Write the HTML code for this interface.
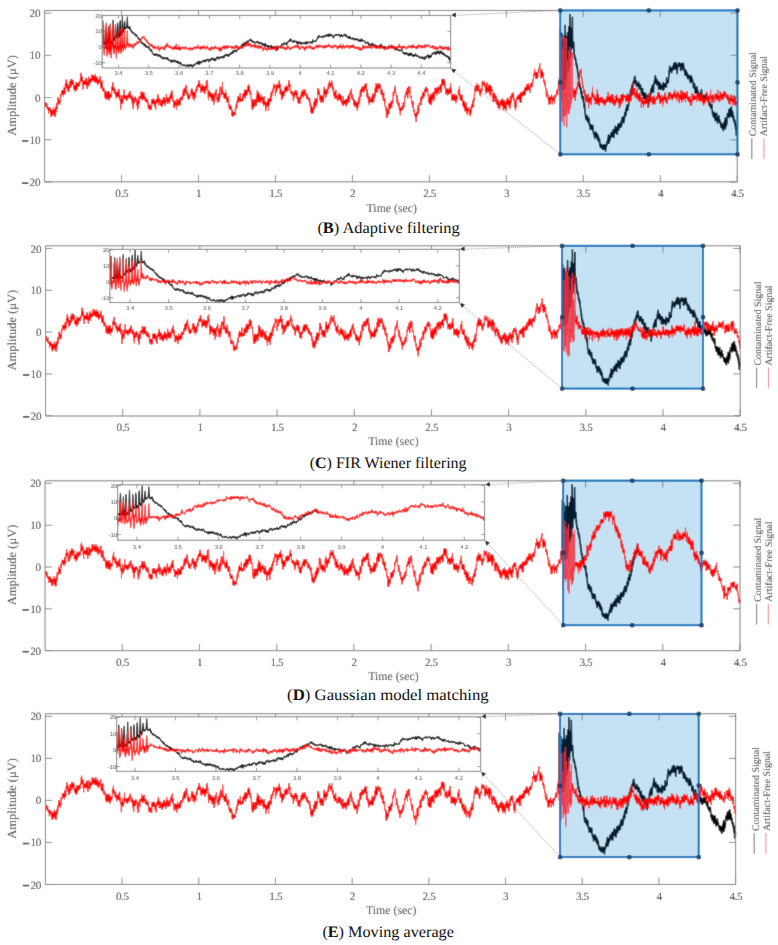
<!DOCTYPE html>
<html><head><meta charset="utf-8"><style>
html,body{margin:0;padding:0;background:#fff;overflow:hidden}
svg{display:block}
.r{fill:none;stroke:#ff0000;stroke-width:1.0;stroke-linejoin:round}
.rs{fill:none;stroke:#f2303f;stroke-width:0.8;stroke-linejoin:round}
.k{fill:none;stroke:#000;stroke-width:1.6;stroke-linejoin:round}
.ri{fill:none;stroke:#ff0000;stroke-width:1.15;stroke-linejoin:round}
.ki{fill:none;stroke:#000;stroke-width:1.15;stroke-linejoin:round}
.ov{fill:rgb(0,130,205);fill-opacity:0.23}
.ax{fill:none;stroke:#7a7a7a;stroke-width:1}
.tk{fill:none;stroke:#7a7a7a;stroke-width:0.9}
.bx{fill:none;stroke:#0072BD;stroke-width:2}
.mk{fill:#0a5290;stroke:#0b2236;stroke-width:0.8}
.iax{fill:none;stroke:#6a6a6a;stroke-width:0.9}
.itk{fill:none;stroke:#6a6a6a;stroke-width:0.7}
.dt{fill:none;stroke:#777;stroke-width:0.8;stroke-dasharray:1 1}
text{font-family:"Liberation Serif",serif;fill:#4a4a4a;text-rendering:geometricPrecision}
.yl{font-size:11.2px;text-anchor:end;fill:#262626;letter-spacing:-0.3px}
.xl{font-size:11.2px;text-anchor:middle;fill:#262626;letter-spacing:-0.4px}
.tl{font-size:12px;text-anchor:middle;fill:#3a3a3a}
.yt{font-size:12.5px;text-anchor:middle;fill:#333}
.cp{font-size:16px;fill:#111}
.lg{font-size:10px;fill:#1e1e1e}
.il,.ixl{font-family:"Liberation Sans",sans-serif;font-size:5.9px;fill:#383838;text-rendering:geometricPrecision}
.il{text-anchor:end}
.ixl{text-anchor:middle}
</style></head><body><svg width="778" height="945" viewBox="0 0 778 945"><defs><filter id="soft" x="0" y="0" width="778" height="945" filterUnits="userSpaceOnUse"><feConvolveMatrix order="3" kernelMatrix="1 2 1 2 24 2 1 2 1" divisor="36" edgeMode="duplicate"/></filter></defs><g filter="url(#soft)"><rect width="778" height="945" fill="#fff"/><g id="pB">
<path d="M559.9 91.0l.2-19.3 .1-41.8 .2 34.6 .1 23.4 .2 1.5 .1-2.2 .2-.2 .1-1.3 .2 5.6 .1-2.1 .2-39.9 .2-16 .1 44.9 .2 10.9 .1-.2 .2-2.5 .1 .4 .2-13.6 .1-30.9 .2 27.2 .1 11.5 .2 9 .1-3.9 .2-8 .2-42 .1 17.7 .2 33.1 .1-4.9 .2 6.9 .1-2.9 .2 .6 .1-1 .2-30.8 .1-29.5 .2 39.4 .1 15.1 .2-1.7 .2 1.6 .1-3.9 .2-.2 .1-12.6 .2-26.4 .1 19.6 .2 16.8 .1-1.2 .2 .4 .1-5 .2-.4 .2-34.1 .1 7.3 .2 27.7 .1 4.5 .2-7.4 .1 2.7 .2 2.3 .1-3.4 .2-34.9 .1-4.8 .2 35.9 .1 1.2 .2-3.8 .2 5.9 .1-4.8 .2-17.9 .1-28.7 .2 33.4 .1 6.6 .2 3.7 .1-1.5 .2-5.3 .1-14.7 .2-8.3 .1 13.7 .2 6.7 .2 .2 .1-3.1 .2-1.2 .1 .4 .2 .1 .1-7.3 .2-20.7 .1 16.7 .2 11.4 .1 2.1 .2-2.3 .1 0 .2 2.2 .2-3.8 .1-1.1 .2 2.2 .1 8.3 .2-4.2 .1 3.5 .2 3.1 .1 1.4 .2 1.7 .1-2.9 .2 .5 .1 3.4 .2 .3 .2 .2 .1-1.3 .2 .3 .1 5.2 .2-1.2 .1 .8 .2 1.7 .1-2.3 .2 .8 .1 4.3 .2-.6 .1-2.4 .2 2.2 .2 1.2 .1 2.9 .2 1.9 .1-.9 .2 1.8 .1 2.9 .2-1.3 .1-.5 .2 6.2 .1-3 .2 .3 .1 4.7 .2 1.6 .2 .6 .1-.3 .2-1.8 .1 4.4 .2 .7 .1-2.8 .2 1.9 .1 .6 .2 1.4 .1-1.9 .2 5.9 .1-5.2 .2 5.2 .2-2.4 .1-.1 .2 6.4 .1-5 .2 3.9 .1-1.6 .2 1.4 .1 2.1 .2-2.3 .1 .4 .2 1.3 .2 1.2 .1 2.5 .2-5 .1 3.2 .2 3.2 .1 3 .2-1.3 .1 .2 .2 3.1 .1-4.5 .2 2.1 .1 2.1 .2 3.7 .2 1.9 .1 1.7 .2-.3 .1 1.9 .2 1.9 .1 .7 .2 .2 .1-3.1 .2 1.4 .1 2.1 .2-1.5 .1-3.2 .2 3.1 .2-.4 .1 1.2 .2-2.8 .1 1.6 .2 3.2 .1 1.1 .2-2.5 .1 .2 .2-1.5 .1 1.2 .2 1.8 .1-.1 .2-3.1 .2 6.2 .1-3.1 .2 4.1 .1-1.8 .2 1.6 .1 1.6 .2-2.4 .1 4.9 .2-1.7 .1-.5 .2 1.9 .1-3.9 .2 .8 .2-.9 .1 3.7 .2-2.8 .1 1.3 .2 .7 .1 1.5 .2-.9 .1-3.1 .2 2.9 .1 1.3 .2 .8 .1-4.9 .2 2.2 .2 2 .1 .6 .2 3.2 .1-1.1 .2 .4 .1-.5 .2 1.9 .1 1 .2-1.8 .1 .8 .2 4.2 .1-4 .2-1.7 .2 4.3 .1-3.1 .2 2.5 .1-3.4 .2 3.1 .1 .7 .2-.5 .1-4.2 .2 3 .1 1.4 .2-2.7 .2 2.2 .1-2.1 .2 3.7 .1 1.6 .2-2.1 .1-1.2 .2 .9 .1-1.7 .2 5.6 .1-.6 .2 .5 .1-3.7 .2 1.6 .2 2.5 .1 .5 .2-1.7 .1 .7 .2-1.7 .1 5.2 .2-2.5 .1 4.6 .2-.7 .1 1.1 .2 0 .1 .9 .2 0 .2-1.9 .1 .3 .2-1.6 .1 3 .2-.6 .1-1.1 .2 1.6 .1 .2 .2 .9 .1 .6 .2-.4 .1-.1 .2-2.8 .2-.2 .1-.2 .2 2.9 .1 1.3 .2-.1 .1 .3 .2-4.8 .1 2.5 .2 .7 .1-3.4 .2 2.8 .1-1.6 .2-.3 .2 3.7 .1-3.8 .2 1.3 .1 1.1 .2 2.2 .1 1.4 .2-5.6 .1 2.2 .2-1.7 .1-.3 .2-1.1 .1-1.1 .2 2.2 .2-.8 .1-3.9 .2 1 .1 .1 .2-1.1 .1 .1 .2-2.2 .1 3.7 .2-1.8 .1-3.9 .2 2.5 .1-4.7 .2 8.3 .2-7.6 .1 4.4 .2 3.3 .1-5.2 .2-1.3 .1-.3 .2-.1 .1 2.6 .2 1.2 .1-1.3 .2-1.8 .2-1.6 .1 .6 .2-1.9 .1 .9 .2 1.2 .1-3.7 .2 .5 .1 4.1 .2-1.9 .1 1.5 .2-.4 .1-4.3 .2 3.1 .2 .5 .1-2.3 .2-2.2 .1 .8 .2 .2 .1-2.6 .2 1.8 .1 1.2 .2-1.1 .1 5.9 .2-3.4 .1-.2 .2-3.1 .2 .4 .1 2 .2-4.1 .1 3.3 .2-6 .1 1.6 .2 1.7 .1 .7 .2-1 .1-.3 .2 1.5 .1-3.1 .2 5.6 .2-2.3 .1-.9 .2 4.1 .1-4 .2 3.1 .1 1.2 .2-4.5 .1-2.2 .2-2.3 .1 3.5 .2-3.7 .1-.6 .2-.7 .2 2.1 .1 1 .2 3.2 .1-3.5 .2-1.4 .1 .4 .2-.1 .1 2.1 .2-3.1 .1-.1 .2 1.7 .1-2.2 .2-1 .2 2.7 .1-3.2 .2 .6 .1 4.4 .2-2.1 .1-1 .2-1.1 .1-2.8 .2 4.9 .1-4.7 .2-2.5 .1 .6 .2-1.4 .2 3 .1-3 .2 3.4 .1-1.7 .2 2.8 .1-4.4 .2 1 .1-.4 .2 4.9 .1-1 .2-3.7 .2 2.5 .1-3.6 .2-1.7 .1-2.2 .2 1 .1 .4 .2 2.3 .1-1.4 .2-1.7 .1-2.6 .2-.8 .1-1.8 .2 6.4 .2-6.7 .1 .8 .2-1.4 .1 2.8 .2-2.6 .1-2.7 .2 4.2 .1-1.8 .2 .2 .1-.5 .2 3.3 .1-4.3 .2-.7 .2 .5 .1 .5 .2-1.2 .1-5.1 .2 .6 .1-2.4 .2 3.2 .1 1.2 .2-3.9 .1 2.4 .2-5.4 .1 2.2 .2-1 .2-1.9 .1-2.9 .2-2 .1 1 .2 3.3 .1-5.2 .2 2.7 .1-3.2 .2 1.5 .1-1.6 .2-3.5 .1 2.8 .2 1.4 .2-.8 .1-.6 .2-3.7 .1 2.9 .2-.8 .1-4.1 .2 2.4 .1 .2 .2-4 .1 1.5 .2 .4 .1 1.2 .2-1 .2-2.4 .1-2.4 .2-1.2 .1 .2 .2 2.4 .1-.8 .2-2.7 .1 5.4 .2-1.5 .1 .5 .2 1.8 .1 .9 .2-2.8 .2 4.8 .1-.2 .2-.8 .1-.6 .2 2.7 .1-2.2 .2 1.1 .1-.3 .2 .3 .1 0 .2 .5 .2-2.7 .1-.4 .2 1.8 .1-2.6 .2 1.9 .1-.6 .2 1.6 .1 3 .2-3.7 .1 4.8 .2-2.1 .1 1.3 .2-2.7 .2 0 .1 .4 .2 2.5 .1-3.3 .2 .2 .1 3.4 .2 1 .1-.3 .2-.7 .1 4.3 .2-3.3 .1-.6 .2 2.7 .2 2.7 .1-5.3 .2 3.1 .1-2.6 .2-1.1 .1 6.9 .2-3.7 .1 1.8 .2-1.1 .1 2.5 .2-.9 .1 4.6 .2-3.5 .2-2.4 .1 4.5 .2-1.5 .1-1.1 .2 .3 .1 1.5 .2-1.2 .1-.5 .2 2.1 .1 3.2 .2-4.8 .1-2 .2 6.3 .2-2.1 .1 .3 .2-.2 .1 1.8 .2-2.9 .1 4.2 .2-.1 .1-1.1 .2 1.1 .1-4.9 .2-.2 .1 0 .2 2.7 .2 .6 .1 4.7 .2-2.1 .1 5.5 .2-1.7 .1-3.1 .2 1.8 .1-3.5 .2 1.9 .1-5.9 .2 1.2 .1 .1 .2-.7 .2-.4 .1-1 .2 .2 .1 1.2 .2-2.9 .1-3.6 .2 .5 .1-.6 .2-1.8 .1 2.3 .2-.4 .1 2.5 .2-2.6 .2-3.6 .1 .7 .2-1 .1-1.1 .2 4.1 .1 .1 .2 .6 .1 .5 .2-2.3 .1 1.6 .2 2.3 .2-8.1 .1 .8 .2-1.3 .1 .7 .2-1.5 .1-1.1 .2-1.4 .1 2.9 .2-5.5 .1 3.7 .2-1.6 .1-4.3 .2 3.9 .2-2.4 .1 4.4 .2-.5 .1 1.3 .2-.1 .1 1.8 .2-.2 .1-2 .2 3.3 .1-1.3 .2-4.1 .1 1.4 .2 1.8 .2 .4 .1-1.4 .2 1.3 .1-.5 .2 1.4 .1-2.3 .2 6.2 .1 1.5 .2-5.5 .1 1.1 .2-1 .1 3.4 .2-5.1 .2 2.9 .1 .1 .2 2.6 .1-1.2 .2 .2 .1-2.8 .2 5.4 .1-.1 .2-2.7 .1 1.3 .2-2.8 .1 3.2 .2-.7 .2 .4 .1-.1 .2-1.9 .1-.8 .2 .2 .1 1.9 .2-1.6 .1 .2 .2 4.3 .1-2.9 .2-4.9 .1 1.1 .2 1.6 .2 1.8 .1 1.7 .2 .5 .1-4.8 .2-.4 .1 2.1 .2-.6 .1-1 .2 .3 .1-.3 .2-.5 .1-.5 .2 3.2 .2-1.1 .1-1.2 .2 0 .1 2.8 .2-3.7 .1 3.3 .2-9 .1 4.2 .2-.7 .1-.1 .2 2.1 .2-2 .1 .5 .2 .3 .1 .1 .2-.6 .1-1 .2 1.2 .1 .6 .2-5.1 .1-.6 .2-2.8 .1-2.8 .2 1 .2 2.1 .1-5.1 .2-2.7 .1 2.8 .2-.2 .1-1.3 .2 2.7 .1-1 .2 1.4 .1-.9 .2-1 .1 .4 .2 1.2 .2-1.4 .1 .3 .2 3.3 .1-4.2 .2 1.5 .1-2.8 .2 .9 .1 1.4 .2-1.8 .1 2.6 .2-3.4 .1 .6 .2-.9 .2-1.1 .1 2.3 .2-4 .1 3 .2-.9 .1-.6 .2 2.6 .1 .9 .2-6.1 .1 6.5 .2-1.5 .1 1.5 .2-6.2 .2 3.9 .1-4.3 .2 2.4 .1-.5 .2 2.6 .1-3.5 .2 2.8 .1 1.2 .2-1.5 .1 4.2 .2-.1 .1-2.1 .2 5.5 .2-5.1 .1-.7 .2-.9 .1-1.5 .2-.6 .1 1.7 .2-1.9 .1-1.5 .2 1 .1 2 .2 .1 .1-2.1 .2 1 .2 .5 .1-1 .2 .6 .1-2.1 .2 1.5 .1 .3 .2 1.7 .1-1.9 .2 5.8 .1-3.5 .2-1.1 .2 1.7 .1-3.9 .2 3.2 .1 .4 .2 2.6 .1-3.5 .2 0 .1-.1 .2 1 .1-1 .2-1.6 .1-1.7 .2 1.1 .2 .5 .1 3.7 .2-4.6 .1 .2 .2 4 .1 1.8 .2-1.5 .1 2.6 .2-2.5 .1 3.1 .2 .1 .1-.9 .2 4.3 .2-3.7 .1-1.5 .2 4.3 .1-4.3 .2 2.3 .1-1.6 .2 2.8 .1 2.1 .2 .2 .1-.2 .2-.5 .1 .4 .2-2.9 .2 1.2 .1 3.3 .2-1.6 .1 3.3 .2-.9 .1-2 .2-.3 .1 .9 .2-1.5 .1 1.9 .2 1.9 .1-3.3 .2 1.3 .2 1.5 .1-.6 .2-1.3 .1 .7 .2 1.6 .1 3 .2-3.7 .1 2.8 .2-2.3 .1 .8 .2 3 .1 0 .2 .6 .2-1.1 .1-5.9 .2 .9 .1 5.3 .2-3 .1 1.9 .2-2.8 .1 2.9 .2-.2 .1 0 .2-.8 .1 1.2 .2 .6 .2 1.6 .1 0 .2 4.5 .1-1.6 .2 .5 .1-.3 .2-.2 .1-.1 .2-.3 .1 .2 .2-2.3 .2 5.5 .1-.4 .2-2 .1 6.6 .2-4.4 .1 3.3 .2-.5 .1-.6 .2 .5 .1-.7 .2-1.2 .1 3.2 .2-.1 .2-3.6 .1-1.2 .2-1.1 .1 3.1 .2 3 .1-1.3 .2-1.2 .1 1 .2 1.2 .1 4.3 .2-5.4 .1 .4 .2 1.2 .2 4 .1-3.3 .2 4.9 .1-5.1 .2 2.9 .1 1.9 .2-2.1 .1 3.1 .2-3.5 .1-.5 .2 2.7 .1-2.4 .2 3.7 .2-7.4 .1 2.1 .2 2.3 .1 .6 .2-7.5 .1 .2 .2 7.1 .1-4.3 .2 3.1 .1 1.3 .2 1 .1 .3 .2-2 .2 1.3 .1 2.9 .2-5.3 .1 3.2 .2 2.9 .1-2.7 .2-.1 .1-1.6 .2 2.9 .1-.2 .2 1.4 .1-.1 .2-2.2 .2 1.3 .1-3.8 .2 1.6 .1-3 .2 1.7 .1 1.8 .2-3.1 .1 2 .2 2.3 .1-.8 .2-3.2 .1 3.3 .2-4 .2 .2 .1 2.2 .2-1 .1 1.4 .2 2.3 .1 .3 .2-3.3 .1-.3 .2 5.1 .1 .1 .2-.7 .2-.6 .1 2.9 .2-3.9 .1 .5 .2 .6 .1-1.2 .2 6.2 .1-2.4 .2-.7 .1 1.8 .2 .5 .1 .3 .2 1.4 .2-2 .1 2.4 .2 .1 .1 1.3 .2-1.5 .1 .2 .2-1.6 .1 1 .2-.5 .1-1.5 .2 2.9 .1 1.7 .2 1.9 .2 3.1 .1-.9 .2-.2 .1 1.3 .2-1.6 .1 3.6 .2-3.6 .1 4.6 .2-2.9 .1-1.1 .2 3.5 .1-4.5 .2 1.1 .2 1 .1 1.4 .2-1.2 .1 4.6 .2-3.5 .1 4.7 .2 .4 .1-.2 .2-3.8 .1-3.1 .2 5.4 .1-.5 .2 1.6 .2-5.5 .1 2.4 .2-3.8 .1 4.8 .2 1.3 .1-.1 .2-1.4 .1 5.5 .2-4.9 .1 1.1 .2 1.7 .1 .9 .2-3.8 .2-.7 .1 3.3 .2-1.8 .1-3.2 .2 3.5 .1-.5 .2 2.9 .1-1.1 .2 1.2 .1-2.2 .2 2 .1 1.6 .2-.9 .2 1.9 .1-1.4 .2 2.4 .1 1.6 .2-1.5 .1 .3 .2 .4 .1-.9 .2-1.8 .1 .7 .2 4 .1-2.8 .2 .1 .2-.6 .1 3.1 .2-2.6 .1 1.4 .2 3.4 .1-3 .2 .8 .1 2.7 .2-6.7 .1 4.3 .2-.6 .2-1 .1-4.6 .2 2.3 .1-.7 .2-3.1 .1 1.5 .2-1.3 .1-2.6 .2 5.2 .1 5.4 .2-4.5 .1 1.7 .2-4.1 .2-2 .1 5.6 .2 .1 .1-3.4 .2-1.6 .1 3.1 .2-7.3 .1 .3 .2-.9 .1-2.2 .2 2.6 .1-2.3 .2 .3 .2-.1 .1 2.1 .2-.9 .1-1.6 .2-3.7 .1 3.3 .2 1.6 .1 2.8 .2-2.8 .1 .5 .2-6.4 .1 5.1 .2-.4 .2-.4 .1-4.8 .2 .4 .1 4.7 .2-.8 .1 3.3 .2 .6 .1-4.5 .2-5 .1 2.4 .2 3.7 .1-.5 .2 .4 .2-2.5 .1 5 .2 1.4 .1-5.4 .2 3.2 .1-1.3 .2 3.5 .1-1.7 .2 4.6 .1-2 .2-1.5 .1 1.6 .2 3.2 .2-1.7 .1 1.2 .2 2.2 .1-1.9 .2-.7 .1 .7 .2 4.6 .1-2.9 .2 1.1 .1 2.2 .2 3.8 .1-6 .2 2.7 .2 2 .1 6.7 .2-1.9 .1-5.7 .2 .8 .1 1 .2 1.8 .1-.7" class="k"/>
<rect x="560.2" y="10.4" width="177.3" height="143.9" class="ov"/>
<path d="M44.6 103.2l.1-.5 .2 .9 .1 .4 .2-1.5 .1 1.6 .2-1.7 .1-.4 .2 4.4 .1 .2 .2-1.4 .1 .3 .2 1.7 .2 .2 .1-4.1 .2 0 .1 4.5 .2-1 .1 1.9 .2-1 .1 1.8 .2-2.5 .1 2.4 .2-1.5 .1-.3 .2 1.8 .2 4.3 .1-4.1 .2-2.1 .1 .3 .2 2.7 .1-.4 .2 .6 .1 .3 .2-3.8 .1 4.2 .2-2.5 .1 1.2 .2 2.5 .2 .7 .1-2.5 .2 2.5 .1 3.4 .2-1.5 .1-5.8 .2 7.4 .1-5.7 .2 1.6 .1 3.4 .2-6.1 .1 1.1 .2 4 .2-4.1 .1-.5 .2 1.9 .1-1.4 .2 1.2 .1-3.8 .2-1.5 .1 5 .2-.4 .1 2.7 .2-2.9 .1 4.6 .2-.3 .2-1.3 .1-2.2 .2-3.4 .1 8.3 .2-2.3 .1-4.4 .2 6.7 .1-2.8 .2-2.1 .1-5.8 .2 2 .1 3.4 .2-2.1 .2-3.2 .1-3.5 .2 6.5 .1-3.4 .2-1.8 .1-1.1 .2 .2 .1 2.2 .2-2.1 .1-1.2 .2-5 .1 4.1 .2 2 .2-4.3 .1 2.6 .2-1.4 .1 1.5 .2-1.7 .1 3.5 .2-3.3 .1 4.2 .2 .5 .1-4.9 .2 2 .2-2.6 .1-5 .2 4.2 .1-1 .2-1.7 .1-1.5 .2 .9 .1-1.3 .2-2.2 .1-1.6 .2 2.2 .1-1.1 .2 .9 .2 1.4 .1-3.2 .2 2.9 .1-1.9 .2 3.5 .1-1.2 .2-.2 .1-2.3 .2 5.3 .1-3.8 .2-2.6 .1 4.3 .2-7.1 .2 6.2 .1-5.1 .2 5.4 .1-3.4 .2 2.4 .1 1.3 .2-7.3 .1-2.9 .2 1.8 .1 .4 .2-1.7 .1 1.3 .2-6.2 .2 3.7 .1 .9 .2 2.1 .1 0 .2 2.4 .1-6 .2 1.6 .1-.7 .2 3.4 .1 5.1 .2-1.1 .1 .2 .2 .7 .2-.9 .1-1.9 .2 2.6 .1-1.4 .2-4.9 .1 3 .2 1.9 .1-3.5 .2-5.6 .1 5.7 .2-3.4 .1 1 .2 3.6 .2-6 .1 .5 .2 .7 .1 .4 .2-4.6 .1 .8 .2 1.2 .1 3.3 .2 2.1 .1-7.4 .2 3.1 .1-2.4 .2 2.2 .2 2.4 .1-.1 .2-2.6 .1 2.9 .2-.7 .1-1.1 .2-2.2 .1 2.8 .2 3.5 .1 1.8 .2 1.1 .2-4.7 .1 .5 .2 3.1 .1-2.5 .2-.2 .1 0 .2 1 .1 3.1 .2-4.8 .1 6.7 .2-3.5 .1 .4 .2-3.1 .2-2.5 .1-1.1 .2 6 .1 1.7 .2-3.6 .1 4.2 .2-4.4 .1-2.5 .2 4.3 .1 .3 .2-4.8 .1 .9 .2 .3 .2-1.6 .1 1.3 .2 .8 .1-2.7 .2 2.7 .1 1.6 .2-3.7 .1-.7 .2 1.4 .1 2.3 .2-4.4 .1 1.2 .2 1.1 .2-2.8 .1-.1 .2-2.2 .1-1 .2-3.5 .1 7.5 .2-8.9 .1 3 .2 1.3 .1 4.1 .2-2.3 .1-2.6 .2 1.1 .2 .1 .1 3 .2-3.8 .1 3.2 .2 5 .1-1.5 .2 2.9 .1 3.1 .2-6.3 .1-2.6 .2 1.9 .1 1.7 .2 .5 .2-4.2 .1 2.5 .2-1.8 .1 3.1 .2-.8 .1-.3 .2-.2 .1-1.2 .2 3.1 .1-3.8 .2 3.4 .1-6.5 .2 4.4 .2-3.4 .1 2.3 .2 4.4 .1-7.7 .2 1.2 .1 4.7 .2-2.8 .1 2.6 .2 5.4 .1-6.1 .2 0 .2 .5 .1 1.5 .2-.7 .1-1.6 .2-4.3 .1 1.1 .2 .6 .1-3.4 .2 8.4 .1-1.8 .2 3.2 .1-7.4 .2 1.5 .2 1.7 .1 .7 .2-.2 .1-2.3 .2 2 .1 .7 .2-2.6 .1-1.8 .2-.7 .1 1.7 .2 2.5 .1-1.1 .2-6.6 .2 4.9 .1-1.1 .2 1.6 .1 .1 .2-1.2 .1 .4 .2 1.7 .1-1.7 .2-2.4 .1-2 .2 3.6 .1-1.5 .2 2.6 .2-2.9 .1 4.6 .2-2.8 .1 .9 .2 2.8 .1 0 .2-5.3 .1-.2 .2 3.1 .1-3.7 .2-1.5 .1 5.3 .2 2.1 .2-.7 .1-3.4 .2 5.2 .1 0 .2-6.1 .1 4.3 .2-4.1 .1 .6 .2 3.7 .1-.8 .2-3.8 .1 6 .2 2.3 .2 0 .1-1.4 .2-4.3 .1 1.2 .2 3.3 .1-1.8 .2-.6 .1-1.7 .2 3 .1 .3 .2-.8 .1-.5 .2-1.5 .2-2.5 .1 1.7 .2-.2 .1-3.2 .2 3.7 .1 1.8 .2 5.5 .1-5.4 .2 6.7 .1-1.7 .2-2.7 .2-1.5 .1 3.2 .2 2 .1-.8 .2 .8 .1-4.8 .2-2.3 .1 3.9 .2 2.6 .1 3.8 .2-3 .1-.4 .2 3.7 .2-3.5 .1 3.9 .2-3.3 .1-.1 .2 .9 .1 .3 .2 .5 .1 .8 .2-.1 .1 3.1 .2 4.2 .1-1.1 .2-4.3 .2 1.4 .1-2.3 .2-.6 .1 7.2 .2 1.4 .1-3.1 .2 .1 .1 .5 .2-3.5 .1 3.3 .2 .3 .1-1.7 .2-4.4 .2 2.7 .1 5.5 .2-6.2 .1 1.9 .2-.3 .1 2.6 .2-.7 .1 1.3 .2-6.9 .1 4 .2-3.8 .1 8.2 .2-1.8 .2 3.1 .1-4.6 .2-2.7 .1 4.7 .2-4.4 .1 .2 .2 3.3 .1-.7 .2 .1 .1-2.1 .2 1.1 .1 1.9 .2-3.3 .2 1.5 .1-1.1 .2-3.8 .1-4.2 .2 3.5 .1-2.6 .2 1.3 .1 2 .2-6.1 .1 3 .2-5.4 .1 6.2 .2 .8 .2-.5 .1 1.5 .2-2.6 .1 1.9 .2-2.1 .1 1.4 .2 4.8 .1-3.4 .2 .7 .1-1.4 .2 2 .1-2.4 .2 4.7 .2-2.1 .1 3.3 .2 .9 .1-3.5 .2-.7 .1 6.4 .2 .3 .1-1.4 .2-.5 .1-4.4 .2 3.7 .2-.3 .1-3.1 .2 3.9 .1-2.2 .2 .4 .1 1.1 .2 1 .1-6.3 .2 5.2 .1 1.3 .2 .5 .1-2 .2-2 .2-4.5 .1 6.6 .2 2.1 .1 .6 .2 1.3 .1-4.8 .2 1.2 .1 2.8 .2 2.8 .1 .3 .2-2.8 .1 10.4 .2-6.2 .2 .8 .1-4.6 .2 4 .1-3.3 .2 1.4 .1 .1 .2-6.3 .1 1.3 .2 2.8 .1 .5 .2 4.2 .1-2.6 .2-1.2 .2-1.2 .1 .3 .2 1.8 .1-3.8 .2-2 .1-3.5 .2-2.4 .1 5.3 .2 2.3 .1-1.4 .2 2.1 .1 1.2 .2-3.4 .2 3.1 .1-1.7 .2 1 .1-2.8 .2 1.5 .1 .3 .2 1.9 .1-.3 .2 1.5 .1-1.6 .2-2.2 .1 4.5 .2-5.3 .2 4.7 .1-1.5 .2-1.9 .1 2.9 .2-4.8 .1 2 .2-.3 .1 1.7 .2-4.2 .1 1.7 .2-2 .1 1.8 .2-1.3 .2 3.6 .1-5.3 .2-.2 .1-.8 .2 1 .1-1.7 .2 3.4 .1-2.3 .2 3.2 .1-.6 .2 1.5 .2 2.9 .1-1.9 .2-.2 .1-.4 .2 1.9 .1 2 .2-5.4 .1 .1 .2 1.4 .1 3.2 .2 3.8 .1-6.3 .2 4.8 .2 4.1 .1-4 .2 5.2 .1 1.8 .2-4.7 .1-4.3 .2 2.9 .1-.7 .2-4.8 .1 2.8 .2 2.9 .1-3.1 .2 2.7 .2-1.3 .1-3.1 .2 1.1 .1 .4 .2-3.4 .1 4 .2-1.6 .1-.6 .2 .4 .1-.7 .2 0 .1 1.4 .2-.3 .2 6.6 .1 .3 .2-5.5 .1 2.9 .2 1.7 .1 5.1 .2-5.2 .1 1.3 .2 .3 .1 1.8 .2-6.5 .1-2.6 .2 1.1 .2 2.4 .1-3.8 .2-2.8 .1 8 .2-3.7 .1-.7 .2-1.4 .1-1.4 .2-.3 .1 1.2 .2-.4 .1-1.6 .2 2.4 .2 .3 .1-1.8 .2-5.4 .1 6.5 .2 .3 .1-1.9 .2-2.1 .1 4 .2-1.7 .1 3.9 .2-3.4 .1-1.7 .2-1.5 .2-1.7 .1 7.2 .2-1.3 .1-1.8 .2 1.6 .1 .7 .2-6.6 .1 3.1 .2-1.3 .1 3.2 .2-1.5 .2 2.7 .1-1.1 .2 3.7 .1-.7 .2-2.1 .1 1.2 .2-2.5 .1 .9 .2 4.3 .1-2.4 .2 2 .1-2.4 .2 3.2 .2-.6 .1-1.3 .2-.6 .1 .3 .2 3 .1-1 .2-3.8 .1 2.3 .2 2 .1-1.3 .2 1.3 .1 4.2 .2 2.3 .2-.8 .1-4.4 .2 3.4 .1-.8 .2-1.1 .1-.6 .2 2.2 .1-1.7 .2 4.2 .1 .5 .2 .3 .1-5.2 .2 2.6 .2 1.9 .1-3.9 .2 1.1 .1-1.6 .2 4.5 .1 .2 .2-2 .1-8.6 .2 2.5 .1 1.9 .2-2 .1-2.3 .2 4 .2 1 .1-2.5 .2 1.4 .1-1.5 .2 2.5 .1-5.6 .2 3.3 .1 .5 .2-3.1 .1 4.8 .2-4.4 .1 3.4 .2-1.6 .2 .9 .1 1 .2 3.6 .1-6 .2 .9 .1 2.3 .2-.1 .1 .1 .2 5.4 .1-7.4 .2 1.4 .1-3.9 .2-.4 .2 2 .1 1 .2-2.6 .1 .3 .2-1.2 .1 .3 .2 3.4 .1-5.4 .2 3.6 .1-6.4 .2 1.4 .2 1.4 .1-1.2 .2 4.2 .1 2.3 .2 2.9 .1-2.5 .2-4.8 .1 .5 .2-.3 .1 .3 .2 3.1 .1-2.7 .2 3.2 .2-.1 .1 2.8 .2-.7 .1 .9 .2-.2 .1 1.1 .2-1.8 .1-3.8 .2 4.9 .1 1.5 .2-2.6 .1 .5 .2 2.3 .2-2.5 .1-3.6 .2 1.8 .1 2.2 .2-5.8 .1 5 .2-3.5 .1 1.1 .2-4.7 .1 5.6 .2-2.3 .1-1.2 .2 .2 .2-.8 .1-.9 .2 6.6 .1-4.8 .2 1.8 .1-1.2 .2 .4 .1 2.7 .2 3.2 .1-5.7 .2 2.9 .1-2.6 .2-1.8 .2-1 .1-3.9 .2 4.6 .1 2.6 .2 .1 .1-.6 .2-.7 .1-2.9 .2 .9 .1 5.9 .2-3.5 .1 2.8 .2-1.3 .2-.3 .1-1.6 .2 1.1 .1-3.6 .2 2.3 .1 1.7 .2 1 .1 .7 .2 .4 .1-.8 .2-4 .1 2.2 .2-5.8 .2 2.6 .1 .9 .2-.9 .1-2.1 .2-1.7 .1 .8 .2-2.2 .1 1 .2-.7 .1 5.5 .2-1.4 .2-3.7 .1-3 .2 8.4 .1-3 .2 3.6 .1-3.7 .2 5.7 .1-1 .2-.8 .1 .5 .2 2.1 .1 0 .2 5.5 .2-2.2 .1-1.8 .2-1.9 .1 2 .2 3.6 .1-4.4 .2-2.2 .1-.2 .2 .9 .1 2.4 .2-.9 .1 1 .2 1.3 .2-1.9 .1-1.8 .2 4.6 .1 0 .2 3.5 .1-5.4 .2 1.8 .1-1.4 .2-6.1 .1 2.5 .2 3.1 .1-1.7 .2-1.2 .2 .8 .1 3.3 .2 .4 .1-2.6 .2-.7 .1 .2 .2-2.4 .1 0 .2-.9 .1 5 .2-1.1 .1-3.4 .2 4 .2 1.6 .1-2.7 .2-5.7 .1 7.3 .2-4 .1-2.6 .2-.2 .1 .5 .2 .1 .1 1.6 .2-.2 .1 .6 .2-.4 .2-1.8 .1-1.6 .2 3.8 .1-3.3 .2-2.5 .1 1.4 .2-2.2 .1 3.9 .2-4.6 .1-3 .2 1.3 .1 3.7 .2-4.6 .2 2.5 .1 .1 .2-4.6 .1 7.4 .2-3.8 .1 3.6 .2-3.9 .1 .7 .2 .9 .1-3 .2-3.8 .1-.3 .2 .3 .2 1.6 .1 3.7 .2-6.8 .1 1.5 .2 2.7 .1 1.1 .2 .5 .1 3.1 .2 1.3 .1-1.9 .2-1.4 .2 6 .1-4.2 .2 5 .1-.5 .2-4.7 .1 2 .2 4 .1-2.4 .2-.7 .1-.5 .2 3.5 .1-3 .2-1 .2 3.2 .1-3.2 .2 1 .1 .3 .2-1.2 .1-1.1 .2 .4 .1 .6 .2 .2 .1-4.1 .2 .3 .1-2.3 .2 0 .2 2.9 .1-4 .2 6.2 .1-5.3 .2 3.8 .1-3.7 .2 .1 .1 9.2 .2-1.2 .1-5 .2-1.1 .1 .8 .2 2.8 .2 1.1 .1-1.4 .2 1.2 .1-2.8 .2 7.3 .1-6.6 .2 3.4 .1-5.1 .2 .3 .1 .9 .2-.8 .1 3.3 .2 1 .2 1 .1-5.2 .2-2.5 .1-1 .2 1.4 .1-2.1 .2 3.2 .1 .7 .2-1.8 .1-4.2 .2 3.9 .1-2.7 .2-2.3 .2-.4 .1 2.3 .2-3.1 .1 3 .2-2.6 .1 2.9 .2-3.3 .1-1.1 .2 2.1 .1-4.7 .2 4.2 .1-3.2 .2 3.3 .2 2.8 .1-.9 .2-.7 .1-2.1 .2 1.6 .1 1.8 .2 2.5 .1-1.2 .2 4.4 .1-4.6 .2 2.4 .2-.5 .1-1.8 .2-2.3 .1 2.9 .2-.1 .1-1.2 .2 3.6 .1-2.9 .2-3.8 .1 7.1 .2-5.3 .1 3.9 .2-3.1 .2 1 .1-1 .2 1.1 .1-2.3 .2 4.9 .1-.4 .2 2.9 .1-5.4 .2 1.1 .1-1.3 .2 1.6 .1-2.5 .2 7 .2-4.7 .1-3.2 .2 4.8 .1 .5 .2-2.5 .1 1.3 .2-5.3 .1-3.5 .2 1.4 .1 5.1 .2-1.3 .1-2 .2-4.4 .2 4.3 .1 .6 .2-.2 .1 3.2 .2 2.7 .1 3 .2 4.2 .1-.2 .2 2.7 .1-8.5 .2 1.8 .1-2.7 .2-.1 .2 1.6 .1 4.4 .2-4.4 .1-.9 .2 4.8 .1-1.4 .2-2.6 .1 4.5 .2-4.4 .1 5.9 .2-1 .1-2.6 .2-1.5 .2 1.7 .1 .1 .2 2.3 .1-2.9 .2 7 .1-6.4 .2 2 .1-.8 .2-.7 .1 3.6 .2 .2 .1-5.6 .2 2.8 .2 3.1 .1-5.7 .2 1 .1 10.2 .2-5.9 .1-4 .2 3.7 .1 1 .2 1.7 .1 .6 .2-2.5 .2-3.6 .1-4.1 .2 1.1 .1 2 .2 .8 .1-1.7 .2-.2 .1-2 .2-2.7 .1 2.2 .2 1.3 .1 2.8 .2 0 .2 2.4 .1 1.9 .2-2.1 .1 4.9 .2-5.5 .1 .8 .2 .9 .1-1.1 .2-.1 .1-3 .2 4 .1-5.2 .2 4.8 .2 3.9 .1-4.3 .2 2.4 .1-5.7 .2-4.3 .1 3.6 .2 3.6 .1-4.5 .2-6.3 .1 1.5 .2 1.1 .1 0 .2-1.7 .2 1.1 .1 1.2 .2 .3 .1-.4 .2 2.2 .1 3 .2-2.6 .1-.6 .2-4.8 .1 .8 .2-5.9 .1 8.9 .2 .4 .2 3.5 .1-2.6 .2-.6 .1 .6 .2 1.5 .1 2.6 .2 1.6 .1-4.6 .2 2.1 .1 2.8 .2 1.1 .1-2.7 .2-2.6 .2 3.2 .1-1.1 .2 2.6 .1-2.8 .2-5.6 .1 6 .2-3 .1-.2 .2 1.9 .1 4.2 .2-.8 .1-1.6 .2 .1 .2 5.3 .1-3.9 .2 4.6 .1-.6 .2-2.4 .1-1.5 .2 .8 .1 2.1 .2-4.5 .1 1.3 .2 .1 .2 2.6 .1 6.1 .2-.8 .1-1.8 .2 4.9 .1-2.1 .2 2.3 .1-.9 .2 1.4 .1-.7 .2 .7 .1-3.7 .2-.4 .2 2 .1 .7 .2-.9 .1-1.5 .2 1.8 .1 1.7 .2-1.6 .1 4.6 .2 3.1 .1-1.8 .2 2.4 .1-2.7 .2-3.2 .2 3 .1 3.5 .2-3 .1-2.1 .2 2.7 .1 1.5 .2-2.8 .1-.6 .2-.2 .1 .4 .2 1.3 .1-.5 .2-1.4 .2 .8 .1 2.4 .2-.9 .1-1.1 .2 2 .1-6.6 .2 2 .1 .5 .2-4.8 .1-.8 .2 .6 .1-2.5 .2 1.3 .2-1.3 .1 4.6 .2-4.8 .1-2.4 .2 1.7 .1-2.2 .2-2.9 .1 3.2 .2 2 .1-6.8 .2 6 .1 .6 .2-4.1 .2-.1 .1 .2 .2-.6 .1 3.1 .2-1.3 .1-1.4 .2 1 .1 .8 .2-2.5 .1 2.7 .2-7.4 .1 9 .2-3.2 .2 2.5 .1 .4 .2-1.1 .1-.9 .2-.1 .1 1.1 .2 1.2 .1-1.5 .2-1.9 .1 1.1 .2-.7 .2 1.4 .1-4.1 .2-2.1 .1 3.8 .2 2.2 .1 1 .2-.8 .1-6 .2 3.9 .1-5.2 .2 1.9 .1-2.6 .2 2.9 .2 2 .1-1.4 .2-5.8 .1 .2 .2 2.4 .1 1.1 .2-4.6 .1 9.4 .2-3.6 .1 1.2 .2-1.4 .1-4.1 .2 .5 .2-1.1 .1 5.3 .2-4.7 .1 4.5 .2-4.6 .1-.8 .2 4.8 .1-4.6 .2-.9 .1-3.1 .2 4.6 .1-.2 .2 1.5 .2-7.3 .1 .6 .2 4.7 .1-.8 .2 1.4 .1-2.1 .2-2.6 .1 4.2 .2-2.1 .1 3.6 .2 3 .1-3.9 .2 2.9 .2-1.3 .1 .4 .2 .1 .1 .5 .2 .4 .1 5 .2 1.5 .1-.3 .2 2.8 .1 3.2 .2 1.4 .1-1.2 .2 3.7 .2-2.1 .1-.3 .2-3.5 .1 .7 .2-5 .1 9.7 .2-.1 .1-5.5 .2 1 .1-1.3 .2-3.9 .1 6 .2 1.7 .2-1.3 .1-3 .2 0 .1 4.3 .2-.5 .1-5.5 .2-1.5 .1 3.4 .2-2.4 .1-.3 .2 3.3 .1-2.4 .2-2.4 .2 3.8 .1 3.4 .2-5.9 .1-4.4 .2-1 .1 7.9 .2-12.2 .1 7.8 .2-4.5 .1-1.7 .2 .5 .2 .7 .1 2.6 .2-2 .1 3.5 .2 4.5 .1-9 .2 5.7 .1-3.7 .2 8.1 .1-6.4 .2-.2 .1 .7 .2 2.6 .2 2 .1-3.6 .2 5.2 .1-.6 .2-3.3 .1-.2 .2-2.3 .1 1.7 .2-3.7 .1 2.3 .2 2.7 .1-3.1 .2 1.5 .2 2.4 .1-3.6 .2 4.8 .1-.4 .2 2.7 .1-2.1 .2-3.1 .1 4 .2 .5 .1 1 .2 1.4 .1-1.3 .2-5.3 .2-2.8 .1 4.3 .2 2.1 .1-2 .2 4.3 .1-2.9 .2 1 .1-1.9 .2 3.2 .1 3.1 .2-1.3 .1 5 .2-2.3 .2-.9 .1-4.2 .2 3.6 .1-3.8 .2-1.5 .1 3.5 .2-1 .1 .7 .2-2 .1-1.3 .2 .9 .1 2.5 .2-6.2 .2 7.3 .1-3.3 .2 4.2 .1 3.2 .2-12.6 .1 1.6 .2 6 .1-5 .2 1.5 .1-1.9 .2 3.4 .1-.8 .2-4.9 .2 3.4 .1-2 .2 .6 .1-5.2 .2 4.7 .1-2.5 .2 4.7 .1-4.8 .2-5.2 .1 5 .2-2.3 .2 1.3 .1 .3 .2-2.9 .1-.1 .2 .2 .1-4.3 .2 1.9 .1 1.9 .2-.1 .1-2.7 .2-.6 .1-2.6 .2-2.8 .2 1.3 .1 1.4 .2-.5 .1 2.2 .2-.2 .1 .3 .2-1.7 .1-1.5 .2-.4 .1 3.4 .2 .8 .1 7.4 .2-4.7 .2 1.7 .1-4 .2 2.8 .1-3.1 .2 2.5 .1-1 .2-6 .1 6 .2-5.5 .1 .3 .2 .7 .1-.4 .2-.7 .2 3.7 .1-1.9 .2 .8 .1-1.6 .2-1.6 .1-1.7 .2 .4 .1 .5 .2 3.8 .1-5.7 .2-1 .1 3 .2 4.6 .2-.9 .1-.9 .2 1.8 .1 5.9 .2-5 .1-4.8 .2 10.3 .1-4.5 .2 1.7 .1 .8 .2-3 .1 10.5 .2-1.8 .2-2 .1 3.2 .2-.6 .1-2.9 .2 .2 .1-4.2 .2 5.2 .1-6.2 .2 5.5 .1-4.6 .2-.2 .1 5.4 .2-2.6 .2 1.6 .1-1.1 .2-4.6 .1 4 .2-.7 .1-5.1 .2 1.6 .1-3.4 .2 2.6 .1 2.1 .2-2 .2-2.3 .1 1.1 .2 1.8 .1 .9 .2 1.3 .1-1.4 .2-5.4 .1 3.8 .2 2.3 .1-1.8 .2-3 .1-.2 .2 2.4 .2-.6 .1-1 .2 2 .1 1.4 .2-4.1 .1 .5 .2-2.2 .1-1.6 .2 .1 .1 2.1 .2-5.4 .1 5.2 .2 1.5 .2-2.9 .1-.4 .2 2 .1-.2 .2-1.1 .1 5.7 .2-.7 .1 3.3 .2-2.1 .1 3 .2-1.6 .1 .4 .2 1.1 .2 .6 .1-3.2 .2 2 .1-1.1 .2 .3 .1 3.4 .2 .5 .1-2.9 .2 1.3 .1 .8 .2-2 .1-1 .2 8.8 .2-3.3 .1 1.4 .2-1 .1-1 .2 .7 .1-3 .2 1.7 .1-1.8 .2-2 .1 2.6 .2-2.9 .1-2.3 .2 2.3 .2 1.1 .1-.7 .2 2.1 .1-1.6 .2-2 .1 5 .2-1.6 .1-4.2 .2 3.9 .1 1.4 .2 2.9 .1-1.4 .2 .9 .2-5.9 .1 6.3 .2 1.3 .1 2.1 .2 1.3 .1-.5 .2 .1 .1-5.3 .2 3 .1-2.7 .2 2 .2-1.8 .1 6 .2-2.7 .1-.3 .2-.5 .1 3.3 .2-7.1 .1 2.8 .2-1.9 .1-1.5 .2 1.4 .1-2.6 .2 4 .2-4.1 .1-2.5 .2 1.1 .1 1.2 .2 .9 .1 1 .2-3.3 .1-2.2 .2 4.5 .1-5.9 .2 3.9 .1 1.1 .2-3.2 .2 4 .1 2.1 .2-2 .1-2 .2 .6 .1-2.5 .2-1.5 .1 5.4 .2-5.5 .1 3 .2-2.7 .1-.9 .2 1 .2-.1 .1 2.3 .2-.4 .1 .5 .2 .1 .1 1.8 .2-.5 .1 2.5 .2-2.1 .1 4.4 .2-5.6 .1 4.1 .2 .5 .2 .2 .1-2.5 .2 1.3 .1-1.9 .2 3.6 .1-1.3 .2 .8 .1 2.3 .2-3.3 .1 2.7 .2-2 .1 1.4 .2 .7 .2-.6 .1 2.7 .2-2.7 .1-.3 .2-.7 .1 7.4 .2-3.1 .1-.7 .2 4.9 .1-.3 .2 5.8 .1-7.3 .2 3.7 .2-2.6 .1 6.6 .2-3.6 .1-.1 .2 1.1 .1 4 .2-1.7 .1-4.3 .2 5.5 .1-1.8 .2 .2 .1 .7 .2-3.8 .2-2.4 .1 4.3 .2 1.4 .1-8.1 .2-.5 .1-.9 .2-1 .1 6 .2-2 .1 1.6 .2 1.8 .2-7.4 .1 3.3 .2-6.9 .1 5.6 .2 .9 .1-3.9 .2-2.2 .1 2.1 .2 5.8 .1-6.3 .2-1.3 .1 5.6 .2 .3 .2-4.5 .1-.4 .2 2.6 .1-3.3 .2 1 .1-6.4 .2-.5 .1-4.9 .2 2.3 .1 3.8 .2-3.1 .1-2.1 .2-.3 .2 .7 .1 3.9 .2 1.5 .1-3.3 .2 5 .1 3.1 .2-5.2 .1 3 .2-1.7 .1 4.2 .2 .4 .1-.5 .2-1.2 .2-.6 .1 4.6 .2-7.1 .1 4 .2 .9 .1-5.3 .2 .7 .1 5.3 .2-5.7 .1 5.4 .2-.1 .1-.7 .2-3.1 .2 4.3 .1-3.7 .2 4.9 .1-4.6 .2 5 .1-5.6 .2-7.5 .1 1.4 .2 .8 .1-5.2 .2 3.1 .1 2.2 .2-3.5 .2 6.2 .1-5 .2 1.3 .1 5.5 .2 1.5 .1-3.1 .2-1.6 .1 3.6 .2-6.1 .1 3.6 .2-2.8 .1 .5 .2-.5 .2-2.8 .1 3.6 .2-2.7 .1 .7 .2 3 .1 .5 .2-2.5 .1-4 .2 1.5 .1-2.7 .2-2.9 .2 .1 .1-.1 .2 4 .1 1.3 .2-6.3 .1-.3 .2-1.8 .1 3.9 .2-1.2 .1 1.2 .2-1.4 .1 .5 .2 .9 .2 1.7 .1-.8 .2-1.5 .1 3.6 .2-4.6 .1 2.1 .2-1.3 .1 .9 .2-.1 .1-3.7 .2 4.8 .1 3.3 .2 .7 .2-.1 .1-3.8 .2 3.6 .1-1.4 .2 3.7 .1-3.4 .2 3.8 .1-3.3 .2 7.4 .1-3.6 .2 1.3 .1 2.2 .2-4 .2 3 .1 4 .2-6.1 .1 2.3 .2 .9 .1 1.6 .2-5.2 .1 3.4 .2-5.8 .1 .7 .2 6.7 .1-1.6 .2 2.4 .2-.3 .1 0 .2 1 .1-3.4 .2 2.6 .1 2.4 .2 .7 .1-1.5 .2 1 .1-1.5 .2-.4 .1 1 .2-1.2 .2-1.3 .1-4 .2 1.2 .1 1.5 .2 2.9 .1-4.7 .2 4.1 .1 1.7 .2-1.4 .1-1 .2-2.9 .1 4.1 .2-4.1 .2 4.1 .1-.8 .2 4 .1-6.5 .2 5.2 .1-.7 .2-1.4 .1-.9 .2 4.2 .1-.3 .2 2.7 .2-2.7 .1 1.4 .2 .8 .1 2.3 .2-1.8 .1-1.3 .2-4.1 .1-2.6 .2 9.5 .1-5.1 .2 2.4 .1-1.4 .2 1 .2 .2 .1 1 .2-3.6 .1 1.9 .2 1.8 .1-2 .2 1.9 .1 1.1 .2-6 .1 2.9 .2 1.3 .1-2.3 .2 .5 .2 5.3 .1-1.9 .2-5.6 .1 1.5 .2 4 .1-.8 .2-.6 .1-.3 .2-.9 .1-5.6 .2 4.7 .1 .9 .2-5.9 .2 4.1 .1-1.8 .2-1.6 .1-1.9 .2 5.1 .1 .9 .2 1.8 .1-8.5 .2 1.4 .1 5.1 .2-4.3 .1-3.2 .2 .4 .2-2.7 .1 0 .2 2.4 .1-.9 .2 2.3 .1-2.8 .2 .9 .1-4.1 .2 5.1 .1 5 .2-2.4 .1-2.6 .2 3 .2-1.3 .1 1.8 .2-1.9 .1 2.3 .2 2.7 .1-2.4 .2 1.2 .1-.7 .2 3.5 .1 .6 .2-2.9 .1 5.4 .2-5.2 .2 .8 .1 4.7 .2-1.3 .1 2.7 .2-5.2 .1-.5 .2-.4 .1 5.5 .2-.2 .1-1.6 .2-2.3 .2 1.8 .1-1.4 .2 2.7 .1-.3 .2-1.8 .1-.3 .2 5.7 .1-4.7 .2 .6 .1 6.6 .2-1.1 .1-5.6 .2-.8 .2 3.9 .1-6.4 .2 2.7 .1-.6 .2-6.3 .1 4.6 .2 .5 .1-2.7 .2 4.8 .1-2.1 .2-3.1 .1 2 .2-.3 .2-7.5 .1-.6 .2-2.2 .1 2.4 .2 .6 .1-3.9 .2 4.3 .1-3.9 .2 7.1 .1-5.4 .2 .8 .1-2.5 .2-1.8 .2-1.4 .1 4.9 .2-2.3 .1 1.5 .2-1 .1 1.6 .2-1.4 .1 1.8 .2-3.6 .1-.5 .2 1.9 .1 3.3 .2-.8 .2-5.8 .1 4.5 .2-4.7 .1 3.4 .2 .5 .1 .1 .2-5.4 .1-.6 .2 3.5 .1 .1 .2-3.2 .1 2.7 .2-3.2 .2 4.3 .1-1.1 .2 3.5 .1-7.4 .2 8.8 .1 4.9 .2-4 .1 .8 .2-4.4 .1 7.7 .2-1.4 .1-1.7 .2-.9 .2 6.1 .1-2 .2 2.3 .1 1.5 .2 .1 .1-.9 .2 2.4 .1-6.5 .2 8.7 .1-4.8 .2-1.1 .2 3.6 .1-.4 .2 0 .1-2.4 .2 .4 .1 1.1 .2-1.9 .1 3 .2-1.3 .1 1 .2-4.4 .1 3.1 .2 .2 .2-3.9 .1 .1 .2 6.1 .1-3.5 .2 2.3 .1-6.4 .2-2.3 .1 6.3 .2 2.5 .1 .6 .2-4.4 .1 1.4 .2-1.4 .2 3.4 .1-6.8 .2 2.9 .1-.4 .2-2.6 .1-1.1 .2 4.7 .1-1.1 .2-3.8 .1-2.7 .2-3 .1 8.6 .2-4.3 .2-1.8 .1-.1 .2-.2 .1-6.6 .2 3 .1 .9 .2 .2 .1-2.4 .2 7.7 .1-7 .2 2 .1-.5 .2 2.9 .2 1.8 .1-4.3 .2 1 .1-4.2 .2 3.3 .1-4.6 .2 1.9 .1-1.3 .2-.3 .1 1 .2 .2 .1 .4 .2 1.3 .2 0 .1 2.9 .2-2.6 .1 2 .2-1.9 .1-2.2 .2 2.4 .1 1.6 .2 3.5 .1-.8 .2 3.7 .1-3.9 .2 1.5 .2-3.4 .1 2.3 .2-.4 .1-.3 .2 4.3 .1-1.2 .2 3.6 .1-4.2 .2 3.8 .1 .4 .2 3 .1-.2 .2-1.5 .2-6.2 .1 8.2 .2-1.8 .1 0 .2 2.4 .1 .2 .2-1.8 .1 3.8 .2-4.8 .1 7.7 .2-.4 .2-.5 .1 2.8 .2-.4 .1 .7 .2 1.6 .1 1.3 .2 .4 .1 5.9 .2-6.1 .1-4.4 .2 4.7 .1 .6 .2 5.2 .2-3.1 .1 .4 .2-1.6 .1-3.2 .2 3.9 .1-2.1 .2 2.5 .1-4.9 .2 .1 .1 3.9 .2-3.5 .1-6.8 .2 6.3 .2-.9 .1 .1 .2-3.3 .1-2.1 .2 3.3 .1 2.2 .2 .1 .1-3.8 .2 2.4 .1-5.2 .2-.8 .1 4.6 .2-2.4 .2-1.2 .1-1.3 .2 6.4 .1-6.9 .2 3.1 .1-1 .2-2.2 .1-1.1 .2 1.3 .1 2.5 .2-2.3 .1-5.6 .2-3 .2 2.9 .1-1.4 .2 1.8 .1-2.8 .2-1.7 .1 1.7 .2-.6 .1-3 .2 0 .1 1.6 .2-2.4 .1 2.1 .2-4.9 .2 3.7 .1 2.1 .2 .5 .1 1.2 .2 1.3 .1 1.5 .2 .1 .1-.3 .2 .7 .1 5.9 .2-2.9 .1-1.3 .2-2.7 .2 2 .1 2 .2-.5 .1 2.5 .2 3.1 .1-2.5 .2 .5 .1 3.3 .2-3.6 .1 4.2 .2-3.7 .2 4 .1 2 .2 1.3 .1 .4 .2-4.1 .1 .4 .2 .4 .1 3 .2 4.9 .1-6.4 .2 3.5 .1-4.1 .2-.3 .2 .7 .1 2.1 .2-.2 .1-.2 .2 .4 .1 .3 .2-.6 .1-4.3 .2 1.8 .1-1.9 .2 3.7 .1-1.1 .2-.2 .2-2.6 .1-3.3 .2 2.7 .1 .6 .2 2 .1-5.4 .2 3.1 .1 1.1 .2-3.4 .1-1.6 .2-.7 .1 .8 .2-6.2 .2 .1 .1-.6 .2 2.3 .1 0 .2-1 .1-3.2 .2-1.4 .1 1.4 .2 1.3 .1 .5 .2-.7 .1 .9 .2-5.2 .2 .8 .1-2.9 .2 2.4 .1 3.5 .2 .3 .1 4.4 .2-6.2 .1 .9 .2-3.7 .1-.7 .2-1.1 .1-.7 .2 .3 .2-1.2 .1 4.9 .2 1 .1 1.2 .2-6.8 .1 1.9 .2 .9 .1 5.4 .2 .2 .1 .7 .2 .3 .1 1.4 .2-.6 .2 1.4 .1-2 .2 3.4 .1 1.5 .2-.4 .1 2.4 .2-1.4 .1 3.2 .2-.1 .1 1.4 .2 1.8 .2-6.5 .1 4.1 .2-3.2 .1 .9 .2 4.5 .1 .9 .2-.2 .1 1.7 .2 2.1 .1-2.5 .2 3.4 .1-.5 .2 3.6 .2-2.3 .1 2.5 .2-1.5 .1-1.4 .2 .7 .1 2.4 .2 1.8 .1-.4 .2 1.9 .1 2.3 .2-2.4 .1-1.3 .2-5.9 .2 3.2 .1-.9 .2-2.6 .1 4.1 .2-6.4 .1-.6 .2-4 .1 5.5 .2 .6 .1-.6 .2 .6 .1 2.3 .2-5.1 .2 3.1 .1-3 .2-1.8 .1-3.7 .2 2.1 .1 .5 .2-1.5 .1 .7 .2-2.1 .1-.3 .2-1 .1-2.3 .2-2.1 .2-.3 .1 .8 .2 3.9 .1 2.4 .2-.8 .1 2.2 .2-7.3 .1-.4 .2 1.9 .1-4.2 .2 1.2 .1 1.6 .2-3.6 .2-2.6 .1 3.7 .2-3.4 .1 1.8 .2 .1 .1-.9 .2 4.6 .1-1.3 .2-.5 .1-1.3 .2-.7 .1 1.8 .2 0 .2-6.3 .1 1.3 .2-2.1 .1 3.8 .2-3 .1-.3 .2 1.3 .1-1 .2-2.7 .1 2.6 .2-1.7 .2 1.8 .1-.7 .2 3.2 .1-4.2 .2 1.6 .1 1.1 .2 1.5 .1-.7 .2-1.8 .1 3.7 .2 1.4 .1-.5 .2 2 .2 0 .1 1.3 .2 5.2 .1-7.2 .2 3 .1 4.6 .2-2.3 .1 3.3 .2-6.1 .1 2.9 .2 3.6 .1-4.9 .2 1.9 .2-7.7 .1 6.3 .2 4.5 .1-4.4 .2 1.2 .1-.1 .2 3.9 .1-4.9 .2-5.4 .1 7.4 .2-6 .1 3.8 .2-6.3 .2 2 .1 .8 .2-3.9 .1 5.4 .2 1.1 .1-4.5 .2 0 .1 3 .2-5.7 .1 3.9 .2 1.2 .1-.2 .2 3.9 .2-3 .1-3.7 .2-.9 .1 .4 .2-5.7 .1 5.2 .2-1.9 .1 1.4 .2 1.3 .1-3.4 .2 1.5 .1-4.1 .2 1.6 .2 .6 .1 5.5 .2-5.1 .1 .5 .2-2.4 .1 2.1 .2 1.2 .1-5.3 .2 .5 .1 3.4 .2-2.6 .1 5.1 .2 .6 .2-1.3 .1 1.9 .2-1 .1-1.7 .2-4.1 .1-.3 .2 2.8 .1-4.1 .2 3.6 .1-1.5 .2 1.2 .2-.8 .1-3 .2 3.2 .1 2.8 .2-6.8 .1 3.8 .2 .9 .1 3.7 .2-8.8 .1-.1 .2-.2 .1-2 .2-2.5 .2 3.5 .1 0 .2 3.4 .1-1.7 .2-5.7 .1 .9 .2 4.1 .1-4.7 .2 2.1 .1 1.9 .2-2.4 .1 3.9 .2 1.1 .2-1.3 .1-5.3 .2 8.6 .1-4.2 .2-2 .1 1.6 .2 5.9 .1-2.1 .2 1.4 .1 1.6 .2 3.1 .1 1.6 .2-4.7 .2 .2 .1 .6 .2 2 .1-1.7 .2 .8 .1-2.8 .2 3.1 .1-3.7 .2 .3 .1 6.8 .2-2 .1 .2 .2 .1 .2 0 .1 1.1 .2-3.6 .1-.5 .2-.3 .1-1.6 .2 5.1 .1-.6 .2-3.5 .1 .9 .2-3.7 .1 2.6 .2 3.7 .2-6.1 .1 5.3 .2-.5 .1-8.7 .2 7.4 .1-.1 .2-.3 .1-1.1 .2 5.9 .1-1.4 .2 3.2 .1 3.7 .2-6.3 .2 .3 .1 2.4 .2 1.4 .1 .7 .2 .6 .1-5.1 .2 3.6 .1-1.3 .2 2.5 .1-2.1 .2 1.3 .1-1.7 .2 4.1 .2-4.4 .1-2.8 .2 5.1 .1-.7 .2-4.1 .1 1.8 .2-.1 .1 5 .2-3.9 .1 4.9 .2-.9 .2-.8 .1 3.1 .2-4.2 .1-3.5 .2 2 .1 .1 .2 2.5 .1-1 .2-.1 .1-1.1 .2 1.1 .1-1.3 .2-2.7 .2 0 .1-.4 .2-.2 .1-3.3 .2 3.1 .1-3.4 .2-1.5 .1 3.4 .2-3.1 .1 3.6 .2-6.9 .1 1.8 .2 3.7 .2 5 .1-2.5 .2 5.4 .1-2.9 .2-1.9 .1 2.2 .2 2.5 .1-3.1 .2 4.2 .1-3.9 .2 1 .1 1.3 .2-2.4 .2 3.7 .1-5.6 .2 4 .1-1.3 .2 6.9 .1-3.7 .2 2.7 .1 2.3 .2-3.5 .1-1.8 .2 5.2 .1-2.4 .2 4.5 .2-.9 .1-1.7 .2 .5 .1 2.7 .2-7 .1 3.8 .2 3 .1 2.7 .2 .6 .1-2.5 .2-3.2 .1 1.4 .2 3.5 .2-1.1 .1-6.8 .2 6.8 .1-.5 .2-4.8 .1 5.4 .2 2.9 .1 1.9 .2 .1 .1-.7 .2-1.7 .1-1.7 .2-1.6 .2-.7 .1 1.1 .2-1.8 .1 3.7 .2 .1 .1-2.5 .2 2.3 .1-1.1 .2-.7 .1 5.2 .2-.5 .2-.4 .1 .5 .2 .3 .1-1.2 .2 .9 .1 2.2 .2-5.4 .1-3.9 .2 6.5 .1-3.1 .2-.4 .1-1.5 .2 4.1 .2-8.1 .1 3.4 .2 .3 .1-.7 .2-1.9 .1 .3 .2-1.1 .1-4.4 .2 4.7 .1 2.5 .2-3.9 .1-1.4 .2 1.3 .2 3.5 .1-6.7 .2 .7 .1-2.8 .2 2.4 .1-6 .2 .6 .1 .2 .2-3.9 .1-2.8 .2-.8 .1 1.8 .2-3.6 .2 1.1 .1-.4 .2 5.2 .1-2.4 .2-4.2 .1 3.2 .2 .2 .1-5.3 .2-.4 .1 4.3 .2 3.7 .1-2.4 .2-.7 .2-1.6 .1-1.1 .2 2.8 .1 1.9 .2-2.4 .1 2.4 .2-.3 .1 1.8 .2-6.6 .1 3.6 .2 2.8 .1-.1 .2-.6 .2 2.1 .1-.4 .2 3 .1-4.8 .2 3.8 .1 .6 .2 1.4 .1-2.4 .2-1.6 .1-1 .2-2.9 .1 4.3 .2-3 .2-.2 .1-1 .2 2.5 .1-4.2 .2-4.3 .1-1.6 .2 2.9 .1-1.3 .2 2.8 .1 .7 .2-2.3 .2-.9 .1 .5 .2 .4 .1-.3 .2-.9 .1 .1 .2 2.5 .1-3.9 .2 3.1 .1 1.5 .2-2.4 .1 .3 .2 4.2 .2-1.6 .1 4.5 .2-1.1 .1 3.8 .2-8 .1 7.6 .2-5 .1 3.5 .2-.6 .1-3.3 .2-2.5 .1-.1 .2-2.7 .2 4.9 .1 1 .2 2.8 .1-3.2 .2 2 .1 2.5 .2-2.6 .1 .2 .2 .7 .1-4.4 .2 1.6 .1 .8 .2-4 .2 6.4 .1-4.4 .2-2.2 .1 10.7 .2-4.4 .1-2.2 .2 3.2 .1-6.7 .2 11.7 .1-9.1 .2-1 .1 .4 .2 2.4 .2-3.5 .1 4.5 .2-3.1 .1 3.9 .2-.6 .1-1.6 .2 5.7 .1-.4 .2 .6 .1 3.8 .2-3.4 .1 .7 .2 5.7 .2-6.2 .1-.2 .2-.8 .1-.2 .2 3.2 .1-4.8 .2 3.8 .1-3.8 .2 3.8 .1-3.1 .2 4.7 .1 0 .2 3.8 .2-3.3 .1-1.9 .2-2 .1 2 .2 .9 .1 1.1 .2-2.4 .1 4.5 .2-3.9 .1 .5 .2 6.1 .2 1.3 .1-5.8 .2 3.6 .1 1.9 .2-4 .1 4 .2-1 .1 1.8 .2 2.7 .1-7.4 .2 4.3 .1 1.9 .2-.8 .2-3.2 .1 3 .2-2.1 .1 6.1 .2-6 .1 4.2 .2-5.5 .1 .6 .2 2.6 .1-4.9 .2 2.4 .1-1.1 .2-.4 .2 1.9 .1-3.1 .2-1.4 .1 5.6 .2-4 .1 1.8 .2-2.6 .1-.3 .2 4.9 .1 1.7 .2-8.2 .1 5.5 .2 3.2 .2-2.9 .1 3.4 .2 2.2 .1 .9 .2-3.5 .1-6.6 .2 1.8 .1 0 .2-1.6 .1 1 .2 7.3 .1-5.6 .2 2.3 .2 1.4 .1-.6 .2-.3 .1 1.2 .2 1.6 .1-3.4 .2-4.2 .1 8.5 .2 1.2 .1-3.1 .2-1.1 .1-2.5 .2-.3 .2-5 .1 5.1 .2-.7 .1 1.4 .2-1.4 .1-4.7 .2-.7 .1 3.4 .2 0 .1 .3 .2-1.8 .1 5.3 .2-.3 .2-4.5 .1 6.7 .2-3.8 .1 .1 .2 1.6 .1 .9 .2-5.3 .1 8.2 .2-9.2 .1-3.5 .2 2.6 .2 .1 .1-1.3 .2-.6 .1 6.4 .2-5.1 .1-4.1 .2 0 .1 1.8 .2-2.3 .1 1.2 .2-.7 .1 1.1 .2 2.4 .2-.6 .1-.8 .2 1 .1-4.6 .2 4.8 .1 2.9 .2-5.7 .1 4.5 .2-.5 .1 1.4 .2-.9 .1 2.2 .2 4.2 .2-1.7 .1-4.1 .2 8.5 .1-3.9 .2 1 .1 4 .2 1.2 .1-7.4 .2 4.7 .1-6 .2 .6 .1 1.7 .2-1.9 .2-.6 .1-4.2 .2 .6 .1 1.1 .2-1.1 .1-2.2 .2 2 .1 2.1 .2-1.1 .1-3.5 .2 1.6 .1-.2 .2 2.2 .2 .7 .1-1.9 .2-.8 .1 1.4 .2-4.1 .1 5.5 .2-5.8 .1 3.2 .2-.9 .1 2.6 .2 4.1 .1-7.3 .2 .6 .2-3.3 .1 8.1 .2-9 .1 4 .2-1.6 .1 8.7 .2-6.3 .1-.9 .2-2.1 .1 1.3 .2 1.2 .1-3.2 .2-.1 .2-1.1 .1-.3 .2 .2 .1 1.4 .2 2.9 .1 .3 .2-6.2 .1 1.2 .2 2.4 .1 1.9 .2-1.8 .1-1.5 .2-.6 .2 2.6 .1-7.1 .2 3.8 .1 2.5 .2 1.2 .1-2.3 .2-5.2 .1 1.9 .2 1.3 .1-.2 .2 .7 .2 .1 .1-6 .2 3.3 .1-4.4 .2 6.1 .1 .2 .2-3.9 .1 2.5 .2 2.2 .1-1.2 .2-4.2 .1 .2 .2 1.8 .2-4.2 .1 1.5 .2 2.4 .1 2.7 .2-1 .1-1.9 .2-1.1 .1 1.8 .2-.7 .1 2.5 .2 3 .1-2.1 .2-4.3 .2-1.7 .1-1.1 .2 3.7 .1-.7 .2-3.3 .1 2.1 .2 1.9 .1-2.9 .2-.5 .1 1.2 .2-.4 .1-1.6 .2 4.3 .2-6.7 .1 3.8 .2-.3 .1-2 .2-.2 .1-2.7 .2 .4 .1-3 .2 .8 .1-4.1 .2 1.9 .1 1 .2-3 .2-.3 .1-4.1 .2 3.1 .1-.8 .2 2.6 .1-1.7 .2 2.3 .1-.4 .2 .3 .1 2.1 .2 2.9 .1-2.9 .2-4.2 .2 5.5 .1-.5 .2 1.4 .1 .6 .2-5.6 .1 4.9 .2-1.5 .1-3.4 .2-1.4 .1 5.3 .2-4.5 .1-.7 .2-1.6 .2-.7 .1 2.6 .2-3.5 .1 0 .2 .2 .1-1.6 .2 .1 .1-.6 .2-.5 .1-3.2 .2 4.5 .2 2.1 .1 2.4 .2-.6 .1 4.6 .2-2.3 .1 1.3 .2 3 .1-6 .2-2.7 .1 1 .2 4 .1-5.1 .2 5.3 .2 1 .1 1.6 .2-1.2 .1-2.3 .2-2.1 .1 3 .2 1 .1-3.3 .2 4.2 .1-.1 .2 5.8 .1-3.1 .2 .2 .2 2.3 .1-1.8 .2 2.6 .1 2 .2-.5 .1-2.9 .2 1.3 .1 3.6 .2-2.2 .1 3.8 .2-.9 .1 2.1 .2 1 .2-1.2 .1 6.5 .2-.7 .1 2 .2 .5 .1 .3 .2-1.2 .1 0 .2-5.3 .1 3.7 .2 1.1 .1-1.4 .2 .9 .2 1.6 .1 3.1 .2-1 .1-1.9 .2 .5 .1-.8 .2 8.1 .1-5 .2 1.6 .1-4 .2 5.4 .1-3.2 .2 4.5 .2-.1 .1-.8 .2-1.8 .1-.1 .2-3.9 .1-1.3 .2 .9 .1 2.7 .2-2.9 .1 2.8 .2-5 .1 2.7 .2 1.5 .2 2 .1 3.9 .2-2.2 .1 .3 .2-4.8 .1 1.1 .2 1.6 .1 .9 .2-4.9 .1 3.4 .2-1.1 .2-1.8 .1 1.8 .2 .6 .1-2.3 .2-1.4 .1 8.1 .2-6.1 .1 .4 .2-2.6 .1 1.8 .2-.8 .1-1.8 .2 2 .2 0 .1-1.2 .2-.9 .1 .6 .2-4 .1-.1 .2 .2 .1-.8 .2 1.7 .1-.4 .2-2.5 .1 .5 .2 2.4 .2 2.3 .1-3.5 .2-1.3 .1-.9 .2-7.3 .1 1.5 .2-.7 .1-1 .2 1.6 .1-.2 .2-4.9 .1 7.7 .2-1.7 .2 1.1 .1 5.4 .2-2 .1-.9 .2-4.2 .1 7" class="r"/>
<path d="M559.9 88.8l.2-13.7 .1-46.5 .2 42 .1 37.7 .2 10.5 .1-13.4 .2-9.9 .1 2.4 .2-8.1 .1 11.4 .2-43.6 .2-21.4 .1 61.4 .2 24.3 .1-3.4 .2-6.4 .1-10 .2-21.4 .1-31.7 .2 36.4 .1 22.8 .2 8.5 .1-14.4 .2-8 .2-58.1 .1 21.2 .2 58.9 .1 9.6 .2-14.6 .1-6.9 .2-12.1 .1 3.7 .2-31 .1-27.5 .2 52.7 .1 22.9 .2 2.9 .2-11.8 .1-10.4 .2 6.5 .1-19.9 .2-42.4 .1 36.6 .2 41.4 .1 11.4 .2-23.8 .1-.8 .2-6.9 .2-32.3 .1-3 .2 48.8 .1-8.1 .2 12.2 .1-5.6 .2-13 .1-3.7 .2-18.4 .1-22.2 .2 46.2 .1 17.2 .2-7.4 .2-2.4 .1-1.4 .2-26.4 .1-29.4 .2 48.3 .1-2.2 .2 16 .1-6.6 .2-11.7 .1-13.8 .2-23.4 .1 39.7 .2 6.6 .2 3.4 .1-6.5 .2 2.5 .1-4.7 .2-2.4 .1-9.3 .2-30.2 .1 23 .2 18.1 .1-.2 .2-1.3 .1 5.2 .2-6.6 .2-1.3" class="rs"/>
<path d="M573.5 89.6l.1-1.1 .2 4.1 .1-2.4 .2 2.6 .1 4.7 .2-5.3 .1 .9 .2-2.7 .1 5.4 .2-.9 .1 .9 .2 5.1 .2-5.2 .1 1.4 .2-7.9 .1-.5 .2 3.3 .1 2.4 .2-3.9 .1-.5 .2-3.1 .1 1.4 .2 1.6 .1-2 .2-.7 .2-5.4 .1 4.7 .2 .6 .1-1.5 .2 1.5 .1-2.3 .2-2.5 .1-.3 .2 .2 .1-1.7 .2-1.4 .1 3.1 .2-5.2 .2-3.4 .1 3.1 .2-3.4 .1-.3 .2-2.1 .1 1.6 .2-2.2 .1 1.3 .2-.7 .1 1.8 .2-3.5 .1 4.7 .2 3.8 .2 .8 .1-.4 .2-1.1 .1 .4 .2 5.3 .1 1.1 .2 .2 .1-3 .2 4.7 .1 1.7 .2 .6 .2-.5 .1-2.1 .2 6 .1-2.1 .2 1.5 .1 1.6 .2-1.6 .1 3 .2-4.3 .1 1.6 .2 5 .1-4.9 .2 1 .2 .8 .1 6.5 .2-1.1 .1-1 .2-1.3 .1-.2 .2 6.5 .1-5 .2 .5 .1-3.1 .2 2.5 .1 3.3 .2-1.6 .2 2.7 .1 .1 .2-2.5 .1 1.2 .2-1.7 .1 3.1 .2-8 .1 4 .2 1.8 .1 5.1 .2 3.4 .1-4 .2-.7 .2-4.7 .1 2.2 .2 1.8 .1-4 .2-1.9 .1 2.6 .2-2.2 .1 .9 .2 1.5 .1 1.1 .2-.9 .1-2 .2 6.3 .2 .4 .1-5.2 .2 4.9 .1-11.3 .2 4.7 .1-3 .2-2 .1 4.4 .2-1.4 .1-8.9 .2 6.8 .1 .8 .2-.7 .2-.7 .1 .1 .2 4.7 .1 .1 .2-.1 .1-1.2 .2-1.2 .1 4.9 .2-4.5 .1 4.3 .2-1.2 .1-1.7 .2 .9 .2 2 .1 4.3 .2-3.2 .1-2.6 .2-.1 .1 3.4 .2 1.7 .1-4.3 .2-3.4 .1-1.5 .2 6.7 .2-2.4 .1 5.1 .2-4.9 .1-9.2 .2 10.4 .1 2.8 .2-.6 .1 .8 .2 1.5 .1-5 .2-2 .1-3.8 .2 9.6 .2-4.4 .1-.7 .2 7.5 .1-6.6 .2 4.8 .1-3.6 .2-2.6 .1 3.9 .2-1.8 .1 2 .2-2.8 .1-1.7 .2 1.8 .2 .2 .1-1 .2-.3 .1 5 .2-1.6 .1-2.1 .2-1.4 .1-1.1 .2 2.2 .1-1.6 .2 4.3 .1-.7 .2 1.6 .2-.9 .1 .3 .2 1.6 .1-1 .2-.9 .1 1.5 .2-3.2 .1-.2 .2-1.1 .1 3.4 .2 3.5 .1-4.6 .2 4.1 .2-3.5 .1-1 .2 1.2 .1-1.5 .2 2.9 .1 1.6 .2-3.8 .1-1.4 .2 3 .1-3.7 .2 .6 .1-.2 .2-2.7 .2 1.8 .1 3.4 .2-2.1 .1-1.8 .2 3.7 .1-4.1 .2-.3 .1-.5 .2 2.7 .1-7.3 .2 7.2 .1 .5 .2-.8 .2 2.5 .1-.3 .2-2.6 .1 1.7 .2-3.9 .1 5.9 .2-5.4 .1 .9 .2 5.1 .1-6.1 .2 4.8 .2-5.7 .1 4.5 .2-1.2 .1 2.1 .2-7.1 .1 2.3 .2-1.5 .1 2 .2 2.2 .1 1.5 .2 2.8 .1-4.8 .2-.7 .2 .2 .1 1.9 .2-3.9 .1-2 .2 5.4 .1-1.3 .2 4.1 .1 2.3 .2 .7 .1-1 .2-2.1 .1 .7 .2-3.1 .2 3.9 .1 1.8 .2-6 .1 4.9 .2-1.1 .1-7.6 .2 1.7 .1 3.5 .2-1.1 .1 .9 .2-.9 .1 2 .2 1 .2-.7 .1-4.7 .2-2.8 .1 5.5 .2-3 .1 2 .2-1.9 .1 2.7 .2 .1 .1 1.3 .2 0 .1 .7 .2-2.5 .2 1.8 .1 1.8 .2-5.2 .1 5.9 .2 2.9 .1 1.9 .2-.5 .1-6.4 .2-3.9 .1 8.2 .2-3.2 .1 3.9 .2-7.5 .2 .7 .1 .2 .2-2.8 .1-2.1 .2-.5 .1 4.7 .2 .9 .1 .1 .2 3 .1-9.3 .2 4.1 .1-.5 .2-.3 .2-3.3 .1 7.1 .2-6.1 .1 1.2 .2 1.2 .1 3.1 .2-7 .1 4.8 .2-.8 .1-.4 .2-.2 .2-1.6 .1 1.4 .2-.4 .1-.3 .2 .6 .1-.4 .2 1.2 .1-2.5 .2 4.9 .1 1.8 .2-2.1 .1-4.1 .2 3.1 .2-.5 .1 1.5 .2-1.5 .1 1.8 .2-1.3 .1 2.7 .2-7 .1 2.4 .2 2.1 .1-5.6 .2 .5 .1 .9 .2 5.4 .2-5.7 .1 4.4 .2 4.1 .1-5.1 .2 4.3 .1 1.5 .2-2.7 .1 .6 .2-5.1 .1 2.6 .2 1.7 .1-4.6 .2 2.2 .2 .4 .1 1.5 .2-2.1 .1-.8 .2 2.1 .1 1.6 .2-2.4 .1-1.6 .2-1.5 .1-5.8 .2 6.3 .1-2.3 .2 2.3 .2-2.3 .1-4.6 .2-1.4 .1 7.3 .2-6 .1-2.3 .2 2.6 .1-6.7 .2 5.9 .1 2.9 .2 .5 .1 3.1 .2-6.8 .2 .6 .1 4.5 .2-1.2 .1-1.6 .2-2.4 .1 6 .2 2.8 .1 .8 .2-4.7 .1 3.4 .2-2.7 .1 .1 .2-.2 .2 2.2 .1-4.5 .2 1.1 .1-.1 .2 .8 .1 6.1 .2-.7 .1-9.8 .2 5.8 .1 2.8 .2-2.4 .2-.3 .1 3.3 .2-3.1 .1-1.1 .2 .4 .1 2.5 .2 4.9 .1-2 .2-4.1 .1 .4 .2-2.5 .1 4 .2 3.5 .2-4 .1 2.9 .2-1.9 .1-3.2 .2-.4 .1 4.9 .2 .4 .1 1.8 .2-1.7 .1 8 .2-4.4 .1-1.4 .2-1 .2 1.7 .1-4.2 .2-1.4 .1 2.6 .2 1.8 .1 2.5 .2-.8 .1-1.6 .2 1.1 .1 1.6 .2 3.2 .1-1.3 .2-4.7 .2 1.9 .1-3.4 .2-.1 .1 1.5 .2-1.1 .1 3.3 .2 1 .1-.9 .2-.4 .1 .9 .2-.9 .1-2.2 .2 2.8 .2-4.9 .1 2.4 .2 1.2 .1 .3 .2-3.6 .1 1.8 .2-2.4 .1 5.3 .2-3.6 .1-3.5 .2 4.6 .1 .6 .2-.4 .2 6 .1-4.4 .2 .1 .1-8 .2 2.3 .1-1 .2-3.7 .1 6 .2 .8 .1-1 .2 0 .1-1 .2-.5 .2-1.3 .1 3 .2 .7 .1 .5 .2-.2 .1 1.7 .2-3.1 .1-2.2 .2 .9 .1 .5 .2 1.9 .1 1.7 .2-1.7 .2-2.7 .1 6.2 .2-2.1 .1 .2 .2 .9 .1 .9 .2 1.7 .1-2.5 .2-1.9 .1-3.6 .2 7.1 .2-6.3 .1 1.6 .2-2.1 .1 .5 .2-.2 .1-1.7 .2 5 .1-.3 .2 3.2 .1-1.2 .2-1.4 .1 3.5 .2-4.1 .2-2 .1 2.1 .2-1.8 .1-.3 .2-.4 .1 2 .2-3.4 .1 2.1 .2-.1 .1 .3 .2-2.3 .1 2.8 .2-5.7 .2 2.4 .1-3.3 .2 3.7 .1 .8 .2-2.3 .1 1.3 .2 .2 .1-4 .2 3.5 .1-1.7 .2 5.4 .1-7.2 .2 2.2 .2 1.9 .1 7.1 .2-4.3 .1 4.4 .2-2.9 .1-1.6 .2 .9 .1-1.8 .2-2.5 .1 .4 .2-1 .1 2.8 .2-1.1 .2 3.8 .1-3.3 .2 2 .1 2.7 .2-1.3 .1 2.8 .2 2.9 .1-9.1 .2 0 .1 6.4 .2-3.9 .1-4.2 .2 1.6 .2 1.7 .1-2.5 .2-.4 .1 2.2 .2 .4 .1 1.5 .2-1.9 .1-.4 .2 .3 .1-5.6 .2 7.7 .1-4.6 .2 .2 .2-.2 .1 2 .2-.6 .1 5.8 .2-3.1 .1 .3 .2 3.2 .1-1.3 .2-4.3 .1 4.1 .2-.2 .2 1.7 .1-3.3 .2-.5 .1-.2 .2-3.2 .1-.7 .2-.3 .1-1.4 .2 4.6 .1-6.1 .2 4.1 .1-1 .2 .7 .2 .9 .1 3.1 .2-7.3 .1 3.7 .2 .5 .1-4.4 .2 2.8 .1-2.7 .2 1.8 .1 2.1 .2 .2 .1-2.6 .2 4.8 .2-2.1 .1 .6 .2-.4 .1-1.4 .2 4.4 .1-6 .2 1 .1 5.1 .2-3.1 .1-2.9 .2 3.5 .1 1.4 .2-2.2 .2-1.8 .1-2.4 .2 5.4 .1-5.1 .2 3 .1 .6 .2-1.2 .1-1.8 .2 2 .1-5.6 .2 2.9 .1 3.5 .2 0 .2 .6 .1-.8 .2-.8 .1 3.2 .2-3.8 .1-.9 .2 1.8 .1 2.2 .2 .2 .1 2.9 .2-3.3 .1-3.2 .2-1.8 .2 3.9 .1 .4 .2-.8 .1-1.6 .2-1.3 .1-1.6 .2 2.2 .1 2.8 .2-1.5 .1 2.9 .2-2.4 .1 6.3 .2 1.2 .2-2.3 .1-3.7 .2 .6 .1-1.2 .2-2.2 .1 5.7 .2-5.3 .1 1.1 .2 1.6 .1-7 .2 7.8 .2-.4 .1-2.3 .2-.3 .1 2.9 .2 4.4 .1-5.4 .2 0 .1-6.3 .2 3.7 .1 1.9 .2 3.4 .1-2.1 .2 2.6 .2-3.2 .1-2.4 .2 4.1 .1-2.3 .2-.7 .1-.8 .2-3.1 .1 3.3 .2 2.6 .1 .6 .2-2.2 .1-1 .2-1.2 .2 .4 .1 3.5 .2 4.5 .1-5.6 .2 .9 .1-.4 .2-4.6 .1 5.7 .2-1.8 .1-1 .2-2 .1 4.8 .2-2.7 .2-4.3 .1 2 .2 3.3 .1-2.6 .2 6.8 .1-3.1 .2 .4 .1-1.5 .2 1 .1 3.3 .2-3.7 .1 4.2 .2-2.2 .2 2.7 .1-2.7 .2 .6 .1-.7 .2-.8 .1-2.1 .2 6.6 .1-2.7 .2-.5 .1 5.9 .2-1.4 .1-1 .2 2.5 .2-.7 .1-5.4 .2 5.2 .1-2.8 .2 2.8 .1-3.4 .2-1.1 .1-7.2 .2 .3 .1 6.3 .2-5.2 .1 3.3 .2 2.1 .2-2.3 .1 .6 .2 .8 .1 2.4 .2-3.8 .1-2.5 .2 2 .1 .1 .2 .5 .1 2.1 .2-4.5 .2 2.6 .1 1.2 .2-.8 .1-1.4 .2 2.2 .1 .7 .2-2.8 .1 1.2 .2-2.5 .1 2.5 .2 1.7 .1-1.1 .2 2.9 .2-1 .1-6.6 .2-.4 .1-.6 .2 2.6 .1-2.4 .2 .2 .1 4.6 .2 0 .1-4.4 .2-.4 .1 3.7 .2 2.7 .2 1 .1-1.9 .2 .9 .1 1.1 .2-4.3 .1 1.4 .2-.4 .1-3.2 .2 .9 .1 2.8 .2-2.6 .1 6.6 .2-5.9 .2 2.5 .1 1.4 .2-3.2 .1-.4 .2 3.9 .1 .2 .2-8 .1 5.4 .2-3.5 .1 4.4 .2-.6 .1 4.5 .2-1 .2-.1 .1 0 .2-3.4 .1 2.6 .2 4.6 .1-4 .2 .9 .1-2.7 .2-.2 .1-.5 .2 0 .1 2.4 .2 2.9 .2-3 .1-2.8 .2 3.8 .1-4.7 .2 1.5 .1-.9 .2 .2 .1 1.6 .2-3.4 .1 2.8 .2-4.5 .1-3 .2 4.8 .2-.9 .1 5.2 .2-2.1 .1 1.1 .2-7.1 .1 6.3 .2-4.1 .1 7 .2-5 .1 .6 .2 1.5 .2 6.6 .1-5.7 .2-2.2 .1-1.1 .2 1.3 .1 2.6 .2-2.8 .1 .1 .2 3.5 .1-3.5 .2 .6 .1-2.5 .2-2.1 .2 3.9 .1-7.9 .2 8 .1-2.1 .2 1.9 .1-2 .2 1.7 .1 2.7 .2 1.2 .1-4.6 .2 2.5 .1 3.8 .2-1.7 .2-6.1 .1 .3 .2-.8 .1 4 .2-3.5 .1 2.2 .2 2 .1 .2 .2-2.1 .1 .7 .2 .4 .1 4 .2-1.5 .2 .1 .1-1.4 .2-1.5 .1-1.2 .2-3.3 .1 1.6 .2-.1 .1 3.6 .2-1.8 .1 .9 .2-.7 .1-1.3 .2-2.2 .2 2.6 .1 1.6 .2 2.5 .1-6.1 .2 3.2 .1-.5 .2 1.2 .1 1.3 .2-9.8 .1 8.4 .2-2.4 .1-.5 .2 2.3 .2 .9 .1-.3 .2 1.2 .1-2.1 .2-1.6 .1 6.2 .2-3 .1-1.1 .2-2.3 .1 3.7 .2 2 .1-9.5 .2 .7 .2 2.4 .1-2.4 .2 3.8 .1-.1 .2 2.2 .1-1.8 .2-.2 .1-.4 .2-2.8 .1 4.1 .2 2.5 .1-5.7 .2 0 .2 5.3 .1-1.7 .2-2.3 .1 3.4 .2-1.7 .1 1 .2 1.6 .1-7.9 .2 6.1 .1-.8 .2-4.7 .2-.6 .1 2.3 .2-.5 .1 3.3 .2-3.6 .1 2.5 .2-.1 .1-1.9 .2-2.6 .1 2.8 .2-1.1 .1 .8 .2 2.2 .2 2.2 .1-.4 .2-.8 .1 1.3 .2 1 .1-.4 .2-1.9 .1-2.3 .2 3.7 .1 2.1 .2-6.4 .1 1.1 .2 1.7 .2-1.2 .1 2.3 .2 5 .1-2.4 .2 3.2 .1-3.3 .2 1.7 .1-5.3 .2 2.3 .1 1.5 .2 2.2 .1 1 .2 .9 .2-7 .1 2.7 .2 .5 .1-1.5 .2 0 .1-.8 .2-1.9 .1-2.4 .2 3.7 .1 3.5 .2 .1 .1-5.7 .2 5.7 .2-3.8 .1 3.1 .2-1.8 .1 2.9 .2 3.4 .1-4.3 .2-5.1 .1 2.9 .2 .4 .1 3.5 .2-1 .1-2.2 .2 .6 .2-4.7 .1 3.7 .2-.5 .1 1.7 .2 2 .1 2.8 .2-5.1 .1 4.9 .2-8.6 .1 3.1 .2 3.4 .1 2.8 .2-4 .2 2.9 .1-1.8 .2 .4 .1-1.7 .2-.4 .1 .7 .2 .7 .1 2.3" class="r"/>
<path d="M44.55 10.44V181.84H737.24V10.44Z" class="ax"/>
<path d="M44.55 182.05h6.8M737.24 182.05h-6.8M44.55 139.80h6.8M737.24 139.80h-6.8M44.55 97.55h6.8M737.24 97.55h-6.8M44.55 55.30h6.8M737.24 55.30h-6.8M44.55 13.05h6.8M737.24 13.05h-6.8M121.52 181.84v-6.8M121.52 10.44v6.8M198.48 181.84v-6.8M198.48 10.44v6.8M275.44 181.84v-6.8M275.44 10.44v6.8M352.41 181.84v-6.8M352.41 10.44v6.8M429.38 181.84v-6.8M429.38 10.44v6.8M506.34 181.84v-6.8M506.34 10.44v6.8M583.30 181.84v-6.8M583.30 10.44v6.8M660.27 181.84v-6.8M660.27 10.44v6.8M737.24 181.84v-6.8M737.24 10.44v6.8" class="tk"/>
<rect x="560.2" y="10.4" width="177.3" height="143.9" class="bx"/>
<rect x="558.6" y="8.8" width="3.3" height="3.3" rx="0.5" class="mk"/>
<rect x="558.6" y="80.7" width="3.3" height="3.3" rx="0.5" class="mk"/>
<rect x="558.6" y="152.7" width="3.3" height="3.3" rx="0.5" class="mk"/>
<rect x="647.2" y="8.8" width="3.3" height="3.3" rx="0.5" class="mk"/>
<rect x="647.2" y="152.7" width="3.3" height="3.3" rx="0.5" class="mk"/>
<rect x="735.9" y="8.8" width="3.3" height="3.3" rx="0.5" class="mk"/>
<rect x="735.9" y="80.7" width="3.3" height="3.3" rx="0.5" class="mk"/>
<rect x="735.9" y="152.7" width="3.3" height="3.3" rx="0.5" class="mk"/>
<text x="40.2" y="17.0" class="yl">20</text>
<text x="40.2" y="59.3" class="yl">10</text>
<text x="40.2" y="101.5" class="yl">0</text>
<text x="40.2" y="143.8" class="yl">10</text>
<rect x="21.95" y="140.12" width="6.4" height="1.55" fill="#333"/>
<text x="40.2" y="186.1" class="yl">20</text>
<rect x="21.95" y="182.37" width="6.4" height="1.55" fill="#333"/>
<text x="121.7" y="197.1" class="xl">0.5</text>
<text x="198.7" y="197.1" class="xl">1</text>
<text x="275.6" y="197.1" class="xl">1.5</text>
<text x="352.6" y="197.1" class="xl">2</text>
<text x="429.6" y="197.1" class="xl">2.5</text>
<text x="506.5" y="197.1" class="xl">3</text>
<text x="583.5" y="197.1" class="xl">3.5</text>
<text x="660.5" y="197.1" class="xl">4</text>
<text x="737.4" y="197.1" class="xl">4.5</text>
<text x="391.8" y="211.6" class="tl" textLength="50.5" lengthAdjust="spacingAndGlyphs">Time (sec)</text>
<text transform="translate(15.6 95.5) rotate(-90)" class="yt">Amplitude (μV)</text>
<path d="M751.8 138.3V159.0" stroke="#555" stroke-width="0.9"/>
<path d="M763.9 138.3V159.0" stroke="#f07070" stroke-width="0.9"/>
<text transform="translate(755.9 136.3) rotate(-90)" class="lg">Contaminated Signal</text>
<text transform="translate(767.0 136.3) rotate(-90)" class="lg">Artifact-Free Signal</text>
<rect x="102.2" y="15.4" width="348.5" height="52.6" fill="#fff"/>
<clipPath id="cB"><rect x="102.2" y="15.4" width="348.5" height="52.6"/></clipPath>
<g clip-path="url(#cB)">
<path d="M102.7 44.6l.4-7.2 .3-15.5 .3 12.9 .3 8.7 .3 .5 .3-.8 .3-.1 .3-.4 .3 2 .3-.7 .3-14.9 .3-6 .3 16.7 .3 4.1 .3 0 .3-1 .3 .2 .3-5.1 .3-11.5 .3 10.1 .3 4.3 .3 3.4 .3-1.5 .3-3 .3-15.6 .3 6.6 .3 12.3 .3-1.8 .3 2.6 .3-1.1 .3 .2 .3-.4 .3-11.4 .3-11 .4 14.6 .3 5.7 .3-.7 .3 .6 .3-1.4 .3-.1 .3-4.7 .3-9.8 .3 7.3 .3 6.2 .3-.4 .3 .1 .3-1.8 .3-.2 .3-12.7 .3 2.7 .3 10.4 .3 1.6 .3-2.7 .3 1 .3 .8 .3-1.2 .3-13 .3-1.8 .3 13.3 .3 .5 .3-1.4 .3 2.2 .3-1.8 .3-6.7 .3-10.7 .3 12.5 .3 2.4 .3 1.4 .3-.5 .4-2 .3-5.5 .3-3.1 .3 5.1 .3 2.5 .3 .1 .3-1.2 .3-.4 .3 .2 .3 0 .3-2.7 .3-7.8 .3 6.3 .3 4.2 .3 .8 .3-.8 .3 0 .3 .8 .3-1.4 .3-.5 .3 .8 .3 3.1 .3-1.5 .3 1.3 .3 1.2 .3 .5 .3 .6 .3-1.1 .3 .2 .3 1.3 .3 .1 .3 .1 .3-.5 .3 .1 .4 1.9 .3-.4 .3 .2 .3 .7 .3-.9 .3 .3 .3 1.6 .3-.2 .3-.9 .3 .8 .3 .5 .3 1.1 .3 .7 .3-.4 .3 .7 .3 1.1 .3-.5 .3-.2 .3 2.3 .3-1.1 .3 .1 .3 1.8 .3 .6 .3 .2 .3-.1 .3-.7 .3 1.6 .3 .3 .3-1 .3 .7 .3 .2 .3 .5 .3-.7 .3 2.2 .3-1.9 .4 1.9 .3-.9 .3 0 .3 2.4 .3-1.9 .3 1.4 .3-.5 .3 .5 .3 .8 .3-.9 .3 .1 .3 .5 .3 .5 .3 .9 .3-1.9 .3 1.2 .3 1.2 .3 1.2 .3-.5 .3 0 .3 1.2 .3-1.7 .3 .8 .3 .8 .3 1.4 .3 .7 .3 .6 .3-.1 .3 .7 .3 .7 .3 .3 .3 0 .3-1.1 .3 .5 .4 .8 .3-.6 .3-1.1 .3 1.1 .3-.1 .3 .4 .3-1.1 .3 .7 .3 1.1 .3 .4 .3-.9 .3 .1 .3-.6 .3 .5 .3 .7 .3-.1 .3-1.1 .3 2.3 .3-1.2 .3 1.5 .3-.6 .3 .6 .3 .6 .3-.9 .3 1.8 .3-.6 .3-.2 .3 .7 .3-1.5 .3 .3 .3-.3 .3 1.4 .3-1.1 .3 .5 .3 .3 .4 .5 .3-.3 .3-1.1 .3 1 .3 .5 .3 .3 .3-1.8 .3 .8 .3 .7 .3 .3 .3 1.2 .3-.5 .3 .2 .3-.2 .3 .7 .3 .4 .3-.7 .3 .3 .3 1.6 .3-1.5 .3-.7 .3 1.7 .3-1.2 .3 1 .3-1.3 .3 1.1 .3 .3 .3-.2 .3-1.6 .3 1.2 .3 .5 .3-1 .3 .8 .3-.8 .4 1.4 .3 .6 .3-.8 .3-.4 .3 .3 .3-.7 .3 2.2 .3-.3 .3 .2 .3-1.4 .3 .6 .3 1 .3 .2 .3-.7 .3 .3 .3-.7 .3 2 .3-1 .3 1.8 .3-.3 .3 .4 .3 0 .3 .3 .3 0 .3-.7 .3 .1 .3-.6 .3 1.2 .3-.3 .3-.4 .3 .6 .3 .1 .3 .3 .3 .3 .3-.2 .4 0 .3-1.1 .3-.1 .3 0 .3 1.1 .3 .4 .3 0 .3 .1 .3-1.8 .3 1 .3 .2 .3-1.2 .3 1 .3-.6 .3-.1 .3 1.3 .3-1.4 .3 .6 .3 .4 .3 .8 .3 .5 .3-2.1 .3 .8 .3-.6 .3-.1 .3-.4 .3-.4 .3 .8 .3-.3 .3-1.5 .3 .4 .3 0 .3-.4 .3 .1 .4-.9 .3 1.4 .3-.6 .3-1.5 .3 .9 .3-1.7 .3 3.1 .3-2.8 .3 1.6 .3 1.2 .3-1.9 .3-.5 .3-.1 .3-.1 .3 1 .3 .4 .3-.4 .3-.7 .3-.6 .3 .2 .3-.7 .3 .3 .3 .5 .3-1.4 .3 .2 .3 1.5 .3-.7 .3 .6 .3-.2 .3-1.6 .3 1.2 .3 .2 .3-.9 .3-.8 .3 .3 .4 .1 .3-1 .3 .7 .3 .4 .3-.4 .3 2.2 .3-1.3 .3 0 .3-1.2 .3 .2 .3 .7 .3-1.5 .3 1.2 .3-2.2 .3 .6 .3 .6 .3 .3 .3-.4 .3-.1 .3 .6 .3-1.2 .3 2.1 .3-.9 .3-.3 .3 1.5 .3-1.5 .3 1.2 .3 .4 .3-1.7 .3-.8 .3-.8 .3 1.3 .3-1.4 .3-.2 .4-.3 .3 .8 .3 .4 .3 1.2 .3-1.4 .3-.5 .3 .2 .3-.1 .3 .8 .3-1.1 .3-.1 .3 .6 .3-.8 .3-.3 .3 1 .3-1.2 .3 .2 .3 1.7 .3-.8 .3-.4 .3-.4 .3-1.1 .3 1.8 .3-1.7 .3-.9 .3 .2 .3-.5 .3 1.1 .3-1.1 .3 1.2 .3-.6 .3 1 .3-1.6 .3 .4 .3-.2 .4 1.9 .3-.4 .3-1.4 .3 1 .3-1.4 .3-.6 .3-.8 .3 .3 .3 .2 .3 .8 .3-.5 .3-.6 .3-1 .3-.3 .3-.7 .3 2.4 .3-2.5 .3 .3 .3-.5 .3 1 .3-.9 .3-1 .3 1.5 .3-.6 .3 0 .3-.1 .3 1.2 .3-1.6 .3-.3 .3 .2 .3 .2 .3-.4 .3-2 .3 .3 .4-.9 .3 1.2 .3 .4 .3-1.4 .3 .9 .3-2 .3 .8 .3-.4 .3-.7 .3-1.1 .3-.7 .3 .3 .3 1.3 .3-2 .3 1 .3-1.2 .3 .6 .3-.6 .3-1.3 .3 1.1 .3 .5 .3-.3 .3-.2 .3-1.4 .3 1.1 .3-.4 .3-1.5 .3 .9 .3 .1 .3-1.5 .3 .6 .3 .1 .3 .5 .3-.4 .3-.9 .4-.9 .3-.4 .3 0 .3 .9 .3-.3 .3-1 .3 2 .3-.5 .3 .2 .3 .6 .3 .4 .3-1.1 .3 1.8 .3-.1 .3-.3 .3-.2 .3 1 .3-.8 .3 .4 .3-.1 .3 .1 .3 0 .3 .2 .3-1 .3-.1 .3 .6 .3-1 .3 .7 .3-.2 .3 .6 .3 1.2 .3-1.4 .3 1.8 .3-.8 .4 .5 .3-1 .3-.1 .3 .2 .3 .9 .3-1.2 .3 .1 .3 1.2 .3 .4 .3-.1 .3-.2 .3 1.5 .3-1.2 .3-.2 .3 1 .3 1 .3-2 .3 1.2 .3-1 .3-.4 .3 2.6 .3-1.4 .3 .7 .3-.4 .3 .9 .3-.3 .3 1.7 .3-1.4 .3-.8 .3 1.7 .3-.6 .3-.4 .3 .1 .3 .6 .4-.5 .3-.2 .3 .8 .3 1.2 .3-1.8 .3-.8 .3 2.4 .3-.8 .3 .1 .3 0 .3 .6 .3-1.1 .3 1.6 .3 0 .3-.4 .3 .4 .3-1.9 .3 0 .3 0 .3 1 .3 .2 .3 1.8 .3-.8 .3 2 .3-.6 .3-1.2 .3 .7 .3-1.3 .3 .7 .3-2.2 .3 .5 .3 0 .3-.3 .3-.1 .3-.4 .4 .1 .3 .4 .3-1.1 .3-1.3 .3 .2 .3-.2 .3-.7 .3 .8 .3-.1 .3 .9 .3-.9 .3-1.4 .3 .3 .3-.4 .3-.4 .3 1.5 .3 .1 .3 .2 .3 .2 .3-.9 .3 .6 .3 .9 .3-3.1 .3 .4 .3-.5 .3 .2 .3-.5 .3-.4 .3-.5 .3 1 .3-2 .3 1.3 .3-.5 .3-1.7 .4 1.5 .3-.9 .3 1.7 .3-.2 .3 .5 .3-.1 .3 .7 .3-.1 .3-.7 .3 1.2 .3-.5 .3-1.5 .3 .5 .3 .7 .3 .1 .3-.5 .3 .5 .3-.2 .3 .5 .3-.8 .3 2.3 .3 .5 .3-2 .3 .4 .3-.4 .3 1.3 .3-1.9 .3 1.1 .3 0 .3 1 .3-.5 .3 .1 .3-1 .3 2 .3-.1 .4-1 .3 .5 .3-1 .3 1.2 .3-.3 .3 .2 .3-.1 .3-.7 .3-.3 .3 .1 .3 .7 .3-.6 .3 .1 .3 1.6 .3-1.1 .3-1.8 .3 .4 .3 .6 .3 .6 .3 .7 .3 .2 .3-1.8 .3-.2 .3 .8 .3-.2 .3-.4 .3 .1 .3-.1 .3-.2 .3-.2 .3 1.2 .3-.4 .3-.4 .3 0 .4 1 .3-1.3 .3 1.2 .3-3.4 .3 1.6 .3-.3 .3 0 .3 .8 .3-.8 .3 .2 .3 .1 .3 .1 .3-.3 .3-.3 .3 .4 .3 .2 .3-1.9 .3-.2 .3-1 .3-1.1 .3 .4 .3 .8 .3-1.9 .3-1 .3 1 .3-.1 .3-.4 .3 1 .3-.4 .3 .5 .3-.3 .3-.4 .3 .2 .3 .4 .3-.5 .4 .1 .3 1.2 .3-1.6 .3 .6 .3-1 .3 .3 .3 .5 .3-.6 .3 .9 .3-1.2 .3 .2 .3-.3 .3-.4 .3 .8 .3-1.5 .3 1.1 .3-.3 .3-.3 .3 1 .3 .4 .3-2.3 .3 2.4 .3-.5 .3 .5 .3-2.3 .3 1.5 .3-1.6 .3 .8 .3-.1 .3 .9 .3-1.3 .3 1.1 .3 .4 .3-.5 .4 1.5 .3 0 .3-.8 .3 2 .3-1.9 .3-.2 .3-.3 .3-.6 .3-.2 .3 .6 .3-.7 .3-.5 .3 .3 .3 .8 .3 0 .3-.8 .3 .4 .3 .2 .3-.4 .3 .2 .3-.7 .3 .5 .3 .1 .3 .7 .3-.8 .3 2.2 .3-1.3 .3-.4 .3 .6 .3-1.4 .3 1.2 .3 .1 .3 1 .3-1.3 .3 0 .4-.1 .3 .4 .3-.4 .3-.6 .3-.6 .3 .4 .3 .2 .3 1.4 .3-1.7 .3 0 .3 1.5 .3 .7 .3-.6 .3 1 .3-.9 .3 1.1 .3 .1 .3-.4 .3 1.7 .3-1.4 .3-.6 .3 1.6 .3-1.6 .3 .9 .3-.6 .3 1 .3 .8 .3 .1 .3-.1 .3-.2 .3 .1 .3-1 .3 .4 .3 1.3 .4-.6 .3 1.2 .3-.4 .3-.7 .3-.1 .3 .3 .3-.5 .3 .7 .3 .7 .3-1.3 .3 .5 .3 .6 .3-.2 .3-.5 .3 .2 .3 .6 .3 1.2 .3-1.4 .3 1 .3-.8 .3 .3 .3 1.1 .3 0 .3 .2 .3-.4 .3-2.2 .3 .3 .3 2 .3-1.1 .3 .7 .3-1.1 .3 1.1 .3-.1 .3 0 .3-.2 .4 .4 .3 .2 .3 .6 .3 0 .3 1.7 .3-.6 .3 .2 .3-.1 .3-.1 .3 0 .3-.1 .3 0 .3-.8 .3 2 .3-.1 .3-.8 .3 2.5 .3-1.7 .3 1.3 .3-.2 .3-.2 .3 .2 .3-.3 .3-.5 .3 1.2 .3 0 .3-1.3 .3-.5 .3-.4 .3 1.2 .3 1.1 .3-.5 .3-.4 .3 .3 .4 .5 .3 1.5 .3-2 .3 .2 .3 .4 .3 1.5 .3-1.2 .3 1.9 .3-2 .3 1.1 .3 .7 .3-.8 .3 1.2 .3-1.3 .3-.2 .3 1 .3-.9 .3 1.4 .3-2.8 .3 .8 .3 .9 .3 .2 .3-2.8 .3 .1 .3 2.6 .3-1.6 .3 1.2 .3 .4 .3 .4 .3 .2 .3-.8 .3 .5 .3 1.1 .3-2 .3 1.2 .4 1.1 .3-1 .3-.1 .3-.6 .3 1.1 .3-.1 .3 .6 .3-.1 .3-.8 .3 .5 .3-1.4 .3 .6 .3-1.2 .3 .7 .3 .7 .3-1.2 .3 .8 .3 .8 .3-.3 .3-1.2 .3 1.3 .3-1.6 .3 .1 .3 .8 .3-.4 .3 .6 .3 .8 .3 .2 .3-1.3 .3-.1 .3 1.9 .3 0 .3-.2 .3-.3 .4 1.2 .3-1.5 .3 .2 .3 .2 .3-.4 .3 2.3 .3-.9 .3-.3 .3 .7 .3 .2 .3 .1 .3 .5 .3-.8 .3 .9 .3 .1 .3 .5 .3-.6 .3 .1 .3-.6 .3 .4 .3-.2 .3-.6 .3 1.1 .3 .6 .3 .7 .3 1.2 .3-.3 .3-.1 .3 .5 .3-.6 .3 1.3 .3-1.3 .3 1.7 .3-1.1 .3-.4 .4 1.3 .3-1.7 .3 .5 .3 .3 .3 .5 .3-.4 .3 1.7 .3-1.3 .3 1.7 .3 .2 .3-.1 .3-1.4 .3-1.2 .3 2.1 .3-.2 .3 .6 .3-2.1 .3 .9 .3-1.4 .3 1.8 .3 .5 .3-.1 .3-.5 .3 2.1 .3-1.9 .3 .5 .3 .6 .3 .3 .3-1.4 .3-.3 .3 1.3 .3-.7 .3-1.2 .3 1.3 .4-.2 .3 1.1 .3-.4 .3 .4 .3-.8 .3 .8 .3 .6 .3-.4 .3 .7 .3-.5 .3 .9 .3 .6 .3-.6 .3 .2 .3 .1 .3-.3 .3-.7 .3 .3 .3 1.5 .3-1.1 .3 0 .3-.2 .3 1.2 .3-1 .3 .5 .3 1.3 .3-1.1 .3 .3 .3 1 .3-2.5 .3 1.6 .3-.2 .3-.4 .3-1.7 .3 .8 .4-.2 .3-1.2 .3 .6 .3-.5 .3-1 .3 2 .3 2 .3-1.7 .3 .6 .3-1.5 .3-.7 .3 2 .3 .1 .3-1.3 .3-.6 .3 1.2 .3-2.7 .3 .1 .3-.4 .3-.8 .3 1 .3-.9 .3 .1 .3 0 .3 .8 .3-.3 .3-.6 .3-1.4 .3 1.2 .3 .6 .3 1 .3-1 .3 .2 .3-2.4 .4 1.9 .3-.2 .3-.1 .3-1.8 .3 .2 .3 1.7 .3-.3 .3 1.2 .3 .3 .3-1.7 .3-1.9 .3 .9 .3 1.4 .3-.2 .3 .1 .3-.9 .3 1.9 .3 .5 .3-2 .3 1.2 .3-.5 .3 1.3 .3-.6 .3 1.7 .3-.7 .3-.6 .3 .6 .3 1.2 .3-.7 .3 .5 .3 .8 .3-.7 .3-.3 .3 .3 .3 1.7 .4-1.1 .3 .4 .3 .9 .3 1.4 .3-2.2 .3 .9 .3 .8 .3 2.5 .3-.7 .3-2.1 .3 .2 .3 .4 .3 .7 .3-.2" class="ki"/>
<path d="M102.7 43.8l.4-5.1 .3-17.3 .3 15.6 .3 14.1 .3 3.9 .3-5 .3-3.7 .3 .9 .3-3 .3 4.2 .3-16.2 .3-8 .3 22.9 .3 9 .3-1.2 .3-2.4 .3-3.7 .3-8 .3-11.8 .3 13.5 .3 8.5 .3 3.2 .3-5.4 .3-3 .3-21.6 .3 7.9 .3 21.9 .3 3.6 .3-5.4 .3-2.6 .3-4.5 .3 1.4 .3-11.6 .3-10.2 .4 19.6 .3 8.6 .3 1 .3-4.4 .3-3.8 .3 2.4 .3-7.4 .3-15.8 .3 13.6 .3 15.4 .3 4.3 .3-8.9 .3-.3 .3-2.5 .3-12.1 .3-1.1 .3 18.2 .3-3 .3 4.5 .3-2.1 .3-4.8 .3-1.4 .3-6.8 .3-8.3 .3 17.2 .3 6.4 .3-2.8 .3-.9 .3-.5 .3-9.8 .3-10.9 .3 17.9 .3-.8 .3 6 .3-2.5 .4-4.3 .3-5.2 .3-8.7 .3 14.8 .3 2.4 .3 1.3 .3-2.4 .3 .9 .3-1.7 .3-.9 .3-3.5 .3-11.2 .3 8.5 .3 6.8 .3-.1 .3-.5 .3 2 .3-2.5 .3-.5 .3-.4 .3 1.5 .3-.9 .3 1 .3 1.8 .3-2 .3 .3 .3-1 .3 2 .3-.3 .3 .3 .3 1.9 .3-1.9 .3 .5 .3-2.9 .4-.2 .3 1.2 .3 .9 .3-1.5 .3-.1 .3-1.2 .3 .5 .3 .6 .3-.7 .3-.3 .3-2 .3 1.7 .3 .3 .3-.6 .3 .6 .3-.9 .3-.9 .3-.1 .3 0 .3-.6 .3-.5 .3 1.2 .3-2 .3-1.3 .3 1.2 .3-1.3 .3-.1 .3-.8 .3 .6 .3-.8 .3 .5 .3-.3 .3 .7 .3-1.3 .3 1.8 .4 1.4 .3 .3 .3-.2 .3-.4 .3 .2 .3 1.9 .3 .4 .3 .1 .3-1.1 .3 1.7 .3 .7 .3 .2 .3-.2 .3-.8 .3 2.3 .3-.8 .3 .6 .3 .6 .3-.6 .3 1.1 .3-1.6 .3 .6 .3 1.8 .3-1.8 .3 .4 .3 .3 .3 2.4 .3-.4 .3-.4 .3-.5 .3-.1 .3 2.5 .3-1.9 .3 .2 .4-1.2 .3 1 .3 1.2 .3-.6 .3 1 .3 0 .3-.9 .3 .5 .3-.7 .3 1.2 .3-3 .3 1.5 .3 .7 .3 1.9 .3 1.2 .3-1.5 .3-.2 .3-1.8 .3 .8 .3 .7 .3-1.5 .3-.7 .3 1 .3-.8 .3 .3 .3 .6 .3 .4 .3-.3 .3-.8 .3 2.4 .3 .1 .3-1.9 .3 1.8 .3-4.2 .3 1.7 .4-1.1 .3-.7 .3 1.6 .3-.5 .3-3.3 .3 2.5 .3 .3 .3-.3 .3-.2 .3 0 .3 1.8 .3 0 .3 0 .3-.5 .3-.4 .3 1.8 .3-1.7 .3 1.6 .3-.4 .3-.6 .3 .3 .3 .7 .3 1.6 .3-1.2 .3-.9 .3-.1 .3 1.3 .3 .6 .3-1.6 .3-1.2 .3-.6 .3 2.5 .3-.9 .3 1.9 .4-1.8 .3-3.5 .3 3.9 .3 1.1 .3-.3 .3 .3 .3 .6 .3-1.9 .3-.7 .3-1.4 .3 3.6 .3-1.7 .3-.2 .3 2.7 .3-2.4 .3 1.8 .3-1.4 .3-.9 .3 1.4 .3-.7 .3 .8 .3-1.1 .3-.6 .3 .7 .3 .1 .3-.4 .3-.1 .3 1.8 .3-.6 .3-.7 .3-.5 .3-.5 .3 .8 .3-.5 .3 1.5 .4-.2 .3 .6 .3-.3 .3 .1 .3 .5 .3-.3 .3-.4 .3 .6 .3-1.2 .3-.1 .3-.4 .3 1.3 .3 1.3 .3-1.7 .3 1.5 .3-1.3 .3-.4 .3 .5 .3-.6 .3 1.1 .3 .6 .3-1.4 .3-.5 .3 1.1 .3-1.4 .3 .2 .3 0 .3-1.1 .3 .7 .3 1.3 .3-.8 .3-.7 .3 1.4 .3-1.5 .4-.1 .3-.2 .3 1 .3-2.7 .3 2.7 .3 .2 .3-.3 .3 .9 .3-.1 .3-1 .3 .6 .3-1.4 .3 2.2 .3-2 .3 .3 .3 1.9 .3-2.3 .3 1.8 .3-2.1 .3 1.7 .3-.5 .3 .8 .3-2.6 .3 .8 .3-.5 .3 .7 .3 .8 .3 .6 .3 1 .3-1.8 .3-.2 .3 .1 .3 .7 .3-1.5 .3-.7 .4 2 .3-.5 .3 1.5 .3 .9 .3 .2 .3-.4 .3-.7 .3 .2 .3-1.1 .3 1.4 .3 .7 .3-2.2 .3 1.8 .3-.4 .3-2.9 .3 .7 .3 1.3 .3-.4 .3 .3 .3-.3 .3 .7 .3 .4 .3-.3 .3-1.7 .3-1.1 .3 2.1 .3-1.1 .3 .7 .3-.7 .3 1 .3 .1 .3 .4 .3 0 .3 .3 .4-.9 .3 .6 .3 .7 .3-1.9 .3 2.2 .3 1.1 .3 .6 .3-.1 .3-2.4 .3-1.4 .3 3 .3-1.2 .3 1.5 .3-2.8 .3 .2 .3 .1 .3-1 .3-.8 .3-.2 .3 1.7 .3 .4 .3 0 .3 1.1 .3-3.5 .3 1.6 .3-.2 .3-.1 .3-1.3 .3 2.7 .3-2.3 .3 .5 .3 .4 .3 1.2 .3-2.6 .3 1.7 .4-.2 .3-.2 .3-.1 .3-.5 .3 .5 .3-.2 .3-.1 .3 .2 .3-.1 .3 .4 .3-.9 .3 1.8 .3 .7 .3-.8 .3-1.5 .3 1.1 .3-.2 .3 .6 .3-.5 .3 .6 .3-.5 .3 1 .3-2.6 .3 .9 .3 .8 .3-2.1 .3 .2 .3 .3 .3 2 .3-2.1 .3 1.7 .3 1.5 .3-1.9 .3 1.6 .4 .6 .3-1 .3 .2 .3-1.9 .3 1 .3 .6 .3-1.7 .3 .8 .3 .1 .3 .6 .3-.8 .3-.3 .3 .8 .3 .6 .3-.9 .3-.6 .3-.6 .3-2.1 .3 2.3 .3-.8 .3 .8 .3-.8 .3-1.8 .3-.5 .3 2.8 .3-2.3 .3-.9 .3 1.1 .3-2.6 .3 2.2 .3 1.1 .3 .2 .3 1.2 .3-2.6 .3 .2 .4 1.7 .3-.4 .3-.6 .3-.9 .3 2.2 .3 1.1 .3 .3 .3-1.8 .3 1.3 .3-1 .3 0 .3-.1 .3 .8 .3-1.6 .3 .4 .3 0 .3 .3 .3 2.2 .3-.2 .3-3.7 .3 2.2 .3 1 .3-.9 .3-.1 .3 1.2 .3-1.1 .3-.4 .3 .1 .3 1 .3 1.8 .3-.8 .3-1.5 .3 .2 .3-1 .4 1.5 .3 1.3 .3-1.5 .3 1.1 .3-.7 .3-1.2 .3-.2 .3 1.9 .3 .1 .3 .7 .3-.6 .3 3 .3-1.7 .3-.5 .3-.4 .3 .7 .3-1.6 .3-.5 .3 .9 .3 .7 .3 1 .3-.4 .3-.6 .3 .5 .3 .5 .3 1.2 .3-.4 .3-1.8 .3 .7 .3-1.3 .3 0 .3 .6 .3-.5 .3 1.3 .4 .4 .3-.4 .3-.1 .3 .3 .3-.3 .3-.8 .3 1 .3-1.8 .3 .9 .3 .4 .3 .1 .3-1.3 .3 .7 .3-.9 .3 1.9 .3-1.3 .3-1.3 .3 1.7 .3 .2 .3-.1 .3 2.2 .3-1.6 .3 0 .3-3 .3 .9 .3-.4 .3-1.3 .3 2.2 .3 .3 .3-.4 .3 0 .3-.4 .3-.2 .3-.4 .3 1.1 .4 .2 .3 .2 .3-.1 .3 .7 .3-1.2 .3-.8 .3 .3 .3 .2 .3 .7 .3 .7 .3-.7 .3-1 .3 2.3 .3-.8 .3 .1 .3 .4 .3 .3 .3 .6 .3-.9 .3-.7 .3-1.3 .3 2.6 .3-2.4 .3 .7 .3-.8 .3 .2 .3-.1 .3-.7 .3 1.9 .3-.1 .3 1.2 .3-.5 .3-.5 .3 1.3 .4-1.5 .3-.7 .3 .7 .3-.6 .3-.2 .3-.1 .3 .8 .3-1.3 .3 .8 .3-.1 .3 .1 .3-.8 .3 1 .3-2.1 .3 .9 .3-1.2 .3 1.3 .3 .4 .3-.9 .3 .5 .3 0 .3-1.5 .3 1.4 .3-.7 .3 2 .3-2.7 .3 .9 .3 .7 .3 2.6 .3-1.6 .3 1.7 .3-1.1 .3-.6 .3 .3 .3-.6 .4-1 .3 .2 .3-.4 .3 1 .3-.4 .3 1.4 .3-1.2 .3 .8 .3 1 .3-.5 .3 1 .3 1.1 .3-3.4 .3 0 .3 2.4 .3-1.5 .3-1.5 .3 .6 .3 .6 .3-.9 .3-.2 .3 .9 .3 .1 .3 .6 .3-.8 .3-.1 .3 .1 .3-2.1 .3 2.9 .3-1.7 .3 .1 .3-.1 .3 .7 .3-.2 .4 2.2 .3-1.2 .3 .1 .3 1.2 .3-.5 .3-1.6 .3 1.5 .3 0 .3 .6 .3-1.2 .3-.2 .3-.1 .3-1.2 .3-.2 .3-.2 .3-.5 .3 1.7 .3-2.2 .3 1.5 .3-.4 .3 .3 .3 .3 .3 1.2 .3-2.7 .3 1.4 .3 .1 .3-1.6 .3 1 .3-1 .3 .7 .3 .8 .3 0 .3-.9 .3 1.8 .3-.8 .4 .2 .3-.1 .3-.6 .3 1.7 .3-2.3 .3 .4 .3 1.9 .3-1.1 .3-1.1 .3 1.3 .3 .5 .3-.8 .3-.7 .3-.9 .3 2 .3-1.9 .3 1.2 .3 .2 .3-.5 .3-.6 .3 .7 .3-2.1 .3 1.1 .3 1.3 .3 0 .3 .2 .3-.3 .3-.3 .3 1.2 .3-1.4 .3-.3 .3 .6 .3 .9 .3 0 .4 1.1 .3-1.2 .3-1.2 .3-.7 .3 1.5 .3 .1 .3-.3 .3-.6 .3-.4 .3-.6 .3 .8 .3 1 .3-.5 .3 1 .3-.9 .3 2.4 .3 .4 .3-.8 .3-1.4 .3 .2 .3-.4 .3-.9 .3 2.2 .3-2 .3 .4 .3 .6 .3-2.6 .3 2.9 .3-.1 .3-.9 .3-.1 .3 1.1 .3 1.6 .3-2 .3 0 .4-2.3 .3 1.3 .3 .7 .3 1.3 .3-.8 .3 1 .3-1.2 .3-.9 .3 1.5 .3-.8 .3-.3 .3-.3 .3-1.1 .3 1.2 .3 .9 .3 .3 .3-.8 .3-.4 .3-.5 .3 .2 .3 1.3 .3 1.7 .3-2.1 .3 .3 .3-.1 .3-1.7 .3 2.1 .3-.7 .3-.4 .3-.7 .3 1.8 .3-1 .3-1.6 .3 .7 .4 1.3 .3-1 .3 2.5 .3-1.1 .3 .1 .3-.5 .3 .3 .3 1.3 .3-1.4 .3 1.6 .3-.9 .3 1 .3-1 .3 .2 .3-.2 .3-.3 .3-.8 .3 2.5 .3-1.1 .3-.1 .3 2.2 .3-.5 .3-.4 .3 .9 .3-.3 .3-2 .3 2 .3-1.1 .3 1.1 .3-1.3 .3-.4 .3-2.7 .3 .1 .3 2.4 .3-2 .4 1.2 .3 .9 .3-.9 .3 .2 .3 .3 .3 .9 .3-1.4 .3-.9 .3 .7 .3 0 .3 .2 .3 .8 .3-1.7 .3 1 .3 .5 .3-.4 .3-.5 .3 .8 .3 .3 .3-1 .3 .4 .3-.9 .3 .9 .3 .6 .3-.3 .3 1 .3-.4 .3-2.4 .3-.2 .3-.2 .3 1 .3-.9 .3 .1 .3 1.7 .4 0 .3-1.7 .3-.1 .3 1.4 .3 1 .3 .4 .3-.8 .3 .4 .3 .4 .3-1.6 .3 .5 .3-.2 .3-1.1 .3 .3 .3 1.1 .3-1 .3 2.4 .3-2.2 .3 1 .3 .5 .3-1.2 .3-.2 .3 1.5 .3 .1 .3-3 .3 2 .3-1.3 .3 1.6 .3-.2 .3 1.7 .3-.4 .3 0 .3 0 .3-1.3 .3 1 .4 1.7 .3-1.5 .3 .3 .3-1 .3 0 .3-.2 .3 0 .3 .9 .3 1 .3-1.1 .3-1 .3 1.4 .3-1.7 .3 .5 .3-.3 .3 0 .3 .6 .3-1.2 .3 1 .3-1.6 .3-1.2 .3 1.8 .3-.3 .3 1.9 .3-.8 .3 .5 .3-2.7 .3 2.4 .3-1.6 .3 2.6 .3-1.8 .3 .2 .3 .5 .3 2.5 .4-2.1 .3-.8 .3-.5 .3 .5 .3 1 .3-1 .3 0 .3 1.3 .3-1.3 .3 .2 .3-.9 .3-.8 .3 1.5 .3-3 .3 3 .3-.8 .3 .7 .3-.7 .3 .6 .3 1 .3 .5 .3-1.7 .3 .9 .3 1.4 .3-.7 .3-2.2 .3 .1 .3-.3 .3 1.5 .3-1.3 .3 .8 .3 .7 .3 .1 .3-.7 .3 .2 .4 .2 .3 1.4 .3-.5 .3 0 .3-.5 .3-.6 .3-.4 .3-1.2 .3 .6 .3-.1 .3 1.4 .3-.7 .3 .3 .3-.2 .3-.5 .3-.8 .3 .9 .3 .6 .3 1 .3-2.3 .3 1.2 .3-.2 .3 .5 .3 .4 .3-3.6 .3 3.1 .3-.9 .3-.2 .3 .9 .3 .3 .3-.1 .3 .5 .3-.8 .3-.6 .4 2.3 .3-1.1 .3-.4 .3-.9 .3 1.4 .3 .7 .3-3.5 .3 .2 .3 .9 .3-.9 .3 1.5 .3-.1 .3 .9 .3-.7 .3-.1 .3-.2 .3-1 .3 1.6 .3 .9 .3-2.2 .3 .1 .3 1.9 .3-.6 .3-.9 .3 1.3 .3-.6 .3 .3 .3 .6 .3-2.9 .3 2.3 .3-.3 .3-1.8 .3-.2 .3 .8 .3-.1 .4 1.2 .3-1.4 .3 1 .3 0 .3-.8 .3-.9 .3 1 .3-.4 .3 .3 .3 .8 .3 .8 .3-.1 .3-.3 .3 .5 .3 .4 .3-.2 .3-.7 .3-.9 .3 1.4 .3 .8 .3-2.4 .3 .4 .3 .6 .3-.4 .3 .9 .3 1.8 .3-.9 .3 1.2 .3-1.2 .3 .6 .3-2 .3 .9 .3 .6 .3 .8 .4 .4 .3 .3 .3-2.6 .3 1 .3 .2 .3-.6 .3 0 .3-.3 .3-.7 .3-.9 .3 1.4 .3 1.3 .3 0 .3-2.1 .3 2.1 .3-1.4 .3 1.2 .3-.7 .3 1.1 .3 1.3 .3-1.7 .3-1.8 .3 1 .3 .2 .3 1.3 .3-.4 .3-.8 .3 .2 .3-1.7 .3 1.3 .3-.1 .3 .6 .3 .7 .3 1.1 .3-1.9 .4 1.8 .3-3.2 .3 1.1 .3 1.3 .3 1.1 .3-1.5 .3 1.1 .3-.7 .3 .1 .3-.6 .3-.2 .3 .3 .3 .3 .3 .9" class="ri"/>
</g>
<rect x="102.2" y="15.4" width="348.5" height="52.6" class="iax"/>
<text x="101.8" y="17.7" class="il">20</text>
<text x="101.8" y="33.4" class="il">10</text>
<text x="101.8" y="49.2" class="il">0</text>
<text x="101.8" y="64.9" class="il">-10</text>
<text x="118.5" y="75.3" class="ixl">3.4</text>
<text x="148.8" y="75.3" class="ixl">3.5</text>
<text x="179.1" y="75.3" class="ixl">3.6</text>
<text x="209.4" y="75.3" class="ixl">3.7</text>
<text x="239.7" y="75.3" class="ixl">3.8</text>
<text x="270.0" y="75.3" class="ixl">3.9</text>
<text x="300.2" y="75.3" class="ixl">4</text>
<text x="330.5" y="75.3" class="ixl">4.1</text>
<text x="360.8" y="75.3" class="ixl">4.2</text>
<text x="391.1" y="75.3" class="ixl">4.3</text>
<text x="421.4" y="75.3" class="ixl">4.4</text>
<path d="M102.20 15.60h3.5M450.70 15.60h-3.5M102.20 31.34h3.5M450.70 31.34h-3.5M102.20 47.07h3.5M450.70 47.07h-3.5M102.20 62.80h3.5M450.70 62.80h-3.5M118.50 68.00v-3.5M118.50 15.40v3.5M148.79 68.00v-3.5M148.79 15.40v3.5M179.08 68.00v-3.5M179.08 15.40v3.5M209.37 68.00v-3.5M209.37 15.40v3.5M239.66 68.00v-3.5M239.66 15.40v3.5M269.95 68.00v-3.5M269.95 15.40v3.5M300.24 68.00v-3.5M300.24 15.40v3.5M330.53 68.00v-3.5M330.53 15.40v3.5M360.82 68.00v-3.5M360.82 15.40v3.5M391.11 68.00v-3.5M391.11 15.40v3.5M421.40 68.00v-3.5M421.40 15.40v3.5" class="itk"/>
<path d="M560.2 10.4L453.7 15.4M560.2 154.3L452.7 70.0" class="dt"/>
<path d="M451.3 15.0l4.6 -2.4v4.8z" fill="#000"/>
<path d="M0 0l4.6 -2.4v4.8z" fill="#000" transform="translate(451.2 68.5) rotate(38.2)"/>
</g>
<g id="pC">
<path d="M562.4 325.6l.1-19.1 .2-41.3 .1 34.2 .2 23.2 .2 1.4 .1-2.1 .2-.3 .1-1.2 .2 5.5 .1-2.1 .2-39.4 .1-15.9 .2 44.4 .1 10.8 .2-.1 .2-2.5 .1 .4 .2-13.5 .1-30.6 .2 26.9 .1 11.4 .2 8.9 .1-3.8 .2-8 .1-41.5 .2 17.5 .1 32.7 .2-4.8 .2 6.9 .1-2.9 .2 .6 .1-1.1 .2-30.4 .1-29.2 .2 39 .1 14.9 .2-1.6 .1 1.5 .2-3.8 .2-.2 .1-12.5 .2-26.1 .1 19.4 .2 16.6 .1-1.2 .2 .5 .1-5 .2-.5 .1-33.6 .2 7.2 .2 27.3 .1 4.5 .2-7.3 .1 2.7 .2 2.2 .1-3.3 .2-34.6 .1-4.7 .2 35.5 .1 1.2 .2-3.8 .2 5.9 .1-4.8 .2-17.7 .1-28.4 .2 33.1 .1 6.5 .2 3.6 .1-1.4 .2-5.3 .1-14.5 .2-8.2 .1 13.5 .2 6.7 .2 .1 .1-3 .2-1.2 .1 .4 .2 .1 .1-7.2 .2-20.5 .1 16.5 .2 11.3 .1 2.1 .2-2.3 .2 0 .1 2.2 .2-3.8 .1-1.1 .2 2.2 .1 8.2 .2-4.1 .1 3.4 .2 3.1 .1 1.4 .2 1.7 .2-2.9 .1 .4 .2 3.5 .1 .2 .2 .3 .1-1.4 .2 .3 .1 5.2 .2-1.2 .1 .8 .2 1.7 .2-2.3 .1 .8 .2 4.2 .1-.5 .2-2.4 .1 2.1 .2 1.2 .1 2.9 .2 1.9 .1-.9 .2 1.8 .2 2.8 .1-1.2 .2-.5 .1 6.1 .2-3 .1 .4 .2 4.6 .1 1.6 .2 .5 .1-.2 .2-1.8 .1 4.3 .2 .8 .2-2.8 .1 1.9 .2 .5 .1 1.4 .2-1.8 .1 5.8 .2-5.1 .1 5.1 .2-2.4 .1-.1 .2 6.4 .2-5 .1 3.8 .2-1.5 .1 1.4 .2 2 .1-2.3 .2 .4 .1 1.3 .2 1.2 .1 2.5 .2-5 .2 3.2 .1 3.2 .2 3 .1-1.3 .2 .2 .1 3 .2-4.4 .1 2 .2 2.1 .1 3.8 .2 1.8 .2 1.7 .1-.4 .2 2 .1 1.8 .2 .7 .1 .2 .2-3 .1 1.3 .2 2.1 .1-1.5 .2-3.1 .1 3.1 .2-.4 .2 1.1 .1-2.8 .2 1.7 .1 3.1 .2 1.1 .1-2.5 .2 .2 .1-1.5 .2 1.2 .1 1.8 .2-.1 .2-3.1 .1 6.2 .2-3.1 .1 4 .2-1.7 .1 1.6 .2 1.6 .1-2.5 .2 4.9 .1-1.6 .2-.5 .2 1.8 .1-3.8 .2 .8 .1-.9 .2 3.6 .1-2.8 .2 1.4 .1 .6 .2 1.5 .1-.9 .2-3 .2 2.8 .1 1.3 .2 .8 .1-4.9 .2 2.2 .1 2 .2 .6 .1 3.2 .2-1.1 .1 .4 .2-.5 .2 1.9 .1 .9 .2-1.7 .1 .7 .2 4.2 .1-4 .2-1.6 .1 4.2 .2-3 .1 2.5 .2-3.4 .1 3 .2 .7 .2-.5 .1-4.1 .2 3 .1 1.3 .2-2.6 .1 2.2 .2-2.2 .1 3.7 .2 1.6 .1-2.1 .2-1.1 .2 .8 .1-1.7 .2 5.6 .1-.6 .2 .5 .1-3.7 .2 1.6 .1 2.5 .2 .5 .1-1.7 .2 .7 .2-1.7 .1 5.2 .2-2.5 .1 4.6 .2-.8 .1 1.1 .2 .1 .1 .8 .2 0 .1-1.9 .2 .4 .2-1.6 .1 3 .2-.7 .1-1.1 .2 1.6 .1 .2 .2 .9 .1 .6 .2-.4 .1-.1 .2-2.7 .1-.3 .2-.1 .2 2.8 .1 1.3 .2-.1 .1 .3 .2-4.7 .1 2.4 .2 .7 .1-3.3 .2 2.8 .1-1.6 .2-.3 .2 3.6 .1-3.8 .2 1.4 .1 1.1 .2 2.1 .1 1.4 .2-5.5 .1 2.1 .2-1.7 .1-.3 .2-1 .2-1.1 .1 2.2 .2-.9 .1-3.8 .2 1 .1 .1 .2-1.1 .1 .1 .2-2.2 .1 3.7 .2-1.8 .2-3.9 .1 2.5 .2-4.6 .1 8.2 .2-7.5 .1 4.3 .2 3.3 .1-5.1 .2-1.3 .1-.4 .2-.1 .2 2.6 .1 1.2 .2-1.3 .1-1.7 .2-1.6 .1 .5 .2-1.8 .1 .8 .2 1.2 .1-3.6 .2 .4 .1 4.2 .2-1.9 .2 1.4 .1-.4 .2-4.2 .1 3.1 .2 .5 .1-2.4 .2-2.1 .1 .8 .2 .2 .1-2.6 .2 1.8 .2 1.2 .1-1.1 .2 5.8 .1-3.4 .2-.1 .1-3.1 .2 .4 .1 1.9 .2-4 .1 3.3 .2-6 .2 1.6 .1 1.7 .2 .7 .1-1 .2-.3 .1 1.5 .2-3 .1 5.5 .2-2.3 .1-.9 .2 4.1 .2-4 .1 3.1 .2 1.2 .1-4.5 .2-2.1 .1-2.3 .2 3.4 .1-3.6 .2-.6 .1-.8 .2 2.2 .2 .9 .1 3.2 .2-3.5 .1-1.4 .2 .5 .1-.1 .2 2 .1-3 .2-.1 .1 1.6 .2-2.2 .1-.9 .2 2.6 .2-3.1 .1 .6 .2 4.4 .1-2.1 .2-1 .1-1.1 .2-2.8 .1 4.8 .2-4.6 .1-2.4 .2 .5 .2-1.4 .1 3.1 .2-3.1 .1 3.4 .2-1.7 .1 2.8 .2-4.4 .1 1.1 .2-.5 .1 4.9 .2-1 .2-3.6 .1 2.4 .2-3.6 .1-1.7 .2-2.1 .1 1 .2 .4 .1 2.3 .2-1.4 .1-1.7 .2-2.6 .2-.8 .1-1.8 .2 6.4 .1-6.7 .2 .8 .1-1.4 .2 2.8 .1-2.6 .2-2.7 .1 4.2 .2-1.8 .1 .2 .2-.5 .2 3.3 .1-4.2 .2-.7 .1 .5 .2 .5 .1-1.2 .2-5.1 .1 .6 .2-2.3 .1 3.1 .2 1.2 .2-3.9 .1 2.5 .2-5.4 .1 2.1 .2-1 .1-1.8 .2-2.9 .1-1.9 .2 .9 .1 3.3 .2-5.2 .2 2.7 .1-3.2 .2 1.5 .1-1.5 .2-3.5 .1 2.8 .2 1.3 .1-.8 .2-.5 .1-3.8 .2 3 .2-.9 .1-4 .2 2.3 .1 .3 .2-3.9 .1 1.4 .2 .4 .1 1.2 .2-1 .1-2.3 .2-2.5 .2-1.1 .1 .2 .2 2.3 .1-.8 .2-2.6 .1 5.3 .2-1.4 .1 .4 .2 1.8 .1 .9 .2-2.8 .1 4.7 .2-.1 .2-.9 .1-.5 .2 2.7 .1-2.2 .2 1 .1-.2 .2 .3 .1 0 .2 .5 .1-2.7 .2-.4 .2 1.7 .1-2.5 .2 1.9 .1-.6 .2 1.6 .1 3 .2-3.7 .1 4.8 .2-2.2 .1 1.4 .2-2.7 .2-.1 .1 .5 .2 2.4 .1-3.2 .2 .2 .1 3.3 .2 1.1 .1-.4 .2-.6 .1 4.2 .2-3.3 .2-.6 .1 2.7 .2 2.7 .1-5.2 .2 3 .1-2.6 .2-1 .1 6.8 .2-3.7 .1 1.8 .2-1.1 .1 2.5 .2-.9 .2 4.6 .1-3.5 .2-2.4 .1 4.5 .2-1.5 .1-1.2 .2 .4 .1 1.5 .2-1.2 .1-.5 .2 2 .2 3.2 .1-4.7 .2-2.1 .1 6.3 .2-2.1 .1 .4 .2-.2 .1 1.7 .2-2.8 .1 4.1 .2-.1 .2-1 .1 1 .2-4.8 .1-.2 .2-.1 .1 2.7 .2 .6 .1 4.7 .2-2.1 .1 5.5 .2-1.7 .2-3.1 .1 1.8 .2-3.5 .1 1.9 .2-5.8 .1 1.2 .2 0 .1-.6 .2-.4 .1-1 .2 .2 .2 1.2 .1-2.9 .2-3.6 .1 .5 .2-.6 .1-1.7 .2 2.2 .1-.4 .2 2.5 .1-2.6 .2-3.5 .1 .7 .2-1 .2-1.2 .1 4.1 .2 .1 .1 .6 .2 .5 .1-2.3 .2 1.6 .1 2.3 .2-8.1 .1 .9 .2-1.3 .2 .7 .1-1.5 .2-1.1 .1-1.4 .2 2.9 .1-5.5 .2 3.7 .1-1.6 .2-4.3 .1 3.9 .2-2.3 .2 4.3 .1-.5 .2 1.3 .1-.1 .2 1.8 .1-.2 .2-2 .1 3.3 .2-1.3 .1-4.1 .2 1.4 .2 1.9 .1 .3 .2-1.3 .1 1.2 .2-.5 .1 1.4 .2-2.2 .1 6 .2 1.5 .1-5.4 .2 1.1 .1-1.1 .2 3.5 .2-5.1 .1 2.9 .2 .1 .1 2.5 .2-1.1 .1 .1 .2-2.7 .1 5.3 .2-.1 .1-2.7 .2 1.3 .2-2.7 .1 3.1 .2-.6 .1 .4 .2-.2 .1-1.8 .2-.8 .1 .2 .2 1.8 .1-1.5 .2 .2 .2 4.2 .1-2.8 .2-4.9 .1 1.1 .2 1.6 .1 1.8 .2 1.7 .1 .4 .2-4.7 .1-.4 .2 2.1 .2-.6 .1-1 .2 .3 .1-.3 .2-.5 .1-.5 .2 3.2 .1-1.1 .2-1.2 .1-.1 .2 2.9 .2-3.7 .1 3.3 .2-8.9 .1 4.1 .2-.7 .1-.1 .2 2.1 .1-1.9 .2 .4 .1 .4 .2 0 .1-.6 .2-1 .2 1.3 .1 .5 .2-5 .1-.6 .2-2.8 .1-2.8 .2 1 .1 2.1 .2-5.1 .1-2.6 .2 2.8 .2-.3 .1-1.2 .2 2.6 .1-.9 .2 1.4 .1-1 .2-.9 .1 .4 .2 1.2 .1-1.5 .2 .3 .2 3.3 .1-4.2 .2 1.6 .1-2.8 .2 .9 .1 1.3 .2-1.7 .1 2.5 .2-3.3 .1 .5 .2-.8 .2-1.1 .1 2.3 .2-4 .1 3 .2-.9 .1-.7 .2 2.6 .1 1 .2-6.1 .1 6.4 .2-1.4 .1 1.4 .2-6.1 .2 3.9 .1-4.3 .2 2.4 .1-.5 .2 2.5 .1-3.4 .2 2.8 .1 1.1 .2-1.4 .1 4.1 .2 0 .2-2.1 .1 5.4 .2-5.1 .1-.6 .2-.9 .1-1.5 .2-.6 .1 1.6 .2-1.8 .1-1.5 .2 1 .2 2 .1 .1 .2-2.1 .1 1 .2 .5 .1-1 .2 .6 .1-2 .2 1.4 .1 .3 .2 1.7 .2-1.9 .1 5.7 .2-3.4 .1-1.1 .2 1.7 .1-3.9 .2 3.2 .1 .3 .2 2.7 .1-3.5 .2 0 .2-.2 .1 1 .2-.9 .1-1.6 .2-1.7 .1 1.1 .2 .5 .1 3.6 .2-4.5 .1 .2 .2 4 .1 1.7 .2-1.5 .2 2.6 .1-2.4 .2 3 .1 .1 .2-.8 .1 4.2 .2-3.7 .1-1.4 .2 4.2 .1-4.2 .2 2.2 .2-1.5 .1 2.7 .2 2.1 .1 .2 .2-.2 .1-.5 .2 .4 .1-2.9 .2 1.2 .1 3.3 .2-1.6 .2 3.3 .1-.9 .2-2 .1-.3 .2 .8 .1-1.4 .2 1.9 .1 1.9 .2-3.4 .1 1.4 .2 1.5 .2-.7 .1-1.2 .2 .7 .1 1.5 .2 3.1 .1-3.7 .2 2.7 .1-2.3 .2 .8 .1 3 .2 .1 .1 .5 .2-1.1 .2-5.8 .1 .9 .2 5.2 .1-3 .2 1.9 .1-2.8 .2 2.9 .1-.2 .2 0 .1-.8 .2 1.2 .2 .6 .1 1.6 .2 0 .1 4.4 .2-1.5 .1 .4 .2-.2 .1-.2 .2-.1 .1-.3 .2 .2 .2-2.3 .1 5.4 .2-.4 .1-1.9 .2 6.5 .1-4.4 .2 3.3 .1-.5 .2-.6 .1 .5 .2-.7 .2-1.2 .1 3.2 .2-.1 .1-3.6 .2-1.1 .1-1.2 .2 3.1 .1 3 .2-1.3 .1-1.1 .2 1 .2 1.1 .1 4.2 .2-5.3 .1 .4 .2 1.2 .1 3.9 .2-3.2 .1 4.9 .2-5.1 .1 2.9 .2 1.8 .1-2.1 .2 3.1 .2-3.4 .1-.5 .2 2.7 .1-2.5 .2 3.8 .1-7.4 .2 2.1 .1 2.3 .2 .5 .1-7.4 .2 .2 .2 7.1 .1-4.3 .2 3.1 .1 1.2 .2 1 .1 .4 .2-2 .1 1.2 .2 3 .1-5.3 .2 3.2 .2 2.8 .1-2.7 .2 0 .1-1.6 .2 2.8 .1-.1 .2 1.3 .1-.1 .2-2.1 .1 1.2 .2-3.7 .2 1.5 .1-3 .2 1.8 .1 1.7 .2-3 .1 2 .2 2.3 .1-.9 .2-3.2 .1 3.4 .2-4 .1 .2 .2 2.1 .2-1 .1 1.4 .2 2.3 .1 .3 .2-3.2 .1-.4 .2 5.2 .1 0 .2-.7 .1-.6 .2 2.9 .2-3.8 .1 .4 .2 .6 .1-1.2 .2 6.1 .1-2.3 .2-.7 .1 1.8 .2 .5 .1 .2 .2 1.5 .2-2.1 .1 2.4 .2 .1 .1 1.4 .2-1.6 .1 .3 .2-1.6 .1 .9 .2-.4 .1-1.6 .2 3 .2 1.6 .1 1.9 .2 3 .1-.8 .2-.3 .1 1.4 .2-1.6 .1 3.6 .2-3.6 .1 4.5 .2-2.9 .2-1.1 .1 3.5 .2-4.4 .1 1.1 .2 .9 .1 1.4 .2-1.1 .1 4.5 .2-3.4 .1 4.6 .2 .4 .1-.2 .2-3.7 .2-3.1 .1 5.3 .2-.5 .1 1.6 .2-5.4 .1 2.4 .2-3.8 .1 4.7 .2 1.3 .1-.1 .2-1.3 .2 5.4 .1-4.8 .2 1.1 .1 1.6 .2 .9 .1-3.7 .2-.7 .1 3.2 .2-1.8 .1-3.1 .2 3.5 .2-.5 .1 2.8 .2-1.1 .1 1.2 .2-2.2 .1 2 .2 1.6 .1-.9 .2 1.9 .1-1.5 .2 2.4 .2 1.6 .1-1.5 .2 .4 .1 .3 .2-.8 .1-1.8 .2 .7 .1 4 .2-2.8 .1 .1 .2-.6 .1 3 .2-2.5 .2 1.3 .1 3.4 .2-3 .1 .8 .2 2.7 .1-6.7 .2 4.3 .1-.5 .2-1.1 .1-4.5 .2 2.3 .2-.8 .1-3 .2 1.5 .1-1.3 .2-2.6 .1 5.2 .2 5.3 .1-4.5 .2 1.8 .1-4.1 .2-1.9 .2 5.5 .1 0 .2-3.3 .1-1.6 .2 3 .1-7.1 .2 .2 .1-.8 .2-2.2 .1 2.5 .2-2.2 .2 .3 .1-.1 .2 2 .1-.8 .2-1.6 .1-3.6 .2 3.2 .1 1.6 .2 2.8 .1-2.8 .2 .5 .2-6.3 .1 5 .2-.4 .1-.4 .2-4.8 .1 .4 .2 4.7 .1-.8 .2 3.3 .1 .5 .2-4.4 .1-5 .2 2.4 .2 3.7 .1-.5 .2 .4 .1-2.5 .2 5 .1 1.3 .2-5.3 .1 3.1 .2-1.2 .1 3.5 .2-1.7 .2 4.5 .1-1.9 .2-1.6 .1 1.7 .2 3.1 .1-1.7 .2 1.2 .1 2.2 .2-1.9 .1-.7 .2 .7 .2 4.6 .1-3 .2 1.2 .1 2.2 .2 3.7 .1-5.9 .2 2.6 .1 2 .2 6.7 .1-2 .2-5.6 .2 .8 .1 1 .2 1.8 .1-.7" class="k"/>
<rect x="562.0" y="245.8" width="141.0" height="142.8" class="ov"/>
<path d="M45.6 337.7l.1-.5 .2 .9 .1 .4 .2-1.5 .1 1.6 .2-1.7 .1-.4 .2 4.3 .1 .3 .2-1.4 .1 .2 .2 1.7 .2 .3 .1-4.1 .2 0 .1 4.4 .2-1 .1 1.9 .2-1 .1 1.8 .2-2.5 .1 2.4 .2-1.4 .2-.4 .1 1.8 .2 4.3 .1-4.1 .2-2 .1 .3 .2 2.6 .1-.4 .2 .6 .1 .3 .2-3.7 .2 4.1 .1-2.4 .2 1.1 .1 2.4 .2 .8 .1-2.4 .2 2.4 .1 3.3 .2-1.4 .1-5.8 .2 7.4 .2-5.7 .1 1.6 .2 3.4 .1-6.1 .2 1.2 .1 3.9 .2-4.1 .1-.5 .2 1.9 .1-1.4 .2 1.2 .1-3.8 .2-1.4 .2 4.9 .1-.4 .2 2.7 .1-2.9 .2 4.6 .1-.3 .2-1.3 .1-2.2 .2-3.3 .1 8.2 .2-2.3 .2-4.4 .1 6.7 .2-2.9 .1-2 .2-5.7 .1 2 .2 3.3 .1-2.1 .2-3.1 .1-3.5 .2 6.4 .2-3.4 .1-1.8 .2-1 .1 .2 .2 2.2 .1-2.1 .2-1.2 .1-5 .2 4.1 .1 2 .2-4.2 .2 2.5 .1-1.4 .2 1.5 .1-1.7 .2 3.5 .1-3.3 .2 4.2 .1 .4 .2-4.7 .1 1.9 .2-2.6 .2-5 .1 4.3 .2-1.1 .1-1.6 .2-1.5 .1 .9 .2-1.3 .1-2.2 .2-1.6 .1 2.2 .2-1.1 .1 .9 .2 1.4 .2-3.1 .1 2.8 .2-1.9 .1 3.5 .2-1.2 .1-.2 .2-2.3 .1 5.3 .2-3.8 .1-2.6 .2 4.3 .2-7 .1 6.1 .2-5.1 .1 5.4 .2-3.4 .1 2.4 .2 1.3 .1-7.2 .2-2.9 .1 1.8 .2 .4 .2-1.7 .1 1.3 .2-6.2 .1 3.7 .2 .9 .1 2 .2 .1 .1 2.3 .2-5.9 .1 1.5 .2-.6 .2 3.4 .1 5 .2-1.1 .1 .2 .2 .7 .1-.9 .2-1.9 .1 2.6 .2-1.4 .1-4.8 .2 2.9 .1 2 .2-3.5 .2-5.6 .1 5.7 .2-3.4 .1 1 .2 3.5 .1-5.8 .2 .4 .1 .7 .2 .4 .1-4.6 .2 .8 .2 1.3 .1 3.2 .2 2 .1-7.3 .2 3.1 .1-2.3 .2 2.1 .1 2.4 .2-.1 .1-2.6 .2 2.9 .2-.7 .1-1.1 .2-2.2 .1 2.8 .2 3.4 .1 1.8 .2 1.1 .1-4.6 .2 .5 .1 3 .2-2.4 .2-.2 .1 0 .2 1 .1 3.1 .2-4.9 .1 6.7 .2-3.4 .1 .3 .2-3.1 .1-2.4 .2-1.1 .2 6 .1 1.6 .2-3.5 .1 4.2 .2-4.5 .1-2.4 .2 4.2 .1 .3 .2-4.7 .1 .8 .2 .4 .1-1.6 .2 1.3 .2 .8 .1-2.7 .2 2.7 .1 1.5 .2-3.6 .1-.7 .2 1.4 .1 2.3 .2-4.4 .1 1.2 .2 1.1 .2-2.8 .1-.1 .2-2.2 .1-.9 .2-3.5 .1 7.4 .2-8.8 .1 3 .2 1.3 .1 4 .2-2.3 .2-2.6 .1 1.2 .2 0 .1 3.1 .2-3.8 .1 3.2 .2 4.9 .1-1.5 .2 2.8 .1 3.1 .2-6.2 .2-2.6 .1 1.9 .2 1.7 .1 .5 .2-4.2 .1 2.5 .2-1.8 .1 3.1 .2-.8 .1-.3 .2-.1 .1-1.3 .2 3.1 .2-3.8 .1 3.4 .2-6.5 .1 4.4 .2-3.3 .1 2.3 .2 4.3 .1-7.7 .2 1.3 .1 4.6 .2-2.8 .2 2.6 .1 5.4 .2-6.1 .1 0 .2 .5 .1 1.5 .2-.7 .1-1.6 .2-4.2 .1 1.1 .2 .5 .2-3.3 .1 8.2 .2-1.7 .1 3.2 .2-7.3 .1 1.4 .2 1.8 .1 .6 .2-.2 .1-2.2 .2 1.9 .2 .7 .1-2.5 .2-1.8 .1-.7 .2 1.7 .1 2.4 .2-1.1 .1-6.5 .2 4.8 .1-1.1 .2 1.6 .2 .1 .1-1.2 .2 .4 .1 1.7 .2-1.7 .1-2.3 .2-2 .1 3.6 .2-1.5 .1 2.5 .2-2.9 .1 4.6 .2-2.8 .2 1 .1 2.7 .2 0 .1-5.3 .2-.2 .1 3.1 .2-3.6 .1-1.5 .2 5.2 .1 2.1 .2-.6 .2-3.4 .1 5.1 .2 0 .1-6.1 .2 4.3 .1-4 .2 .6 .1 3.6 .2-.8 .1-3.8 .2 6 .2 2.3 .1 0 .2-1.4 .1-4.3 .2 1.2 .1 3.3 .2-1.8 .1-.6 .2-1.7 .1 3 .2 .3 .2-.8 .1-.5 .2-1.5 .1-2.4 .2 1.6 .1-.2 .2-3.2 .1 3.7 .2 1.8 .1 5.5 .2-5.4 .1 6.7 .2-1.7 .2-2.7 .1-1.4 .2 3.1 .1 2 .2-.8 .1 .7 .2-4.7 .1-2.3 .2 3.9 .1 2.6 .2 3.8 .2-3 .1-.5 .2 3.7 .1-3.5 .2 3.9 .1-3.3 .2-.1 .1 .9 .2 .4 .1 .5 .2 .7 .2 0 .1 3 .2 4.1 .1-1 .2-4.3 .1 1.4 .2-2.3 .1-.6 .2 7.2 .1 1.3 .2-3 .2 0 .1 .5 .2-3.4 .1 3.3 .2 .3 .1-1.8 .2-4.3 .1 2.7 .2 5.4 .1-6.1 .2 1.9 .2-.3 .1 2.6 .2-.8 .1 1.4 .2-6.9 .1 4 .2-3.8 .1 8.1 .2-1.7 .1 3.1 .2-4.7 .1-2.6 .2 4.7 .2-4.4 .1 .2 .2 3.3 .1-.7 .2 .1 .1-2.2 .2 1.1 .1 1.9 .2-3.2 .1 1.4 .2-1 .2-3.8 .1-4.1 .2 3.4 .1-2.6 .2 1.3 .1 2 .2-6 .1 2.9 .2-5.3 .1 6.1 .2 .9 .2-.6 .1 1.5 .2-2.5 .1 1.9 .2-2.1 .1 1.3 .2 4.8 .1-3.4 .2 .7 .1-1.3 .2 1.9 .2-2.4 .1 4.7 .2-2.1 .1 3.3 .2 .9 .1-3.5 .2-.6 .1 6.2 .2 .3 .1-1.4 .2-.4 .1-4.4 .2 3.7 .2-.3 .1-3.1 .2 3.8 .1-2.1 .2 .4 .1 1.1 .2 1 .1-6.3 .2 5.1 .1 1.3 .2 .5 .2-1.9 .1-2 .2-4.5 .1 6.6 .2 2.1 .1 .5 .2 1.3 .1-4.7 .2 1.1 .1 2.9 .2 2.7 .2 .3 .1-2.7 .2 10.3 .1-6.3 .2 .9 .1-4.6 .2 3.9 .1-3.2 .2 1.4 .1 .1 .2-6.3 .2 1.4 .1 2.7 .2 .5 .1 4.2 .2-2.6 .1-1.2 .2-1.1 .1 .2 .2 1.8 .1-3.8 .2-1.9 .2-3.5 .1-2.4 .2 5.3 .1 2.3 .2-1.4 .1 2.1 .2 1.2 .1-3.4 .2 3 .1-1.7 .2 1 .1-2.7 .2 1.5 .2 .2 .1 1.9 .2-.3 .1 1.6 .2-1.7 .1-2.1 .2 4.4 .1-5.2 .2 4.6 .1-1.4 .2-1.9 .2 2.8 .1-4.8 .2 2 .1-.2 .2 1.6 .1-4.1 .2 1.7 .1-2 .2 1.8 .1-1.3 .2 3.6 .2-5.3 .1-.2 .2-.8 .1 1 .2-1.7 .1 3.4 .2-2.3 .1 3.1 .2-.5 .1 1.4 .2 2.9 .2-1.8 .1-.3 .2-.3 .1 1.8 .2 2 .1-5.3 .2 .1 .1 1.4 .2 3.1 .1 3.8 .2-6.2 .1 4.7 .2 4.1 .2-4 .1 5.1 .2 1.8 .1-4.6 .2-4.2 .1 2.8 .2-.7 .1-4.7 .2 2.8 .1 2.8 .2-3.1 .2 2.7 .1-1.3 .2-3.1 .1 1.2 .2 .3 .1-3.3 .2 3.9 .1-1.6 .2-.6 .1 .5 .2-.8 .2 0 .1 1.5 .2-.3 .1 6.5 .2 .3 .1-5.5 .2 2.8 .1 1.8 .2 5 .1-5.1 .2 1.3 .2 .3 .1 1.7 .2-6.4 .1-2.6 .2 1.1 .1 2.4 .2-3.7 .1-2.9 .2 8 .1-3.6 .2-.8 .2-1.4 .1-1.3 .2-.4 .1 1.2 .2-.3 .1-1.7 .2 2.5 .1 .2 .2-1.8 .1-5.3 .2 6.5 .1 .3 .2-2 .2-2 .1 4 .2-1.7 .1 3.8 .2-3.3 .1-1.7 .2-1.5 .1-1.7 .2 7.1 .1-1.3 .2-1.7 .2 1.6 .1 .6 .2-6.4 .1 3 .2-1.3 .1 3.2 .2-1.6 .1 2.7 .2-1 .1 3.7 .2-.8 .2-2.1 .1 1.2 .2-2.5 .1 1 .2 4.2 .1-2.4 .2 2 .1-2.4 .2 3.3 .1-.7 .2-1.3 .2-.5 .1 .2 .2 3 .1-1 .2-3.7 .1 2.2 .2 2 .1-1.3 .2 1.3 .1 4.1 .2 2.3 .1-.7 .2-4.4 .2 3.3 .1-.7 .2-1.1 .1-.6 .2 2.1 .1-1.6 .2 4.2 .1 .4 .2 .4 .1-5.3 .2 2.7 .2 1.8 .1-3.8 .2 1.1 .1-1.6 .2 4.4 .1 .2 .2-1.9 .1-8.6 .2 2.5 .1 1.9 .2-2 .2-2.2 .1 3.9 .2 .9 .1-2.4 .2 1.4 .1-1.5 .2 2.5 .1-5.6 .2 3.3 .1 .5 .2-3.1 .2 4.8 .1-4.3 .2 3.2 .1-1.5 .2 .9 .1 1 .2 3.5 .1-5.8 .2 .8 .1 2.3 .2-.1 .2 .1 .1 5.3 .2-7.3 .1 1.4 .2-3.9 .1-.4 .2 2 .1 1 .2-2.5 .1 .3 .2-1.2 .1 .2 .2 3.4 .2-5.4 .1 3.6 .2-6.3 .1 1.4 .2 1.4 .1-1.2 .2 4.1 .1 2.3 .2 2.8 .1-2.4 .2-4.7 .2 .5 .1-.3 .2 .2 .1 3.1 .2-2.6 .1 3.1 .2-.1 .1 2.8 .2-.7 .1 .9 .2-.2 .2 1 .1-1.7 .2-3.8 .1 4.8 .2 1.5 .1-2.5 .2 .4 .1 2.3 .2-2.4 .1-3.6 .2 1.8 .2 2.2 .1-5.8 .2 5 .1-3.5 .2 1.1 .1-4.6 .2 5.5 .1-2.2 .2-1.3 .1 .3 .2-.9 .1-.8 .2 6.5 .2-4.8 .1 1.8 .2-1.2 .1 .4 .2 2.7 .1 3.1 .2-5.6 .1 2.9 .2-2.6 .1-1.8 .2-.9 .2-3.9 .1 4.5 .2 2.6 .1 .1 .2-.6 .1-.7 .2-2.9 .1 .9 .2 5.8 .1-3.4 .2 2.8 .2-1.3 .1-.2 .2-1.7 .1 1.1 .2-3.6 .1 2.3 .2 1.7 .1 1 .2 .6 .1 .5 .2-.8 .2-3.9 .1 2.1 .2-5.7 .1 2.5 .2 1 .1-1 .2-2 .1-1.7 .2 .7 .1-2.1 .2 1 .2-.7 .1 5.5 .2-1.5 .1-3.6 .2-3 .1 8.3 .2-2.9 .1 3.6 .2-3.8 .1 5.7 .2-1 .1-.8 .2 .5 .2 2.1 .1 0 .2 5.4 .1-2.1 .2-1.8 .1-1.9 .2 2 .1 3.5 .2-4.3 .1-2.2 .2-.2 .2 .9 .1 2.4 .2-.9 .1 1 .2 1.2 .1-1.8 .2-1.7 .1 4.4 .2 .1 .1 3.4 .2-5.3 .2 1.8 .1-1.5 .2-5.9 .1 2.4 .2 3.1 .1-1.7 .2-1.1 .1 .7 .2 3.3 .1 .4 .2-2.6 .2-.7 .1 .2 .2-2.4 .1 0 .2-.9 .1 4.9 .2-1 .1-3.4 .2 4 .1 1.5 .2-2.6 .1-5.6 .2 7.2 .2-4 .1-2.5 .2-.3 .1 .6 .2 0 .1 1.7 .2-.3 .1 .6 .2-.4 .1-1.7 .2-1.6 .2 3.7 .1-3.2 .2-2.5 .1 1.4 .2-2.2 .1 3.8 .2-4.5 .1-3 .2 1.3 .1 3.7 .2-4.6 .2 2.5 .1 .1 .2-4.5 .1 7.2 .2-3.7 .1 3.5 .2-3.8 .1 .7 .2 .9 .1-3 .2-3.7 .2-.3 .1 .3 .2 1.5 .1 3.7 .2-6.7 .1 1.5 .2 2.6 .1 1.1 .2 .5 .1 3.1 .2 1.2 .2-1.8 .1-1.4 .2 5.9 .1-4.1 .2 4.9 .1-.5 .2-4.6 .1 2 .2 3.9 .1-2.4 .2-.6 .1-.6 .2 3.5 .2-2.9 .1-1.1 .2 3.2 .1-3.1 .2 1 .1 .2 .2-1.1 .1-1.1 .2 .4 .1 .6 .2 .1 .2-4 .1 .3 .2-2.3 .1 .1 .2 2.8 .1-3.9 .2 6.1 .1-5.2 .2 3.7 .1-3.7 .2 .1 .2 9.1 .1-1.1 .2-5 .1-1.1 .2 .8 .1 2.8 .2 1.1 .1-1.5 .2 1.3 .1-2.8 .2 7.2 .2-6.5 .1 3.4 .2-5.1 .1 .3 .2 .9 .1-.8 .2 3.3 .1 1 .2 1 .1-5.2 .2-2.5 .2-1 .1 1.4 .2-2 .1 3.1 .2 .7 .1-1.7 .2-4.3 .1 3.9 .2-2.7 .1-2.2 .2-.4 .1 2.3 .2-3.1 .2 3 .1-2.6 .2 2.9 .1-3.3 .2-1.1 .1 2.1 .2-4.7 .1 4.2 .2-3.2 .1 3.3 .2 2.7 .2-.8 .1-.7 .2-2.1 .1 1.6 .2 1.7 .1 2.5 .2-1.2 .1 4.4 .2-4.5 .1 2.3 .2-.4 .2-1.9 .1-2.2 .2 2.9 .1-.2 .2-1.1 .1 3.5 .2-2.9 .1-3.7 .2 7 .1-5.2 .2 3.8 .2-3 .1 .9 .2-.9 .1 1.1 .2-2.3 .1 4.8 .2-.3 .1 2.8 .2-5.3 .1 1 .2-1.2 .1 1.6 .2-2.5 .2 6.9 .1-4.7 .2-3.2 .1 4.8 .2 .5 .1-2.5 .2 1.3 .1-5.2 .2-3.4 .1 1.3 .2 5.1 .2-1.3 .1-2.1 .2-4.3 .1 4.3 .2 .6 .1-.2 .2 3.1 .1 2.7 .2 2.9 .1 4.2 .2-.1 .2 2.7 .1-8.5 .2 1.8 .1-2.7 .2-.1 .1 1.6 .2 4.4 .1-4.4 .2-.9 .1 4.7 .2-1.3 .2-2.6 .1 4.4 .2-4.3 .1 5.9 .2-1.1 .1-2.5 .2-1.5 .1 1.7 .2 .1 .1 2.3 .2-2.9 .2 7 .1-6.4 .2 2 .1-.8 .2-.7 .1 3.6 .2 .2 .1-5.6 .2 2.7 .1 3.2 .2-5.7 .1 .9 .2 10.2 .2-5.9 .1-4 .2 3.7 .1 1 .2 1.7 .1 .6 .2-2.5 .1-3.5 .2-4.1 .1 1.1 .2 2 .2 .8 .1-1.7 .2-.2 .1-2 .2-2.7 .1 2.2 .2 1.3 .1 2.7 .2 .1 .1 2.3 .2 1.9 .2-2 .1 4.8 .2-5.5 .1 .9 .2 .9 .1-1.2 .2 0 .1-3.1 .2 4 .1-5.1 .2 4.7 .2 3.9 .1-4.2 .2 2.3 .1-5.7 .2-4.2 .1 3.6 .2 3.5 .1-4.4 .2-6.2 .1 1.5 .2 1 .1 .1 .2-1.7 .2 1.1 .1 1.1 .2 .4 .1-.4 .2 2.1 .1 2.9 .2-2.5 .1-.6 .2-4.8 .1 .9 .2-5.9 .2 8.8 .1 .4 .2 3.5 .1-2.6 .2-.6 .1 .6 .2 1.5 .1 2.6 .2 1.5 .1-4.5 .2 2.1 .2 2.7 .1 1.1 .2-2.7 .1-2.6 .2 3.3 .1-1.1 .2 2.6 .1-2.8 .2-5.6 .1 6 .2-3 .2-.2 .1 1.9 .2 4.2 .1-.9 .2-1.5 .1 .1 .2 5.2 .1-3.8 .2 4.5 .1-.6 .2-2.4 .2-1.5 .1 .8 .2 2.1 .1-4.4 .2 1.3 .1 .1 .2 2.5 .1 6 .2-.7 .1-1.8 .2 4.8 .1-2.1 .2 2.4 .2-.9 .1 1.3 .2-.6 .1 .6 .2-3.6 .1-.5 .2 2 .1 .7 .2-.9 .1-1.4 .2 1.8 .2 1.6 .1-1.5 .2 4.5 .1 3 .2-1.7 .1 2.4 .2-2.7 .1-3.1 .2 2.9 .1 3.5 .2-3 .2-2.1 .1 2.7 .2 1.4 .1-2.7 .2-.6 .1-.2 .2 .4 .1 1.2 .2-.4 .1-1.4 .2 .8 .2 2.4 .1-1 .2-1 .1 1.9 .2-6.4 .1 1.9 .2 .5 .1-4.7 .2-.8 .1 .6 .2-2.6 .1 1.4 .2-1.3 .2 4.6 .1-4.8 .2-2.4 .1 1.7 .2-2.2 .1-2.8 .2 3.2 .1 1.9 .2-6.7 .1 5.9 .2 .6 .2-4.1 .1 0 .2 .2 .1-.6 .2 3 .1-1.3 .2-1.3 .1 .9 .2 .8 .1-2.5 .2 2.7 .2-7.3 .1 8.9 .2-3.2 .1 2.5 .2 .4 .1-1.1 .2-.8 .1-.2 .2 1.1 .1 1.2 .2-1.5 .2-1.9 .1 1.1 .2-.7 .1 1.5 .2-4.1 .1-2.1 .2 3.7 .1 2.2 .2 1.1 .1-.9 .2-5.9 .2 3.9 .1-5.2 .2 1.9 .1-2.6 .2 2.9 .1 1.9 .2-1.4 .1-5.7 .2 .2 .1 2.4 .2 1.1 .1-4.5 .2 9.3 .2-3.6 .1 1.2 .2-1.4 .1-4.1 .2 .5 .1-1.1 .2 5.3 .1-4.7 .2 4.4 .1-4.5 .2-.8 .2 4.8 .1-4.6 .2-.9 .1-3.1 .2 4.7 .1-.3 .2 1.5 .1-7.2 .2 .6 .1 4.7 .2-.9 .2 1.5 .1-2.2 .2-2.5 .1 4.2 .2-2.1 .1 3.5 .2 3 .1-3.9 .2 2.9 .1-1.3 .2 .4 .2 .1 .1 .5 .2 .4 .1 5 .2 1.5 .1-.4 .2 2.8 .1 3.2 .2 1.4 .1-1.2 .2 3.6 .1-2 .2-.4 .2-3.4 .1 .6 .2-4.9 .1 9.7 .2-.2 .1-5.4 .2 .9 .1-1.2 .2-3.8 .1 5.9 .2 1.7 .2-1.3 .1-3 .2 0 .1 4.3 .2-.5 .1-5.5 .2-1.5 .1 3.4 .2-2.3 .1-.3 .2 3.2 .2-2.4 .1-2.4 .2 3.8 .1 3.4 .2-5.9 .1-4.3 .2-1.1 .1 7.9 .2-12.1 .1 7.8 .2-4.5 .2-1.7 .1 .5 .2 .7 .1 2.6 .2-2 .1 3.5 .2 4.4 .1-8.9 .2 5.6 .1-3.6 .2 8 .2-6.3 .1-.3 .2 .8 .1 2.6 .2 1.9 .1-3.5 .2 5.1 .1-.6 .2-3.3 .1-.2 .2-2.2 .1 1.7 .2-3.7 .2 2.3 .1 2.6 .2-3 .1 1.5 .2 2.3 .1-3.5 .2 4.7 .1-.4 .2 2.7 .1-2.1 .2-3.1 .2 4 .1 .5 .2 1 .1 1.3 .2-1.2 .1-5.3 .2-2.7 .1 4.2 .2 2.1 .1-1.9 .2 4.2 .2-2.9 .1 1 .2-1.9 .1 3.2 .2 3.1 .1-1.3 .2 4.9 .1-2.3 .2-.9 .1-4.1 .2 3.5 .2-3.7 .1-1.5 .2 3.5 .1-1 .2 .7 .1-2.1 .2-1.2 .1 .9 .2 2.5 .1-6.1 .2 7.2 .1-3.3 .2 4.1 .2 3.2 .1-12.5 .2 1.6 .1 6 .2-5 .1 1.5 .2-1.9 .1 3.4 .2-.8 .1-4.9 .2 3.4 .2-2 .1 .7 .2-5.3 .1 4.8 .2-2.5 .1 4.6 .2-4.8 .1-5.1 .2 4.9 .1-2.2 .2 1.3 .2 .3 .1-2.9 .2-.1 .1 .2 .2-4.3 .1 2 .2 1.8 .1-.1 .2-2.6 .1-.7 .2-2.5 .2-2.9 .1 1.4 .2 1.3 .1-.4 .2 2.2 .1-.2 .2 .2 .1-1.7 .2-1.5 .1-.4 .2 3.4 .2 .8 .1 7.4 .2-4.7 .1 1.7 .2-3.9 .1 2.7 .2-3 .1 2.4 .2-1 .1-6 .2 6 .1-5.5 .2 .4 .2 .6 .1-.3 .2-.7 .1 3.7 .2-1.9 .1 .7 .2-1.5 .1-1.7 .2-1.6 .1 .4 .2 .5 .2 3.8 .1-5.7 .2-1 .1 3 .2 4.5 .1-.9 .2-.8 .1 1.7 .2 5.9 .1-5 .2-4.8 .2 10.3 .1-4.4 .2 1.6 .1 .8 .2-3 .1 10.4 .2-1.8 .1-2 .2 3.2 .1-.5 .2-2.9 .2 .1 .1-4.1 .2 5.1 .1-6.1 .2 5.4 .1-4.5 .2-.2 .1 5.4 .2-2.6 .1 1.5 .2-1.1 .1-4.5 .2 4 .2-.7 .1-5.1 .2 1.6 .1-3.4 .2 2.6 .1 2.1 .2-1.9 .1-2.4 .2 1.2 .1 1.8 .2 .8 .2 1.3 .1-1.4 .2-5.3 .1 3.7 .2 2.3 .1-1.8 .2-2.9 .1-.3 .2 2.5 .1-.7 .2-1 .2 2 .1 1.4 .2-4 .1 .5 .2-2.2 .1-1.6 .2 .1 .1 2.1 .2-5.4 .1 5.1 .2 1.6 .2-2.9 .1-.4 .2 2 .1-.3 .2-1.1 .1 5.7 .2-.7 .1 3.3 .2-2.1 .1 3 .2-1.6 .2 .4 .1 1 .2 .7 .1-3.2 .2 2 .1-1.1 .2 .3 .1 3.4 .2 .4 .1-2.8 .2 1.3 .1 .7 .2-1.9 .2-1 .1 8.7 .2-3.3 .1 1.5 .2-1 .1-1.1 .2 .8 .1-3.1 .2 1.8 .1-1.8 .2-2 .2 2.6 .1-2.9 .2-2.2 .1 2.2 .2 1.1 .1-.7 .2 2.1 .1-1.6 .2-2 .1 5 .2-1.6 .2-4.2 .1 3.8 .2 1.5 .1 2.8 .2-1.3 .1 .8 .2-5.8 .1 6.2 .2 1.3 .1 2.1 .2 1.3 .2-.5 .1 .1 .2-5.2 .1 2.9 .2-2.6 .1 1.9 .2-1.7 .1 5.9 .2-2.7 .1-.3 .2-.5 .1 3.3 .2-7 .2 2.8 .1-1.9 .2-1.5 .1 1.4 .2-2.6 .1 3.9 .2-4 .1-2.5 .2 1.1 .1 1.2 .2 .9 .2 1 .1-3.3 .2-2.2 .1 4.5 .2-5.9 .1 3.9 .2 1 .1-3.1 .2 3.9 .1 2.1 .2-1.9 .2-2.1 .1 .7 .2-2.5 .1-1.5 .2 5.3 .1-5.4 .2 3 .1-2.7 .2-.9 .1 1 .2 0 .2 2.2 .1-.4 .2 .5 .1 .1 .2 1.8 .1-.5 .2 2.5 .1-2.1 .2 4.3 .1-5.5 .2 4 .2 .6 .1 .2 .2-2.6 .1 1.3 .2-1.8 .1 3.5 .2-1.2 .1 .7 .2 2.3 .1-3.2 .2 2.6 .1-1.9 .2 1.4 .2 .6 .1-.6 .2 2.7 .1-2.7 .2-.3 .1-.7 .2 7.4 .1-3.1 .2-.7 .1 4.8 .2-.2 .2 5.7 .1-7.3 .2 3.7 .1-2.5 .2 6.5 .1-3.6 .2-.1 .1 1.1 .2 4 .1-1.7 .2-4.2 .2 5.4 .1-1.8 .2 .2 .1 .7 .2-3.8 .1-2.3 .2 4.2 .1 1.4 .2-8 .1-.5 .2-.9 .2-1 .1 6 .2-2 .1 1.6 .2 1.8 .1-7.4 .2 3.2 .1-6.8 .2 5.6 .1 .9 .2-3.9 .1-2.2 .2 2.1 .2 5.7 .1-6.2 .2-1.3 .1 5.6 .2 .2 .1-4.4 .2-.4 .1 2.6 .2-3.2 .1 .9 .2-6.3 .2-.5 .1-4.9 .2 2.3 .1 3.8 .2-3.1 .1-2.1 .2-.3 .1 .7 .2 3.9 .1 1.4 .2-3.2 .2 5 .1 3 .2-5.1 .1 2.9 .2-1.6 .1 4.2 .2 .3 .1-.4 .2-1.3 .1-.5 .2 4.5 .2-7 .1 3.9 .2 1 .1-5.3 .2 .7 .1 5.2 .2-5.6 .1 5.3 .2 0 .1-.8 .2-3 .2 4.2 .1-3.6 .2 4.8 .1-4.5 .2 4.9 .1-5.6 .2-7.4 .1 1.4 .2 .8 .1-5.1 .2 3 .1 2.2 .2-3.5 .2 6.2 .1-4.9 .2 1.2 .1 5.5 .2 1.4 .1-3 .2-1.6 .1 3.6 .2-6.1 .1 3.5 .2-2.7 .2 .5 .1-.5 .2-2.8 .1 3.6 .2-2.6 .1 .6 .2 3 .1 .5 .2-2.5 .1-4 .2 1.6 .2-2.8 .1-2.8 .2 0 .1 0 .2 4 .1 1.3 .2-6.3 .1-.3 .2-1.7 .1 3.7 .2-1.1 .2 1.2 .1-1.4 .2 .5 .1 .9 .2 1.7 .1-.9 .2-1.4 .1 3.6 .2-4.6 .1 2.1 .2-1.3 .2 .9 .1-.2 .2-3.6 .1 4.8 .2 3.3 .1 .7 .2-.1 .1-3.8 .2 3.6 .1-1.4 .2 3.7 .1-3.5 .2 3.8 .2-3.2 .1 7.2 .2-3.5 .1 1.3 .2 2.2 .1-3.9 .2 2.9 .1 3.9 .2-6 .1 2.3 .2 .8 .2 1.7 .1-5.2 .2 3.3 .1-5.7 .2 .7 .1 6.7 .2-1.7 .1 2.4 .2-.2 .1-.1 .2 1 .2-3.4 .1 2.6 .2 2.4 .1 .7 .2-1.5 .1 1 .2-1.5 .1-.4 .2 1.1 .1-1.2 .2-1.3 .2-4 .1 1.2 .2 1.4 .1 2.9 .2-4.6 .1 4 .2 1.7 .1-1.4 .2-.9 .1-2.9 .2 4 .1-4 .2 4 .2-.8 .1 4 .2-6.4 .1 5.1 .2-.7 .1-1.4 .2-.8 .1 4.1 .2-.3 .1 2.7 .2-2.7 .2 1.4 .1 .8 .2 2.2 .1-1.7 .2-1.3 .1-4.1 .2-2.6 .1 9.5 .2-5.1 .1 2.4 .2-1.4 .2 1 .1 .2 .2 1 .1-3.5 .2 1.8 .1 1.8 .2-2 .1 1.9 .2 1.1 .1-6 .2 2.9 .2 1.3 .1-2.2 .2 .4 .1 5.3 .2-2 .1-5.4 .2 1.4 .1 4 .2-.8 .1-.6 .2-.3 .2-.9 .1-5.5 .2 4.6 .1 .9 .2-5.9 .1 4.2 .2-1.8 .1-1.6 .2-1.9 .1 5 .2 .9 .1 1.8 .2-8.4 .2 1.4 .1 5 .2-4.2 .1-3.2 .2 .4 .1-2.6 .2-.1 .1 2.4 .2-.9 .1 2.3 .2-2.7 .2 .8 .1-4 .2 5 .1 4.9 .2-2.4 .1-2.5 .2 2.9 .1-1.2 .2 1.8 .1-1.9 .2 2.2 .2 2.7 .1-2.3 .2 1.1 .1-.6 .2 3.4 .1 .6 .2-2.9 .1 5.4 .2-5.2 .1 .8 .2 4.7 .2-1.4 .1 2.8 .2-5.2 .1-.5 .2-.4 .1 5.5 .2-.2 .1-1.6 .2-2.2 .1 1.7 .2-1.4 .1 2.7 .2-.4 .2-1.7 .1-.3 .2 5.6 .1-4.6 .2 .6 .1 6.5 .2-1.1 .1-5.6 .2-.7 .1 3.8 .2-6.2 .2 2.5 .1-.6 .2-6.2 .1 4.6 .2 .5 .1-2.6 .2 4.7 .1-2.1 .2-3.1 .1 2.1 .2-.3 .2-7.5 .1-.6 .2-2.2 .1 2.4 .2 .6 .1-3.9 .2 4.3 .1-3.9 .2 7 .1-5.3 .2 .8 .2-2.5 .1-1.8 .2-1.3 .1 4.8 .2-2.3 .1 1.5 .2-1 .1 1.6 .2-1.4 .1 1.8 .2-3.5 .2-.6 .1 2 .2 3.2 .1-.8 .2-5.8 .1 4.6 .2-4.7 .1 3.4 .2 .4 .1 .1 .2-5.3 .1-.6 .2 3.5 .2 .1 .1-3.2 .2 2.6 .1-3.1 .2 4.2 .1-1 .2 3.4 .1-7.3 .2 8.7 .1 4.9 .2-4 .2 .8 .1-4.4 .2 7.7 .1-1.4 .2-1.7 .1-.9 .2 6 .1-2 .2 2.3 .1 1.5 .2 .2 .2-.9 .1 2.3 .2-6.4 .1 8.5 .2-4.7 .1-1 .2 3.5 .1-.4 .2 0 .1-2.4 .2 .4 .2 1.1 .1-1.9 .2 3 .1-1.3 .2 1 .1-4.3 .2 3.1 .1 .1 .2-3.8 .1 .1 .2 6 .1-3.5 .2 2.3 .2-6.3 .1-2.3 .2 6.2 .1 2.5 .2 .6 .1-4.3 .2 1.4 .1-1.5 .2 3.4 .1-6.7 .2 2.8 .2-.3 .1-2.6 .2-1.1 .1 4.7 .2-1.2 .1-3.7 .2-2.7 .1-3 .2 8.5 .1-4.2 .2-1.8 .2-.1 .1-.1 .2-6.6 .1 3 .2 .8 .1 .2 .2-2.3 .1 7.6 .2-6.9 .1 1.9 .2-.4 .2 2.8 .1 1.8 .2-4.3 .1 1 .2-4.1 .1 3.2 .2-4.5 .1 1.9 .2-1.3 .1-.3 .2 1 .2 .2 .1 .4 .2 1.2 .1 .1 .2 2.8 .1-2.6 .2 2.1 .1-1.9 .2-2.2 .1 2.4 .2 1.5 .1 3.5 .2-.8 .2 3.7 .1-3.9 .2 1.5 .1-3.4 .2 2.3 .1-.4 .2-.3 .1 4.3 .2-1.2 .1 3.5 .2-4.1 .2 3.7 .1 .5 .2 2.9 .1-.2 .2-1.4 .1-6.2 .2 8.1 .1-1.8 .2 .1 .1 2.3 .2 .2 .2-1.8 .1 3.7 .2-4.6 .1 7.6 .2-.4 .1-.6 .2 2.9 .1-.5 .2 .8 .1 1.5 .2 1.3 .2 .4 .1 5.9 .2-6.1 .1-4.3 .2 4.6 .1 .6 .2 5.1 .1-3 .2 .4 .1-1.6 .2-3.2 .1 3.8 .2-2 .2 2.4 .1-4.8 .2 .1 .1 3.9 .2-3.5 .1-6.7 .2 6.2 .1-.8 .2 0 .1-3.3 .2-2.1 .2 3.3 .1 2.2 .2 .1 .1-3.7 .2 2.3 .1-5.1 .2-.8 .1 4.5 .2-2.3 .1-1.3 .2-1.2 .2 6.3 .1-6.8 .2 3.1 .1-1 .2-2.2 .1-1 .2 1.3 .1 2.4 .2-2.3 .1-5.6 .2-2.9 .2 2.8 .1-1.3 .2 1.8 .1-2.8 .2-1.7 .1 1.7 .2-.6 .1-3 .2 .1 .1 1.5 .2-2.4 .2 2.1 .1-4.8 .2 3.6 .1 2.1 .2 .5 .1 1.2 .2 1.3 .1 1.4 .2 .2 .1-.4 .2 .8 .1 5.8 .2-2.9 .2-1.2 .1-2.7 .2 2 .1 1.9 .2-.5 .1 2.5 .2 3.1 .1-2.5 .2 .5 .1 3.3 .2-3.6 .2 4.2 .1-3.7 .2 4 .1 1.9 .2 1.4 .1 .3 .2-4.1 .1 .5 .2 .3 .1 3 .2 4.8 .2-6.2 .1 3.4 .2-4.1 .1-.3 .2 .8 .1 2 .2-.2 .1-.2 .2 .4 .1 .3 .2-.5 .2-4.4 .1 1.9 .2-1.9 .1 3.6 .2-1.1 .1-.1 .2-2.6 .1-3.3 .2 2.6 .1 .7 .2 2 .1-5.4 .2 3 .2 1.2 .1-3.4 .2-1.6 .1-.7 .2 .8 .1-6.2 .2 .2 .1-.6 .2 2.2 .1 0 .2-1 .2-3.1 .1-1.4 .2 1.4 .1 1.3 .2 .5 .1-.7 .2 .9 .1-5.2 .2 .8 .1-2.8 .2 2.3 .2 3.5 .1 .3 .2 4.3 .1-6.1 .2 .9 .1-3.7 .2-.6 .1-1.1 .2-.7 .1 .3 .2-1.2 .2 4.8 .1 1 .2 1.2 .1-6.7 .2 1.8 .1 1 .2 5.3 .1 .2 .2 .7 .1 .3 .2 1.3 .2-.5 .1 1.3 .2-1.9 .1 3.4 .2 1.4 .1-.4 .2 2.4 .1-1.4 .2 3.2 .1-.1 .2 1.4 .1 1.7 .2-6.3 .2 4 .1-3.2 .2 .9 .1 4.4 .2 1 .1-.3 .2 1.7 .1 2.1 .2-2.5 .1 3.4 .2-.5 .2 3.5 .1-2.2 .2 2.5 .1-1.5 .2-1.4 .1 .7 .2 2.3 .1 1.8 .2-.3 .1 1.9 .2 2.2 .2-2.4 .1-1.3 .2-5.8 .1 3.2 .2-1 .1-2.5 .2 4 .1-6.2 .2-.7 .1-4 .2 5.6 .2 .5 .1-.5 .2 .5 .1 2.2 .2-5 .1 3.1 .2-2.9 .1-1.9 .2-3.6 .1 2 .2 .6 .1-1.5 .2 .7 .2-2.1 .1-.3 .2-1 .1-2.3 .2-2 .1-.3 .2 .7 .1 3.9 .2 2.4 .1-.8 .2 2.2 .2-7.3 .1-.4 .2 2 .1-4.3 .2 1.3 .1 1.6 .2-3.6 .1-2.6 .2 3.7 .1-3.4 .2 1.8 .2 0 .1-.8 .2 4.5 .1-1.2 .2-.6 .1-1.2 .2-.7 .1 1.8 .2 0 .1-6.3 .2 1.4 .2-2.1 .1 3.7 .2-3 .1-.2 .2 1.2 .1-.9 .2-2.8 .1 2.6 .2-1.6 .1 1.7 .2-.6 .2 3.1 .1-4.1 .2 1.6 .1 1 .2 1.6 .1-.8 .2-1.8 .1 3.7 .2 1.4 .1-.5 .2 1.9 .1 .1 .2 1.2 .2 5.2 .1-7.1 .2 3 .1 4.5 .2-2.2 .1 3.2 .2-6 .1 2.8 .2 3.6 .1-4.9 .2 1.9 .2-7.6 .1 6.3 .2 4.4 .1-4.3 .2 1.2 .1-.2 .2 3.9 .1-4.9 .2-5.3 .1 7.3 .2-5.9 .2 3.7 .1-6.2 .2 1.9 .1 .9 .2-3.9 .1 5.3 .2 1.1 .1-4.4 .2-.1 .1 3.1 .2-5.7 .2 3.8 .1 1.2 .2-.2 .1 3.9 .2-3 .1-3.7 .2-.8 .1 .4 .2-5.6 .1 5.1 .2-1.9 .1 1.4 .2 1.3 .2-3.4 .1 1.5 .2-4 .1 1.5 .2 .7 .1 5.3 .2-5 .1 .5 .2-2.3 .1 2 .2 1.3 .2-5.3 .1 .5 .2 3.3 .1-2.5 .2 5 .1 .6 .2-1.3 .1 1.9 .2-1 .1-1.6 .2-4.2 .2-.3 .1 2.9 .2-4.1 .1 3.5 .2-1.5 .1 1.2 .2-.8 .1-2.9 .2 3.1 .1 2.9 .2-6.8 .2 3.7 .1 .9 .2 3.7 .1-8.7 .2-.1 .1-.2 .2-2 .1-2.5 .2 3.5 .1 0 .2 3.4 .2-1.7 .1-5.6 .2 .9 .1 4 .2-4.6 .1 2 .2 1.9 .1-2.4 .2 3.9 .1 1 .2-1.2 .1-5.2 .2 8.4 .2-4.1 .1-2 .2 1.7 .1 5.8 .2-2.1 .1 1.4 .2 1.5 .1 3.1 .2 1.6 .1-4.6 .2 .1 .2 .7 .1 1.9 .2-1.7 .1 .9 .2-2.8 .1 3 .2-3.6 .1 .2 .2 6.8 .1-2 .2 .2 .2 .1 .1 0 .2 1.1 .1-3.6 .2-.5 .1-.3 .2-1.5 .1 5 .2-.6 .1-3.5 .2 .9 .2-3.7 .1 2.6 .2 3.7 .1-6.1 .2 5.3 .1-.5 .2-8.6 .1 7.3 .2-.1 .1-.2 .2-1.1 .1 5.8 .2-1.4 .2 3.1 .1 3.8 .2-6.3 .1 .3 .2 2.4 .1 1.3 .2 .8 .1 .5 .2-5.1 .1 3.7 .2-1.3 .2 2.4 .1-2 .2 1.2 .1-1.6 .2 4 .1-4.4 .2-2.7 .1 5 .2-.6 .1-4.1 .2 1.7 .2-.1 .1 5 .2-3.8 .1 4.8 .2-.9 .1-.7 .2 3 .1-4.2 .2-3.5 .1 2.1 .2 0 .2 2.6 .1-1.1 .2-.1 .1-1 .2 1.1 .1-1.4 .2-2.6 .1 0 .2-.4 .1-.2 .2-3.2 .2 2.9 .1-3.3 .2-1.4 .1 3.3 .2-3 .1 3.5 .2-6.9 .1 1.9 .2 3.6 .1 5 .2-2.6 .1 5.4 .2-2.8 .2-1.9 .1 2.1 .2 2.6 .1-3.2 .2 4.2 .1-3.9 .2 1.1 .1 1.2 .2-2.3 .1 3.7 .2-5.6 .2 3.9 .1-1.2 .2 6.8 .1-3.7 .2 2.7 .1 2.2 .2-3.4 .1-1.8 .2 5.2 .1-2.4 .2 4.5 .2-.9 .1-1.8 .2 .6 .1 2.7 .2-7 .1 3.7 .2 3 .1 2.7 .2 .6 .1-2.4 .2-3.2 .2 1.3 .1 3.5 .2-1.1 .1-6.8 .2 6.8 .1-.5 .2-4.7 .1 5.4 .2 2.8 .1 1.9 .2 .1 .2-.7 .1-1.7 .2-1.7 .1-1.6 .2-.7 .1 1.1 .2-1.7 .1 3.6 .2 .2 .1-2.6 .2 2.3 .1-1 .2-.8 .2 5.2 .1-.6 .2-.3 .1 .5 .2 .2 .1-1.1 .2 .9 .1 2.1 .2-5.3 .1-3.8 .2 6.4 .2-3.1 .1-.4 .2-1.5 .1 4.1 .2-8 .1 3.4 .2 .2 .1-.7 .2-1.8 .1 .2 .2-1 .2-4.4 .1 4.7 .2 2.4 .1-3.8 .2-1.4 .1 1.3 .2 3.5 .1-6.7 .2 .7 .1-2.7 .2 2.3 .2-5.9 .1 .5 .2 .3 .1-3.9 .2-2.8 .1-.7 .2 1.7 .1-3.5 .2 1 .1-.3 .2 5.1 .1-2.3 .2-4.2 .2 3.1 .1 .3 .2-5.3 .1-.4 .2 4.2 .1 3.7 .2-2.3 .1-.7 .2-1.7 .1-1.1 .2 2.9 .2 1.8 .1-2.4 .2 2.5 .1-.4 .2 1.8 .1-6.5 .2 3.5 .1 2.8 .2-.1 .1-.6 .2 2.1 .2-.4 .1 3 .2-4.8 .1 3.8 .2 .6 .1 1.4 .2-2.4 .1-1.6 .2-1 .1-2.8 .2 4.2 .2-2.9 .1-.3 .2-1 .1 2.5 .2-4.1 .1-4.3 .2-1.6 .1 2.9 .2-1.3 .1 2.7 .2 .8 .2-2.3 .1-.9 .2 .5 .1 .4 .2-.3 .1-.9 .2 .1 .1 2.4 .2-3.8 .1 3.1 .2 1.4 .1-2.3 .2 .3 .2 4.1 .1-1.6 .2 4.5 .1-1.1 .2 3.8 .1-8 .2 7.6 .1-5 .2 3.6 .1-.7 .2-3.2 .2-2.6 .1 0 .2-2.7 .1 4.8 .2 1 .1 2.9 .2-3.3 .1 2.1 .2 2.5 .1-2.7 .2 .2 .2 .8 .1-4.4 .2 1.5 .1 .8 .2-3.9 .1 6.3 .2-4.3 .1-2.2 .2 10.6 .1-4.4 .2-2.1 .2 3.1 .1-6.6 .2 11.5 .1-8.9 .2-1.1 .1 .4 .2 2.4 .1-3.4 .2 4.4 .1-3 .2 3.8 .1-.6 .2-1.5 .2 5.5 .1-.3 .2 .6 .1 3.7 .2-3.4 .1 .7 .2 5.7 .1-6.1 .2-.3 .1-.7 .2-.2 .2 3.1 .1-4.7 .2 3.8 .1-3.8 .2 3.7 .1-3 .2 4.6 .1 .1 .2 3.7 .1-3.3 .2-1.8 .2-2.1 .1 2.1 .2 .9 .1 1 .2-2.3 .1 4.4 .2-3.9 .1 .6 .2 6 .1 1.2 .2-5.7 .2 3.6 .1 1.8 .2-3.9 .1 3.9 .2-.9 .1 1.8 .2 2.7 .1-7.4 .2 4.3 .1 1.9 .2-.8 .2-3.2 .1 2.9 .2-2 .1 6 .2-5.9 .1 4.1 .2-5.4 .1 .6 .2 2.6 .1-4.9 .2 2.4 .1-1.1 .2-.4 .2 1.9 .1-3.1 .2-1.4 .1 5.6 .2-4 .1 1.8 .2-2.5 .1-.3 .2 4.8 .1 1.7 .2-8.2 .2 5.5 .1 3.1 .2-2.8 .1 3.3 .2 2.3 .1 .8 .2-3.4 .1-6.5 .2 1.7 .1 0 .2-1.6 .2 1 .1 7.3 .2-5.6 .1 2.3 .2 1.4 .1-.6 .2-.4 .1 1.2 .2 1.6 .1-3.3 .2-4.2 .2 8.4 .1 1.2 .2-3 .1-1.1 .2-2.6 .1-.2 .2-5 .1 5.1 .2-.7 .1 1.3 .2-1.3 .1-4.7 .2-.7 .2 3.4 .1 0 .2 .3 .1-1.8 .2 5.3 .1-.3 .2-4.5 .1 6.7 .2-3.8 .1 .1 .2 1.5 .2 .9 .1-5.2 .2 8.1 .1-9.1 .2-3.4 .1 2.6 .2 0 .1-1.2 .2-.7 .1 6.4 .2-5.1 .2-4 .1 0 .2 1.7 .1-2.2 .2 1.2 .1-.7 .2 1.1 .1 2.4 .2-.6 .1-.9 .2 1 .2-4.5 .1 4.7 .2 2.9 .1-5.6 .2 4.4 .1-.5 .2 1.4 .1-.9 .2 2.3 .1 4 .2-1.6 .2-4.1 .1 8.5 .2-3.9 .1 .9 .2 4 .1 1.2 .2-7.3 .1 4.6 .2-5.9 .1 .6 .2 1.7 .1-1.8 .2-.7 .2-4.2 .1 .6 .2 1.1 .1-1 .2-2.2 .1 1.9 .2 2.2 .1-1.2 .2-3.5 .1 1.6 .2-.2 .2 2.2 .1 .8 .2-1.9 .1-.8 .2 1.3 .1-4 .2 5.4 .1-5.8 .2 3.2 .1-.8 .2 2.5 .2 4.1 .1-7.2 .2 .6 .1-3.3 .2 8.1 .1-9 .2 3.9 .1-1.5 .2 8.6 .1-6.2 .2-.9 .2-2.1 .1 1.3 .2 1.2 .1-3.2 .2-.1 .1-1.1 .2-.3 .1 .2 .2 1.4 .1 2.9 .2 .2 .1-6.1 .2 1.2 .2 2.4 .1 1.8 .2-1.7 .1-1.5 .2-.6 .1 2.6 .2-7 .1 3.7 .2 2.5 .1 1.2 .2-2.3 .2-5.1 .1 1.8 .2 1.4 .1-.3 .2 .8 .1 0 .2-6 .1 3.3 .2-4.3 .1 6.1 .2 .1 .2-3.9 .1 2.6 .2 2.2 .1-1.3 .2-4.1 .1 .1 .2 1.9 .1-4.2 .2 1.5 .1 2.4 .2 2.6 .2-1 .1-1.8 .2-1.1 .1 1.7 .2-.6 .1 2.4 .2 3 .1-2 .2-4.3 .1-1.7 .2-1.1 .2 3.7 .1-.7 .2-3.3 .1 2.1 .2 1.9 .1-3 .2-.4 .1 1.2 .2-.4 .1-1.6 .2 4.3 .1-6.7 .2 3.8 .2-.3 .1-2 .2-.2 .1-2.7 .2 .4 .1-3 .2 .9 .1-4.1 .2 1.8 .1 1.1 .2-3 .2-.3 .1-4.1 .2 3.1 .1-.8 .2 2.6 .1-1.7 .2 2.3 .1-.4 .2 .3 .1 2.1 .2 2.9 .2-3 .1-4.1 .2 5.5 .1-.6 .2 1.4 .1 .6 .2-5.5 .1 4.8 .2-1.5 .1-3.3 .2-1.4 .2 5.3 .1-4.5 .2-.7 .1-1.6 .2-.7 .1 2.6 .2-3.5 .1 0 .2 .3 .1-1.6 .2 0 .1-.5 .2-.5 .2-3.2 .1 4.5 .2 2 .1 2.4 .2-.5 .1 4.5 .2-2.3 .1 1.3 .2 2.9 .1-5.9 .2-2.7 .2 1 .1 4 .2-5.1 .1 5.3 .2 .9 .1 1.6 .2-1.1 .1-2.3 .2-2.1 .1 3 .2 .9 .2-3.2 .1 4.2 .2-.1 .1 5.7 .2-3.1 .1 .2 .2 2.3 .1-1.8 .2 2.6 .1 2 .2-.5 .2-2.9 .1 1.3 .2 3.5 .1-2.1 .2 3.8 .1-1 .2 2.1 .1 1 .2-1.2 .1 6.5 .2-.7 .2 2 .1 .4 .2 .3 .1-1.1 .2 0 .1-5.3 .2 3.7 .1 1 .2-1.3 .1 .9 .2 1.6 .1 3.1 .2-1.1 .2-1.8 .1 .5 .2-.8 .1 8 .2-5 .1 1.6 .2-3.9 .1 5.3 .2-3.2 .1 4.5 .2-.1 .2-.8 .1-1.7 .2-.2 .1-3.9 .2-1.3 .1 1 .2 2.7 .1-2.9 .2 2.7 .1-5 .2 2.8 .2 1.5 .1 1.9 .2 3.9 .1-2.2 .2 .3 .1-4.7 .2 1 .1 1.6 .2 .9 .1-4.8 .2 3.4 .2-1.1 .1-1.9 .2 1.9 .1 .6 .2-2.3 .1-1.4 .2 8 .1-6 .2 .4 .1-2.7 .2 1.9 .1-.8 .2-1.9 .2 2.1 .1 0 .2-1.3 .1-.8 .2 .5 .1-3.9 .2-.1 .1 .2 .2-.8 .1 1.7 .2-.4 .2-2.4 .1 .5 .2 2.3 .1 2.2 .2-3.4 .1-1.3 .2-.9 .1-7.2 .2 1.5 .1-.7 .2-1 .2 1.6 .1-.2 .2-4.9 .1 7.7 .2-1.7 .1 1.1 .2 5.3 .1-1.9 .2-.9 .1-4.2 .2 7" class="r"/>
<path d="M562.4 341.9l.1-25.2 .2-51.1 .1 39.3 .2 40.1 .2 5.5 .1-18.9 .2-1.6 .1-.5 .2 3.3 .1 2.1 .2-48.1 .1-6.7 .2 48.8 .1 22.3 .2 .3 .2-9.9 .1-2.8 .2-21.4 .1-46 .2 37.1 .1 27.6 .2 10.3 .1-14 .2-12.3 .1-52.7 .2 35.6 .1 32.5 .2 17.9 .2-19.7 .1 1.4 .2-6.4 .1 2.7 .2-24.8 .1-34.9 .2 52.8 .1 16.9 .2 15 .1-11.9 .2-11.3 .2-.5 .1-15.5 .2-41.1 .1 42 .2 29.9 .1 8 .2-15.5 .1-3.3 .2-14.7 .1-33 .2 3.9 .2 35.4 .1 8.6 .2 5.2 .1-12.9 .2 1.4 .1 1.4 .2-39.5 .1-14.9 .2 57.6 .1 .4 .2 2.2 .2-4 .1-6.8 .2-20.8 .1-33.9 .2 33.4 .1 24.1 .2 12.1 .1-10.6 .2-2.6 .1-12.1 .2-17.7 .1 25.9 .2 13.5 .2-2.2 .1 4.2 .2-15.6 .1 1.5 .2-3.9 .1-6.4 .2-40.3 .1 30.4 .2 12.5 .1 3.1 .2-11.1 .2 12.4 .1-5.4 .2 4.8" class="rs"/>
<path d="M576.0 322.8l.1-2.3 .2-.7 .1 1.4 .2 4.1 .1-2.8 .2 .4 .1-6.8 .2 3.1 .2-3.7 .1 3.8 .2 .5 .1 1.7 .2 2.4 .1-1.4 .2 6.4 .1-5.7 .2 5.4 .1-4 .2 4.8 .2-5.8 .1-1.8 .2 2 .1 1.4 .2 2.1 .1-.4 .2-1.9 .1 2.4 .2-1.1 .1 .1 .2 1 .2-.5 .1-.6 .2 2.1 .1-3.5 .2 7.2 .1-2.6 .2-.7 .1 5.5 .2-4 .1-.3 .2-.4 .1 3.6 .2-2.9 .2 3.9 .1 .8 .2-4.2 .1 .6 .2-2.9 .1 .7 .2 1.2 .1 3.4 .2-.1 .1-1.1 .2-4.9 .2 7.9 .1 3.1 .2-6.3 .1-2.2 .2 4.6 .1-4.1 .2 2.5 .1-5.7 .2 1.2 .1-.5 .2 .9 .2-.4 .1 .9 .2 2.8 .1 .9 .2 .4 .1-2.6 .2-.3 .1-3.5 .2 7.1 .1-7.2 .2 1 .2-.9 .1 3.2 .2 3.7 .1 .8 .2-4.3 .1 3.6 .2 1.3 .1-.1 .2-.9 .1 .8 .2 4.5 .1-2.5 .2-6.2 .2-2.1 .1 2.2 .2 1.4 .1-4.8 .2 4.6 .1 2.9 .2-2.7 .1 .2 .2-2.1 .1 3.7 .2-4.2 .2 3.2 .1-3.4 .2 2.9 .1 .6 .2 5.7 .1-1.1 .2-2.6 .1 5.6 .2-9.4 .1-1.2 .2 .3 .2 2.6 .1-.4 .2-.4 .1 1 .2-1.3 .1-.3 .2-.7 .1 4.5 .2-2.5 .1 4.9 .2-4.1 .2 .4 .1 .4 .2-.5 .1-.3 .2 .1 .1-1.9 .2-.7 .1-.2 .2 3.3 .1-1.9 .2 .8 .2 1.1 .1-3.4 .2 6 .1-1.6 .2-4.7 .1 3.8 .2-.8 .1 2.9 .2 0 .1 .3 .2-5 .1 2.5 .2 6.9 .2-3.2 .1-2.3 .2 1.4 .1 1.2 .2-2.9 .1-.7 .2 3.5 .1-4.5 .2-1.1 .1 2.8 .2-3.3 .2-.7 .1 .4 .2-1 .1 4.1 .2-4.5 .1-.5 .2 1.2 .1 2.7 .2-3.2 .1 2.4 .2 3.7 .2-6.9 .1 5.1 .2 .8 .1-2.2 .2 2.7 .1-3.7 .2-1.6 .1-2.1 .2-.9 .1 1.6 .2-.5 .2 1.2 .1 5.1 .2-5.4 .1 1.2 .2 2.1 .1-1.2 .2-1.5 .1 2.3 .2 4.2 .1-4.3 .2-.7 .1 2.1 .2-1.7 .2 2.2 .1-3.7 .2 .4 .1 .1 .2-.7 .1-.5 .2-.4 .1 .1 .2 2.3 .1-.7 .2 5.2 .2-1.2 .1-4.6 .2 3.6 .1-4.7 .2-1.2 .1 7.2 .2-2.6 .1-5.9 .2 8.4 .1-3.7 .2 .5 .2 3.2 .1 .3 .2 .3 .1-3.3 .2 1.7 .1-1.2 .2 3.1 .1-3 .2 .6 .1 1 .2-3.3 .2 1.3 .1-.8 .2-4.6 .1 7 .2-3.8 .1 .9 .2 1.6 .1-4.3 .2-.3 .1 5.6 .2-2.8 .2 0 .1 1.1 .2-2.6 .1-.1 .2 4.4 .1 2.2 .2-5.3 .1 3.9 .2-.3 .1-1.1 .2 3 .1-3.5 .2-3.7 .2 10 .1-6.1 .2 1.7 .1-.8 .2 1.4 .1-4.3 .2 .5 .1 1.8 .2 1.1 .1-3.6 .2-2.3 .2 4.8 .1-3.3 .2 2.5 .1 7.1 .2-7.1 .1 .9 .2-5 .1 1.7 .2 4.8 .1-1.6 .2 2.1 .2 2.6 .1-5.9 .2 1.4 .1-.2 .2-1.6 .1-3 .2-.6 .1 2.7 .2 3.6 .1-1.3 .2-4.1 .2 6.7 .1-3.1 .2-3.3 .1-.4 .2-1.2 .1 .5 .2 .1 .1 6 .2-3.2 .1 .5 .2-1.1 .2 .7 .1-4.1 .2 6 .1-1.3 .2 1.4 .1-1.7 .2-1.8 .1 .6 .2-3.2 .1 3.4 .2-1.2 .1 4.7 .2 1.7 .2-1.4 .1-3.1 .2-.6 .1-1.2 .2-.4 .1 .9 .2 1.3 .1 1.2 .2 1.9 .1-4.1 .2 3.1 .2-2.5 .1-3.5 .2 2.8 .1 2.2 .2 1.1 .1-4.1 .2 1.7 .1 2.3 .2 2.9 .1 2.3 .2-3.5 .2-7.6 .1 6.8 .2-6.5 .1 4.9 .2-.2 .1-.9 .2 .6 .1-1.6 .2 1.8 .1 .9 .2 1 .2-.3 .1-7.5 .2 4.8 .1 4.1 .2-8.1 .1 6 .2-2.6 .1 0 .2 2 .1-1.8 .2 4.3 .1 2.5 .2-4.5 .2-2.9 .1 2 .2-3.3 .1 1 .2 2 .1-6.6 .2 4 .1-2.8 .2-1.2 .1 1.1 .2 1 .2 4.5 .1-5.4 .2 .5 .1 .3 .2-1.4 .1 3.3 .2-5.5 .1 1.6 .2-1.2 .1 7.4 .2-3.8 .2-5 .1 6.7 .2-1 .1-3.5 .2-1.9 .1 4.6 .2 1.2 .1-2.9 .2-2.6 .1-.1 .2-1.5 .2-.9 .1-1 .2-.1 .1 1.1 .2 2.6 .1-2 .2 2.1 .1 2 .2-1.1 .1-.8 .2 1.6 .2 1.8 .1-2.3 .2 .6 .1 3.8 .2-1.3 .1 1.4 .2-1.2 .1 .6 .2-2 .1-.2 .2 .9 .1 1.7 .2 .8 .2 .7 .1-1.3 .2-1 .1 2.5 .2-2.6 .1 1.3 .2 .7 .1-1.9 .2 .5 .1-2.5 .2 4 .2-1.1 .1 1.2 .2 2.1 .1 3.1 .2-4.3 .1 1.8 .2-2.6 .1 5.6 .2-.3 .1-.7 .2-.8 .2 2.9 .1-2.9 .2-8.2 .1 4 .2 1.5 .1 6.2 .2-1.3 .1-4 .2 2 .1-.2 .2-4.2 .2 3.9 .1-1.5 .2 5.1 .1-8.7 .2 5.9 .1 1.5 .2-6.8 .1 5 .2 .4 .1 1.2 .2-2.4 .1 .5 .2 5 .2-1.7 .1-3.5 .2 .1 .1 3 .2 .7 .1-2.8 .2-1.6 .1-1.9 .2 1.1 .1 1.5 .2-.6 .2-2.6 .1 1.3 .2-3 .1 .1 .2 .8 .1 5.9 .2-2.4 .1-1.7 .2 2.7 .1-5.8 .2 3.6 .2 .5 .1-.7 .2-1.8 .1 2.5 .2-2.9 .1 2.7 .2-1.5 .1 3 .2-.6 .1 .4 .2-2.4 .2 .4 .1 1.6 .2 3.1 .1-1.8 .2 .5 .1-.1 .2-3 .1-5.1 .2 1.4 .1 .6 .2-.5 .2-.5 .1-1.2 .2 1.6 .1 4.2 .2-.7 .1 2.7 .2-1.9 .1-.9 .2 2.9 .1-1.9 .2 1 .1-2.2 .2-3.7 .2 .5 .1 2.1 .2 3.3 .1-2.3 .2-.2 .1-.1 .2 3.6 .1-1.3 .2 1.4 .1 1.3 .2-5.7 .2 1.6 .1 2.3 .2 1.8 .1-3.2 .2 1.1 .1 .4 .2-1.1 .1-2.9 .2-1.1 .1-1.2 .2 5.1 .2-2.7 .1 1.5 .2 .3 .1-2.8 .2 3.8 .1-3.7 .2 .1 .1 3.1 .2 1.2 .1-4.7 .2 1.2 .2 3.2 .1-.6 .2-.6 .1-1.3 .2 6.5 .1-5.3 .2 2.4 .1-3.2 .2 2.7 .1-.3 .2-.3 .1-.1 .2-3.8 .2 3.6 .1-.9 .2-3.7 .1 3 .2-6.2 .1 7.5 .2-8 .1 5.7 .2-3.4 .1-.7 .2 2.7 .2 4 .1-2 .2-.2 .1 .4 .2 2.1 .1-1.2 .2-1.2 .1 2.8 .2-4.7 .1 4.2 .2-5.7 .2 3.4 .1 3.1 .2-6.5 .1 2.9 .2-1.6 .1 3.5 .2-.8 .1-3.2 .2 3.7 .1-1.4 .2 .1 .2 1.4 .1 1.3 .2-5.6 .1 6.4 .2-.8 .1-2.9 .2 .4 .1-1.9 .2 2.6 .1 .5 .2-.2 .2 4.1 .1-.4 .2-3 .1-1.4 .2-2.7 .1 2.1 .2 .6 .1-2.6 .2 3.4 .1-3.5 .2 .1 .1 4 .2-1.7 .2-.3 .1 2 .2-.1 .1-1.3 .2-2.7 .1-4.9 .2 3.8 .1 0 .2 8.1 .1-7.5 .2-2.1 .2 1 .1 5.3 .2-4.4 .1 2.8 .2-3.9 .1 3 .2-1 .1 3.4 .2-4.2 .1 2 .2-1.3 .2-1.4 .1 .4 .2 3.7 .1 2.2 .2-1 .1-.8 .2 .4 .1-4.4 .2-2.9 .1 1.1 .2 1.1 .2 2.2 .1-4.2 .2 2.4 .1 1.8 .2-5.5 .1 6.1 .2-4.9 .1 3.2 .2-2.3 .1-1.3 .2 .6 .1 2.7 .2 1.4 .2-.6 .1-1.7 .2-3.4 .1 2.4 .2 3.6 .1-.5 .2-1.8 .1-2.9 .2 3.9 .1-1.7 .2 1.5 .2 2 .1-.2 .2-4.4 .1 3.2 .2 2.9 .1-2.7 .2-3.3 .1 3.1 .2-5.1 .1 4.4 .2 .8 .2-2.5 .1 3 .2 .1 .1-1.2 .2-1.7 .1 1.4 .2-.3 .1 1.9 .2 .4 .1-4 .2 2.4 .2 1.1 .1-.7 .2-3.9 .1-.7 .2 2.2 .1-1.4 .2-2.3 .1 3.1 .2-1.4 .1 3.4 .2 1.4 .2 1.6 .1 2.7 .2-4.2 .1-.4 .2 2.3 .1-2.1 .2-.9 .1 1.4 .2 5.1 .1-6 .2 .7 .1 5 .2-5.8 .2 2 .1 2.9 .2 1.2 .1 2.2 .2-7.7 .1 3.5 .2-6 .1 2.3 .2 2.5 .1-5.7 .2 5.8 .2-5.1 .1 1.3 .2 .9 .1 4.6 .2-2.7 .1 .9 .2-1.1 .1-1.7 .2-1 .1-.2 .2 5.2 .2 .9 .1-.6 .2-1.2 .1 4.1 .2-3.3 .1-5.5 .2 4.5 .1-.3 .2-.3 .1-3.4 .2 .8 .2 .5 .1 2.9 .2-6.5 .1 2.3 .2 2.6 .1-1.7 .2-3.2 .1 3.8 .2 1.3 .1-1.3 .2 0 .1 5.2 .2-5.1 .2-3.8 .1 3.4 .2-4.4 .1 9.7 .2-7 .1-5 .2-1.7 .1 5.6 .2 2.2 .1 .4 .2 3.6 .2-4.8 .1 5.7 .2-1.7 .1-1.2 .2-4.1 .1 5.2 .2 1.6 .1-2.1 .2 4.1 .1-4.6 .2 2.2 .2-3.5 .1-1.6 .2 7.1 .1-3 .2-1.2 .1 3.5 .2-6.8 .1 5.7 .2-6.8 .1 1.9 .2 .8 .2 1.4 .1-2.6 .2 4.1 .1-1.7 .2 .7 .1-4.2 .2 2.7 .1 1 .2 .2 .1 2.5 .2-3.2 .2-1.2 .1 2.5 .2-2.9 .1 1.8 .2 .9 .1-2 .2 3.8 .1 1.3 .2 .2 .1-4.1 .2 .8 .1-5.7 .2 8.7 .2-3.9 .1-.2 .2-1.6 .1-3 .2 2.1 .1-.9 .2-4.6 .1-1.3 .2 7 .1-5 .2 2.1 .2 1 .1-1.3 .2-2 .1-.9 .2 1.1 .1 2.3 .2-3.4 .1 1.6 .2-2.5 .1 1.8 .2-1.3 .2 2.4 .1-.8 .2 1.4 .1 3.9 .2-7.4 .1 1.5 .2 4.4 .1-3.2 .2 6.6 .1-5.6 .2 1.1 .2 3.1 .1-6.6 .2 3 .1-2.7 .2 2.8 .1-2.3 .2 2.2 .1-.1 .2-.4 .1-.1 .2 4.6 .1-2.9 .2 2.8 .2 .1 .1-4.9 .2 1.2 .1 4.1 .2-2.6 .1-2.3 .2 3.5 .1-.7 .2 4.6 .1-4.1 .2-3.4 .2 4.6 .1-2.4 .2-2.2 .1 1.9 .2-1.8 .1-2.4 .2 2.1 .1 5.8 .2-4.7 .1 3.6 .2-8.9 .2 4.9 .1 3 .2 1 .1 1.9 .2 3.8 .1-8.9 .2 3.5 .1 2.8 .2 2.4 .1-5.1 .2-1.8 .2 1.2 .1-1.4 .2 3.2 .1-6.2 .2-.7 .1 1.1 .2 1.3 .1 1.6 .2 .9 .1-2.5 .2 2.7 .2 1.3 .1-3.7 .2 4.3 .1-2 .2-3.1 .1 0 .2 .5 .1-1.1 .2-.8 .1 .7 .2 1.5 .1-.7 .2 .3 .2-2.5 .1-2.6 .2 .3 .1 3.1 .2 .7 .1-3.2 .2 3.3 .1 .3 .2 1.7 .1-4.3 .2 3.8 .2-3.5 .1-1.3 .2 3 .1 .3 .2 .9 .1-2.3 .2 2.2 .1-2 .2 1.3 .1 .7 .2-1.8 .2-2.9 .1 7 .2-3.7 .1-3 .2 2.1 .1-1 .2 .4 .1-3.2 .2 2.4 .1 .3 .2-.1 .2 1.2 .1 2.2 .2 1.1 .1 .4 .2 0 .1-2 .2 1.1 .1 6.2 .2-5.4 .1-1.6 .2 .3 .1 1.7 .2-3.2 .2 1.1 .1 2 .2-.3 .1 4 .2-2.4 .1-5.1 .2 4.3 .1-3.6 .2 1.1 .1 2.9 .2-.3 .2-1.6 .1-2 .2 .2 .1 6.4 .2-8.3 .1 7.4 .2-2.2 .1-.5 .2-.4 .1 .3 .2-1.8 .2 5.5 .1-4.4 .2 1.8 .1 1.2 .2-.1 .1-2.6 .2-.8 .1-3 .2 .6 .1 .2 .2-.8 .2 1.8 .1-1.1 .2-3.4 .1 5.9 .2-4.6 .1 8.8 .2-7 .1 2.7 .2-5.6 .1 7.7 .2-7.1 .2 3.3 .1-.4 .2-2 .1 0 .2 3.1 .1-5.4 .2 3.6 .1-.9 .2 4.3 .1 2.6 .2-.6 .1 3.2 .2-4.8 .2 5.9 .1-4.4 .2 2.1 .1 2.3 .2-2.4 .1 1.4 .2-.1 .1-3 .2 3.5 .1-.4 .2-4.5 .2 3.3 .1-2.2 .2 3.3 .1-1.6 .2-.1 .1 3.8 .2 1.7 .1 1.1 .2-1.9 .1-.7 .2 .5 .2-.6 .1 1.2 .2-1.1 .1-.2 .2 3.2 .1-.6 .2 .8 .1 4.6 .2-3.2 .1 5.9 .2-1.9 .2-.8 .1 5.3 .2-1 .1 .8" class="r"/>
<path d="M45.55 245.80V416.00H740.20V245.80Z" class="ax"/>
<path d="M45.55 415.72h6.8M740.20 415.72h-6.8M45.55 373.91h6.8M740.20 373.91h-6.8M45.55 332.10h6.8M740.20 332.10h-6.8M45.55 290.29h6.8M740.20 290.29h-6.8M45.55 248.48h6.8M740.20 248.48h-6.8M122.73 416.00v-6.8M122.73 245.80v6.8M199.92 416.00v-6.8M199.92 245.80v6.8M277.11 416.00v-6.8M277.11 245.80v6.8M354.29 416.00v-6.8M354.29 245.80v6.8M431.48 416.00v-6.8M431.48 245.80v6.8M508.66 416.00v-6.8M508.66 245.80v6.8M585.85 416.00v-6.8M585.85 245.80v6.8M663.03 416.00v-6.8M663.03 245.80v6.8M740.21 416.00v-6.8M740.21 245.80v6.8" class="tk"/>
<rect x="562.0" y="245.8" width="141.0" height="142.8" class="bx"/>
<rect x="560.4" y="244.2" width="3.3" height="3.3" rx="0.5" class="mk"/>
<rect x="560.4" y="315.6" width="3.3" height="3.3" rx="0.5" class="mk"/>
<rect x="560.4" y="387.0" width="3.3" height="3.3" rx="0.5" class="mk"/>
<rect x="630.9" y="244.2" width="3.3" height="3.3" rx="0.5" class="mk"/>
<rect x="630.9" y="387.0" width="3.3" height="3.3" rx="0.5" class="mk"/>
<rect x="701.4" y="244.2" width="3.3" height="3.3" rx="0.5" class="mk"/>
<rect x="701.4" y="315.6" width="3.3" height="3.3" rx="0.5" class="mk"/>
<rect x="701.4" y="387.0" width="3.3" height="3.3" rx="0.5" class="mk"/>
<text x="41.2" y="252.5" class="yl">20</text>
<text x="41.2" y="294.3" class="yl">10</text>
<text x="41.2" y="336.1" class="yl">0</text>
<text x="41.2" y="377.9" class="yl">10</text>
<rect x="22.95" y="374.23" width="6.4" height="1.55" fill="#333"/>
<text x="41.2" y="419.7" class="yl">20</text>
<rect x="22.95" y="416.04" width="6.4" height="1.55" fill="#333"/>
<text x="122.9" y="430.8" class="xl">0.5</text>
<text x="200.1" y="430.8" class="xl">1</text>
<text x="277.3" y="430.8" class="xl">1.5</text>
<text x="354.5" y="430.8" class="xl">2</text>
<text x="431.7" y="430.8" class="xl">2.5</text>
<text x="508.9" y="430.8" class="xl">3</text>
<text x="586.0" y="430.8" class="xl">3.5</text>
<text x="663.2" y="430.8" class="xl">4</text>
<text x="740.4" y="430.8" class="xl">4.5</text>
<text x="393.4" y="445.4" class="tl" textLength="50.5" lengthAdjust="spacingAndGlyphs">Time (sec)</text>
<text transform="translate(15.6 330.1) rotate(-90)" class="yt">Amplitude (μV)</text>
<path d="M756.6 367.6V388.3" stroke="#555" stroke-width="0.9"/>
<path d="M768.5 367.6V388.3" stroke="#f07070" stroke-width="0.9"/>
<text transform="translate(760.7 365.6) rotate(-90)" class="lg">Contaminated Signal</text>
<text transform="translate(771.7 365.6) rotate(-90)" class="lg">Artifact-Free Signal</text>
<rect x="109.9" y="249.3" width="349.4" height="53.3" fill="#fff"/>
<clipPath id="cC"><rect x="109.9" y="249.3" width="349.4" height="53.3"/></clipPath>
<g clip-path="url(#cC)">
<path d="M110.1 279.3l.4-7.3 .4-15.8 .4 13.1 .3 8.9 .4 .5 .4-.8 .4-.1 .4-.5 .4 2.1 .3-.8 .4-15.1 .4-6 .4 17 .4 4.1 .4-.1 .4-.9 .3 .1 .4-5.1 .4-11.7 .4 10.3 .4 4.3 .4 3.4 .3-1.4 .4-3.1 .4-15.9 .4 6.7 .4 12.6 .4-1.9 .4 2.6 .3-1.1 .4 .3 .4-.4 .4-11.7 .4-11.1 .4 14.9 .3 5.7 .4-.7 .4 .6 .4-1.4 .4-.1 .4-4.8 .4-10 .3 7.4 .4 6.4 .4-.5 .4 .2 .4-1.9 .4-.2 .3-12.8 .4 2.7 .4 10.5 .4 1.7 .4-2.8 .4 1 .4 .9 .3-1.3 .4-13.2 .4-1.8 .4 13.5 .4 .5 .4-1.4 .3 2.2 .4-1.8 .4-6.8 .4-10.9 .4 12.7 .4 2.5 .4 1.4 .3-.6 .4-2 .4-5.5 .4-3.2 .4 5.2 .4 2.6 .3 0 .4-1.1 .4-.5 .4 .1 .4 .1 .4-2.8 .4-7.8 .3 6.3 .4 4.3 .4 .8 .4-.8 .4 0 .4 .8 .3-1.5 .4-.4 .4 .8 .4 3.2 .4-1.6 .4 1.3 .4 1.2 .3 .5 .4 .7 .4-1.1 .4 .2 .4 1.3 .4 .1 .3 .1 .4-.6 .4 .2 .4 1.9 .4-.4 .4 .3 .4 .6 .3-.9 .4 .4 .4 1.6 .4-.2 .4-.9 .4 .8 .3 .4 .4 1.1 .4 .8 .4-.4 .4 .7 .4 1.1 .4-.5 .3-.2 .4 2.3 .4-1.1 .4 .2 .4 1.7 .4 .6 .3 .2 .4 0 .4-.7 .4 1.6 .4 .3 .4-1.1 .4 .8 .3 .2 .4 .5 .4-.7 .4 2.2 .4-1.9 .4 1.9 .3-.9 .4 0 .4 2.4 .4-1.9 .4 1.5 .4-.6 .4 .5 .3 .8 .4-.9 .4 .2 .4 .5 .4 .4 .4 1 .3-1.9 .4 1.2 .4 1.2 .4 1.2 .4-.6 .4 .1 .4 1.2 .3-1.7 .4 .8 .4 .8 .4 1.4 .4 .7 .4 .7 .3-.2 .4 .8 .4 .7 .4 .2 .4 .1 .4-1.2 .4 .6 .3 .8 .4-.6 .4-1.2 .4 1.2 .4-.2 .4 .5 .3-1.1 .4 .6 .4 1.2 .4 .4 .4-.9 .4 .1 .4-.6 .3 .5 .4 .6 .4 0 .4-1.2 .4 2.4 .4-1.2 .3 1.5 .4-.6 .4 .6 .4 .6 .4-.9 .4 1.8 .4-.6 .3-.2 .4 .7 .4-1.5 .4 .3 .4-.3 .4 1.4 .3-1.1 .4 .5 .4 .3 .4 .6 .4-.4 .4-1.1 .4 1.1 .3 .4 .4 .3 .4-1.8 .4 .8 .4 .8 .4 .2 .3 1.2 .4-.4 .4 .2 .4-.2 .4 .7 .4 .3 .4-.6 .3 .3 .4 1.6 .4-1.6 .4-.6 .4 1.6 .4-1.1 .3 .9 .4-1.3 .4 1.2 .4 .3 .4-.2 .4-1.6 .4 1.1 .3 .5 .4-1 .4 .9 .4-.9 .4 1.5 .4 .6 .3-.8 .4-.5 .4 .4 .4-.7 .4 2.2 .4-.3 .4 .2 .3-1.4 .4 .6 .4 1 .4 .2 .4-.7 .4 .3 .3-.7 .4 2 .4-1 .4 1.8 .4-.3 .4 .4 .4 .1 .3 .3 .4 0 .4-.7 .4 .1 .4-.6 .4 1.1 .3-.2 .4-.5 .4 .7 .4 0 .4 .4 .4 .2 .4-.1 .3-.1 .4-1 .4-.1 .4-.1 .4 1.1 .4 .5 .3 0 .4 .1 .4-1.8 .4 .9 .4 .3 .4-1.3 .4 1.1 .3-.7 .4-.1 .4 1.4 .4-1.4 .4 .5 .4 .4 .3 .8 .4 .6 .4-2.2 .4 .9 .4-.7 .4-.1 .3-.4 .4-.4 .4 .8 .4-.3 .4-1.5 .4 .4 .4 0 .3-.4 .4 .1 .4-.9 .4 1.4 .4-.6 .4-1.5 .3 .9 .4-1.7 .4 3.1 .4-2.9 .4 1.7 .4 1.2 .4-1.9 .3-.5 .4-.2 .4 0 .4 1 .4 .4 .4-.5 .3-.6 .4-.6 .4 .2 .4-.7 .4 .3 .4 .5 .4-1.4 .3 .1 .4 1.6 .4-.7 .4 .6 .4-.2 .4-1.6 .3 1.2 .4 .2 .4-.9 .4-.9 .4 .3 .4 .1 .4-1 .3 .7 .4 .5 .4-.4 .4 2.2 .4-1.3 .4-.1 .3-1.1 .4 .1 .4 .7 .4-1.5 .4 1.3 .4-2.3 .4 .6 .3 .6 .4 .3 .4-.4 .4-.1 .4 .6 .4-1.2 .3 2.1 .4-.8 .4-.4 .4 1.6 .4-1.6 .4 1.2 .4 .5 .3-1.7 .4-.8 .4-.9 .4 1.3 .4-1.4 .4-.2 .3-.3 .4 .8 .4 .4 .4 1.2 .4-1.3 .4-.6 .4 .2 .3 0 .4 .7 .4-1.1 .4-.1 .4 .7 .4-.9 .3-.3 .4 1 .4-1.2 .4 .2 .4 1.7 .4-.8 .4-.4 .3-.4 .4-1.1 .4 1.9 .4-1.8 .4-.9 .4 .2 .3-.6 .4 1.2 .4-1.2 .4 1.3 .4-.6 .4 1 .4-1.6 .3 .4 .4-.2 .4 1.9 .4-.4 .4-1.4 .4 .9 .3-1.3 .4-.7 .4-.8 .4 .4 .4 .1 .4 .9 .4-.5 .3-.7 .4-1 .4-.3 .4-.7 .4 2.5 .4-2.6 .3 .3 .4-.5 .4 1 .4-.9 .4-1.1 .4 1.6 .4-.6 .3 0 .4-.2 .4 1.3 .4-1.6 .4-.3 .4 .2 .3 .2 .4-.5 .4-1.9 .4 .2 .4-.9 .4 1.2 .4 .5 .3-1.5 .4 .9 .4-2 .4 .8 .4-.4 .4-.7 .3-1.1 .4-.7 .4 .3 .4 1.3 .4-2 .4 1 .4-1.2 .3 .6 .4-.6 .4-1.3 .4 1 .4 .5 .4-.3 .3-.2 .4-1.4 .4 1.1 .4-.3 .4-1.5 .4 .9 .4 0 .3-1.4 .4 .5 .4 .1 .4 .5 .4-.4 .4-.9 .3-.9 .4-.4 .4 0 .4 .9 .4-.3 .4-1 .4 2.1 .3-.6 .4 .2 .4 .7 .4 .3 .4-1.1 .4 1.8 .3 0 .4-.3 .4-.3 .4 1.1 .4-.9 .4 .4 .4 0 .3 .1 .4 0 .4 .2 .4-1.1 .4-.1 .4 .6 .3-.9 .4 .7 .4-.3 .4 .7 .4 1.1 .4-1.4 .4 1.8 .3-.8 .4 .5 .4-1 .4 0 .4 .1 .4 1 .3-1.2 .4 0 .4 1.3 .4 .4 .4-.1 .4-.3 .4 1.6 .3-1.2 .4-.3 .4 1.1 .4 1 .4-2 .4 1.2 .3-1 .4-.4 .4 2.6 .4-1.4 .4 .7 .4-.4 .4 .9 .3-.3 .4 1.7 .4-1.3 .4-.9 .4 1.7 .4-.6 .3-.4 .4 .1 .4 .6 .4-.5 .4-.2 .4 .8 .4 1.2 .3-1.8 .4-.8 .4 2.4 .4-.8 .4 .2 .4-.1 .3 .7 .4-1.1 .4 1.5 .4 0 .4-.4 .4 .4 .4-1.8 .3-.1 .4 0 .4 1 .4 .2 .4 1.8 .4-.8 .3 2.1 .4-.6 .4-1.2 .4 .7 .4-1.4 .4 .8 .4-2.3 .3 .5 .4 0 .4-.2 .4-.2 .4-.4 .4 .1 .3 .5 .4-1.2 .4-1.3 .4 .2 .4-.2 .4-.7 .4 .8 .3-.1 .4 .9 .4-1 .4-1.3 .4 .3 .4-.4 .3-.5 .4 1.6 .4 0 .4 .3 .4 .2 .4-.9 .4 .6 .3 .9 .4-3.1 .4 .3 .4-.5 .4 .3 .4-.6 .3-.4 .4-.5 .4 1.1 .4-2.1 .4 1.4 .4-.6 .4-1.7 .3 1.5 .4-.9 .4 1.7 .4-.2 .4 .5 .4-.1 .3 .7 .4 0 .4-.8 .4 1.3 .4-.6 .4-1.5 .4 .5 .3 .7 .4 .2 .4-.5 .4 .4 .4-.1 .4 .5 .3-.9 .4 2.3 .4 .6 .4-2.1 .4 .4 .4-.3 .4 1.3 .3-2 .4 1.1 .4 .1 .4 .9 .4-.4 .4 .1 .3-1.1 .4 2.1 .4-.1 .4-1 .4 .5 .4-1.1 .4 1.2 .3-.2 .4 .1 .4 0 .4-.7 .4-.3 .4 0 .3 .7 .4-.5 .4 0 .4 1.6 .4-1 .4-1.9 .4 .4 .3 .6 .4 .7 .4 .7 .4 .1 .4-1.8 .4-.1 .3 .8 .4-.3 .4-.4 .4 .2 .4-.1 .4-.2 .4-.2 .3 1.2 .4-.4 .4-.5 .4 0 .4 1.1 .4-1.4 .3 1.2 .4-3.4 .4 1.6 .4-.2 .4-.1 .4 .8 .4-.7 .3 .1 .4 .2 .4 0 .4-.2 .4-.4 .4 .5 .3 .2 .4-2 .4-.2 .4-1.1 .4-1 .4 .4 .4 .7 .3-1.9 .4-1 .4 1.1 .4-.1 .4-.5 .4 1 .3-.3 .4 .5 .4-.4 .4-.3 .4 .1 .4 .5 .4-.6 .3 .1 .4 1.3 .4-1.6 .4 .6 .4-1.1 .4 .3 .3 .6 .4-.7 .4 1 .4-1.3 .4 .2 .4-.3 .4-.4 .3 .8 .4-1.5 .4 1.2 .4-.4 .4-.2 .4 1 .3 .3 .4-2.3 .4 2.5 .4-.6 .4 .6 .4-2.4 .4 1.5 .3-1.6 .4 .9 .4-.2 .4 1 .4-1.4 .4 1.1 .3 .4 .4-.5 .4 1.6 .4-.1 .4-.7 .4 2 .4-1.9 .3-.3 .4-.3 .4-.6 .4-.2 .4 .6 .4-.7 .3-.5 .4 .3 .4 .8 .4 0 .4-.8 .4 .4 .4 .2 .3-.4 .4 .2 .4-.7 .4 .5 .4 .1 .4 .7 .3-.7 .4 2.2 .4-1.4 .4-.4 .4 .7 .4-1.5 .4 1.2 .3 .1 .4 1 .4-1.3 .4 0 .4 0 .4 .3 .3-.3 .4-.6 .4-.7 .4 .4 .4 .2 .4 1.4 .4-1.7 .3 .1 .4 1.5 .4 .7 .4-.6 .4 1 .4-1 .3 1.2 .4 0 .4-.3 .4 1.6 .4-1.4 .4-.5 .3 1.6 .4-1.6 .4 .8 .4-.6 .4 1.1 .4 .8 .4 0 .3 0 .4-.2 .4 .1 .4-1.1 .4 .5 .4 1.3 .3-.7 .4 1.3 .4-.4 .4-.7 .4-.1 .4 .3 .4-.6 .3 .8 .4 .7 .4-1.3 .4 .5 .4 .6 .4-.2 .3-.5 .4 .2 .4 .6 .4 1.2 .4-1.4 .4 1 .4-.8 .3 .3 .4 1.1 .4 0 .4 .2 .4-.4 .4-2.2 .3 .3 .4 2 .4-1.1 .4 .7 .4-1.1 .4 1.1 .4 0 .3 0 .4-.3 .4 .4 .4 .3 .4 .6 .4 0 .3 1.7 .4-.6 .4 .1 .4 0 .4-.1 .4-.1 .4-.1 .3 .1 .4-.9 .4 2.1 .4-.2 .4-.7 .4 2.5 .3-1.7 .4 1.3 .4-.2 .4-.2 .4 .2 .4-.3 .4-.5 .3 1.2 .4 0 .4-1.4 .4-.4 .4-.4 .4 1.1 .3 1.2 .4-.5 .4-.5 .4 .4 .4 .5 .4 1.6 .4-2.1 .3 .2 .4 .4 .4 1.6 .4-1.3 .4 1.9 .4-2 .3 1.1 .4 .7 .4-.8 .4 1.2 .4-1.3 .4-.2 .4 1.1 .3-1 .4 1.5 .4-2.9 .4 .8 .4 .9 .4 .2 .3-2.8 .4 .1 .4 2.7 .4-1.7 .4 1.2 .4 .5 .4 .4 .3 .1 .4-.8 .4 .5 .4 1.1 .4-2 .4 1.2 .3 1.1 .4-1 .4 0 .4-.6 .4 1 .4 0 .4 .5 .3 0 .4-.9 .4 .5 .4-1.4 .4 .6 .4-1.2 .3 .7 .4 .7 .4-1.2 .4 .8 .4 .9 .4-.4 .4-1.2 .3 1.3 .4-1.5 .4 0 .4 .9 .4-.4 .4 .5 .3 .9 .4 .1 .4-1.2 .4-.2 .4 2 .4 0 .4-.3 .3-.2 .4 1.1 .4-1.4 .4 .1 .4 .3 .4-.5 .3 2.3 .4-.8 .4-.3 .4 .6 .4 .2 .4 .1 .4 .6 .3-.8 .4 .9 .4 .1 .4 .5 .4-.6 .4 .1 .3-.6 .4 .3 .4-.1 .4-.6 .4 1.1 .4 .6 .4 .8 .3 1.1 .4-.3 .4-.1 .4 .5 .4-.6 .4 1.4 .3-1.4 .4 1.7 .4-1.1 .4-.4 .4 1.3 .4-1.6 .4 .4 .3 .3 .4 .6 .4-.5 .4 1.8 .4-1.4 .4 1.8 .3 .2 .4-.1 .4-1.4 .4-1.2 .4 2 .4-.2 .4 .6 .3-2 .4 .9 .4-1.5 .4 1.8 .4 .5 .4 0 .3-.5 .4 2 .4-1.8 .4 .4 .4 .6 .4 .4 .4-1.4 .3-.3 .4 1.2 .4-.6 .4-1.2 .4 1.3 .4-.2 .3 1.1 .4-.4 .4 .4 .4-.8 .4 .7 .4 .7 .4-.4 .3 .7 .4-.5 .4 .9 .4 .6 .4-.6 .4 .2 .3 .1 .4-.3 .4-.7 .4 .3 .4 1.5 .4-1.1 .4 0 .3-.2 .4 1.2 .4-1 .4 .5 .4 1.3 .4-1.1 .3 .3 .4 1 .4-2.5 .4 1.6 .4-.2 .4-.4 .4-1.8 .3 .9 .4-.2 .4-1.2 .4 .5 .4-.4 .4-1 .3 2 .4 2 .4-1.7 .4 .6 .4-1.5 .4-.8 .4 2.1 .3 .1 .4-1.3 .4-.6 .4 1.1 .4-2.7 .4 .1 .3-.3 .4-.9 .4 1 .4-.9 .4 .2 .4-.1 .4 .8 .3-.3 .4-.6 .4-1.4 .4 1.2 .4 .6 .4 1.1 .3-1.1 .4 .2 .4-2.4 .4 1.9 .4-.1 .4-.2 .4-1.8 .3 .2 .4 1.7 .4-.2 .4 1.2 .4 .2 .4-1.7 .3-1.9 .4 .9 .4 1.4 .4-.2 .4 .2 .4-1 .4 1.9 .3 .6 .4-2.1 .4 1.2 .4-.4 .4 1.3 .4-.7 .3 1.8 .4-.8 .4-.6 .4 .7 .4 1.2 .4-.7 .4 .5 .3 .8 .4-.7 .4-.3 .4 .3 .4 1.7 .4-1.1 .3 .4 .4 .9 .4 1.4 .4-2.2 .4 1 .4 .7 .4 2.6 .3-.8 .4-2.1 .4 .3 .4 .3 .4 .7 .4-.2" class="ki"/>
<path d="M110.1 285.5l.4-9.6 .4-19.5 .4 15 .3 15.3 .4 2.1 .4-7.2 .4-.6 .4-.2 .4 1.3 .3 .8 .4-18.4 .4-2.6 .4 18.7 .4 8.5 .4 .1 .4-3.8 .3-1 .4-8.2 .4-17.6 .4 14.2 .4 10.5 .4 4 .3-5.4 .4-4.7 .4-20.1 .4 13.6 .4 12.4 .4 6.8 .4-7.5 .3 .6 .4-2.5 .4 1 .4-9.4 .4-13.4 .4 20.2 .3 6.5 .4 5.7 .4-4.5 .4-4.4 .4-.2 .4-5.9 .4-15.7 .3 16 .4 11.5 .4 3 .4-5.9 .4-1.2 .4-5.7 .3-12.6 .4 1.5 .4 13.5 .4 3.3 .4 2 .4-4.9 .4 .5 .3 .5 .4-15.1 .4-5.7 .4 22.1 .4 .1 .4 .9 .3-1.6 .4-2.6 .4-7.9 .4-13 .4 12.8 .4 9.2 .4 4.7 .3-4.1 .4-1 .4-4.6 .4-6.8 .4 9.9 .4 5.2 .3-.9 .4 1.6 .4-5.9 .4 .5 .4-1.4 .4-2.5 .4-15.4 .3 11.6 .4 4.8 .4 1.2 .4-4.3 .4 4.8 .4-2.1 .3 1.8 .4-.8 .4-.3 .4 .5 .4 1.6 .4-1.1 .4 .2 .3-2.6 .4 1.2 .4-1.5 .4 1.5 .4 .2 .4 .6 .3 1 .4-.6 .4 2.5 .4-2.2 .4 2 .4-1.5 .4 1.9 .3-2.2 .4-.7 .4 .7 .4 .6 .4 .8 .4-.2 .3-.7 .4 .9 .4-.4 .4 0 .4 .4 .4-.2 .4-.2 .3 .8 .4-1.4 .4 2.8 .4-1 .4-.3 .4 2.2 .3-1.6 .4-.1 .4-.2 .4 1.4 .4-1.1 .4 1.5 .4 .3 .3-1.6 .4 .2 .4-1.1 .4 .3 .4 .4 .4 1.4 .3-.1 .4-.4 .4-1.9 .4 3 .4 1.2 .4-2.4 .4-.8 .3 1.7 .4-1.5 .4 .9 .4-2.2 .4 .5 .4-.2 .3 .4 .4-.2 .4 .3 .4 1.1 .4 .3 .4 .2 .4-1 .3-.1 .4-1.3 .4 2.7 .4-2.8 .4 .4 .4-.3 .3 1.2 .4 1.4 .4 .3 .4-1.6 .4 1.3 .4 .5 .4 0 .3-.4 .4 .4 .4 1.7 .4-1 .4-2.4 .4-.7 .3 .8 .4 .5 .4-1.8 .4 1.8 .4 1.1 .4-1.1 .4 .1 .3-.8 .4 1.4 .4-1.6 .4 1.2 .4-1.3 .4 1.2 .3 .2 .4 2.1 .4-.4 .4-1 .4 2.2 .4-3.6 .4-.5 .3 .2 .4 .9 .4-.1 .4-.2 .4 .4 .4-.5 .3-.1 .4-.3 .4 1.8 .4-1 .4 1.9 .4-1.6 .4 .1 .3 .2 .4-.2 .4-.1 .4 0 .4-.7 .4-.2 .3-.1 .4 1.2 .4-.7 .4 .3 .4 .4 .4-1.3 .4 2.3 .3-.6 .4-1.8 .4 1.5 .4-.4 .4 1.2 .4 0 .3 .1 .4-1.9 .4 .9 .4 2.7 .4-1.2 .4-.9 .4 .5 .3 .5 .4-1.2 .4-.2 .4 1.3 .4-1.7 .4-.4 .3 1.1 .4-1.3 .4-.3 .4 .2 .4-.4 .4 1.6 .4-1.8 .3-.1 .4 .4 .4 1 .4-1.2 .4 .9 .4 1.4 .3-2.6 .4 2 .4 .3 .4-.9 .4 1.1 .4-1.5 .4-.6 .3-.8 .4-.3 .4 .6 .4-.2 .4 .5 .4 1.9 .3-2.1 .4 .5 .4 .8 .4-.4 .4-.6 .4 .9 .4 1.6 .3-1.7 .4-.2 .4 .7 .4-.6 .4 .9 .4-1.5 .3 .2 .4 0 .4-.3 .4-.1 .4-.2 .4 0 .4 .9 .3-.2 .4 2 .4-.5 .4-1.8 .4 1.4 .4-1.8 .3-.5 .4 2.8 .4-1 .4-2.2 .4 3.2 .4-1.4 .3 .1 .4 1.3 .4 .1 .4 .1 .4-1.3 .4 .7 .4-.5 .3 1.2 .4-1.1 .4 .2 .4 .4 .4-1.3 .4 .5 .3-.3 .4-1.7 .4 2.6 .4-1.4 .4 .3 .4 .6 .4-1.6 .3-.2 .4 2.2 .4-1.1 .4 0 .4 .5 .4-1 .3-.1 .4 1.7 .4 .8 .4-2 .4 1.5 .4-.1 .4-.4 .3 1.1 .4-1.3 .4-1.4 .4 3.8 .4-2.4 .4 .7 .3-.3 .4 .5 .4-1.6 .4 .2 .4 .7 .4 .4 .4-1.4 .3-.9 .4 1.9 .4-1.3 .4 1 .4 2.7 .4-2.7 .3 .3 .4-1.9 .4 .6 .4 1.9 .4-.6 .4 .8 .4 1 .3-2.3 .4 .6 .4-.1 .4-.6 .4-1.2 .4-.2 .3 1 .4 1.4 .4-.5 .4-1.6 .4 2.6 .4-1.2 .4-1.3 .3-.1 .4-.5 .4 .2 .4 .1 .4 2.3 .4-1.2 .3 .1 .4-.4 .4 .3 .4-1.6 .4 2.3 .4-.5 .4 .6 .3-.7 .4-.7 .4 .2 .4-1.2 .4 1.3 .4-.4 .3 1.8 .4 .6 .4-.6 .4-1.1 .4-.3 .4-.4 .4-.2 .3 .4 .4 .5 .4 .4 .4 .8 .4-1.6 .4 1.2 .3-1 .4-1.3 .4 1.1 .4 .8 .4 .4 .4-1.6 .4 .7 .3 .9 .4 1.1 .4 .9 .4-1.4 .4-2.9 .4 2.6 .3-2.5 .4 1.9 .4-.1 .4-.3 .4 .2 .4-.6 .4 .7 .3 .3 .4 .4 .4-.1 .4-2.9 .4 1.9 .4 1.5 .3-3 .4 2.2 .4-.9 .4-.1 .4 .8 .4-.7 .4 1.7 .3 .9 .4-1.7 .4-1.1 .4 .8 .4-1.3 .4 .4 .3 .8 .4-2.6 .4 1.5 .4-1 .4-.5 .4 .5 .4 .3 .3 1.7 .4-2 .4 .2 .4 .1 .4-.6 .4 1.3 .3-2.1 .4 .6 .4-.5 .4 2.9 .4-1.5 .4-1.9 .4 2.6 .3-.4 .4-1.3 .4-.7 .4 1.7 .4 .4 .4-1 .3-1.1 .4 0 .4-.6 .4-.3 .4-.4 .4 0 .4 .4 .3 1 .4-.8 .4 .8 .4 .8 .4-.4 .4-.3 .3 .6 .4 .7 .4-.9 .4 .2 .4 1.5 .4-.5 .4 .5 .3-.4 .4 .2 .4-.8 .4-.1 .4 .4 .4 .6 .3 .3 .4 .3 .4-.5 .4-.4 .4 1 .4-1 .4 .5 .3 .2 .4-.7 .4 .2 .4-.9 .4 1.5 .4-.4 .3 .4 .4 .8 .4 1.2 .4-1.6 .4 .7 .4-1 .4 2.1 .3-.1 .4-.3 .4-.3 .4 1.1 .4-1.1 .4-3.1 .3 1.5 .4 .6 .4 2.3 .4-.4 .4-1.6 .4 .8 .4-.1 .3-1.6 .4 1.5 .4-.6 .4 2 .4-3.3 .4 2.2 .3 .6 .4-2.6 .4 1.9 .4 .2 .4 .4 .4-.9 .4 .2 .3 1.9 .4-.7 .4-1.3 .4 .1 .4 1.1 .4 .3 .3-1.1 .4-.6 .4-.8 .4 .5 .4 .5 .4-.2 .4-1 .3 .5 .4-1.1 .4 0 .4 .3 .4 2.3 .4-.9 .3-.7 .4 1 .4-2.2 .4 1.4 .4 .2 .4-.3 .4-.7 .3 1 .4-1.1 .4 1 .4-.6 .4 1.2 .4-.2 .3 .1 .4-.9 .4 .2 .4 .6 .4 1.1 .4-.7 .4 .3 .3-.1 .4-1.1 .4-2 .4 .5 .4 .3 .4-.2 .3-.2 .4-.5 .4 .6 .4 1.7 .4-.3 .4 1 .4-.7 .3-.3 .4 1 .4-.7 .4 .4 .4-.8 .4-1.4 .3 .1 .4 .8 .4 1.3 .4-.9 .4 0 .4-.1 .4 1.4 .3-.5 .4 .5 .4 .5 .4-2.2 .4 .7 .4 .9 .3 .6 .4-1.2 .4 .4 .4 .2 .4-.4 .4-1.2 .4-.4 .3-.4 .4 1.9 .4-1 .4 .6 .4 .1 .4-1.1 .3 1.5 .4-1.5 .4 .1 .4 1.2 .4 .4 .4-1.8 .4 .5 .3 1.2 .4-.2 .4-.3 .4-.4 .4 2.4 .4-2 .3 .9 .4-1.2 .4 1 .4-.1 .4-.1 .4 0 .4-1.5 .3 1.4 .4-.3 .4-1.5 .4 1.2 .4-2.4 .4 2.9 .3-3.1 .4 2.2 .4-1.3 .4-.3 .4 1.1 .4 1.5 .4-.8 .3 0 .4 .1 .4 .8 .4-.4 .4-.5 .4 1.1 .3-1.8 .4 1.6 .4-2.2 .4 1.3 .4 1.2 .4-2.5 .4 1.1 .3-.6 .4 1.3 .4-.3 .4-1.2 .4 1.4 .4-.5 .3 0 .4 .5 .4 .6 .4-2.2 .4 2.4 .4-.3 .4-1.1 .3 .2 .4-.7 .4 1 .4 .1 .4 0 .4 1.5 .3-.1 .4-1.1 .4-.6 .4-1 .4 .8 .4 .2 .4-1 .3 1.3 .4-1.3 .4 0 .4 1.5 .4-.6 .4-.1 .3 .7 .4 0 .4-.5 .4-1 .4-1.9 .4 1.4 .4 0 .3 3.2 .4-2.9 .4-.8 .4 .4 .4 2 .4-1.7 .3 1.1 .4-1.5 .4 1.1 .4-.3 .4 1.3 .4-1.6 .4 .7 .3-.5 .4-.5 .4 .1 .4 1.4 .4 .9 .4-.4 .3-.3 .4 .1 .4-1.6 .4-1.2 .4 .5 .4 .4 .4 .9 .3-1.7 .4 1 .4 .7 .4-2.1 .4 2.3 .4-1.9 .3 1.2 .4-.9 .4-.5 .4 .3 .4 1 .4 .5 .4-.2 .3-.6 .4-1.3 .4 .9 .4 1.3 .4-.1 .4-.7 .3-1.1 .4 1.5 .4-.7 .4 .6 .4 .7 .4 0 .4-1.7 .3 1.2 .4 1.1 .4-1 .4-1.3 .4 1.2 .4-2 .3 1.7 .4 .4 .4-1 .4 1.1 .4 .1 .4-.5 .4-.6 .3 .5 .4-.1 .4 .7 .4 .2 .4-1.6 .4 1 .3 .4 .4-.3 .4-1.5 .4-.2 .4 .8 .4-.5 .4-.9 .3 1.2 .4-.6 .4 1.3 .4 .6 .4 .6 .4 1 .3-1.6 .4-.1 .4 .8 .4-.8 .4-.3 .4 .5 .4 2 .3-2.3 .4 .3 .4 1.9 .4-2.3 .4 .8 .4 1.1 .3 .5 .4 .8 .4-3 .4 1.4 .4-2.3 .4 .9 .3 .9 .4-2.1 .4 2.2 .4-2 .4 .5 .4 .4 .4 1.7 .3-1 .4 .3 .4-.4 .4-.6 .4-.4 .4-.1 .3 2 .4 .3 .4-.2 .4-.4 .4 1.5 .4-1.2 .4-2.1 .3 1.7 .4-.1 .4-.2 .4-1.3 .4 .4 .4 .1 .3 1.2 .4-2.5 .4 .9 .4 1 .4-.7 .4-1.2 .4 1.4 .3 .5 .4-.5 .4 0 .4 2 .4-1.9 .4-1.5 .3 1.3 .4-1.7 .4 3.7 .4-2.6 .4-1.9 .4-.7 .4 2.1 .3 .9 .4 .1 .4 1.4 .4-1.8 .4 2.1 .4-.6 .3-.5 .4-1.5 .4 2 .4 .6 .4-.8 .4 1.5 .4-1.7 .3 .8 .4-1.3 .4-.6 .4 2.7 .4-1.1 .4-.5 .3 1.3 .4-2.6 .4 2.2 .4-2.6 .4 .7 .4 .3 .4 .6 .3-1 .4 1.5 .4-.6 .4 .3 .4-1.6 .4 1 .3 .4 .4 0 .4 1 .4-1.2 .4-.5 .4 1 .4-1.1 .3 .6 .4 .4 .4-.8 .4 1.5 .4 .5 .4 .1 .3-1.6 .4 .3 .4-2.2 .4 3.4 .4-1.5 .4-.1 .4-.6 .3-1.2 .4 .8 .4-.3 .4-1.8 .4-.5 .4 2.7 .3-1.9 .4 .8 .4 .4 .4-.5 .4-.8 .4-.3 .4 .4 .3 .8 .4-1.2 .4 .6 .4-1 .4 .7 .4-.5 .3 .9 .4-.3 .4 .5 .4 1.6 .4-2.9 .4 .6 .4 1.7 .3-1.2 .4 2.5 .4-2.2 .4 .4 .4 1.2 .4-2.5 .3 1.2 .4-1.1 .4 1.1 .4-.9 .4 .9 .4-.1 .4-.1 .3-.1 .4 1.8 .4-1.1 .4 1.1 .4 0 .4-1.9 .3 .5 .4 1.5 .4-1 .4-.8 .4 1.3 .4-.3 .4 1.8 .3-1.6 .4-1.3 .4 1.8 .4-.9 .4-.9 .4 .8 .3-.7 .4-.9 .4 .8 .4 2.2 .4-1.8 .4 1.4 .4-3.5 .3 1.9 .4 1.2 .4 .3 .4 .8 .4 1.4 .4-3.4 .3 1.4 .4 1 .4 1 .4-2 .4-.7 .4 .5 .4-.6 .3 1.3 .4-2.4 .4-.3 .4 .4 .4 .6 .4 .5 .3 .4 .4-.9 .4 1 .4 .5 .4-1.4 .4 1.6 .4-.8 .3-1.1 .4 0 .4 .2 .4-.5 .4-.3 .4 .3 .3 .5 .4-.2 .4 .1 .4-1 .4-1 .4 .2 .4 1.2 .3 .2 .4-1.2 .4 1.3 .4 .1 .4 .6 .4-1.6 .3 1.4 .4-1.3 .4-.5 .4 1.1 .4 .2 .4 .3 .4-.9 .3 .9 .4-.8 .4 .5 .4 .3 .4-.7 .4-1.1 .3 2.7 .4-1.5 .4-1.1 .4 .8 .4-.4 .4 .2 .4-1.2 .3 .8 .4 .2 .4-.1 .4 .5 .4 .8 .4 .5 .3 .1 .4 0 .4-.8 .4 .5 .4 2.3 .4-2 .4-.7 .3 .2 .4 .6 .4-1.2 .4 .4 .4 .8 .4-.1 .3 1.5 .4-.9 .4-2 .4 1.7 .4-1.4 .4 .4 .4 1.1 .3-.1 .4-.6 .4-.8 .4 .1 .4 2.4 .4-3.1 .3 2.8 .4-.8 .4-.2 .4-.2 .4 .1 .4-.6 .4 2.1 .3-1.7 .4 .7 .4 .4 .4 0 .4-1 .4-.3 .3-1.1 .4 .2 .4 0 .4-.3 .4 .7 .4-.4 .4-1.3 .3 2.3 .4-1.8 .4 3.4 .4-2.7 .4 1 .4-2.1 .3 2.9 .4-2.7 .4 1.3 .4-.2 .4-.7 .4 0 .4 1.1 .3-2 .4 1.3 .4-.3 .4 1.6 .4 1 .4-.2 .3 1.3 .4-1.9 .4 2.3 .4-1.7 .4 .8 .4 .9 .4-.9 .3 .5 .4-.1 .4-1.1 .4 1.3 .4-.1 .4-1.7 .3 1.2 .4-.8 .4 1.2 .4-.6 .4 0 .4 1.4 .4 .7 .3 .4 .4-.7 .4-.3 .4 .2 .4-.2 .4 .4 .3-.4 .4 0 .4 1.2 .4-.3 .4 .3 .4 1.8 .4-1.2 .3 2.2 .4-.7 .4-.3 .4 2 .4-.3 .4 .2" class="ri"/>
</g>
<rect x="109.9" y="249.3" width="349.4" height="53.3" class="iax"/>
<text x="109.5" y="251.9" class="il">20</text>
<text x="109.5" y="267.9" class="il">10</text>
<text x="109.5" y="283.9" class="il">0</text>
<text x="109.5" y="299.9" class="il">-10</text>
<text x="130.1" y="310.3" class="ixl">3.4</text>
<text x="168.6" y="310.3" class="ixl">3.5</text>
<text x="207.0" y="310.3" class="ixl">3.6</text>
<text x="245.5" y="310.3" class="ixl">3.7</text>
<text x="283.9" y="310.3" class="ixl">3.8</text>
<text x="322.4" y="310.3" class="ixl">3.9</text>
<text x="360.9" y="310.3" class="ixl">4</text>
<text x="399.3" y="310.3" class="ixl">4.1</text>
<text x="437.8" y="310.3" class="ixl">4.2</text>
<path d="M109.90 249.80h3.5M459.30 249.80h-3.5M109.90 265.80h3.5M459.30 265.80h-3.5M109.90 281.80h3.5M459.30 281.80h-3.5M109.90 297.80h3.5M459.30 297.80h-3.5M130.10 302.60v-3.5M130.10 249.30v3.5M168.56 302.60v-3.5M168.56 249.30v3.5M207.02 302.60v-3.5M207.02 249.30v3.5M245.48 302.60v-3.5M245.48 249.30v3.5M283.94 302.60v-3.5M283.94 249.30v3.5M322.40 302.60v-3.5M322.40 249.30v3.5M360.86 302.60v-3.5M360.86 249.30v3.5M399.32 302.60v-3.5M399.32 249.30v3.5M437.78 302.60v-3.5M437.78 249.30v3.5" class="itk"/>
<path d="M562.0 245.8L462.3 249.3M562.0 388.6L461.3 304.6" class="dt"/>
<path d="M459.9 248.9l4.6 -2.4v4.8z" fill="#000"/>
<path d="M0 0l4.6 -2.4v4.8z" fill="#000" transform="translate(459.8 303.1) rotate(39.9)"/>
</g>
<g id="pD">
<path d="M562.1 560.5l.1-19.1 .2-41.3 .2 34.2 .1 23.2 .2 1.4 .1-2.1 .2-.3 .1-1.2 .2 5.5 .1-2.1 .2-39.4 .1-15.9 .2 44.4 .2 10.8 .1-.1 .2-2.5 .1 .4 .2-13.5 .1-30.5 .2 26.8 .1 11.4 .2 8.9 .1-3.8 .2-8 .2-41.5 .1 17.5 .2 32.7 .1-4.8 .2 6.9 .1-2.9 .2 .6 .1-1.1 .2-30.4 .1-29.1 .2 38.9 .2 14.9 .1-1.6 .2 1.5 .1-3.8 .2-.2 .1-12.5 .2-26.1 .1 19.4 .2 16.6 .1-1.2 .2 .5 .1-5 .2-.4 .2-33.7 .1 7.2 .2 27.4 .1 4.4 .2-7.3 .1 2.7 .2 2.2 .1-3.3 .2-34.6 .1-4.6 .2 35.4 .2 1.2 .1-3.8 .2 5.9 .1-4.8 .2-17.7 .1-28.4 .2 33.1 .1 6.5 .2 3.6 .1-1.4 .2-5.3 .2-14.5 .1-8.2 .2 13.5 .1 6.7 .2 .1 .1-3 .2-1.1 .1 .3 .2 .1 .1-7.2 .2-20.5 .2 16.6 .1 11.2 .2 2.1 .1-2.3 .2 0 .1 2.2 .2-3.7 .1-1.2 .2 2.2 .1 8.2 .2-4.1 .2 3.4 .1 3.1 .2 1.4 .1 1.7 .2-2.9 .1 .5 .2 3.4 .1 .2 .2 .3 .1-1.3 .2 .3 .2 5.1 .1-1.2 .2 .8 .1 1.7 .2-2.3 .1 .8 .2 4.2 .1-.5 .2-2.4 .1 2.2 .2 1.1 .2 2.9 .1 1.9 .2-.9 .1 1.8 .2 2.9 .1-1.3 .2-.5 .1 6.1 .2-3 .1 .4 .2 4.6 .1 1.6 .2 .5 .2-.2 .1-1.8 .2 4.3 .1 .8 .2-2.8 .1 1.9 .2 .5 .1 1.4 .2-1.8 .1 5.8 .2-5.1 .2 5.1 .1-2.4 .2-.1 .1 6.4 .2-5 .1 3.8 .2-1.5 .1 1.4 .2 2 .1-2.3 .2 .4 .2 1.3 .1 1.2 .2 2.5 .1-5 .2 3.2 .1 3.2 .2 3 .1-1.3 .2 .2 .1 3 .2-4.4 .2 2 .1 2.1 .2 3.7 .1 1.9 .2 1.7 .1-.4 .2 1.9 .1 1.9 .2 .7 .1 .2 .2-3 .2 1.3 .1 2.1 .2-1.5 .1-3.1 .2 3.1 .1-.4 .2 1.1 .1-2.8 .2 1.7 .1 3.1 .2 1.1 .2-2.5 .1 .2 .2-1.5 .1 1.2 .2 1.8 .1-.1 .2-3.1 .1 6.2 .2-3.1 .1 4 .2-1.7 .2 1.6 .1 1.6 .2-2.5 .1 4.9 .2-1.6 .1-.5 .2 1.8 .1-3.9 .2 .9 .1-1 .2 3.7 .1-2.8 .2 1.4 .2 .6 .1 1.5 .2-.9 .1-3 .2 2.8 .1 1.3 .2 .8 .1-4.9 .2 2.2 .1 2 .2 .6 .2 3.2 .1-1.1 .2 .4 .1-.5 .2 1.9 .1 .9 .2-1.7 .1 .7 .2 4.2 .1-4 .2-1.7 .2 4.3 .1-3 .2 2.5 .1-3.4 .2 3 .1 .7 .2-.5 .1-4.1 .2 3 .1 1.3 .2-2.6 .2 2.2 .1-2.2 .2 3.7 .1 1.6 .2-2.1 .1-1.2 .2 .9 .1-1.7 .2 5.6 .1-.6 .2 .5 .2-3.7 .1 1.6 .2 2.5 .1 .5 .2-1.7 .1 .7 .2-1.7 .1 5.2 .2-2.5 .1 4.5 .2-.7 .2 1.1 .1 .1 .2 .8 .1 0 .2-1.9 .1 .3 .2-1.5 .1 3 .2-.7 .1-1.1 .2 1.6 .2 .2 .1 .9 .2 .6 .1-.4 .2-.1 .1-2.7 .2-.3 .1-.2 .2 2.9 .1 1.3 .2-.1 .1 .3 .2-4.7 .2 2.4 .1 .7 .2-3.3 .1 2.8 .2-1.6 .1-.3 .2 3.6 .1-3.8 .2 1.4 .1 1.1 .2 2.1 .2 1.4 .1-5.6 .2 2.2 .1-1.7 .2-.3 .1-1 .2-1.1 .1 2.2 .2-.9 .1-3.8 .2 1 .2 .1 .1-1.1 .2 .1 .1-2.2 .2 3.7 .1-1.8 .2-3.9 .1 2.5 .2-4.6 .1 8.2 .2-7.5 .2 4.3 .1 3.3 .2-5.1 .1-1.3 .2-.4 .1-.1 .2 2.6 .1 1.2 .2-1.3 .1-1.8 .2-1.5 .2 .5 .1-1.8 .2 .8 .1 1.2 .2-3.6 .1 .4 .2 4.1 .1-1.8 .2 1.4 .1-.4 .2-4.2 .2 3.1 .1 .5 .2-2.4 .1-2.1 .2 .8 .1 .2 .2-2.6 .1 1.8 .2 1.2 .1-1.1 .2 5.8 .2-3.4 .1-.1 .2-3.1 .1 .4 .2 1.9 .1-4 .2 3.3 .1-6 .2 1.6 .1 1.7 .2 .7 .1-1 .2-.3 .2 1.5 .1-3 .2 5.5 .1-2.3 .2-.9 .1 4 .2-3.9 .1 3.1 .2 1.2 .1-4.5 .2-2.1 .2-2.3 .1 3.4 .2-3.6 .1-.6 .2-.8 .1 2.2 .2 .9 .1 3.2 .2-3.5 .1-1.4 .2 .5 .2-.1 .1 2 .2-3 .1-.1 .2 1.6 .1-2.2 .2-.9 .1 2.6 .2-3.1 .1 .6 .2 4.4 .2-2.1 .1-1 .2-1.1 .1-2.8 .2 4.8 .1-4.6 .2-2.4 .1 .5 .2-1.4 .1 3 .2-3 .2 3.4 .1-1.7 .2 2.7 .1-4.3 .2 1.1 .1-.5 .2 4.9 .1-1 .2-3.6 .1 2.4 .2-3.6 .2-1.7 .1-2.1 .2 1 .1 .4 .2 2.3 .1-1.4 .2-1.7 .1-2.6 .2-.8 .1-1.8 .2 6.4 .2-6.7 .1 .8 .2-1.4 .1 2.8 .2-2.6 .1-2.7 .2 4.2 .1-1.8 .2 .2 .1-.5 .2 3.3 .1-4.2 .2-.7 .2 .5 .1 .5 .2-1.2 .1-5.1 .2 .6 .1-2.3 .2 3.1 .1 1.2 .2-3.9 .1 2.4 .2-5.3 .2 2.1 .1-1 .2-1.8 .1-2.9 .2-1.9 .1 .9 .2 3.3 .1-5.2 .2 2.7 .1-3.2 .2 1.5 .2-1.5 .1-3.5 .2 2.8 .1 1.3 .2-.8 .1-.5 .2-3.8 .1 3 .2-.9 .1-4 .2 2.3 .2 .3 .1-3.9 .2 1.4 .1 .4 .2 1.2 .1-1 .2-2.3 .1-2.5 .2-1.1 .1 .2 .2 2.3 .2-.8 .1-2.6 .2 5.3 .1-1.4 .2 .4 .1 1.8 .2 .9 .1-2.8 .2 4.8 .1-.2" class="k"/>
<rect x="563.1" y="480.6" width="138.4" height="144.6" class="ov"/>
<path d="M45.1 572.6l.1-.5 .2 .9 .1 .4 .2-1.5 .1 1.6 .2-1.7 .1-.4 .2 4.3 .1 .3 .2-1.4 .2 .2 .1 1.7 .2 .3 .1-4.1 .2 0 .1 4.4 .2-1 .1 1.9 .2-1 .1 1.8 .2-2.5 .2 2.4 .1-1.4 .2-.4 .1 1.8 .2 4.3 .1-4.1 .2-2 .1 .3 .2 2.6 .1-.4 .2 .6 .2 .3 .1-3.8 .2 4.2 .1-2.4 .2 1.1 .1 2.4 .2 .8 .1-2.5 .2 2.5 .1 3.3 .2-1.4 .2-5.8 .1 7.4 .2-5.7 .1 1.6 .2 3.4 .1-6.1 .2 1.1 .1 4 .2-4.1 .1-.5 .2 1.9 .2-1.4 .1 1.2 .2-3.8 .1-1.4 .2 4.9 .1-.4 .2 2.7 .1-2.9 .2 4.6 .1-.3 .2-1.3 .2-2.2 .1-3.3 .2 8.2 .1-2.3 .2-4.4 .1 6.7 .2-2.9 .1-2 .2-5.7 .1 2 .2 3.3 .2-2.1 .1-3.1 .2-3.5 .1 6.4 .2-3.4 .1-1.8 .2-1 .1 .2 .2 2.2 .1-2.1 .2-1.2 .1-5 .2 4.1 .2 2 .1-4.2 .2 2.5 .1-1.4 .2 1.5 .1-1.7 .2 3.5 .1-3.3 .2 4.2 .1 .4 .2-4.7 .2 1.9 .1-2.6 .2-5 .1 4.3 .2-1.1 .1-1.6 .2-1.5 .1 .9 .2-1.3 .1-2.2 .2-1.6 .2 2.2 .1-1.1 .2 .9 .1 1.4 .2-3.1 .1 2.8 .2-1.9 .1 3.5 .2-1.2 .1-.2 .2-2.3 .2 5.3 .1-3.8 .2-2.6 .1 4.3 .2-7 .1 6.1 .2-5.1 .1 5.4 .2-3.4 .1 2.4 .2 1.3 .2-7.2 .1-2.9 .2 1.8 .1 .4 .2-1.7 .1 1.3 .2-6.2 .1 3.7 .2 .9 .1 2 .2 .1 .2 2.3 .1-5.9 .2 1.5 .1-.6 .2 3.4 .1 5 .2-1.1 .1 .2 .2 .7 .1-.9 .2-1.9 .2 2.6 .1-1.4 .2-4.8 .1 2.9 .2 2 .1-3.5 .2-5.6 .1 5.7 .2-3.4 .1 1 .2 3.5 .1-5.8 .2 .4 .2 .7 .1 .4 .2-4.6 .1 .8 .2 1.3 .1 3.2 .2 2 .1-7.3 .2 3.1 .1-2.3 .2 2.1 .2 2.4 .1-.1 .2-2.6 .1 2.9 .2-.7 .1-1.1 .2-2.2 .1 2.8 .2 3.4 .1 1.8 .2 1.1 .2-4.6 .1 .5 .2 3 .1-2.4 .2-.2 .1 0 .2 1 .1 3.1 .2-4.9 .1 6.7 .2-3.4 .2 .3 .1-3.1 .2-2.4 .1-1.1 .2 6 .1 1.6 .2-3.5 .1 4.2 .2-4.5 .1-2.4 .2 4.2 .2 .3 .1-4.7 .2 .8 .1 .4 .2-1.6 .1 1.3 .2 .8 .1-2.7 .2 2.7 .1 1.5 .2-3.6 .2-.7 .1 1.4 .2 2.3 .1-4.4 .2 1.2 .1 1.1 .2-2.8 .1-.1 .2-2.2 .1-.9 .2-3.5 .2 7.4 .1-8.8 .2 3 .1 1.3 .2 4 .1-2.3 .2-2.6 .1 1.2 .2 .1 .1 3 .2-3.8 .1 3.2 .2 4.9 .2-1.5 .1 2.8 .2 3.1 .1-6.2 .2-2.5 .1 1.8 .2 1.7 .1 .5 .2-4.2 .1 2.5 .2-1.8 .2 3.1 .1-.8 .2-.3 .1-.1 .2-1.3 .1 3.1 .2-3.8 .1 3.4 .2-6.5 .1 4.4 .2-3.3 .2 2.3 .1 4.3 .2-7.7 .1 1.3 .2 4.6 .1-2.8 .2 2.6 .1 5.4 .2-6.1 .1 0 .2 .5 .2 1.5 .1-.7 .2-1.6 .1-4.2 .2 1.1 .1 .5 .2-3.3 .1 8.2 .2-1.7 .1 3.2 .2-7.3 .2 1.5 .1 1.7 .2 .6 .1-.2 .2-2.2 .1 1.9 .2 .7 .1-2.5 .2-1.8 .1-.7 .2 1.7 .2 2.4 .1-1.1 .2-6.5 .1 4.8 .2-1.1 .1 1.6 .2 .1 .1-1.2 .2 .4 .1 1.7 .2-1.7 .2-2.3 .1-2 .2 3.6 .1-1.5 .2 2.5 .1-2.8 .2 4.5 .1-2.8 .2 1 .1 2.7 .2 0 .1-5.3 .2-.2 .2 3.1 .1-3.6 .2-1.5 .1 5.2 .2 2.1 .1-.6 .2-3.4 .1 5.1 .2 0 .1-6.1 .2 4.3 .2-4 .1 .6 .2 3.6 .1-.8 .2-3.8 .1 6 .2 2.3 .1 0 .2-1.4 .1-4.3 .2 1.2 .2 3.3 .1-1.8 .2-.6 .1-1.7 .2 3 .1 .3 .2-.8 .1-.5 .2-1.5 .1-2.4 .2 1.6 .2-.2 .1-3.2 .2 3.7 .1 1.8 .2 5.5 .1-5.4 .2 6.7 .1-1.7 .2-2.7 .1-1.4 .2 3.1 .2 2 .1-.8 .2 .7 .1-4.7 .2-2.3 .1 3.9 .2 2.6 .1 3.8 .2-3 .1-.5 .2 3.7 .2-3.5 .1 3.9 .2-3.3 .1-.1 .2 .9 .1 .4 .2 .5 .1 .7 .2 0 .1 3 .2 4.1 .2-1 .1-4.3 .2 1.4 .1-2.3 .2-.6 .1 7.1 .2 1.4 .1-3 .2 0 .1 .5 .2-3.4 .1 3.3 .2 .3 .2-1.8 .1-4.3 .2 2.7 .1 5.4 .2-6.1 .1 1.9 .2-.3 .1 2.6 .2-.8 .1 1.4 .2-6.9 .2 4 .1-3.8 .2 8.1 .1-1.7 .2 3.1 .1-4.7 .2-2.6 .1 4.7 .2-4.4 .1 .2 .2 3.3 .2-.7 .1 .1 .2-2.2 .1 1.1 .2 1.9 .1-3.2 .2 1.4 .1-1 .2-3.8 .1-4.1 .2 3.4 .2-2.6 .1 1.3 .2 2 .1-6 .2 2.9 .1-5.3 .2 6.1 .1 .9 .2-.6 .1 1.5 .2-2.5 .2 1.9 .1-2.1 .2 1.3 .1 4.8 .2-3.4 .1 .7 .2-1.3 .1 1.9 .2-2.4 .1 4.7 .2-2.1 .2 3.3 .1 .9 .2-3.5 .1-.6 .2 6.2 .1 .3 .2-1.4 .1-.4 .2-4.4 .1 3.7 .2-.3 .2-3.1 .1 3.8 .2-2.1 .1 .4 .2 1.1 .1 1 .2-6.3 .1 5.1 .2 1.3 .1 .5 .2-1.9 .1-2 .2-4.5 .2 6.6 .1 2.1 .2 .5 .1 1.3 .2-4.7 .1 1.1 .2 2.9 .1 2.7 .2 .3 .1-2.7 .2 10.3 .2-6.3 .1 .9 .2-4.6 .1 3.9 .2-3.2 .1 1.4 .2 .1 .1-6.3 .2 1.4 .1 2.7 .2 .5 .2 4.2 .1-2.6 .2-1.2 .1-1.1 .2 .2 .1 1.8 .2-3.8 .1-1.9 .2-3.5 .1-2.4 .2 5.3 .2 2.3 .1-1.4 .2 2.1 .1 1.2 .2-3.4 .1 3 .2-1.7 .1 1 .2-2.7 .1 1.5 .2 .2 .2 1.9 .1-.3 .2 1.6 .1-1.7 .2-2.1 .1 4.4 .2-5.2 .1 4.6 .2-1.4 .1-1.9 .2 2.8 .2-4.8 .1 2 .2-.2 .1 1.6 .2-4.1 .1 1.7 .2-2 .1 1.8 .2-1.3 .1 3.6 .2-5.3 .2-.2 .1-.8 .2 1 .1-1.7 .2 3.4 .1-2.3 .2 3.1 .1-.5 .2 1.4 .1 2.9 .2-1.8 .1-.3 .2-.3 .2 1.8 .1 2 .2-5.3 .1 .1 .2 1.4 .1 3.1 .2 3.8 .1-6.2 .2 4.7 .1 4.1 .2-4 .2 5.1 .1 1.8 .2-4.6 .1-4.2 .2 2.8 .1-.7 .2-4.7 .1 2.8 .2 2.8 .1-3.1 .2 2.7 .2-1.3 .1-3.1 .2 1.2 .1 .3 .2-3.3 .1 3.9 .2-1.6 .1-.6 .2 .5 .1-.8 .2 0 .2 1.5 .1-.3 .2 6.5 .1 .3 .2-5.5 .1 2.8 .2 1.8 .1 5 .2-5.1 .1 1.3 .2 .3 .2 1.7 .1-6.4 .2-2.6 .1 1.1 .2 2.4 .1-3.7 .2-2.9 .1 8 .2-3.6 .1-.8 .2-1.4 .2-1.3 .1-.4 .2 1.2 .1-.3 .2-1.7 .1 2.5 .2 .2 .1-1.8 .2-5.3 .1 6.5 .2 .3 .2-2 .1-2 .2 4 .1-1.7 .2 3.8 .1-3.3 .2-1.7 .1-1.5 .2-1.7 .1 7.1 .2-1.3 .1-1.7 .2 1.6 .2 .6 .1-6.4 .2 3 .1-1.3 .2 3.2 .1-1.6 .2 2.7 .1-1 .2 3.7 .1-.8 .2-2.1 .2 1.2 .1-2.5 .2 1 .1 4.2 .2-2.4 .1 2 .2-2.4 .1 3.2 .2-.6 .1-1.3 .2-.5 .2 .2 .1 3 .2-1 .1-3.7 .2 2.2 .1 2 .2-1.3 .1 1.3 .2 4.1 .1 2.3 .2-.7 .2-4.4 .1 3.3 .2-.7 .1-1.1 .2-.6 .1 2.1 .2-1.6 .1 4.1 .2 .5 .1 .4 .2-5.3 .2 2.7 .1 1.8 .2-3.8 .1 1.1 .2-1.6 .1 4.4 .2 .2 .1-1.9 .2-8.6 .1 2.5 .2 1.9 .2-2 .1-2.2 .2 3.9 .1 .9 .2-2.4 .1 1.4 .2-1.5 .1 2.5 .2-5.6 .1 3.3 .2 .5 .2-3.1 .1 4.8 .2-4.3 .1 3.2 .2-1.5 .1 .9 .2 1 .1 3.5 .2-5.8 .1 .8 .2 2.3 .1-.1 .2 .1 .2 5.3 .1-7.3 .2 1.4 .1-3.9 .2-.4 .1 2 .2 1 .1-2.5 .2 .3 .1-1.2 .2 .2 .2 3.4 .1-5.4 .2 3.6 .1-6.3 .2 1.4 .1 1.4 .2-1.2 .1 4.1 .2 2.3 .1 2.8 .2-2.4 .2-4.7 .1 .5 .2-.3 .1 .2 .2 3.1 .1-2.6 .2 3.1 .1-.1 .2 2.8 .1-.7 .2 .9 .2-.2 .1 1 .2-1.7 .1-3.8 .2 4.8 .1 1.5 .2-2.5 .1 .4 .2 2.3 .1-2.4 .2-3.6 .2 1.8 .1 2.2 .2-5.8 .1 5 .2-3.5 .1 1.1 .2-4.6 .1 5.5 .2-2.2 .1-1.3 .2 .3 .2-.9 .1-.8 .2 6.5 .1-4.8 .2 1.8 .1-1.2 .2 .4 .1 2.7 .2 3.1 .1-5.6 .2 2.9 .2-2.6 .1-1.8 .2-.9 .1-3.9 .2 4.5 .1 2.6 .2 .1 .1-.6 .2-.7 .1-2.9 .2 .9 .1 5.8 .2-3.4 .2 2.8 .1-1.3 .2-.2 .1-1.7 .2 1.1 .1-3.6 .2 2.3 .1 1.7 .2 1 .1 .6 .2 .5 .2-.8 .1-3.9 .2 2.1 .1-5.7 .2 2.5 .1 1 .2-1 .1-2 .2-1.7 .1 .7 .2-2.1 .2 1 .1-.7 .2 5.5 .1-1.5 .2-3.6 .1-3 .2 8.3 .1-2.9 .2 3.6 .1-3.8 .2 5.7 .2-1 .1-.8 .2 .5 .1 2.1 .2 0 .1 5.4 .2-2.1 .1-1.8 .2-1.9 .1 2 .2 3.5 .2-4.3 .1-2.2 .2-.2 .1 .9 .2 2.4 .1-.9 .2 1 .1 1.2 .2-1.8 .1-1.7 .2 4.4 .2 .1 .1 3.4 .2-5.3 .1 1.8 .2-1.5 .1-5.9 .2 2.4 .1 3.1 .2-1.7 .1-1.1 .2 .7 .2 3.3 .1 .4 .2-2.6 .1-.7 .2 .2 .1-2.4 .2 0 .1-.9 .2 4.9 .1-1 .2-3.4 .1 4 .2 1.5 .2-2.6 .1-5.6 .2 7.2 .1-4 .2-2.5 .1-.3 .2 .6 .1 0 .2 1.7 .1-.3 .2 .6 .2-.4 .1-1.7 .2-1.6 .1 3.7 .2-3.2 .1-2.5 .2 1.4 .1-2.2 .2 3.8 .1-4.5 .2-3 .2 1.3 .1 3.7 .2-4.6 .1 2.5 .2 .1 .1-4.5 .2 7.2 .1-3.7 .2 3.5 .1-3.8 .2 .7 .2 .9 .1-3 .2-3.7 .1-.3 .2 .3 .1 1.5 .2 3.7 .1-6.7 .2 1.5 .1 2.6 .2 1.1 .2 .5 .1 3.1 .2 1.2 .1-1.8 .2-1.4 .1 5.9 .2-4.1 .1 4.9 .2-.5 .1-4.6 .2 2 .2 3.9 .1-2.4 .2-.6 .1-.6 .2 3.5 .1-2.9 .2-1.1 .1 3.2 .2-3.1 .1 1 .2 .2 .2-1.1 .1-1.1 .2 .4 .1 .6 .2 .1 .1-4 .2 .3 .1-2.3 .2 .1 .1 2.8 .2-3.9 .1 6.1 .2-5.2 .2 3.7 .1-3.7 .2 .1 .1 9.1 .2-1.1 .1-5 .2-1.1 .1 .8 .2 2.8 .1 1.1 .2-1.5 .2 1.3 .1-2.8 .2 7.2 .1-6.5 .2 3.4 .1-5.1 .2 .3 .1 .9 .2-.8 .1 3.3 .2 1 .2 1 .1-5.2 .2-2.5 .1-1 .2 1.4 .1-2 .2 3.1 .1 .7 .2-1.7 .1-4.3 .2 3.9 .2-2.7 .1-2.2 .2-.4 .1 2.3 .2-3.1 .1 3 .2-2.6 .1 2.9 .2-3.3 .1-1.1 .2 2.1 .2-4.7 .1 4.2 .2-3.1 .1 3.2 .2 2.7 .1-.8 .2-.7 .1-2.1 .2 1.6 .1 1.7 .2 2.5 .2-1.2 .1 4.4 .2-4.5 .1 2.3 .2-.4 .1-1.9 .2-2.2 .1 2.9 .2-.2 .1-1.1 .2 3.5 .2-2.9 .1-3.7 .2 7 .1-5.2 .2 3.8 .1-3 .2 .9 .1-.9 .2 1.1 .1-2.3 .2 4.8 .1-.3 .2 2.8 .2-5.3 .1 1 .2-1.2 .1 1.6 .2-2.5 .1 6.9 .2-4.7 .1-3.2 .2 4.8 .1 .5 .2-2.4 .2 1.2 .1-5.2 .2-3.4 .1 1.3 .2 5.1 .1-1.3 .2-2 .1-4.4 .2 4.3 .1 .6 .2-.2 .2 3.1 .1 2.7 .2 2.9 .1 4.2 .2-.1 .1 2.7 .2-8.5 .1 1.8 .2-2.7 .1-.1 .2 1.6 .2 4.4 .1-4.4 .2-.9 .1 4.7 .2-1.3 .1-2.6 .2 4.4 .1-4.3 .2 5.9 .1-1.1 .2-2.5 .2-1.5 .1 1.7 .2 .1 .1 2.3 .2-2.9 .1 7 .2-6.4 .1 2 .2-.8 .1-.7 .2 3.6 .2 .2 .1-5.6 .2 2.7 .1 3.2 .2-5.7 .1 .9 .2 10.2 .1-5.9 .2-4 .1 3.7 .2 1 .2 1.7 .1 .6 .2-2.5 .1-3.5 .2-4.1 .1 1.1 .2 2 .1 .8 .2-1.7 .1-.2 .2-2 .1-2.7 .2 2.2 .2 1.3 .1 2.7 .2 .1 .1 2.3 .2 1.9 .1-2 .2 4.8 .1-5.5 .2 .9 .1 .9 .2-1.2 .2 0 .1-3.1 .2 4 .1-5.1 .2 4.7 .1 3.9 .2-4.2 .1 2.3 .2-5.7 .1-4.2 .2 3.6 .2 3.5 .1-4.4 .2-6.2 .1 1.5 .2 1 .1 .1 .2-1.7 .1 1.1 .2 1.1 .1 .4 .2-.4 .2 2.1 .1 2.9 .2-2.5 .1-.6 .2-4.8 .1 .9 .2-5.9 .1 8.8 .2 .4 .1 3.5 .2-2.6 .2-.6 .1 .6 .2 1.5 .1 2.6 .2 1.5 .1-4.5 .2 2.1 .1 2.7 .2 1.1 .1-2.7 .2-2.6 .2 3.3 .1-1.1 .2 2.6 .1-2.8 .2-5.6 .1 6 .2-3 .1-.2 .2 1.9 .1 4.2 .2-.9 .2-1.5 .1 .1 .2 5.2 .1-3.8 .2 4.5 .1-.6 .2-2.4 .1-1.5 .2 .8 .1 2.1 .2-4.4 .1 1.3 .2 .1 .2 2.5 .1 6 .2-.7 .1-1.8 .2 4.8 .1-2.1 .2 2.4 .1-.9 .2 1.3 .1-.6 .2 .6 .2-3.6 .1-.5 .2 2 .1 .7 .2-.9 .1-1.4 .2 1.8 .1 1.6 .2-1.5 .1 4.5 .2 3 .2-1.7 .1 2.4 .2-2.7 .1-3.1 .2 2.9 .1 3.5 .2-3 .1-2.1 .2 2.7 .1 1.4 .2-2.7 .2-.6 .1-.2 .2 .4 .1 1.2 .2-.4 .1-1.4 .2 .8 .1 2.4 .2-1 .1-1 .2 1.9 .2-6.4 .1 1.9 .2 .5 .1-4.7 .2-.8 .1 .6 .2-2.6 .1 1.4 .2-1.3 .1 4.6 .2-4.8 .2-2.4 .1 1.7 .2-2.2 .1-2.8 .2 3.2 .1 1.9 .2-6.7 .1 5.9 .2 .6 .1-4.1 .2 0 .2 .2 .1-.6 .2 3 .1-1.3 .2-1.3 .1 .9 .2 .8 .1-2.5 .2 2.7 .1-7.3 .2 8.9 .1-3.2 .2 2.5 .2 .4 .1-1.1 .2-.8 .1-.2 .2 1.1 .1 1.2 .2-1.5 .1-1.9 .2 1.1 .1-.7 .2 1.5 .2-4.1 .1-2.1 .2 3.7 .1 2.2 .2 1 .1-.8 .2-5.9 .1 3.9 .2-5.2 .1 1.9 .2-2.6 .2 2.9 .1 1.9 .2-1.4 .1-5.7 .2 .2 .1 2.4 .2 1.1 .1-4.5 .2 9.3 .1-3.6 .2 1.2 .2-1.4 .1-4.1 .2 .5 .1-1.1 .2 5.3 .1-4.7 .2 4.4 .1-4.5 .2-.8 .1 4.8 .2-4.6 .2-.9 .1-3.1 .2 4.7 .1-.3 .2 1.5 .1-7.2 .2 .6 .1 4.7 .2-.9 .1 1.5 .2-2.2 .2-2.5 .1 4.2 .2-2.1 .1 3.5 .2 3 .1-3.9 .2 2.9 .1-1.3 .2 .4 .1 .1 .2 .5 .2 .4 .1 5 .2 1.5 .1-.4 .2 2.8 .1 3.2 .2 1.4 .1-1.2 .2 3.6 .1-2 .2-.4 .1-3.5 .2 .7 .2-4.9 .1 9.6 .2-.1 .1-5.4 .2 .9 .1-1.2 .2-3.8 .1 5.9 .2 1.7 .1-1.3 .2-3 .2 0 .1 4.3 .2-.5 .1-5.5 .2-1.5 .1 3.4 .2-2.3 .1-.3 .2 3.2 .1-2.4 .2-2.4 .2 3.8 .1 3.4 .2-5.9 .1-4.3 .2-1.1 .1 7.9 .2-12.1 .1 7.8 .2-4.5 .1-1.7 .2 .5 .2 .7 .1 2.6 .2-2 .1 3.5 .2 4.4 .1-8.9 .2 5.6 .1-3.6 .2 8 .1-6.3 .2-.3 .2 .8 .1 2.6 .2 1.9 .1-3.5 .2 5.1 .1-.6 .2-3.3 .1-.2 .2-2.2 .1 1.7 .2-3.7 .2 2.3 .1 2.6 .2-3 .1 1.5 .2 2.3 .1-3.5 .2 4.7 .1-.4 .2 2.7 .1-2.1 .2-3.1 .2 4 .1 .5 .2 1 .1 1.3 .2-1.2 .1-5.3 .2-2.7 .1 4.2 .2 2.1 .1-1.9 .2 4.2 .1-2.9 .2 1 .2-1.9 .1 3.2 .2 3.1 .1-1.3 .2 4.9 .1-2.3 .2-.9 .1-4.1 .2 3.5 .1-3.7 .2-1.5 .2 3.5 .1-1 .2 .7 .1-2.1 .2-1.2 .1 .9 .2 2.5 .1-6.1 .2 7.2 .1-3.3 .2 4.1 .2 3.2 .1-12.5 .2 1.6 .1 6 .2-5 .1 1.5 .2-1.9 .1 3.4 .2-.8 .1-4.9 .2 3.4 .2-2 .1 .7 .2-5.3 .1 4.8 .2-2.5 .1 4.6 .2-4.8 .1-5.1 .2 4.9 .1-2.2 .2 1.3 .2 .3 .1-2.9 .2-.1 .1 .2 .2-4.3 .1 2 .2 1.8 .1-.1 .2-2.6 .1-.7 .2-2.5 .2-2.8 .1 1.3 .2 1.3 .1-.4 .2 2.2 .1-.2 .2 .2 .1-1.7 .2-1.5 .1-.4 .2 3.4 .2 .8 .1 7.4 .2-4.7 .1 1.7 .2-3.9 .1 2.7 .2-3 .1 2.4 .2-1 .1-6 .2 6 .1-5.5 .2 .4 .2 .6 .1-.3 .2-.7 .1 3.7 .2-1.9 .1 .7 .2-1.5 .1-1.7 .2-1.6 .1 .4 .2 .5 .2 3.8 .1-5.7 .2-1 .1 3 .2 4.5 .1-.9 .2-.8 .1 1.7 .2 5.9 .1-5 .2-4.7 .2 10.2 .1-4.4 .2 1.6 .1 .8 .2-3 .1 10.4 .2-1.8 .1-2 .2 3.2 .1-.5 .2-2.9 .2 .1 .1-4.1 .2 5.1 .1-6.1 .2 5.4 .1-4.5 .2-.2 .1 5.4 .2-2.6 .1 1.5 .2-1 .2-4.6 .1 4 .2-.7 .1-5.1 .2 1.6 .1-3.4 .2 2.6 .1 2.1 .2-1.9 .1-2.4 .2 1.2 .2 1.8 .1 .8 .2 1.3 .1-1.4 .2-5.3 .1 3.7 .2 2.3 .1-1.8 .2-2.9 .1-.3 .2 2.5 .2-.7 .1-1 .2 2 .1 1.4 .2-4 .1 .5 .2-2.2 .1-1.6 .2 .1 .1 2.1 .2-5.4 .1 5.1 .2 1.6 .2-2.9 .1-.4 .2 2 .1-.3 .2-1.1 .1 5.7 .2-.7 .1 3.3 .2-2.1 .1 3 .2-1.6 .2 .4 .1 1 .2 .7 .1-3.2 .2 2 .1-1.1 .2 .3 .1 3.4 .2 .4 .1-2.8 .2 1.3 .2 .7 .1-1.9 .2-1 .1 8.7 .2-3.3 .1 1.5 .2-1 .1-1.1 .2 .8 .1-3.1 .2 1.8 .2-1.8 .1-2 .2 2.6 .1-2.9 .2-2.2 .1 2.2 .2 1.1 .1-.7 .2 2.1 .1-1.6 .2-2 .2 5 .1-1.6 .2-4.2 .1 3.8 .2 1.5 .1 2.8 .2-1.3 .1 .8 .2-5.8 .1 6.2 .2 1.3 .2 2.1 .1 1.3 .2-.5 .1 .1 .2-5.2 .1 2.9 .2-2.6 .1 1.9 .2-1.7 .1 5.9 .2-2.7 .2-.3 .1-.5 .2 3.3 .1-7 .2 2.8 .1-1.9 .2-1.5 .1 1.4 .2-2.6 .1 3.9 .2-4 .1-2.5 .2 1.1 .2 1.2 .1 .9 .2 1 .1-3.3 .2-2.2 .1 4.5 .2-5.9 .1 3.9 .2 1.1 .1-3.2 .2 3.9 .2 2.1 .1-1.9 .2-2.1 .1 .7 .2-2.5 .1-1.5 .2 5.3 .1-5.4 .2 3 .1-2.7 .2-.9 .2 1 .1 0 .2 2.2 .1-.4 .2 .5 .1 .1 .2 1.8 .1-.5 .2 2.5 .1-2.1 .2 4.3 .2-5.5 .1 4 .2 .6 .1 .2 .2-2.6 .1 1.3 .2-1.8 .1 3.5 .2-1.2 .1 .7 .2 2.3 .2-3.2 .1 2.6 .2-1.9 .1 1.4 .2 .6 .1-.6 .2 2.7 .1-2.7 .2-.3 .1-.7 .2 7.4 .2-3.1 .1-.7 .2 4.8 .1-.2 .2 5.7 .1-7.3 .2 3.7 .1-2.5 .2 6.5 .1-3.6 .2-.1 .2 1.1 .1 4 .2-1.7 .1-4.2 .2 5.4 .1-1.8 .2 .2 .1 .7 .2-3.8 .1-2.4 .2 4.3 .1 1.4 .2-8 .2-.5 .1-.9 .2-1 .1 6 .2-2 .1 1.6 .2 1.8 .1-7.4 .2 3.2 .1-6.8 .2 5.6 .2 .9 .1-3.9 .2-2.2 .1 2.1 .2 5.7 .1-6.2 .2-1.3 .1 5.6 .2 .2 .1-4.4 .2-.4 .2 2.6 .1-3.2 .2 .9 .1-6.3 .2-.5 .1-4.9 .2 2.3 .1 3.8 .2-3.1 .1-2.1 .2-.3 .2 .7 .1 3.9 .2 1.4 .1-3.2 .2 5 .1 3 .2-5.1 .1 2.9 .2-1.6 .1 4.2 .2 .3 .2-.4 .1-1.3 .2-.5 .1 4.5 .2-7 .1 3.9 .2 1 .1-5.3 .2 .7 .1 5.2 .2-5.6 .2 5.3 .1 0 .2-.8 .1-3 .2 4.2 .1-3.6 .2 4.8 .1-4.5 .2 4.9 .1-5.6 .2-7.4 .2 1.4 .1 .8 .2-5.1 .1 3 .2 2.2 .1-3.5 .2 6.2 .1-4.9 .2 1.2 .1 5.5 .2 1.4 .1-3 .2-1.6 .2 3.6 .1-6.1 .2 3.5 .1-2.7 .2 .5 .1-.5 .2-2.8 .1 3.6 .2-2.6 .1 .6 .2 3 .2 .5 .1-2.5 .2-4 .1 1.6 .2-2.8 .1-2.8 .2 .1 .1-.1 .2 4 .1 1.3 .2-6.3 .2-.3 .1-1.7 .2 3.8 .1-1.1 .2 1.1 .1-1.4 .2 .5 .1 .9 .2 1.7 .1-.9 .2-1.4 .2 3.6 .1-4.6 .2 2.1 .1-1.3 .2 .9 .1-.2 .2-3.6 .1 4.8 .2 3.3 .1 .7 .2-.1 .2-3.8 .1 3.6 .2-1.4 .1 3.7 .2-3.5 .1 3.8 .2-3.2 .1 7.2 .2-3.5 .1 1.3 .2 2.2 .2-3.9 .1 2.9 .2 3.9 .1-6 .2 2.3 .1 .8 .2 1.7 .1-5.2 .2 3.3 .1-5.7 .2 .7 .2 6.7 .1-1.7 .2 2.4 .1-.2 .2-.1 .1 1 .2-3.4 .1 2.6 .2 2.4 .1 .7 .2-1.5 .1 1 .2-1.5 .2-.4 .1 1.1 .2-1.2 .1-1.3 .2-4 .1 1.2 .2 1.4 .1 2.9 .2-4.6 .1 4 .2 1.7 .2-1.4 .1-.9 .2-2.9 .1 4 .2-4 .1 4 .2-.8 .1 4 .2-6.4 .1 5.1 .2-.7 .2-1.4 .1-.8 .2 4.1 .1-.3 .2 2.7 .1-2.7 .2 1.4 .1 .8 .2 2.2 .1-1.7 .2-1.3 .2-4.1 .1-2.6 .2 9.5 .1-5.1 .2 2.4 .1-1.4 .2 1 .1 .2 .2 1 .1-3.5 .2 1.8 .2 1.8 .1-2 .2 1.8 .1 1.2 .2-6 .1 2.9 .2 1.3 .1-2.2 .2 .4 .1 5.3 .2-2 .2-5.4 .1 1.4 .2 4 .1-.8 .2-.6 .1-.3 .2-.9 .1-5.5 .2 4.6 .1 .9 .2-5.9 .2 4.2 .1-1.8 .2-1.6 .1-1.9 .2 5 .1 .9 .2 1.8 .1-8.4 .2 1.4 .1 5 .2-4.2 .1-3.2 .2 .4 .2-2.6 .1-.1 .2 2.4 .1-.9 .2 2.3 .1-2.7 .2 .8 .1-4 .2 5 .1 4.9 .2-2.4 .2-2.5 .1 2.9 .2-1.2 .1 1.8 .2-1.9 .1 2.2 .2 2.7 .1-2.3 .2 1.1 .1-.6 .2 3.4 .2 .6 .1-2.9 .2 5.4 .1-5.2 .2 .8 .1 4.7 .2-1.4 .1 2.8 .2-5.2 .1-.5 .2-.4 .2 5.5 .1-.2 .2-1.6 .1-2.2 .2 1.7 .1-1.4 .2 2.7 .1-.4 .2-1.7 .1-.3 .2 5.6 .2-4.6 .1 .6 .2 6.5 .1-1.1 .2-5.6 .1-.7 .2 3.8 .1-6.2 .2 2.5 .1-.6 .2-6.2 .2 4.6 .1 .5 .2-2.6 .1 4.7 .2-2.1 .1-3.1 .2 2.1 .1-.4 .2-7.4 .1-.6 .2-2.2 .2 2.4 .1 .6 .2-3.9 .1 4.3 .2-3.9 .1 7 .2-5.3 .1 .8 .2-2.5 .1-1.7 .2-1.4 .1 4.8 .2-2.3 .2 1.5 .1-1 .2 1.6 .1-1.4 .2 1.8 .1-3.5 .2-.6 .1 2 .2 3.2 .1-.8 .2-5.8 .2 4.6 .1-4.7 .2 3.4 .1 .4 .2 .1 .1-5.3 .2-.6 .1 3.5 .2 .1 .1-3.2 .2 2.6 .2-3.1 .1 4.2 .2-1 .1 3.4 .2-7.3 .1 8.7 .2 4.9 .1-4 .2 .8 .1-4.4 .2 7.7 .2-1.4 .1-1.7 .2-.9 .1 6 .2-2 .1 2.3 .2 1.5 .1 .2 .2-.9 .1 2.3 .2-6.4 .2 8.5 .1-4.7 .2-1 .1 3.5 .2-.4 .1 0 .2-2.4 .1 .4 .2 1.1 .1-1.9 .2 3 .2-1.3 .1 1 .2-4.3 .1 3.1 .2 .1 .1-3.8 .2 .1 .1 6 .2-3.5 .1 2.3 .2-6.3 .2-2.3 .1 6.2 .2 2.5 .1 .6 .2-4.3 .1 1.4 .2-1.5 .1 3.4 .2-6.7 .1 2.8 .2-.3 .1-2.6 .2-1.1 .2 4.7 .1-1.2 .2-3.7 .1-2.7 .2-3 .1 8.5 .2-4.2 .1-1.8 .2-.1 .1-.1 .2-6.6 .2 3 .1 .8 .2 .2 .1-2.3 .2 7.6 .1-6.9 .2 1.9 .1-.4 .2 2.8 .1 1.8 .2-4.3 .2 1 .1-4.1 .2 3.2 .1-4.5 .2 1.9 .1-1.3 .2-.3 .1 1 .2 .2 .1 .4 .2 1.2 .2 .1 .1 2.8 .2-2.6 .1 2.1 .2-1.9 .1-2.2 .2 2.4 .1 1.5 .2 3.5 .1-.8 .2 3.7 .2-3.9 .1 1.5 .2-3.4 .1 2.3 .2-.4 .1-.3 .2 4.3 .1-1.2 .2 3.5 .1-4.1 .2 3.7 .2 .5 .1 2.9 .2-.2 .1-1.4 .2-6.2 .1 8.1 .2-1.8 .1 .1 .2 2.3 .1 .2 .2-1.8 .2 3.7 .1-4.6 .2 7.6 .1-.4 .2-.6 .1 2.9 .2-.5 .1 .8 .2 1.5 .1 1.3 .2 .4 .1 5.9 .2-6.1 .2-4.3 .1 4.6 .2 .6 .1 5.1 .2-3 .1 .4 .2-1.6 .1-3.2 .2 3.8 .1-2 .2 2.4 .2-4.8 .1 .1 .2 3.9 .1-3.5 .2-6.7 .1 6.2 .2-.8 .1 0 .2-3.3 .1-2.1 .2 3.3 .2 2.2 .1 .1 .2-3.7 .1 2.3 .2-5.1 .1-.8 .2 4.5 .1-2.3 .2-1.3 .1-1.2 .2 6.3 .2-6.8 .1 3.1 .2-1 .1-2.2 .2-1 .1 1.3 .2 2.4 .1-2.3 .2-5.6 .1-2.9 .2 2.8 .2-1.3 .1 1.8 .2-2.8 .1-1.7 .2 1.7 .1-.6 .2-3 .1 .1 .2 1.5 .1-2.4 .2 2.1 .2-4.8 .1 3.6 .2 2.1 .1 .5 .2 1.2 .1 1.3 .2 1.4 .1 .2 .2-.4 .1 .8 .2 5.8 .2-2.9 .1-1.2 .2-2.7 .1 2 .2 1.9 .1-.5 .2 2.5 .1 3.1 .2-2.5 .1 .5 .2 3.3 .1-3.6 .2 4.2 .2-3.7 .1 4 .2 1.9 .1 1.4 .2 .3 .1-4.1 .2 .5 .1 .3 .2 3 .1 4.8 .2-6.2 .2 3.4 .1-4.1 .2-.3 .1 .8 .2 2 .1-.2 .2-.2 .1 .4 .2 .3 .1-.6 .2-4.3 .2 1.8 .1-1.8 .2 3.6 .1-1.1 .2-.1 .1-2.6 .2-3.3 .1 2.6 .2 .7 .1 2 .2-5.4 .2 3 .1 1.2 .2-3.4 .1-1.6 .2-.7 .1 .8 .2-6.2 .1 .2 .2-.6 .1 2.2 .2 0 .2-1 .1-3.1 .2-1.4 .1 1.4 .2 1.3 .1 .5 .2-.7 .1 .9 .2-5.2 .1 .8 .2-2.8 .2 2.3 .1 3.5 .2 .3 .1 4.3 .2-6.1 .1 .9 .2-3.7 .1-.6 .2-1.1 .1-.7 .2 .3 .2-1.2 .1 4.8 .2 1 .1 1.2 .2-6.7 .1 1.8 .2 1 .1 5.3 .2 .2 .1 .7 .2 .3 .1 1.3 .2-.5 .2 1.3 .1-1.9 .2 3.4 .1 1.4 .2-.4 .1 2.4 .2-1.4 .1 3.2 .2-.1 .1 1.4 .2 1.7 .2-6.3 .1 4 .2-3.2 .1 .9 .2 4.4 .1 1 .2-.3 .1 1.7 .2 2.1 .1-2.5 .2 3.4 .2-.6 .1 3.6 .2-2.2 .1 2.5 .2-1.5 .1-1.4 .2 .7 .1 2.3 .2 1.8 .1-.3 .2 1.9 .2 2.2 .1-2.4 .2-1.3 .1-5.8 .2 3.2 .1-1 .2-2.5 .1 4 .2-6.2 .1-.7 .2-4 .2 5.6 .1 .5 .2-.6 .1 .6 .2 2.2 .1-5 .2 3.1 .1-2.9 .2-1.9 .1-3.6 .2 2 .2 .6 .1-1.5 .2 .7 .1-2.1 .2-.3 .1-1 .2-2.3 .1-2 .2-.3 .1 .7 .2 3.9 .2 2.4 .1-.8 .2 2.2 .1-7.3 .2-.4 .1 2 .2-4.3 .1 1.3 .2 1.6 .1-3.6 .2-2.6 .1 3.7 .2-3.4 .2 1.8 .1 0 .2-.8 .1 4.5 .2-1.2 .1-.6 .2-1.2 .1-.7 .2 1.8 .1 0 .2-6.3 .2 1.4 .1-2.1 .2 3.7 .1-3 .2-.2 .1 1.2 .2-.9 .1-2.8 .2 2.6 .1-1.6 .2 1.7 .2-.6 .1 3.1 .2-4.1 .1 1.6 .2 1 .1 1.6 .2-.8 .1-1.8 .2 3.7 .1 1.4 .2-.5 .2 1.9 .1 .1 .2 1.2 .1 5.2 .2-7.1 .1 3 .2 4.5 .1-2.2 .2 3.1 .1-5.9 .2 2.8 .2 3.6 .1-4.9 .2 1.9 .1-7.6 .2 6.3 .1 4.4 .2-4.3 .1 1.2 .2-.2 .1 3.9 .2-4.9 .2-5.3 .1 7.3 .2-5.9 .1 3.7 .2-6.2 .1 1.9 .2 .9 .1-3.9 .2 5.3 .1 1.1 .2-4.4 .2-.1 .1 3.1 .2-5.7 .1 3.8 .2 1.2 .1-.2 .2 3.9 .1-3 .2-3.7 .1-.8 .2 .4 .1-5.6 .2 5.1 .2-1.9 .1 1.4 .2 1.3 .1-3.4 .2 1.5 .1-4 .2 1.5 .1 .7 .2 5.3 .1-5 .2 .5 .2-2.3 .1 2 .2 1.3 .1-5.3 .2 .5 .1 3.3 .2-2.5 .1 5 .2 .6 .1-1.3 .2 1.9 .2-1 .1-1.6 .2-4.2 .1-.3 .2 2.9 .1-4.1 .2 3.5 .1-1.5 .2 1.2 .1-.8 .2-2.9 .2 3.1 .1 2.9 .2-6.8 .1 3.7 .2 .9 .1 3.7 .2-8.7 .1-.1 .2-.2 .1-2 .2-2.5 .2 3.5 .1 0 .2 3.4 .1-1.7 .2-5.6 .1 .9 .2 4 .1-4.6 .2 2 .1 1.9 .2-2.4 .2 3.9 .1 1.1 .2-1.3 .1-5.2 .2 8.4 .1-4.1 .2-2 .1 1.7 .2 5.8 .1-2.1 .2 1.4 .2 1.5 .1 3.1 .2 1.6 .1-4.6 .2 .1 .1 .7 .2 1.9 .1-1.7 .2 .9 .1-2.8 .2 3 .1-3.6 .2 .2 .2 6.8 .1-2 .2 .2 .1 .1 .2 0 .1 1.1 .2-3.6 .1-.4 .2-.4 .1-1.5 .2 5 .2-.6 .1-3.5 .2 .9 .1-3.7 .2 2.6 .1 3.7 .2-6.1 .1 5.3 .2-.5 .1-8.6 .2 7.3 .2-.1 .1-.2 .2-1.1 .1 5.8 .2-1.4 .1 3.1 .2 3.8 .1-6.3 .2 .3 .1 2.4 .2 1.3 .2 .8 .1 .5 .2-5.1 .1 3.7 .2-1.3 .1 2.4 .2-2 .1 1.2 .2-1.6 .1 4 .2-4.4 .2-2.7 .1 5 .2-.6 .1-4.1 .2 1.7 .1-.1 .2 5 .1-3.8 .2 4.8 .1-.9 .2-.7 .2 3 .1-4.2 .2-3.4 .1 2 .2 0 .1 2.6 .2-1.1 .1-.1 .2-1 .1 1.1 .2-1.4 .2-2.6 .1 0 .2-.4 .1-.2 .2-3.2 .1 2.9 .2-3.3 .1-1.4 .2 3.3 .1-3 .2 3.5 .1-6.9 .2 1.9 .2 3.6 .1 5 .2-2.6 .1 5.4 .2-2.8 .1-1.9 .2 2.1 .1 2.6 .2-3.2 .1 4.2 .2-3.9 .2 1.1 .1 1.2 .2-2.3 .1 3.7 .2-5.6 .1 3.9 .2-1.2 .1 6.8 .2-3.7 .1 2.7 .2 2.2 .2-3.4 .1-1.8 .2 5.2 .1-2.4 .2 4.5 .1-.9 .2-1.8 .1 .6 .2 2.7 .1-7 .2 3.7 .2 3 .1 2.7 .2 .6 .1-2.4 .2-3.2 .1 1.3 .2 3.5 .1-1.1 .2-6.8 .1 6.8 .2-.5 .2-4.7 .1 5.4 .2 2.8 .1 1.9 .2 .1 .1-.7 .2-1.7 .1-1.7 .2-1.6 .1-.7 .2 1.1 .2-1.7 .1 3.6 .2 .2 .1-2.6 .2 2.3 .1-1 .2-.8 .1 5.2 .2-.6 .1-.3 .2 .5 .2 .2 .1-1.1 .2 .9 .1 2.1 .2-5.3 .1-3.8 .2 6.4 .1-3.1 .2-.4 .1-1.5 .2 4.1 .1-8 .2 3.4 .2 .2 .1-.7 .2-1.9 .1 .3 .2-1 .1-4.4 .2 4.7 .1 2.4 .2-3.8 .1-1.4 .2 1.3 .2 3.4 .1-6.6 .2 .7 .1-2.7 .2 2.3 .1-5.9 .2 .5 .1 .3 .2-3.9 .1-2.8 .2-.7 .2 1.7 .1-3.5 .2 1 .1-.3 .2 5.1 .1-2.3 .2-4.2 .1 3.1 .2 .3 .1-5.3 .2-.4 .2 4.2 .1 3.7 .2-2.3 .1-.7 .2-1.7 .1-1.1 .2 2.9 .1 1.8 .2-2.4 .1 2.5 .2-.4 .2 1.8 .1-6.5 .2 3.5 .1 2.8 .2-.1 .1-.6 .2 2.1 .1-.4 .2 3 .1-4.8 .2 3.8 .2 .6 .1 1.4 .2-2.4 .1-1.6 .2-1 .1-2.8 .2 4.2 .1-2.9 .2-.3 .1-1 .2 2.5 .2-4.1 .1-4.3 .2-1.6 .1 2.9 .2-1.3 .1 2.7 .2 .8 .1-2.3 .2-.9 .1 .5 .2 .4 .1-.3 .2-.9 .2 .1 .1 2.4 .2-3.8 .1 3.1 .2 1.4 .1-2.3 .2 .3 .1 4.2 .2-1.7 .1 4.5 .2-1.1 .2 3.8 .1-8 .2 7.6 .1-5 .2 3.6 .1-.7 .2-3.2 .1-2.6 .2 0 .1-2.7 .2 4.8 .2 1 .1 2.9 .2-3.2 .1 2 .2 2.5 .1-2.7 .2 .3 .1 .7 .2-4.4 .1 1.5 .2 .8 .2-3.9 .1 6.3 .2-4.3 .1-2.2 .2 10.6 .1-4.4 .2-2.1 .1 3.1 .2-6.6 .1 11.5 .2-8.9 .2-1.1 .1 .4 .2 2.4 .1-3.4 .2 4.4 .1-3 .2 3.8 .1-.6 .2-1.5 .1 5.5 .2-.3 .2 .6 .1 3.7 .2-3.4 .1 .7 .2 5.7 .1-6.1 .2-.3 .1-.7 .2-.2 .1 3.1 .2-4.7 .2 3.8 .1-3.8 .2 3.7 .1-3 .2 4.6 .1 .1 .2 3.7 .1-3.3 .2-1.8 .1-2.1 .2 2.1 .1 .9 .2 1 .2-2.3 .1 4.4 .2-3.9 .1 .6 .2 6 .1 1.2 .2-5.7 .1 3.6 .2 1.8 .1-3.9 .2 3.9 .2-.9 .1 1.8 .2 2.7 .1-7.4 .2 4.3 .1 1.9 .2-.8 .1-3.2 .2 2.9 .1-2 .2 6 .2-5.9 .1 4.1 .2-5.4 .1 .6 .2 2.6 .1-4.9 .2 2.4 .1-1.1 .2-.4 .1 1.9 .2-3.1 .2-1.4 .1 5.6 .2-4 .1 1.8 .2-2.5 .1-.3 .2 4.8 .1 1.7 .2-8.2 .1 5.5 .2 3.1 .2-2.8 .1 3.3 .2 2.2 .1 .9 .2-3.4 .1-6.5 .2 1.7 .1 0 .2-1.6 .1 1 .2 7.3 .2-5.6 .1 2.3 .2 1.4 .1-.6 .2-.4 .1 1.2 .2 1.6 .1-3.3 .2-4.2 .1 8.4 .2 1.2 .2-3 .1-1.1 .2-2.6 .1-.2 .2-5 .1 5.1 .2-.7 .1 1.3 .2-1.3 .1-4.7 .2-.7 .1 3.4 .2 0 .2 .3 .1-1.8 .2 5.3 .1-.3 .2-4.5 .1 6.7 .2-3.9 .1 .2 .2 1.5 .1 .9 .2-5.2 .2 8.1 .1-9.1 .2-3.4 .1 2.6 .2 0 .1-1.2 .2-.7 .1 6.4 .2-5.1 .1-4 .2 0 .2 1.7 .1-2.2 .2 1.2 .1-.7 .2 1.1 .1 2.4 .2-.6 .1-.9 .2 1 .1-4.5 .2 4.7 .2 2.9 .1-5.6 .2 4.4 .1-.5 .2 1.4 .1-.9 .2 2.3 .1 4 .2-1.6 .1-4.1 .2 8.5 .2-3.9 .1 .9 .2 4 .1 1.2 .2-7.3 .1 4.6 .2-5.9 .1 .6 .2 1.7 .1-1.8 .2-.7 .2-4.2 .1 .6 .2 1.1 .1-1 .2-2.2 .1 1.9 .2 2.2 .1-1.2 .2-3.5 .1 1.6 .2-.2 .1 2.2 .2 .8 .2-1.9 .1-.8 .2 1.3 .1-4 .2 5.4 .1-5.8 .2 3.2 .1-.8 .2 2.5 .1 4.1 .2-7.2 .2 .6 .1-3.3 .2 8.1 .1-9 .2 3.9 .1-1.5 .2 8.6 .1-6.2 .2-.9 .1-2.1 .2 1.3 .2 1.2 .1-3.2 .2-.1 .1-1.1 .2-.3 .1 .2 .2 1.4 .1 2.9 .2 .2 .1-6.1 .2 1.2 .2 2.4 .1 1.8 .2-1.7 .1-1.5 .2-.6 .1 2.6 .2-7 .1 3.7 .2 2.5 .1 1.2 .2-2.3 .2-5.1 .1 1.8 .2 1.4 .1-.3 .2 .8 .1 0 .2-6 .1 3.3 .2-4.3 .1 6.1 .2 .1 .2-3.9 .1 2.6 .2 2.2 .1-1.3 .2-4.1 .1 .1 .2 1.9 .1-4.2 .2 1.5 .1 2.4 .2 2.6 .2-1 .1-1.8 .2-1.1 .1 1.7 .2-.6 .1 2.4 .2 3 .1-2 .2-4.3 .1-1.7 .2-1.1 .1 3.7 .2-.7 .2-3.3 .1 2.1 .2 1.9 .1-2.9 .2-.5 .1 1.2 .2-.4 .1-1.6 .2 4.3 .1-6.7 .2 3.8 .2-.3 .1-2 .2-.2 .1-2.7 .2 .4 .1-3 .2 .9 .1-4.1 .2 1.8 .1 1.1 .2-3 .2-.3 .1-4 .2 3 .1-.8 .2 2.6 .1-1.7 .2 2.3 .1-.4 .2 .3 .1 2.1 .2 2.9 .2-3 .1-4.1 .2 5.5 .1-.6 .2 1.4 .1 .6 .2-5.5 .1 4.8 .2-1.5 .1-3.3 .2-1.4 .2 5.3 .1-4.4 .2-.8 .1-1.6 .2-.6 .1 2.5 .2-3.5 .1 0 .2 .3 .1-1.6 .2 0 .2-.5 .1-.5 .2-3.1 .1 4.4 .2 2 .1 2.4 .2-.5 .1 4.5 .2-2.3 .1 1.3 .2 2.9 .2-5.8 .1-2.8 .2 1 .1 4 .2-5.1 .1 5.3 .2 .9 .1 1.6 .2-1.1 .1-2.3 .2-2.1 .1 3 .2 .9 .2-3.2 .1 4.2 .2-.1 .1 5.7 .2-3.1 .1 .2 .2 2.3 .1-1.7 .2 2.5 .1 2 .2-.5 .2-2.9 .1 1.3 .2 3.5 .1-2.1 .2 3.8 .1-1 .2 2.1 .1 1 .2-1.2 .1 6.5 .2-.7 .2 2 .1 .4 .2 .3 .1-1.1 .2 0 .1-5.3 .2 3.7 .1 1 .2-1.3 .1 .9 .2 1.6 .2 3.1 .1-1.1 .2-1.8 .1 .5 .2-.8 .1 8 .2-5 .1 1.6 .2-3.9 .1 5.3 .2-3.2 .2 4.5 .1-.1 .2-.8 .1-1.8 .2-.1 .1-3.9 .2-1.3 .1 1 .2 2.7 .1-2.9 .2 2.7 .2-5 .1 2.8 .2 1.5 .1 1.9 .2 3.9 .1-2.2 .2 .3 .1-4.7 .2 1 .1 1.6 .2 .9 .2-4.8 .1 3.4 .2-1.1 .1-1.9 .2 1.9 .1 .6 .2-2.3 .1-1.4 .2 8 .1-6 .2 .4 .1-2.7 .2 1.9 .2-.8 .1-1.9 .2 2.1 .1 0 .2-1.3 .1-.8 .2 .5 .1-3.9 .2-.1 .1 .2 .2-.8 .2 1.7 .1-.4 .2-2.4 .1 .5 .2 2.3 .1 2.2 .2-3.4 .1-1.2 .2-1 .1-7.2 .2 1.5 .2-.7 .1-1 .2 1.6 .1-.2 .2-4.9 .1 7.7 .2-1.7 .1 1.1 .2 5.3 .1-1.9 .2-.9 .2-4.2 .1 7" class="r"/>
<path d="M562.1 564.1l.1-11.2 .2-42.1 .2 36.4 .1 19.1 .2 20 .1-10 .2-2.1 .1-7 .2-1.8 .1 9.5 .2-29.3 .1-19.2 .2 38.3 .2 13.8 .1 .6 .2-10.5 .1-4.8 .2-5.7 .1-37.1 .2 23.3 .1 33 .2 4.5 .1-6 .2-15.8 .2-33.2 .1 13.6 .2 31.5 .1 7.3 .2-.9 .1-4.5 .2 1.2 .1-5.7 .2-19.2 .1-21 .2 35.2 .2 18.4 .1 7.7 .2-14.3 .1-8.3 .2-1.9 .1-10.6 .2-31.2 .1 21.7 .2 41.8 .1 5.8 .2-9.4 .1-25.6 .2 3.3 .2-21.2 .1 2.1 .2 29.7 .1 7.7 .2-5.5 .1-1.7 .2 1.1 .1-13.2 .2-22.8 .1 3.8 .2 37.3 .2 .4 .1 6.2 .2-18.5 .1 9.4 .2-30.1 .1-17.5 .2 35.6 .1 9 .2 10.2 .1-5.8 .2-8.6 .2-10 .1-25.9 .2 36.5 .1 11.2 .2-9 .1-1.5 .2-6.4 .1 7.8 .2-4.7 .1-9.3 .2-27.8 .2 24.4 .1 7.2 .2 5.4 .1-1.5 .2-1.1 .1-2.4 .2 3.5" class="rs"/>
<path d="M575.7 565.7l.1-1.3 .2-2 .1 3.3 .2-1.7 .2 .7 .1-1.5 .2-1.2 .1 3.6 .2 .8 .1-.5 .2 1.5 .1-1.3 .2-4.1 .1 6.5 .2-5.4 .2 3.9 .1-3.1 .2 10.2 .1-5 .2 2.1 .1-5.3 .2-.3 .1 2.2 .2-3 .1-1.9 .2 1.6 .2-1.7 .1-1.4 .2 3.9 .1-5 .2 2.9 .1 7.4 .2-3.2 .1-2.3 .2-4.1 .1 4.5 .2 2.4 .1-8.8 .2 4.8 .2 .4 .1-3.2 .2 3.4 .1-1.9 .2-2.8 .1 .7 .2-.3 .1 3.1 .2-4 .1 7.3 .2-1 .2-3.1 .1 2.1 .2-.3 .1-2.2 .2 .5 .1 2.2 .2-4.8 .1-2.1 .2 3.4 .1-5.9 .2-.2 .2 4.4 .1-1.1 .2 1.4 .1-3.6 .2 3.8 .1-2.7 .2 2.8 .1-4 .2 .1 .1-1.4 .2 1.3 .2-6.4 .1-4.4 .2 6.4 .1 1.3 .2 .8 .1 .6 .2 .6 .1 1.3 .2-1.2 .1-3.2 .2-2.4 .2 1.4 .1-2.9 .2-1.8 .1-.9 .2 .2 .1 3.5 .2-2.9 .1-1.9 .2 .8 .1 2.9 .2-5.2 .2 7.5 .1-3.5 .2 1.8 .1-.5 .2-2.3 .1-3 .2-2.6 .1 6.3 .2-8.7 .1-.8 .2-1.7 .2 .9 .1 .7 .2-.5 .1-1.3 .2 5.5 .1-3.8 .2-.5 .1 1.6 .2-6.9 .1 7.2 .2-.9 .1-.8 .2 .2 .2-3.7 .1 5.6 .2-1.3 .1-2.7 .2-.1 .1 4.2 .2-6.3 .1 5.1 .2-8.6 .1 6.2 .2-1.9 .2-4.5 .1 3.5 .2 .4 .1-3.1 .2-4 .1 3.9 .2-.1 .1-1.8 .2 3.1 .1-2.3 .2 1.5 .2-1.5 .1 .2 .2-1.7 .1 .7 .2-2.6 .1 5.1 .2-2.5 .1 3.5 .2-4.3 .1-.3 .2 .7 .2 1.8 .1-.6 .2 .3 .1-3.9 .2 3.1 .1-1.2 .2-.8 .1-2.2 .2-3.6 .1 1.6 .2-2.1 .2 3.9 .1-.4 .2 1.1 .1-2 .2-2.1 .1-.1 .2-.7 .1-.1 .2 .9 .1 1.2 .2 1.7 .2-.6 .1-.5 .2-2.8 .1 4.3 .2-3.8 .1 1.6 .2-2.3 .1 2.3 .2-2.5 .1-6.3 .2 2.8 .2-1.2 .1 2.1 .2 .6 .1 .5 .2-.7 .1-1.1 .2 2.8 .1-5.7 .2 3 .1 4.6 .2-6.8 .1-1.8 .2 3.8 .2 1.3 .1-3.1 .2-.2 .1 4 .2-5.8 .1 3.7 .2-2.9 .1 2.9 .2-.9 .1-1.6 .2-.6 .2 4.5 .1-5.2 .2 5.4 .1-3.1 .2-.2 .1 .5 .2 .5 .1 6.8 .2-4.4 .1-5.1 .2 2.8 .2 1.9 .1-.7 .2-.5 .1 2.1 .2-5.4 .1 4.9 .2-1.4 .1-.5 .2 .2 .1 1 .2-1.6 .2 .2 .1-3.9 .2 2.1 .1 1.1 .2 3.8 .1-.7 .2 1.1 .1 .7 .2 5.9 .1-3.2 .2-2.8 .2-.8 .1 .5 .2 .8 .1-2.4 .2 2.5 .1-.4 .2-3.5 .1 3.3 .2 3.8 .1 2.1 .2-4.3 .2 4 .1 3.2 .2-3.7 .1 6 .2-1.9 .1-.9 .2 1.3 .1 1.7 .2-2.7 .1 4.9 .2-2.4 .2-.6 .1 2.2 .2-5.7 .1 2.2 .2 1.7 .1 3 .2-.5 .1 2.3 .2-2.9 .1-2.6 .2-.3 .1 8 .2-6.8 .2 3.6 .1-.3 .2 3.9 .1 .3 .2 1.6 .1-4.4 .2-.6 .1 3.9 .2-2.7 .1-2.4 .2 .6 .2 2.1 .1-.2 .2 2 .1 2.4 .2 .4 .1 3.4 .2 .1 .1 3.6 .2-2.3 .1-3.9 .2-.6 .2 2.5 .1 3.8 .2 2.3 .1-1.8 .2 3.3 .1-2.6 .2-3.4 .1 7.7 .2-2.6 .1 0 .2 2.9 .2 .3 .1-4.2 .2 2.8 .1 2.4 .2-3.2 .1 3.7 .2-4.5 .1 5.2 .2 3.5 .1-2.3 .2 1.2 .2 3 .1 1.5 .2 5.2 .1 .4 .2-5 .1-1.9 .2 4.6 .1-.1 .2 5.6 .1-.3 .2-4.8 .2-.6 .1 0 .2-.5 .1 5.4 .2-3.1 .1-2.9 .2 5.5 .1-.4 .2-2.8 .1 1.1 .2-2.1 .2 1.8 .1 .9 .2 4.4 .1-6.1 .2 .4 .1-2.1 .2-2.9 .1 .4 .2-1.8 .1 3.5 .2-.3 .1 2.5 .2-.9 .2 .4 .1 1.5 .2 3.1 .1-5.3 .2-1.1 .1 5.5 .2-8.7 .1 2 .2-.6 .1-2 .2 1 .2 .1 .1-4.1 .2 1.6 .1 .5 .2 .2 .1-1.6 .2 1 .1-.6 .2-.1 .1-5.6 .2 3.6 .2 .2 .1-.9 .2-.3 .1 1.2 .2-6.4 .1 6.6 .2-5.9 .1 7.1 .2-3.2 .1-.6 .2 2.9 .2 .7 .1 .2 .2-6 .1 .9 .2-4.6 .1 0 .2 .2 .1 2.5 .2-.6 .1-1 .2-5.6 .2 3 .1 1.6 .2-1.3 .1-3 .2 7.5 .1-4.9 .2 3.1 .1 6.2 .2-6.4 .1 3.5 .2-.8 .2 1.9 .1-.7 .2-3.3 .1 1.3 .2 1.5 .1 3.7 .2-4.6 .1 2.2 .2-.7 .1 2.6 .2-2.9 .2-1 .1 3.1 .2-.4 .1 3.2 .2-2.5 .1 .8 .2-.3 .1-5 .2 5.1 .1 1.6 .2-1.7 .1 2.4 .2 .4 .2 5.9 .1-7.4 .2 7.4 .1-.5 .2 .6 .1-.6 .2-5.1 .1 5 .2 1.2 .1-1 .2-1.9 .2-.1 .1 2.4 .2-.3 .1-7.6 .2 8.3 .1 .5 .2 .8 .1-4.8 .2 3.5 .1-3.9 .2 3.1 .2 1 .1 2.1 .2-1.7 .1-.7 .2-2.2 .1 1.5 .2 2.1 .1-.5 .2-1.4 .1 1.2 .2-3.8 .2 2.5 .1 4.2 .2-4.5 .1 3.2 .2-.8 .1-.1 .2 6.3 .1-1.5 .2-1.2 .1-1.9 .2 1.6 .2-1.1 .1 5.6 .2-1.3 .1-4 .2 4.4 .1-3.7 .2 .2 .1-3.1 .2-1.1 .1 2.6 .2 .7 .2 1.3 .1-4.9 .2-1.1 .1 1 .2 1.2 .1 .8 .2 3.7 .1-3.2 .2-4.1 .1 3.5 .2-3.4 .2-1.3 .1-3.3 .2 6.1 .1 1.3 .2-1 .1-.5 .2-1.5 .1-2 .2-5.1 .1 .7 .2 .2 .1 4 .2 .6 .2-.8 .1-9 .2 1.4 .1 4.2 .2-2.8 .1-.8 .2 .3 .1 1.8 .2-4.9 .1 1.5 .2-.8 .2 1.6 .1 .7 .2 .5 .1 3.8 .2-8.1 .1 1.5 .2-.8 .1 3.3 .2-.6 .1-3.8 .2-.1 .2 3.1 .1-3.4 .2-3.6 .1 3.6 .2-.5 .1 2.8 .2 2.2 .1-1.3 .2-2.1 .1 1.7 .2-1.4 .2 4.1 .1-6.4 .2 4.3 .1 .5 .2-1.1 .1 8.8 .2-5.7 .1 .5 .2-1.4 .1-2.1 .2-2.9 .2 4.6 .1-.2 .2-3.5 .1 .4 .2 2.1 .1-.4 .2 .7 .1 2 .2 1.2 .1-2.8 .2 3.6 .2 3.4 .1-2.3 .2-.8 .1 .1 .2 1.8 .1 0 .2-4.4 .1-.2 .2-.3 .1-1.1 .2-.6 .2 3.8 .1 3.1 .2-5.3 .1 2.2 .2-1.9 .1 2.4 .2-2.3 .1-2.7 .2-2 .1 7 .2 2.6 .1 2.5 .2-9.5 .2-1 .1 2 .2-.1 .1 1.2 .2-.5 .1-4.2 .2-1.1 .1 1.5 .2 2.7 .1-2.7 .2 .3 .2 .4 .1-4.6 .2 1.3 .1 1.7 .2 1.2 .1-1 .2 1.5 .1-3.7 .2-1.2 .1 .2 .2-1.2 .2 5.9 .1-4.4 .2 2.1 .1 .5 .2-9.5 .1 9.1 .2 .5 .1 1.6 .2-2.7 .1-7.1 .2 7.2 .2-6.2 .1 3.9 .2-4.6 .1-2 .2 .1 .1 .2 .2-3.7 .1-1.6 .2 1.1 .1 1.9 .2-1.9 .2 2.1 .1-3.4 .2 .5 .1 1.3 .2 2.2 .1-1.8 .2 2.7 .1-.8 .2-5.4 .1 2.4 .2 1 .2 1.1 .1-.9 .2 2.5 .1 1 .2-4.1 .1-.8 .2 3.8 .1 1 .2-7.5 .1 .9 .2-3.6 .2-.8 .1 3.4 .2 .5 .1-2.2 .2 2.2 .1-.2 .2 1.3 .1-.9 .2 3.4 .1-1.7 .2 6.2 .1-3.7 .2 1.2 .2-1.5 .1-.1 .2-4 .1 .2 .2 5.7 .1-.1 .2-2.6 .1 1.8 .2 .6 .1-1.9 .2 3.6 .2-5.4 .1 4.9 .2 .2 .1-.3 .2-4.6 .1 3.8 .2-2.1 .1 1.3 .2-1.5 .1-1.8 .2-2 .2 1.4 .1 .4 .2 5 .1-3.8 .2-2.3 .1 1.3 .2-.1 .1-.3 .2-1.6 .1 3.1 .2 .3 .2-3.5 .1-.4 .2 2.3 .1 2.7 .2-3.9 .1-1.3 .2-4.5 .1 4.2 .2 5.1 .1-2.3 .2 1.6 .2 .3 .1 3.8 .2 1.4 .1-2 .2-1.9 .1-2 .2 .3 .1-1.5 .2-2.8 .1 4.5 .2 .6 .2 5.2 .1 .8 .2-1.6 .1 2.5 .2-5.8 .1 2.5 .2-.9 .1-2.7 .2 3.5 .1-1.7 .2 6.4 .2-6.9 .1 1 .2 3.5 .1-3 .2 2.8 .1 2.8 .2 1.6 .1-5.9 .2 8.5 .1-2.8 .2-4.7 .1 1.8 .2 1 .2-2.9 .1 2.5 .2-1.1 .1 3 .2 3.1 .1 .4 .2-5.4 .1 4.3 .2-.4 .1-7.7 .2 8.5 .2 1.2 .1 1.2 .2-3.4 .1 6.8 .2-1.8 .1 4.1 .2-3.1 .1-1 .2 2 .1-2.8 .2 2.2 .2 6.2 .1-3.5 .2-1.1 .1-1 .2-1.1 .1 .2 .2 3.5 .1-1.1 .2-5.7 .1 5.3 .2 3.3 .2-3.7 .1-1.7 .2 4.5 .1 .2 .2-3.1 .1 5.4 .2-3 .1-.1 .2 1.9 .1-4.2 .2 8.2 .2-6.8 .1 4.9 .2 1.1 .1-2 .2-1.6 .1 1.2 .2 3.9 .1 .7 .2-2.9 .1-.1 .2 4.5 .2-3.7 .1 1.9 .2 .2 .1 2.2 .2 1.6 .1-4.3 .2 7.2 .1-3.5 .2-2.2 .1 3.3 .2-6.3 .2 2.1 .1 4.1 .2-3.6 .1 1.4 .2 .6 .1-1.2 .2 .7 .1-4.5 .2 1.9 .1-1.4 .2-2.1 .1 3.4 .2-4 .2-.5 .1 4.6 .2-3.1 .1 3.8 .2-1.9 .1 1.7 .2-1.8 .1 2.1 .2-1 .1-2.4 .2-2.6 .2 .3 .1 .3 .2 3.5 .1-1.3 .2 8.7 .1-6.4 .2-1.5 .1 .8 .2 2 .1-4.8 .2 6.8 .2-3.1 .1 3.9 .2 .9 .1-1.4 .2-2.5 .1-2.1 .2 .5 .1 2.6 .2 1 .1-.5 .2-.5 .2 3.1 .1-3.3 .2-1.1 .1 .2 .2-.6 .1 1.2 .2-1.4 .1 4.3 .2-1.4 .1 2 .2 4 .2 .6 .1-3.3 .2 .4 .1 .7 .2-2.6 .1 3.2 .2 3 .1-4.8 .2 4.5 .1-3.3 .2-.8 .2-1.4 .1 7.4 .2-1.2 .1-.8 .2 1.5 .1-2.3 .2-5.3 .1 4 .2 .3 .1-2 .2 4.6 .2-3.8 .1 .9 .2-3.4 .1 3.1 .2-3 .1-1.7 .2-.6 .1 5.2 .2-3.8 .1 4.3 .2-6.9 .1-1.1 .2 3.3 .2-.2 .1 .4 .2-4.2 .1-2 .2 5.2 .1 1.4 .2 .3 .1 2.4 .2-.4 .1 .6 .2-.1 .2-1.5 .1 3 .2 1.7 .1 .5 .2 .5 .1-3.2 .2 6.1 .1-1.9 .2 3.8 .1-2.6 .2 1.8 .2-4.3 .1-.1 .2 2.5 .1 1.4 .2 1.6 .1-2.7 .2 1.9 .1 .7 .2-.8 .1 .9 .2-3.2 .2 5.7 .1-.5 .2 1.1 .1 .9 .2 2 .1-.5 .2-.3 .1-1.5 .2 1.3 .1 4.9 .2-3.3 .2 1.3 .1 .4 .2 .7 .1-1.1 .2-2.2 .1 2.2 .2 6 .1 1.3 .2-2.3 .1 4.9 .2-4.5 .2-1 .1-8.4 .2 7.1 .1 .1 .2 1.5 .1 2.3 .2-1.7 .1-1.6 .2 2.3 .1-.3 .2 .7 .2-1.1 .1 1.4 .2-1.5 .1-.5 .2 2.5 .1-1.7 .2 5.2 .1-3.6 .2-6.3 .1-2.8 .2-.1 .1 8 .2-4.4 .2 2.3 .1-2.9 .2 .9 .1-2.5 .2-1.1 .1 3.5 .2-3.3 .1 .2 .2-.8 .1 2.9 .2-2.4 .2 2.1 .1 1.8 .2-.1 .1-4.8 .2 6.2 .1-7 .2 .8 .1 1.3 .2-5 .1 3.5 .2-1.7 .2 0 .1-1.8 .2-.2 .1 0 .2 2.9 .1-3.3 .2 3.4 .1-2.7 .2 1.1 .1-.6 .2 4.4 .2-5.8 .1 4.9 .2-4.2 .1 .7 .2-.3 .1 2.5 .2-4 .1 2.3 .2-.7 .1 3.8 .2 .7 .2-.5 .1-1.1 .2 2.9 .1 .8 .2-2.3 .1 .8 .2-.1 .1-2.6 .2 1.5 .1 1 .2-3.3 .2 .8 .1 4.2 .2 1.7 .1-4.6 .2-3.1 .1 9 .2-1.9 .1 .9 .2 3.2 .1-.3 .2 2.1 .2 1.7 .1-.4 .2-.4 .1 5.4 .2-4.2 .1 0 .2 2 .1-1.2 .2 1.6 .1-.8 .2 2.9" class="r"/>
<path d="M45.06 480.84V650.70H740.00V480.84Z" class="ax"/>
<path d="M45.06 650.60h6.8M740.00 650.60h-6.8M45.06 608.80h6.8M740.00 608.80h-6.8M45.06 567.00h6.8M740.00 567.00h-6.8M45.06 525.20h6.8M740.00 525.20h-6.8M45.06 483.40h6.8M740.00 483.40h-6.8M122.28 650.70v-6.8M122.28 480.84v6.8M199.49 650.70v-6.8M199.49 480.84v6.8M276.71 650.70v-6.8M276.71 480.84v6.8M353.92 650.70v-6.8M353.92 480.84v6.8M431.14 650.70v-6.8M431.14 480.84v6.8M508.35 650.70v-6.8M508.35 480.84v6.8M585.57 650.70v-6.8M585.57 480.84v6.8M662.78 650.70v-6.8M662.78 480.84v6.8M740.00 650.70v-6.8M740.00 480.84v6.8" class="tk"/>
<rect x="563.1" y="480.6" width="138.4" height="144.6" class="bx"/>
<rect x="561.5" y="479.0" width="3.3" height="3.3" rx="0.5" class="mk"/>
<rect x="561.5" y="551.3" width="3.3" height="3.3" rx="0.5" class="mk"/>
<rect x="561.5" y="623.6" width="3.3" height="3.3" rx="0.5" class="mk"/>
<rect x="630.6" y="479.0" width="3.3" height="3.3" rx="0.5" class="mk"/>
<rect x="630.6" y="623.6" width="3.3" height="3.3" rx="0.5" class="mk"/>
<rect x="699.9" y="479.0" width="3.3" height="3.3" rx="0.5" class="mk"/>
<rect x="699.9" y="551.3" width="3.3" height="3.3" rx="0.5" class="mk"/>
<rect x="699.9" y="623.6" width="3.3" height="3.3" rx="0.5" class="mk"/>
<text x="40.8" y="487.4" class="yl">20</text>
<text x="40.8" y="529.2" class="yl">10</text>
<text x="40.8" y="571.0" class="yl">0</text>
<text x="40.8" y="612.8" class="yl">10</text>
<rect x="22.46" y="609.12" width="6.4" height="1.55" fill="#333"/>
<text x="40.8" y="654.6" class="yl">20</text>
<rect x="22.46" y="650.92" width="6.4" height="1.55" fill="#333"/>
<text x="122.5" y="665.8" class="xl">0.5</text>
<text x="199.7" y="665.8" class="xl">1</text>
<text x="276.9" y="665.8" class="xl">1.5</text>
<text x="354.1" y="665.8" class="xl">2</text>
<text x="431.3" y="665.8" class="xl">2.5</text>
<text x="508.6" y="665.8" class="xl">3</text>
<text x="585.8" y="665.8" class="xl">3.5</text>
<text x="663.0" y="665.8" class="xl">4</text>
<text x="740.2" y="665.8" class="xl">4.5</text>
<text x="393.4" y="679.8" class="tl" textLength="50.5" lengthAdjust="spacingAndGlyphs">Time (sec)</text>
<text transform="translate(15.6 565.0) rotate(-90)" class="yt">Amplitude (μV)</text>
<path d="M756.6 603.8V624.5" stroke="#555" stroke-width="0.9"/>
<path d="M768.3 603.8V624.5" stroke="#f07070" stroke-width="0.9"/>
<text transform="translate(760.7 601.8) rotate(-90)" class="lg">Contaminated Signal</text>
<text transform="translate(772.1 601.8) rotate(-90)" class="lg">Artifact-Free Signal</text>
<rect x="117.7" y="484.8" width="366.9" height="55.4" fill="#fff"/>
<clipPath id="cD"><rect x="117.7" y="484.8" width="366.9" height="55.4"/></clipPath>
<g clip-path="url(#cD)">
<path d="M115.6 515.6l.4-7.4 .4-16.2 .4 13.4 .5 9.1 .4 .5 .4-.8 .4-.1 .4-.5 .4 2.1 .4-.8 .4-15.4 .4-6.2 .4 17.4 .4 4.2 .5-.1 .4-.9 .4 .1 .4-5.3 .4-11.9 .4 10.5 .4 4.5 .4 3.5 .4-1.6 .4-3.1 .5-16.2 .4 6.9 .4 12.7 .4-1.9 .4 2.7 .4-1.1 .4 .2 .4-.4 .4-11.8 .4-11.4 .4 15.2 .5 5.8 .4-.6 .4 .6 .4-1.5 .4-.1 .4-4.9 .4-10.2 .4 7.6 .4 6.5 .4-.5 .4 .2 .5-2 .4-.1 .4-13.2 .4 2.8 .4 10.7 .4 1.8 .4-2.9 .4 1.1 .4 .8 .4-1.3 .4-13.5 .5-1.8 .4 13.8 .4 .5 .4-1.5 .4 2.4 .4-1.9 .4-6.9 .4-11.1 .4 12.9 .4 2.5 .4 1.4 .5-.5 .4-2.1 .4-5.7 .4-3.2 .4 5.3 .4 2.6 .4 .1 .4-1.2 .4-.4 .4 .1 .4 0 .5-2.8 .4-8 .4 6.5 .4 4.4 .4 .8 .4-.9 .4 0 .4 .9 .4-1.5 .4-.5 .5 .9 .4 3.2 .4-1.6 .4 1.3 .4 1.3 .4 .5 .4 .6 .4-1.1 .4 .2 .4 1.3 .4 .1 .5 .1 .4-.5 .4 .1 .4 2 .4-.4 .4 .3 .4 .6 .4-.9 .4 .4 .4 1.6 .4-.2 .5-.9 .4 .8 .4 .5 .4 1.1 .4 .7 .4-.3 .4 .7 .4 1.1 .4-.5 .4-.2 .4 2.4 .5-1.2 .4 .2 .4 1.8 .4 .6 .4 .2 .4-.1 .4-.7 .4 1.7 .4 .3 .4-1.1 .4 .7 .5 .3 .4 .5 .4-.7 .4 2.3 .4-2 .4 2 .4-1 .4 0 .4 2.5 .4-2 .5 1.5 .4-.6 .4 .6 .4 .8 .4-.9 .4 .1 .4 .5 .4 .5 .4 1 .4-2 .4 1.3 .5 1.2 .4 1.2 .4-.5 .4 0 .4 1.2 .4-1.7 .4 .8 .4 .8 .4 1.5 .4 .7 .4 .7 .5-.2 .4 .8 .4 .7 .4 .3 .4 .1 .4-1.2 .4 .5 .4 .8 .4-.6 .4-1.2 .4 1.2 .5-.2 .4 .5 .4-1.1 .4 .6 .4 1.3 .4 .4 .4-1 .4 .1 .4-.6 .4 .5 .4 .7 .5 0 .4-1.2 .4 2.4 .4-1.2 .4 1.5 .4-.6 .4 .6 .4 .6 .4-1 .4 1.9 .5-.6 .4-.2 .4 .7 .4-1.5 .4 .3 .4-.3 .4 1.4 .4-1.1 .4 .5 .4 .3 .4 .6 .5-.4 .4-1.1 .4 1.1 .4 .5 .4 .3 .4-1.9 .4 .8 .4 .8 .4 .2 .4 1.3 .4-.5 .5 .2 .4-.2 .4 .7 .4 .4 .4-.7 .4 .3 .4 1.7 .4-1.6 .4-.7 .4 1.7 .4-1.2 .5 1 .4-1.3 .4 1.2 .4 .2 .4-.2 .4-1.6 .4 1.2 .4 .5 .4-1 .4 .8 .4-.8 .5 1.5 .4 .6 .4-.8 .4-.5 .4 .3 .4-.6 .4 2.2 .4-.3 .4 .2 .4-1.4 .5 .6 .4 1 .4 .2 .4-.7 .4 .3 .4-.7 .4 2 .4-.9 .4 1.7 .4-.2 .4 .4 .5 0 .4 .3 .4 0 .4-.7 .4 .1 .4-.6 .4 1.2 .4-.3 .4-.4 .4 .6 .4 .1 .5 .3 .4 .3 .4-.2 .4 0 .4-1.1 .4-.1 .4 0 .4 1.1 .4 .5 .4-.1 .4 .1 .5-1.8 .4 1 .4 .2 .4-1.3 .4 1.1 .4-.6 .4-.1 .4 1.4 .4-1.5 .4 .5 .4 .5 .5 .8 .4 .6 .4-2.2 .4 .8 .4-.6 .4-.1 .4-.5 .4-.4 .4 .9 .4-.4 .4-1.5 .5 .4 .4 .1 .4-.4 .4 0 .4-.9 .4 1.5 .4-.7 .4-1.5 .4 .9 .4-1.8 .5 3.2 .4-2.9 .4 1.7 .4 1.3 .4-2 .4-.5 .4-.2 .4 0 .4 1 .4 .4 .4-.5 .5-.6 .4-.6 .4 .2 .4-.8 .4 .4 .4 .4 .4-1.4 .4 .2 .4 1.6 .4-.7 .4 .5 .5-.1 .4-1.7 .4 1.2 .4 .2 .4-.9 .4-.8 .4 .3 .4 .1 .4-1 .4 .7 .4 .4 .5-.4 .4 2.3 .4-1.4 .4 0 .4-1.2 .4 .2 .4 .7 .4-1.6 .4 1.3 .4-2.3 .4 .6 .5 .6 .4 .3 .4-.4 .4-.1 .4 .6 .4-1.2 .4 2.2 .4-.9 .4-.4 .4 1.6 .5-1.5 .4 1.2 .4 .4 .4-1.7 .4-.8 .4-.9 .4 1.3 .4-1.4 .4-.2 .4-.3 .4 .8 .5 .4 .4 1.2 .4-1.3 .4-.6 .4 .2 .4-.1 .4 .8 .4-1.1 .4-.1 .4 .7 .4-.9 .5-.4 .4 1.1 .4-1.2 .4 .2 .4 1.7 .4-.8 .4-.4 .4-.5 .4-1 .4 1.8 .4-1.8 .5-.9 .4 .2 .4-.5 .4 1.1 .4-1.1 .4 1.3 .4-.7 .4 1.1 .4-1.7 .4 .4 .4-.2 .5 1.9 .4-.3 .4-1.5 .4 1 .4-1.4 .4-.7 .4-.8 .4 .4 .4 .1 .4 .9 .5-.5 .4-.7 .4-1 .4-.3 .4-.7 .4 2.5 .4-2.6 .4 .3 .4-.6 .4 1.1 .4-1 .5-1 .4 1.6 .4-.7 .4 .1 .4-.2 .4 1.3 .4-1.7 .4-.3 .4 .2 .4 .2 .4-.4 .5-2 .4 .2 .4-.9 .4 1.2 .4 .5 .4-1.5 .4 .9 .4-2.1 .4 .9 .4-.4 .4-.7 .5-1.1 .4-.8 .4 .3 .4 1.3 .4-2 .4 1.1 .4-1.3 .4 .6 .4-.6 .4-1.4 .4 1.1 .5 .5 .4-.3 .4-.2 .4-1.4 .4 1.1 .4-.3 .4-1.6 .4 .9 .4 .1 .4-1.5 .4 .5 .5 .2 .4 .5 .4-.4 .4-.9 .4-1 .4-.4 .4 0 .4 1 .4-.4 .4-1 .5 2.1 .4-.6 .4 .2 .4 .7 .4 .4 .4-1.1 .4 1.8 .4-.1" class="ki"/>
<path d="M115.6 517.1l.4-4.4 .4-16.5 .4 14.2 .5 7.5 .4 7.8 .4-3.9 .4-.8 .4-2.7 .4-.8 .4 3.8 .4-11.5 .4-7.5 .4 15 .4 5.3 .5 .3 .4-4.1 .4-1.9 .4-2.2 .4-14.5 .4 9.1 .4 12.9 .4 1.7 .4-2.3 .4-6.2 .5-13 .4 5.4 .4 12.3 .4 2.8 .4-.3 .4-1.8 .4 .5 .4-2.3 .4-7.4 .4-8.2 .4 13.7 .5 7.2 .4 3 .4-5.6 .4-3.2 .4-.7 .4-4.2 .4-12.2 .4 8.5 .4 16.3 .4 2.3 .4-3.7 .5-10 .4 1.3 .4-8.3 .4 .8 .4 11.6 .4 3 .4-2.1 .4-.6 .4 .4 .4-5.2 .4-8.9 .5 1.5 .4 14.6 .4 .1 .4 2.4 .4-7.2 .4 3.7 .4-11.8 .4-6.8 .4 13.9 .4 3.5 .4 4 .5-2.3 .4-3.3 .4-4 .4-10.1 .4 14.3 .4 4.4 .4-3.6 .4-.5 .4-2.5 .4 3 .4-1.8 .5-3.6 .4-10.9 .4 9.5 .4 2.8 .4 2.2 .4-.6 .4-.5 .4-.9 .4 1.4 .4-.5 .5-.8 .4 1.3 .4-.7 .4 .3 .4-.6 .4-.5 .4 1.4 .4 .3 .4-.2 .4 .6 .4-.5 .5-1.6 .4 2.5 .4-2 .4 1.5 .4-1.3 .4 4.1 .4-2 .4 .8 .4-2.1 .4-.1 .4 .9 .5-1.2 .4-.7 .4 .6 .4-.7 .4-.5 .4 1.5 .4-1.9 .4 1.1 .4 2.9 .4-1.3 .4-.9 .5-1.6 .4 1.8 .4 .9 .4-3.4 .4 1.9 .4 .1 .4-1.2 .4 1.3 .4-.7 .4-1.2 .4 .3 .5-.1 .4 1.2 .4-1.5 .4 2.8 .4-.4 .4-1.2 .4 .8 .4-.1 .4-.8 .4 .1 .5 .9 .4-1.9 .4-.8 .4 1.4 .4-2.3 .4-.2 .4 1.8 .4-.5 .4 .6 .4-1.4 .4 1.5 .5-1.1 .4 1.1 .4-1.5 .4 0 .4-.6 .4 .5 .4-2.5 .4-1.7 .4 2.5 .4 .5 .4 .4 .5 .2 .4 .2 .4 .5 .4-.4 .4-1.3 .4-.9 .4 .5 .4-1.1 .4-.7 .4-.4 .4 .1 .5 1.4 .4-1.1 .4-.8 .4 .3 .4 1.1 .4-2 .4 2.9 .4-1.3 .4 .7 .4-.2 .4-.9 .5-1.2 .4-1 .4 2.4 .4-3.3 .4-.4 .4-.6 .4 .3 .4 .3 .4-.2 .4-.5 .5 2.1 .4-1.4 .4-.2 .4 .6 .4-2.7 .4 2.8 .4-.3 .4-.3 .4 0 .4-1.4 .4 2.2 .5-.5 .4-1.1 .4 0 .4 1.6 .4-2.4 .4 1.9 .4-3.3 .4 2.4 .4-.7 .4-1.8 .4 1.4 .5 .1 .4-1.2 .4-1.5 .4 1.5 .4 0 .4-.8 .4 1.3 .4-.9 .4 .5 .4-.6 .4 .1 .5-.6 .4 .2 .4-1 .4 2 .4-1 .4 1.4 .4-1.7 .4-.1 .4 .3 .4 .7 .4-.2 .5 .1 .4-1.6 .4 1.2 .4-.4 .4-.3 .4-.9 .4-1.4 .4 .6 .4-.8 .4 1.5 .5-.1 .4 .4 .4-.8 .4-.8 .4 0 .4-.3 .4 0 .4 .3 .4 .5 .4 .6 .4-.2 .5-.2 .4-1.1 .4 1.7 .4-1.5 .4 .6 .4-.9 .4 .9 .4-.9 .4-2.5 .4 1.1 .4-.5 .5 .9 .4 .2 .4 .2 .4-.3 .4-.4 .4 1.1 .4-2.3 .4 1.2 .4 1.8 .4-2.7 .4-.7 .5 1.5 .4 .5 .4-1.2 .4-.1 .4 1.6 .4-2.3 .4 1.5 .4-1.1 .4 1.1 .4-.4 .4-.6 .5-.2 .4 1.7 .4-2 .4 2.1 .4-1.2 .4-.1 .4 .2 .4 .2 .4 2.7 .4-1.8 .4-1.9 .5 1.1 .4 .7 .4-.3 .4-.2 .4 .8 .4-2.1 .4 1.9 .4-.5 .4-.2 .4 .1 .5 .4 .4-.6 .4 0 .4-1.5 .4 .8 .4 .5 .4 1.4 .4-.2 .4 .4 .4 .3 .4 2.3 .5-1.3 .4-1 .4-.4 .4 .2 .4 .3 .4-.9 .4 1 .4-.2 .4-1.4 .4 1.3 .4 1.5 .5 .9 .4-1.7 .4 1.5 .4 1.3 .4-1.5 .4 2.4 .4-.8 .4-.3 .4 .5 .4 .6 .4-1 .5 1.9 .4-.9 .4-.3 .4 .9 .4-2.2 .4 .8 .4 .7 .4 1.2 .4-.2 .4 .9 .4-1.2 .5-1 .4-.1 .4 3.1 .4-2.6 .4 1.4 .4-.1 .4 1.5 .4 .1 .4 .6 .4-1.7 .5-.2 .4 1.5 .4-1.1 .4-.9 .4 .2 .4 .9 .4-.1 .4 .8 .4 .9 .4 .2 .4 1.3 .5 0 .4 1.4 .4-.9 .4-1.5 .4-.2 .4 1 .4 1.4 .4 .9 .4-.7 .4 1.3 .4-1 .5-1.3 .4 3 .4-1 .4 0 .4 1.1 .4 .1 .4-1.6 .4 1.1 .4 .9 .4-1.2 .4 1.4 .5-1.7 .4 2 .4 1.4 .4-.9 .4 .4 .4 1.2 .4 .6 .4 2 .4 .2 .4-2 .4-.7 .5 1.8 .4-.1 .4 2.2 .4-.1 .4-1.9 .4-.2 .4 0 .4-.2 .4 2.1 .4-1.2 .5-1.2 .4 2.2 .4-.1 .4-1.2 .4 .5 .4-.9 .4 .8 .4 .3 .4 1.7 .4-2.3 .4 .1 .5-.8 .4-1.2 .4 .2 .4-.7 .4 1.4 .4-.2 .4 1 .4-.3 .4 .2 .4 .5 .4 1.2 .5-2 .4-.4 .4 2.1 .4-3.4 .4 .8 .4-.3 .4-.7 .4 .3 .4 .1 .4-1.6 .4 .6 .5 .2 .4 .1 .4-.6 .4 .3 .4-.2 .4 0 .4-2.2 .4 1.4 .4 .1 .4-.4 .4-.1 .5 .5 .4-2.5 .4 2.6 .4-2.4 .4 2.8 .4-1.2 .4-.3 .4 1.2 .4 .2 .4 .1 .4-2.3 .5 .3 .4-1.8 .4 0 .4 .1 .4 1 .4-.2 .4-.5 .4-2.1 .4 1.1 .4 .7 .5-.5 .4-1.2 .4 2.9 .4-1.9 .4 1.2 .4 2.4 .4-2.5 .4 1.4 .4-.3 .4 .7 .4-.2 .5-1.3 .4 .5 .4 .5 .4 1.5 .4-1.8 .4 .9 .4-.3 .4 1 .4-1.1 .4-.4 .4 1.2 .5-.1 .4 1.2 .4-1 .4 .3 .4-.1 .4-1.9 .4 1.9 .4 .7 .4-.7 .4 .9 .4 .2 .5 2.3 .4-2.9 .4 2.9 .4-.2 .4 .2 .4-.2 .4-2 .4 2 .4 .5 .4-.4 .4-.8 .5 0 .4 .9 .4-.1 .4-3 .4 3.3 .4 .2 .4 .3 .4-1.9 .4 1.4 .4-1.6 .5 1.3 .4 .4 .4 .8 .4-.7 .4-.3 .4-.8 .4 .5 .4 .9 .4-.2 .4-.6 .4 .5 .5-1.5 .4 1 .4 1.7 .4-1.8 .4 1.2 .4-.3 .4 0 .4 2.4 .4-.5 .4-.5 .4-.7 .5 .6 .4-.5 .4 2.2 .4-.5 .4-1.6 .4 1.8 .4-1.5 .4 .1 .4-1.2 .4-.4 .4 1 .5 .3 .4 .5 .4-2 .4-.4 .4 .4 .4 .5 .4 .3 .4 1.4 .4-1.2 .4-1.6 .4 1.4 .5-1.4 .4-.5 .4-1.3 .4 2.4 .4 .5 .4-.4 .4-.2 .4-.6 .4-.7 .4-2 .5 .3 .4 0 .4 1.6 .4 .2 .4-.3 .4-3.5 .4 .5 .4 1.7 .4-1.1 .4-.3 .4 .1 .5 .7 .4-1.9 .4 .6 .4-.3 .4 .6 .4 .2 .4 .2 .4 1.5 .4-3.1 .4 .6 .4-.4 .5 1.3 .4-.2 .4-1.5 .4 0 .4 1.2 .4-1.3 .4-1.5 .4 1.5 .4-.2 .4 1 .4 .9 .5-.5 .4-.8 .4 .7 .4-.6 .4 1.6 .4-2.5 .4 1.7 .4 .2 .4-.4 .4 3.4 .4-2.3 .5 .3 .4-.6 .4-.8 .4-1.2 .4 1.9 .4-.1 .4-1.4 .4 .2 .4 .8 .4-.2 .5 .3 .4 .8 .4 .5 .4-1.2 .4 1.5 .4 1.3 .4-.9 .4-.3 .4 0 .4 .7 .4 0 .5-1.7 .4-.1 .4-.1 .4-.4 .4-.3 .4 1.5 .4 1.2 .4-2 .4 .8 .4-.7 .4 .9 .5-.9 .4-1 .4-.8 .4 2.7 .4 1 .4 1 .4-3.7 .4-.4 .4 .8 .4 0 .4 .4 .5-.2 .4-1.6 .4-.5 .4 .6 .4 1.1 .4-1 .4 .1 .4 .1 .4-1.8 .4 .5 .4 .7 .5 .5 .4-.4 .4 .6 .4-1.5 .4-.5 .4 .1 .4-.5 .4 2.4 .4-1.8 .4 .8 .4 .2 .5-3.7 .4 3.6 .4 .2 .4 .6 .4-1 .4-2.8 .4 2.8 .4-2.4 .4 1.5 .4-1.8 .5-.8 .4 .1 .4 0 .4-1.4 .4-.6 .4 .4 .4 .7 .4-.7 .4 .8 .4-1.3 .4 .2 .5 .5 .4 .9 .4-.7 .4 1 .4-.3 .4-2.1 .4 .9 .4 .4 .4 .4 .4-.3 .4 1 .5 .3 .4-1.5 .4-.3 .4 1.4 .4 .4 .4-2.9 .4 .3 .4-1.4 .4-.3 .4 1.4 .4 .1 .5-.8 .4 .9 .4-.1 .4 .5 .4-.4 .4 1.3 .4-.6 .4 2.4 .4-1.4 .4 .4 .4-.6 .5 0 .4-1.5 .4 0 .4 2.2 .4 0 .4-1 .4 .7 .4 .2 .4-.7 .4 1.4 .5-2.1 .4 1.9 .4 .1 .4-.1 .4-1.8 .4 1.5 .4-.9 .4 .5 .4-.6 .4-.7 .4-.7 .5 .5 .4 .2 .4 1.9 .4-1.4 .4-1 .4 .6 .4-.1 .4-.1 .4-.6 .4 1.2 .4 .1 .5-1.4 .4-.1 .4 .9 .4 1 .4-1.5 .4-.5 .4-1.8 .4 1.7 .4 2 .4-.9 .4 .6 .5 .1 .4 1.5 .4 .5 .4-.7 .4-.8 .4-.8 .4 .1 .4-.5 .4-1.1 .4 1.7 .4 .3 .5 2 .4 .3 .4-.6 .4 .9 .4-2.2 .4 1 .4-.4 .4-1 .4 1.3 .4-.6 .5 2.5 .4-2.7 .4 .4 .4 1.3 .4-1.1 .4 1.1 .4 1.1 .4 .6 .4-2.3 .4 3.3 .4-1.1 .5-1.8 .4 .7 .4 .4 .4-1.2 .4 1 .4-.4 .4 1.1 .4 1.3 .4 .1 .4-2.1 .4 1.7 .5-.2 .4-3 .4 3.3 .4 .5 .4 .5 .4-1.3 .4 2.6 .4-.7 .4 1.6 .4-1.2 .4-.4 .5 .8 .4-1.1 .4 .8 .4 2.4 .4-1.3 .4-.4 .4-.4 .4-.4 .4 0 .4 1.4 .4-.4 .5-2.3 .4 2.1 .4 1.3 .4-1.4 .4-.7 .4 1.8 .4 0 .4-1.2 .4 2.1 .4-1.1 .4-.1 .5 .8 .4-1.7 .4 3.2 .4-2.6 .4 1.9 .4 .4 .4-.8 .4-.6 .4 .5 .4 1.5 .5 .3 .4-1.2 .4 0 .4 1.8 .4-1.5 .4 .8 .4 0 .4 .9 .4 .6 .4-1.7 .4 2.9 .5-1.4 .4-.9 .4 1.3 .4-2.5 .4 .9 .4 1.6 .4-1.4 .4 .5 .4 .2 .4-.4 .4 .2 .5-1.7 .4 .7 .4-.5 .4-.9 .4 1.4 .4-1.6 .4-.1 .4 1.7 .4-1.2 .4 1.5 .4-.7 .5 .6 .4-.7 .4 .9 .4-.4 .4-1 .4-1 .4 .1 .4 .1 .4 1.4 .4-.5 .4 3.4 .5-2.5 .4-.6 .4 .3 .4 .8 .4-1.9 .4 2.7 .4-1.2 .4 1.5 .4 .3 .4-.5 .5-1 .4-.8 .4 .2 .4 1 .4 .4 .4-.2 .4-.2 .4 1.2 .4-1.3 .4-.4 .4 .1 .5-.2 .4 .4 .4-.5 .4 1.7 .4-.6 .4 .8 .4 1.6 .4 .2 .4-1.3 .4 .2 .4 .2 .5-1 .4 1.2 .4 1.2 .4-1.8 .4 1.7 .4-1.3 .4-.3 .4-.5 .4 2.9 .4-.5 .4-.3 .5 .6 .4-.9 .4-2.1 .4 1.6 .4 .1 .4-.8 .4 1.8 .4-1.5 .4 .4 .4-1.4 .4 1.2 .5-1.1 .4-.7 .4-.3 .4 2.1 .4-1.5 .4 1.7 .4-2.7 .4-.4 .4 1.3 .4-.1 .5 .1 .4-1.6 .4-.8 .4 2 .4 .6 .4 .1 .4 .9 .4-.1 .4 .2 .4 0 .4-.6 .5 1.2 .4 .6 .4 .2 .4 .2 .4-1.2 .4 2.4 .4-.8 .4 1.5 .4-1 .4 .7 .4-1.7 .5 0 .4 .9 .4 .6 .4 .6 .4-1 .4 .7 .4 .3 .4-.3 .4 .3 .4-1.2 .4 2.2 .5-.2 .4 .4 .4 .4 .4 .8 .4-.2 .4-.1 .4-.6 .4 .5 .4 1.9 .4-1.3 .4 .5 .5 .2 .4 .2 .4-.4 .4-.9 .4 .9 .4 2.3 .4 .5 .4-.8 .4 1.9 .4-1.8 .5-.4 .4-3.2 .4 2.7 .4 .1 .4 .5 .4 .9 .4-.6 .4-.6 .4 .9 .4-.2 .4 .3 .5-.4 .4 .5 .4-.6 .4-.2 .4 1 .4-.6 .4 2 .4-1.4 .4-2.5 .4-1.1 .4 0 .5 3.1 .4-1.7 .4 .9 .4-1.1 .4 .3 .4-1 .4-.4 .4 1.4 .4-1.3 .4 .1 .4-.4 .5 1.2 .4-1 .4 .9 .4 .7 .4-.1 .4-1.8 .4 2.4 .4-2.8 .4 .3 .4 .5 .4-1.9 .5 1.4 .4-.7 .4 0 .4-.7 .4-.1 .4 0 .4 1.1 .4-1.2 .4 1.3 .4-1.1 .4 .5 .5-.3 .4 1.7 .4-2.2 .4 1.9 .4-1.6 .4 .2 .4-.1 .4 1 .4-1.6 .4 .9 .5-.2 .4 1.5 .4 .2 .4-.2 .4-.4 .4 1.1 .4 .3 .4-.9 .4 .3 .4 0 .4-1 .5 .6 .4 .4 .4-1.3 .4 .3 .4 1.6 .4 .7 .4-1.8 .4-1.2 .4 3.5 .4-.7 .4 .3 .5 1.3 .4-.1 .4 .8 .4 .6 .4-.1 .4-.2 .4 2.2 .4-1.7 .4 0 .4 .8 .4-.5 .5 .6 .4-.3 .4 1.2" class="ri"/>
</g>
<rect x="117.7" y="484.8" width="366.9" height="55.4" class="iax"/>
<text x="117.3" y="487.6" class="il">20</text>
<text x="117.3" y="503.9" class="il">10</text>
<text x="117.3" y="520.3" class="il">0</text>
<text x="117.3" y="536.6" class="il">-10</text>
<text x="136.9" y="548.8" class="ixl">3.4</text>
<text x="177.8" y="548.8" class="ixl">3.5</text>
<text x="218.8" y="548.8" class="ixl">3.6</text>
<text x="259.7" y="548.8" class="ixl">3.7</text>
<text x="300.6" y="548.8" class="ixl">3.8</text>
<text x="341.5" y="548.8" class="ixl">3.9</text>
<text x="382.5" y="548.8" class="ixl">4</text>
<text x="423.4" y="548.8" class="ixl">4.1</text>
<text x="464.3" y="548.8" class="ixl">4.2</text>
<path d="M117.70 485.50h3.5M484.60 485.50h-3.5M117.70 501.84h3.5M484.60 501.84h-3.5M117.70 518.17h3.5M484.60 518.17h-3.5M117.70 534.50h3.5M484.60 534.50h-3.5M136.90 540.20v-3.5M136.90 484.80v3.5M177.83 540.20v-3.5M177.83 484.80v3.5M218.75 540.20v-3.5M218.75 484.80v3.5M259.68 540.20v-3.5M259.68 484.80v3.5M300.60 540.20v-3.5M300.60 484.80v3.5M341.53 540.20v-3.5M341.53 484.80v3.5M382.45 540.20v-3.5M382.45 484.80v3.5M423.38 540.20v-3.5M423.38 484.80v3.5M464.30 540.20v-3.5M464.30 484.80v3.5" class="itk"/>
<path d="M563.1 480.6L487.6 484.8M563.1 625.2L486.6 542.2" class="dt"/>
<path d="M485.2 484.4l4.6 -2.4v4.8z" fill="#000"/>
<path d="M0 0l4.6 -2.4v4.8z" fill="#000" transform="translate(485.1 540.7) rotate(47.3)"/>
</g>
<g id="pE">
<path d="M558.9 793.9l.2-19.2 .1-41.6 .2 34.4 .1 23.3 .2 1.5 .1-2.2 .2-.2 .1-1.3 .2 5.5 .2-2 .1-39.7 .2-15.9 .1 44.6 .2 10.9 .1-.2 .2-2.5 .1 .4 .2-13.6 .1-30.7 .2 27.1 .1 11.4 .2 9 .1-3.9 .2-8 .2-41.8 .1 17.7 .2 32.9 .1-4.9 .2 6.9 .1-2.9 .2 .6 .1-1 .2-30.6 .1-29.4 .2 39.2 .1 15 .2-1.6 .1 1.5 .2-3.8 .2-.2 .1-12.6 .2-26.3 .1 19.5 .2 16.7 .1-1.1 .2 .4 .1-5 .2-.4 .1-33.9 .2 7.2 .1 27.6 .2 4.5 .1-7.4 .2 2.7 .2 2.3 .1-3.4 .2-34.7 .1-4.7 .2 35.6 .1 1.2 .2-3.8 .1 6 .2-4.9 .1-17.8 .2-28.6 .1 33.3 .2 6.6 .1 3.6 .2-1.4 .2-5.3 .1-14.6 .2-8.3 .1 13.6 .2 6.7 .1 .1 .2-3 .1-1.1 .2 .3 .1 .1 .2-7.3 .1-20.6 .2 16.7 .1 11.3 .2 2.1 .2-2.3 .1 0 .2 2.2 .1-3.7 .2-1.2 .1 2.2 .2 8.3 .1-4.2 .2 3.4 .1 3.2 .2 1.3 .1 1.8 .2-2.9 .1 .4 .2 3.4 .2 .3 .1 .3 .2-1.4 .1 .3 .2 5.2 .1-1.2 .2 .8 .1 1.7 .2-2.3 .1 .8 .2 4.2 .1-.5 .2-2.4 .1 2.2 .2 1.2 .2 2.9 .1 1.9 .2-1 .1 1.9 .2 2.8 .1-1.2 .2-.5 .1 6.1 .2-3 .1 .4 .2 4.7 .1 1.5 .2 .6 .1-.2 .2-1.9 .2 4.4 .1 .7 .2-2.8 .1 1.9 .2 .6 .1 1.4 .2-1.9 .1 5.9 .2-5.2 .1 5.2 .2-2.4 .1-.1 .2 6.4 .1-5 .2 3.8 .2-1.5 .1 1.4 .2 2 .1-2.3 .2 .4 .1 1.3 .2 1.2 .1 2.5 .2-5 .1 3.2 .2 3.2 .1 3.1 .2-1.4 .2 .2 .1 3.1 .2-4.4 .1 2 .2 2.1 .1 3.7 .2 1.9 .1 1.7 .2-.4 .1 2 .2 1.8 .1 .7 .2 .2 .1-3 .2 1.3 .2 2.1 .1-1.5 .2-3.1 .1 3.1 .2-.4 .1 1.2 .2-2.9 .1 1.7 .2 3.1 .1 1.1 .2-2.5 .1 .2 .2-1.5 .1 1.3 .2 1.7 .2-.1 .1-3.1 .2 6.2 .1-3.1 .2 4.1 .1-1.7 .2 1.5 .1 1.6 .2-2.4 .1 4.9 .2-1.7 .1-.5 .2 1.9 .1-3.9 .2 .8 .2-.9 .1 3.7 .2-2.8 .1 1.3 .2 .7 .1 1.5 .2-.9 .1-3 .2 2.8 .1 1.3 .2 .8 .1-4.9 .2 2.2 .1 2 .2 .6 .2 3.2 .1-1.1 .2 .4 .1-.5 .2 1.9 .1 .9 .2-1.7 .1 .7 .2 4.2 .1-4 .2-1.7 .1 4.3 .2-3 .1 2.5 .2-3.4 .2 3 .1 .8 .2-.6 .1-4.1 .2 3 .1 1.3 .2-2.6 .1 2.2 .2-2.2 .1 3.8 .2 1.5 .1-2.1 .2-1.1 .1 .8 .2-1.7 .2 5.7 .1-.6 .2 .4 .1-3.6 .2 1.5 .1 2.6 .2 .5 .1-1.7 .2 .6 .1-1.7 .2 5.2 .1-2.5 .2 4.6 .1-.7 .2 1.1 .2 .1 .1 .8 .2 0 .1-1.9 .2 .3 .1-1.6 .2 3 .1-.6 .2-1.1 .1 1.6 .2 .2 .1 .9 .2 .6 .1-.4 .2-.1 .2-2.8 .1-.2 .2-.2 .1 2.9 .2 1.3 .1-.1 .2 .3 .1-4.8 .2 2.5 .1 .7 .2-3.3 .1 2.7 .2-1.6 .1-.2 .2 3.5 .2-3.7 .1 1.4 .2 1 .1 2.2 .2 1.4 .1-5.6 .2 2.2 .1-1.7 .2-.3 .1-1.1 .2-1.1 .1 2.2 .2-.8 .2-3.9 .1 1 .2 .1 .1-1 .2 .1 .1-2.2 .2 3.6 .1-1.7 .2-4 .1 2.5 .2-4.6 .1 8.3 .2-7.6 .1 4.4 .2 3.2 .2-5.1 .1-1.3 .2-.4 .1-.1 .2 2.6 .1 1.2 .2-1.3 .1-1.7 .2-1.6 .1 .6 .2-1.9 .1 .8 .2 1.2 .1-3.6 .2 .4 .2 4.2 .1-1.9 .2 1.5 .1-.4 .2-4.3 .1 3.1 .2 .5 .1-2.4 .2-2.2 .1 .9 .2 .2 .1-2.6 .2 1.8 .1 1.2 .2-1.1 .2 5.9 .1-3.5 .2-.1 .1-3.1 .2 .4 .1 1.9 .2-4 .1 3.3 .2-6 .1 1.6 .2 1.7 .1 .7 .2-1 .1-.3 .2 1.5 .2-3.1 .1 5.6 .2-2.3 .1-.9 .2 4.1 .1-4.1 .2 3.2 .1 1.2 .2-4.5 .1-2.2 .2-2.2 .1 3.4 .2-3.7 .1-.6 .2-.7 .2 2.1 .1 1 .2 3.2 .1-3.5 .2-1.4 .1 .5 .2-.2 .1 2.1 .2-3.1 .1-.1 .2 1.7 .1-2.2 .2-1 .1 2.7 .2-3.1 .2 .5 .1 4.4 .2-2.1 .1-.9 .2-1.2 .1-2.8 .2 4.9 .1-4.7 .2-2.4 .1 .5 .2-1.3 .1 3 .2-3.1 .1 3.4 .2-1.7 .2 2.8 .1-4.3 .2 1 .1-.5 .2 4.9 .1-.9 .2-3.7 .1 2.5 .2-3.7 .1-1.7 .2-2.1 .1 1 .2 .4 .1 2.3 .2-1.4 .2-1.7 .1-2.7 .2-.7 .1-1.8 .2 6.4 .1-6.7 .2 .8 .1-1.4 .2 2.7 .1-2.5 .2-2.7 .1 4.1 .2-1.7 .2 .2 .1-.5 .2 3.3 .1-4.2 .2-.8 .1 .5 .2 .5 .1-1.2 .2-5.1 .1 .7 .2-2.4 .1 3.2 .2 1.1 .1-3.9 .2 2.5 .2-5.4 .1 2.1 .2-1 .1-1.9 .2-2.8 .1-2 .2 1 .1 3.3 .2-5.2 .1 2.7 .2-3.2 .1 1.5 .2-1.6 .1-3.5 .2 2.8 .2 1.3 .1-.7 .2-.6 .1-3.7 .2 2.9 .1-.8 .2-4.1 .1 2.4 .2 .2 .1-3.9 .2 1.4 .1 .4 .2 1.2 .1-1 .2-2.3 .2-2.5 .1-1.1 .2 .1 .1 2.4 .2-.8 .1-2.6 .2 5.4 .1-1.5 .2 .4 .1 1.9 .2 .8 .1-2.8 .2 4.8 .1-.2 .2-.8 .2-.6 .1 2.7 .2-2.2 .1 1.1 .2-.3 .1 .3 .2 .1 .1 .4 .2-2.7 .1-.3 .2 1.7 .1-2.6 .2 1.9 .1-.6 .2 1.6 .2 3 .1-3.6 .2 4.7 .1-2.1 .2 1.3 .1-2.7 .2 0 .1 .4 .2 2.4 .1-3.2 .2 .2 .1 3.4 .2 1 .1-.3 .2-.7 .2 4.3 .1-3.4 .2-.5 .1 2.7 .2 2.7 .1-5.3 .2 3 .1-2.5 .2-1.1 .1 6.9 .2-3.8 .1 1.9 .2-1.1 .1 2.5 .2-.9 .2 4.6 .1-3.6 .2-2.3 .1 4.5 .2-1.5 .1-1.2 .2 .4 .1 1.5 .2-1.2 .1-.6 .2 2.1 .1 3.3 .2-4.8 .1-2.1 .2 6.4 .2-2.2 .1 .4 .2-.2 .1 1.7 .2-2.8 .1 4.1 .2 0 .1-1.1 .2 1.1 .1-4.9 .2-.2 .1-.1 .2 2.7 .1 .6 .2 4.8 .2-2.2 .1 5.5 .2-1.7 .1-3 .2 1.7 .1-3.4 .2 1.8 .1-5.8 .2 1.2 .1 0 .2-.6 .1-.4 .2-1 .2 .2 .1 1.2 .2-3 .1-3.5 .2 .5 .1-.6 .2-1.8 .1 2.3 .2-.4 .1 2.5 .2-2.6 .1-3.6 .2 .7 .1-1 .2-1.1 .2 4.1 .1 .1 .2 .5 .1 .5 .2-2.2 .1 1.6 .2 2.2 .1-8 .2 .8 .1-1.2 .2 .6 .1-1.5 .2-1 .1-1.4 .2 2.9 .2-5.6 .1 3.7 .2-1.5 .1-4.4 .2 3.9 .1-2.4 .2 4.4 .1-.5 .2 1.3 .1-.1 .2 1.8 .1-.2 .2-2 .1 3.4 .2-1.4 .2-4.1 .1 1.4 .2 1.9 .1 .3 .2-1.3 .1 1.2 .2-.4 .1 1.3 .2-2.2 .1 6.1 .2 1.4 .1-5.4 .2 1.1 .1-1 .2 3.4 .2-5 .1 2.8 .2 .1 .1 2.6 .2-1.1 .1 .1 .2-2.8 .1 5.4 .2-.1 .1-2.7 .2 1.3 .1-2.7 .2 3.1 .1-.7 .2 .4 .2-.1 .1-1.9 .2-.8 .1 .2 .2 1.9 .1-1.6 .2 .2 .1 4.3 .2-2.9 .1-4.9 .2 1.1 .1 1.6 .2 1.8 .1 1.7 .2 .5 .2-4.8 .1-.3 .2 2.1 .1-.7 .2-1 .1 .4 .2-.4 .1-.5 .2-.5 .1 3.2 .2-1.1 .1-1.2 .2 0 .1 2.8 .2-3.6 .2 3.2 .1-8.9 .2 4.1 .1-.7 .2-.1 .1 2.2 .2-2 .1 .4 .2 .4 .1 0 .2-.5 .1-1.1 .2 1.3 .1 .5 .2-5 .2-.6 .1-2.8 .2-2.8 .1 .9 .2 2.1 .1-5 .2-2.7 .1 2.8 .2-.2 .1-1.3 .2 2.7 .1-1 .2 1.4 .1-.9 .2-1 .2 .4 .1 1.2 .2-1.5 .1 .4 .2 3.3 .1-4.2 .2 1.5 .1-2.8 .2 .9 .1 1.3 .2-1.7 .1 2.6 .2-3.4 .2 .6 .1-.9 .2-1 .1 2.2 .2-4 .1 3 .2-.8 .1-.7 .2 2.6 .1 .9 .2-6.1 .1 6.5 .2-1.5 .1 1.5 .2-6.2 .2 3.9 .1-4.3 .2 2.4 .1-.5 .2 2.6 .1-3.5 .2 2.8 .1 1.2 .2-1.5 .1 4.2 .2-.1 .1-2.1 .2 5.4 .1-5 .2-.7 .2-.9 .1-1.5 .2-.6 .1 1.7 .2-1.9 .1-1.4 .2 .9 .1 2 .2 .1 .1-2.1 .2 1 .1 .5 .2-1 .1 .6 .2-2 .2 1.4 .1 .3 .2 1.7 .1-1.9 .2 5.8 .1-3.5 .2-1.1 .1 1.7 .2-3.9 .1 3.2 .2 .4 .1 2.6 .2-3.5 .1 0 .2-.1 .2 1 .1-1 .2-1.6 .1-1.7 .2 1.1 .1 .6 .2 3.5 .1-4.5 .2 .2 .1 4 .2 1.8 .1-1.5 .2 2.6 .1-2.5 .2 3.1 .2 0 .1-.8 .2 4.3 .1-3.7 .2-1.5 .1 4.3 .2-4.3 .1 2.3 .2-1.6 .1 2.8 .2 2.1 .1 .2 .2-.2 .1-.5 .2 .4 .2-2.9 .1 1.2 .2 3.3 .1-1.6 .2 3.3 .1-1 .2-1.9 .1-.3 .2 .8 .1-1.4 .2 1.9 .1 1.9 .2-3.4 .1 1.4 .2 1.5 .2-.7 .1-1.2 .2 .6 .1 1.6 .2 3.1 .1-3.7 .2 2.7 .1-2.3 .2 .8 .1 3 .2 .1 .1 .5 .2-1.1 .1-5.9 .2 1 .2 5.3 .1-3.1 .2 1.9 .1-2.8 .2 2.9 .1-.2 .2 0 .1-.8 .2 1.2 .1 .6 .2 1.6 .1 0 .2 4.5 .2-1.6 .1 .5 .2-.3 .1-.2 .2-.1 .1-.3 .2 .2 .1-2.3 .2 5.4 .1-.3 .2-2 .1 6.6 .2-4.4 .1 3.3 .2-.5 .2-.6 .1 .5 .2-.7 .1-1.2 .2 3.2 .1-.1 .2-3.6 .1-1.2 .2-1.1 .1 3.1 .2 2.9 .1-1.2 .2-1.2 .1 1 .2 1.2 .2 4.2 .1-5.4 .2 .4 .1 1.2 .2 4 .1-3.3 .2 5 .1-5.1 .2 2.9 .1 1.8 .2-2.1 .1 3.1 .2-3.4 .1-.5 .2 2.7 .2-2.5 .1 3.8 .2-7.4 .1 2.1 .2 2.3 .1 .5 .2-7.4 .1 .2 .2 7.1 .1-4.4 .2 3.2 .1 1.2 .2 1 .1 .4 .2-2 .2 1.2 .1 3 .2-5.3 .1 3.2 .2 2.8 .1-2.7 .2 0 .1-1.6 .2 2.8 .1-.1 .2 1.3 .1-.1 .2-2.1 .1 1.2 .2-3.7 .2 1.5 .1-3 .2 1.8 .1 1.8 .2-3.2 .1 2.1 .2 2.3 .1-.9 .2-3.2 .1 3.4 .2-4.1 .1 .3 .2 2.1 .1-1 .2 1.4 .2 2.3 .1 .4 .2-3.3 .1-.4 .2 5.2 .1 0 .2-.7 .1-.6 .2 2.9 .1-3.8 .2 .5 .1 .5 .2-1.2 .1 6.2 .2-2.3 .2-.7 .1 1.7 .2 .5 .1 .3 .2 1.4 .1-2 .2 2.4 .1 .1 .2 1.3 .1-1.5 .2 .2 .1-1.6 .2 1 .1-.5 .2-1.5 .2 2.9 .1 1.7 .2 1.9 .1 3 .2-.9 .1-.2 .2 1.4 .1-1.6 .2 3.6 .1-3.6 .2 4.6 .1-3 .2-1.1 .1 3.5 .2-4.4 .2 1.1 .1 .9 .2 1.4 .1-1.1 .2 4.6 .1-3.5 .2 4.6 .1 .5 .2-.2 .1-3.8 .2-3.2 .1 5.4 .2-.5 .2 1.6 .1-5.4 .2 2.4 .1-3.8 .2 4.8 .1 1.3 .2-.2 .1-1.3 .2 5.4 .1-4.8 .2 1.1 .1 1.6 .2 .9 .1-3.7 .2-.7 .2 3.2 .1-1.7 .2-3.2 .1 3.5 .2-.5 .1 2.9 .2-1.2 .1 1.2 .2-2.1 .1 1.9 .2 1.7 .1-1 .2 1.9 .1-1.4 .2 2.4 .2 1.6 .1-1.5 .2 .4 .1 .3 .2-.9 .1-1.8 .2 .7 .1 4 .2-2.8 .1 .1 .2-.5 .1 3 .2-2.6 .1 1.4 .2 3.4 .2-3 .1 .8 .2 2.7 .1-6.7 .2 4.3 .1-.6 .2-1 .1-4.6 .2 2.3 .1-.7 .2-3.1 .1 1.5 .2-1.3 .1-2.6 .2 5.2 .2 5.4 .1-4.5 .2 1.7 .1-4 .2-2 .1 5.5 .2 .1 .1-3.4 .2-1.5 .1 3 .2-7.2 .1 .3 .2-.9 .1-2.2 .2 2.5 .2-2.2 .1 .3 .2-.1 .1 2 .2-.8 .1-1.6 .2-3.7 .1 3.3 .2 1.6 .1 2.8 .2-2.8 .1 .5 .2-6.4 .1 5 .2-.3 .2-.4 .1-4.8 .2 .4 .1 4.7 .2-.8 .1 3.3 .2 .5 .1-4.4 .2-5 .1 2.4 .2 3.7 .1-.5 .2 .3 .1-2.4 .2 5 .2 1.3 .1-5.3 .2 3.1 .1-1.2 .2 3.5 .1-1.7 .2 4.5 .1-1.9 .2-1.6 .1 1.7 .2 3.2 .1-1.8 .2 1.2 .1 2.3 .2-2 .2-.7 .1 .8 .2 4.6 .1-3 .2 1.1 .1 2.3 .2 3.7 .1-6 .2 2.7 .1 2 .2 6.7 .1-2 .2-5.6 .1 .8 .2 1 .2 1.7 .1-.6" class="k"/>
<rect x="560.0" y="713.9" width="138.7" height="143.2" class="ov"/>
<path d="M45.4 806.0l.2-.5 .1 1 .2 .3 .1-1.4 .2 1.5 .1-1.7 .2-.4 .1 4.4 .2 .2 .1-1.4 .2 .3 .1 1.7 .2 .2 .1-4.1 .2 0 .2 4.5 .1-1 .2 1.9 .1-1 .2 1.8 .1-2.5 .2 2.4 .1-1.5 .2-.3 .1 1.8 .2 4.3 .1-4.1 .2-2.1 .1 .3 .2 2.7 .2-.4 .1 .6 .2 .3 .1-3.8 .2 4.1 .1-2.4 .2 1.2 .1 2.4 .2 .8 .1-2.5 .2 2.5 .1 3.3 .2-1.4 .1-5.8 .2 7.4 .2-5.8 .1 1.7 .2 3.4 .1-6.1 .2 1.1 .1 4 .2-4.1 .1-.5 .2 1.8 .1-1.3 .2 1.2 .1-3.8 .2-1.4 .1 4.9 .2-.4 .2 2.7 .1-3 .2 4.7 .1-.3 .2-1.3 .1-2.2 .2-3.4 .1 8.3 .2-2.3 .1-4.4 .2 6.7 .1-2.9 .2-2 .2-5.8 .1 2 .2 3.4 .1-2.2 .2-3 .1-3.6 .2 6.4 .1-3.3 .2-1.8 .1-1.1 .2 .2 .1 2.2 .2-2.1 .1-1.2 .2-5 .2 4.1 .1 2 .2-4.2 .1 2.5 .2-1.4 .1 1.5 .2-1.7 .1 3.5 .2-3.2 .1 4.1 .2 .5 .1-4.8 .2 1.9 .1-2.6 .2-5 .2 4.3 .1-1.1 .2-1.6 .1-1.5 .2 .9 .1-1.3 .2-2.2 .1-1.6 .2 2.2 .1-1.1 .2 .9 .1 1.3 .2-3.1 .1 2.8 .2-1.9 .2 3.5 .1-1.2 .2-.1 .1-2.4 .2 5.4 .1-3.8 .2-2.6 .1 4.3 .2-7.1 .1 6.2 .2-5.1 .1 5.4 .2-3.4 .1 2.4 .2 1.3 .2-7.3 .1-2.9 .2 1.8 .1 .4 .2-1.7 .1 1.3 .2-6.2 .1 3.7 .2 .9 .1 2.1 .2 0 .1 2.4 .2-6 .1 1.6 .2-.7 .2 3.4 .1 5.1 .2-1.1 .1 .2 .2 .7 .1-.9 .2-1.9 .1 2.6 .2-1.4 .1-4.9 .2 3 .1 1.9 .2-3.5 .1-5.5 .2 5.6 .2-3.3 .1 .9 .2 3.5 .1-5.8 .2 .4 .1 .7 .2 .5 .1-4.7 .2 .8 .1 1.3 .2 3.3 .1 2 .2-7.4 .1 3.1 .2-2.3 .2 2.1 .1 2.4 .2-.1 .1-2.6 .2 2.9 .1-.7 .2-1.1 .1-2.2 .2 2.9 .1 3.4 .2 1.8 .1 1.1 .2-4.7 .1 .5 .2 3.1 .2-2.5 .1-.2 .2 0 .1 1 .2 3.1 .1-4.8 .2 6.7 .1-3.5 .2 .3 .1-3 .2-2.5 .1-1.1 .2 6 .1 1.7 .2-3.6 .2 4.2 .1-4.4 .2-2.4 .1 4.2 .2 .3 .1-4.8 .2 .9 .1 .3 .2-1.6 .1 1.3 .2 .8 .1-2.7 .2 2.7 .2 1.6 .1-3.7 .2-.7 .1 1.4 .2 2.3 .1-4.4 .2 1.2 .1 1.1 .2-2.8 .1-.1 .2-2.2 .1-.9 .2-3.6 .1 7.5 .2-8.9 .2 3 .1 1.4 .2 4 .1-2.3 .2-2.6 .1 1.2 .2 0 .1 3.1 .2-3.8 .1 3.2 .2 4.9 .1-1.5 .2 2.9 .1 3.1 .2-6.3 .2-2.5 .1 1.8 .2 1.7 .1 .6 .2-4.3 .1 2.5 .2-1.8 .1 3.1 .2-.8 .1-.3 .2-.1 .1-1.3 .2 3.1 .1-3.8 .2 3.4 .2-6.5 .1 4.4 .2-3.3 .1 2.3 .2 4.4 .1-7.8 .2 1.3 .1 4.6 .2-2.8 .1 2.6 .2 5.4 .1-6.1 .2 .1 .1 .4 .2 1.6 .2-.8 .1-1.6 .2-4.2 .1 1.1 .2 .5 .1-3.4 .2 8.4 .1-1.8 .2 3.2 .1-7.3 .2 1.5 .1 1.7 .2 .7 .1-.3 .2-2.2 .2 1.9 .1 .8 .2-2.6 .1-1.9 .2-.7 .1 1.8 .2 2.4 .1-1.1 .2-6.5 .1 4.8 .2-1.1 .1 1.6 .2 .1 .1-1.2 .2 .4 .2 1.7 .1-1.7 .2-2.4 .1-2 .2 3.7 .1-1.5 .2 2.5 .1-2.9 .2 4.6 .1-2.8 .2 1 .1 2.7 .2 .1 .1-5.4 .2-.2 .2 3.1 .1-3.7 .2-1.5 .1 5.3 .2 2.1 .1-.6 .2-3.4 .1 5.2 .2-.1 .1-6.1 .2 4.3 .1-4 .2 .6 .1 3.6 .2-.8 .2-3.8 .1 6.1 .2 2.2 .1 .1 .2-1.5 .1-4.3 .2 1.2 .1 3.3 .2-1.7 .1-.6 .2-1.8 .1 3 .2 .3 .1-.8 .2-.5 .2-1.5 .1-2.4 .2 1.6 .1-.2 .2-3.2 .1 3.7 .2 1.9 .1 5.4 .2-5.4 .1 6.7 .2-1.7 .1-2.7 .2-1.4 .2 3.1 .1 2 .2-.8 .1 .8 .2-4.8 .1-2.3 .2 3.9 .1 2.6 .2 3.8 .1-3 .2-.4 .1 3.7 .2-3.5 .1 3.9 .2-3.3 .2-.1 .1 .8 .2 .4 .1 .5 .2 .8 .1-.1 .2 3.1 .1 4.1 .2-1 .1-4.4 .2 1.4 .1-2.3 .2-.5 .1 7.2 .2 1.3 .2-3 .1 0 .2 .5 .1-3.4 .2 3.3 .1 .3 .2-1.8 .1-4.3 .2 2.7 .1 5.4 .2-6.1 .1 1.9 .2-.3 .1 2.6 .2-.8 .2 1.4 .1-7 .2 4.1 .1-3.8 .2 8.1 .1-1.7 .2 3.1 .1-4.7 .2-2.7 .1 4.8 .2-4.4 .1 .1 .2 3.4 .1-.7 .2 .1 .2-2.2 .1 1.1 .2 1.9 .1-3.2 .2 1.4 .1-1 .2-3.9 .1-4.1 .2 3.5 .1-2.6 .2 1.3 .1 1.9 .2-6 .1 3 .2-5.4 .2 6.2 .1 .8 .2-.6 .1 1.6 .2-2.6 .1 1.9 .2-2.1 .1 1.4 .2 4.7 .1-3.3 .2 .7 .1-1.4 .2 2 .1-2.4 .2 4.7 .2-2.2 .1 3.4 .2 .9 .1-3.5 .2-.7 .1 6.3 .2 .3 .1-1.4 .2-.4 .1-4.4 .2 3.7 .1-.3 .2-3.1 .1 3.8 .2-2.2 .2 .5 .1 1.1 .2 1 .1-6.3 .2 5.1 .1 1.3 .2 .5 .1-1.9 .2-2.1 .1-4.4 .2 6.6 .1 2.1 .2 .5 .1 1.3 .2-4.8 .2 1.2 .1 2.9 .2 2.7 .1 .3 .2-2.7 .1 10.3 .2-6.2 .1 .8 .2-4.6 .1 4 .2-3.3 .1 1.4 .2 .1 .2-6.3 .1 1.4 .2 2.7 .1 .5 .2 4.2 .1-2.6 .2-1.2 .1-1.1 .2 .2 .1 1.8 .2-3.8 .1-1.9 .2-3.5 .1-2.4 .2 5.2 .2 2.4 .1-1.4 .2 2.1 .1 1.2 .2-3.4 .1 3 .2-1.7 .1 1 .2-2.7 .1 1.5 .2 .2 .1 1.9 .2-.3 .1 1.6 .2-1.7 .2-2.1 .1 4.4 .2-5.2 .1 4.6 .2-1.4 .1-1.9 .2 2.9 .1-4.9 .2 2 .1-.2 .2 1.6 .1-4.1 .2 1.7 .1-2 .2 1.8 .2-1.3 .1 3.6 .2-5.3 .1-.3 .2-.7 .1 1 .2-1.8 .1 3.5 .2-2.3 .1 3.1 .2-.5 .1 1.4 .2 3 .1-1.9 .2-.3 .2-.3 .1 1.8 .2 2 .1-5.3 .2 .1 .1 1.4 .2 3.1 .1 3.8 .2-6.2 .1 4.7 .2 4.1 .1-4 .2 5.2 .1 1.8 .2-4.7 .2-4.2 .1 2.8 .2-.7 .1-4.7 .2 2.8 .1 2.8 .2-3.1 .1 2.7 .2-1.3 .1-3.1 .2 1.2 .1 .3 .2-3.3 .1 4 .2-1.7 .2-.6 .1 .5 .2-.8 .1 0 .2 1.5 .1-.3 .2 6.5 .1 .3 .2-5.5 .1 2.9 .2 1.7 .1 5.1 .2-5.1 .1 1.2 .2 .3 .2 1.8 .1-6.4 .2-2.7 .1 1.1 .2 2.5 .1-3.8 .2-2.9 .1 8 .2-3.6 .1-.8 .2-1.4 .1-1.3 .2-.4 .1 1.2 .2-.3 .2-1.7 .1 2.5 .2 .2 .1-1.8 .2-5.4 .1 6.6 .2 .3 .1-2 .2-2 .1 4 .2-1.7 .1 3.8 .2-3.3 .1-1.7 .2-1.5 .2-1.7 .1 7.1 .2-1.3 .1-1.7 .2 1.6 .1 .7 .2-6.6 .1 3.1 .2-1.3 .1 3.2 .2-1.6 .1 2.7 .2-1 .2 3.7 .1-.8 .2-2.1 .1 1.2 .2-2.5 .1 1 .2 4.2 .1-2.3 .2 1.9 .1-2.4 .2 3.3 .1-.7 .2-1.3 .1-.5 .2 .2 .2 3 .1-1 .2-3.7 .1 2.3 .2 2 .1-1.4 .2 1.4 .1 4.1 .2 2.3 .1-.8 .2-4.4 .1 3.4 .2-.7 .1-1.2 .2-.6 .2 2.2 .1-1.7 .2 4.2 .1 .4 .2 .4 .1-5.2 .2 2.6 .1 1.9 .2-3.9 .1 1.1 .2-1.6 .1 4.5 .2 .2 .1-2 .2-8.6 .2 2.5 .1 1.9 .2-2 .1-2.2 .2 3.9 .1 1 .2-2.5 .1 1.4 .2-1.4 .1 2.4 .2-5.6 .1 3.3 .2 .6 .1-3.2 .2 4.8 .2-4.3 .1 3.3 .2-1.6 .1 .9 .2 1 .1 3.6 .2-5.9 .1 .8 .2 2.3 .1 0 .2 0 .1 5.4 .2-7.4 .1 1.4 .2-3.9 .2-.4 .1 2 .2 1.1 .1-2.6 .2 .3 .1-1.2 .2 .3 .1 3.3 .2-5.4 .1 3.6 .2-6.3 .1 1.4 .2 1.4 .1-1.2 .2 4.1 .2 2.3 .1 2.9 .2-2.5 .1-4.7 .2 .5 .1-.3 .2 .2 .1 3.1 .2-2.6 .1 3.1 .2-.1 .1 2.8 .2-.7 .1 1 .2-.3 .2 1.1 .1-1.8 .2-3.8 .1 4.9 .2 1.5 .1-2.6 .2 .5 .1 2.3 .2-2.5 .1-3.6 .2 1.8 .1 2.2 .2-5.8 .1 5 .2-3.4 .2 1.1 .1-4.7 .2 5.5 .1-2.2 .2-1.3 .1 .3 .2-.9 .1-.8 .2 6.5 .1-4.7 .2 1.7 .1-1.2 .2 .4 .1 2.8 .2 3.1 .2-5.7 .1 2.9 .2-2.6 .1-1.8 .2-.9 .1-4 .2 4.6 .1 2.6 .2 .1 .1-.6 .2-.7 .1-2.9 .2 .9 .2 5.9 .1-3.5 .2 2.8 .1-1.3 .2-.2 .1-1.6 .2 1 .1-3.6 .2 2.4 .1 1.7 .2 1 .1 .6 .2 .4 .1-.8 .2-3.9 .2 2.1 .1-5.7 .2 2.5 .1 1 .2-1 .1-2 .2-1.7 .1 .7 .2-2.2 .1 1.1 .2-.7 .1 5.5 .2-1.5 .1-3.6 .2-3 .2 8.3 .1-2.9 .2 3.6 .1-3.8 .2 5.7 .1-1 .2-.8 .1 .6 .2 2 .1 0 .2 5.5 .1-2.2 .2-1.8 .1-1.8 .2 2 .2 3.5 .1-4.3 .2-2.2 .1-.3 .2 .9 .1 2.5 .2-1 .1 1.1 .2 1.2 .1-1.9 .2-1.7 .1 4.5 .2 0 .1 3.5 .2-5.4 .2 1.8 .1-1.4 .2-6 .1 2.4 .2 3.1 .1-1.7 .2-1.1 .1 .7 .2 3.4 .1 .3 .2-2.6 .1-.7 .2 .3 .1-2.5 .2 0 .2-.9 .1 5 .2-1.1 .1-3.4 .2 4 .1 1.6 .2-2.7 .1-5.6 .2 7.2 .1-3.9 .2-2.6 .1-.3 .2 .6 .1 0 .2 1.7 .2-.3 .1 .6 .2-.4 .1-1.7 .2-1.6 .1 3.7 .2-3.2 .1-2.6 .2 1.5 .1-2.2 .2 3.8 .1-4.6 .2-3 .1 1.3 .2 3.8 .2-4.6 .1 2.4 .2 .1 .1-4.5 .2 7.3 .1-3.8 .2 3.6 .1-3.9 .2 .8 .1 .9 .2-3 .1-3.8 .2-.3 .1 .3 .2 1.6 .2 3.7 .1-6.8 .2 1.5 .1 2.7 .2 1.1 .1 .5 .2 3 .1 1.3 .2-1.8 .1-1.4 .2 5.9 .1-4.2 .2 5 .2-.5 .1-4.6 .2 1.9 .1 4 .2-2.4 .1-.6 .2-.6 .1 3.5 .2-3 .1-1 .2 3.2 .1-3.1 .2 1 .1 .2 .2-1.1 .2-1.1 .1 .4 .2 .6 .1 .1 .2-4 .1 .3 .2-2.3 .1 0 .2 2.9 .1-4 .2 6.2 .1-5.3 .2 3.8 .1-3.7 .2 .1 .2 9.1 .1-1.1 .2-5.1 .1-1 .2 .8 .1 2.8 .2 1.1 .1-1.5 .2 1.3 .1-2.8 .2 7.2 .1-6.5 .2 3.4 .1-5.1 .2 .3 .2 .9 .1-.8 .2 3.2 .1 1.1 .2 1 .1-5.3 .2-2.4 .1-1 .2 1.4 .1-2.1 .2 3.2 .1 .7 .2-1.8 .1-4.2 .2 3.9 .2-2.7 .1-2.3 .2-.4 .1 2.3 .2-3 .1 2.9 .2-2.6 .1 2.9 .2-3.3 .1-1.1 .2 2.2 .1-4.8 .2 4.2 .1-3.1 .2 3.2 .2 2.8 .1-.9 .2-.7 .1-2.1 .2 1.6 .1 1.8 .2 2.5 .1-1.2 .2 4.3 .1-4.5 .2 2.4 .1-.5 .2-1.8 .1-2.3 .2 2.9 .2-.2 .1-1.1 .2 3.6 .1-2.9 .2-3.8 .1 7.1 .2-5.2 .1 3.8 .2-3.1 .1 1 .2-1 .1 1.1 .2-2.3 .1 4.9 .2-.4 .2 2.9 .1-5.4 .2 1.1 .1-1.3 .2 1.6 .1-2.5 .2 7 .1-4.8 .2-3.1 .1 4.8 .2 .5 .1-2.5 .2 1.3 .1-5.2 .2-3.5 .2 1.3 .1 5.1 .2-1.3 .1-2 .2-4.4 .1 4.4 .2 .5 .1-.2 .2 3.2 .1 2.7 .2 2.9 .1 4.2 .2-.1 .1 2.7 .2-8.5 .2 1.8 .1-2.8 .2 0 .1 1.6 .2 4.4 .1-4.5 .2-.8 .1 4.7 .2-1.3 .1-2.7 .2 4.5 .1-4.3 .2 5.9 .2-1.1 .1-2.5 .2-1.5 .1 1.6 .2 .2 .1 2.3 .2-2.9 .1 7 .2-6.4 .1 2 .2-.8 .1-.7 .2 3.6 .1 .2 .2-5.6 .2 2.7 .1 3.2 .2-5.7 .1 .9 .2 10.3 .1-6 .2-4 .1 3.7 .2 1 .1 1.7 .2 .6 .1-2.5 .2-3.5 .1-4.1 .2 1.1 .2 1.9 .1 .9 .2-1.7 .1-.2 .2-2 .1-2.7 .2 2.2 .1 1.3 .2 2.7 .1 0 .2 2.4 .1 2 .2-2.1 .1 4.8 .2-5.5 .2 .9 .1 .9 .2-1.2 .1 0 .2-3.1 .1 4 .2-5.1 .1 4.7 .2 3.9 .1-4.2 .2 2.3 .1-5.7 .2-4.2 .1 3.6 .2 3.5 .2-4.4 .1-6.3 .2 1.5 .1 1.1 .2 0 .1-1.7 .2 1.1 .1 1.2 .2 .3 .1-.4 .2 2.2 .1 2.9 .2-2.5 .1-.7 .2-4.7 .2 .8 .1-5.9 .2 8.9 .1 .4 .2 3.4 .1-2.5 .2-.6 .1 .6 .2 1.4 .1 2.6 .2 1.6 .1-4.6 .2 2.2 .1 2.7 .2 1.1 .2-2.7 .1-2.6 .2 3.3 .1-1.1 .2 2.6 .1-2.8 .2-5.6 .1 6 .2-3 .1-.3 .2 2 .1 4.2 .2-.8 .1-1.7 .2 .2 .2 5.3 .1-3.9 .2 4.5 .1-.5 .2-2.5 .1-1.5 .2 .8 .1 2.2 .2-4.5 .1 1.3 .2 .1 .1 2.5 .2 6.1 .1-.8 .2-1.7 .2 4.8 .1-2.1 .2 2.3 .1-.9 .2 1.4 .1-.7 .2 .7 .1-3.7 .2-.4 .1 2 .2 .7 .1-.9 .2-1.5 .1 1.8 .2 1.7 .2-1.6 .1 4.5 .2 3.1 .1-1.7 .2 2.4 .1-2.7 .2-3.2 .1 3 .2 3.5 .1-3 .2-2.1 .1 2.7 .2 1.4 .2-2.7 .1-.6 .2-.2 .1 .4 .2 1.2 .1-.4 .2-1.4 .1 .8 .2 2.4 .1-1 .2-1 .1 1.9 .2-6.5 .1 2 .2 .5 .2-4.8 .1-.8 .2 .6 .1-2.5 .2 1.3 .1-1.3 .2 4.6 .1-4.8 .2-2.4 .1 1.7 .2-2.2 .1-2.8 .2 3.2 .1 1.9 .2-6.7 .2 5.9 .1 .7 .2-4.2 .1 0 .2 .2 .1-.6 .2 3 .1-1.3 .2-1.3 .1 .9 .2 .8 .1-2.5 .2 2.7 .1-7.3 .2 8.9 .2-3.2 .1 2.6 .2 .3 .1-1.1 .2-.8 .1-.2 .2 1.1 .1 1.2 .2-1.5 .1-1.9 .2 1.1 .1-.7 .2 1.5 .1-4.1 .2-2.1 .2 3.7 .1 2.2 .2 1.1 .1-.9 .2-5.9 .1 3.9 .2-5.2 .1 1.9 .2-2.7 .1 2.9 .2 2 .1-1.4 .2-5.8 .1 .3 .2 2.4 .2 1 .1-4.5 .2 9.4 .1-3.6 .2 1.2 .1-1.4 .2-4.1 .1 .5 .2-1.1 .1 5.2 .2-4.6 .1 4.4 .2-4.5 .1-.8 .2 4.8 .2-4.6 .1-.9 .2-3.1 .1 4.6 .2-.2 .1 1.5 .2-7.3 .1 .6 .2 4.7 .1-.8 .2 1.4 .1-2.1 .2-2.6 .1 4.2 .2-2.1 .2 3.6 .1 3 .2-3.9 .1 2.9 .2-1.3 .1 .4 .2 .1 .1 .5 .2 .3 .1 5.1 .2 1.5 .1-.4 .2 2.8 .1 3.2 .2 1.4 .2-1.2 .1 3.7 .2-2.1 .1-.3 .2-3.5 .1 .7 .2-5 .1 9.7 .2-.1 .1-5.4 .2 .9 .1-1.3 .2-3.8 .2 6 .1 1.6 .2-1.3 .1-3 .2 0 .1 4.3 .2-.5 .1-5.5 .2-1.4 .1 3.3 .2-2.3 .1-.3 .2 3.2 .1-2.4 .2-2.4 .2 3.8 .1 3.4 .2-5.9 .1-4.3 .2-1.1 .1 7.9 .2-12.1 .1 7.8 .2-4.5 .1-1.7 .2 .4 .1 .8 .2 2.6 .1-2 .2 3.5 .2 4.4 .1-9 .2 5.7 .1-3.7 .2 8.1 .1-6.3 .2-.3 .1 .7 .2 2.7 .1 1.9 .2-3.5 .1 5.1 .2-.6 .1-3.3 .2-.2 .2-2.2 .1 1.7 .2-3.7 .1 2.3 .2 2.6 .1-3 .2 1.5 .1 2.3 .2-3.6 .1 4.8 .2-.4 .1 2.7 .2-2.1 .1-3.1 .2 4.1 .2 .4 .1 1 .2 1.4 .1-1.2 .2-5.3 .1-2.8 .2 4.2 .1 2.1 .2-1.9 .1 4.2 .2-2.9 .1 1 .2-1.9 .1 3.2 .2 3.1 .2-1.3 .1 4.9 .2-2.2 .1-.9 .2-4.2 .1 3.6 .2-3.8 .1-1.5 .2 3.5 .1-1 .2 .7 .1-2 .2-1.3 .1 .9 .2 2.5 .2-6.1 .1 7.2 .2-3.3 .1 4.2 .2 3.2 .1-12.5 .2 1.5 .1 6.1 .2-5.1 .1 1.5 .2-1.9 .1 3.4 .2-.7 .1-5 .2 3.4 .2-2 .1 .7 .2-5.3 .1 4.8 .2-2.5 .1 4.6 .2-4.8 .1-5.1 .2 4.9 .1-2.2 .2 1.3 .1 .3 .2-2.9 .1-.1 .2 .2 .2-4.3 .1 1.9 .2 1.9 .1-.2 .2-2.6 .1-.6 .2-2.6 .1-2.8 .2 1.3 .1 1.4 .2-.5 .1 2.2 .2-.2 .1 .3 .2-1.7 .2-1.5 .1-.4 .2 3.4 .1 .8 .2 7.3 .1-4.6 .2 1.6 .1-3.9 .2 2.7 .1-3 .2 2.4 .1-.9 .2-6 .2 6 .1-5.5 .2 .3 .1 .7 .2-.3 .1-.8 .2 3.7 .1-1.9 .2 .8 .1-1.6 .2-1.6 .1-1.6 .2 .3 .1 .5 .2 3.8 .2-5.7 .1-.9 .2 2.9 .1 4.6 .2-.9 .1-.9 .2 1.8 .1 5.9 .2-5 .1-4.8 .2 10.3 .1-4.5 .2 1.6 .1 .9 .2-3.1 .2 10.5 .1-1.8 .2-2 .1 3.2 .2-.5 .1-2.9 .2 .1 .1-4.2 .2 5.2 .1-6.1 .2 5.4 .1-4.5 .2-.2 .1 5.4 .2-2.6 .2 1.5 .1-1.1 .2-4.5 .1 4 .2-.7 .1-5.1 .2 1.6 .1-3.4 .2 2.6 .1 2.1 .2-2 .1-2.3 .2 1.1 .1 1.8 .2 .9 .2 1.3 .1-1.4 .2-5.4 .1 3.8 .2 2.3 .1-1.8 .2-3 .1-.2 .2 2.4 .1-.6 .2-1 .1 2 .2 1.4 .1-4.1 .2 .5 .2-2.2 .1-1.5 .2 0 .1 2.1 .2-5.4 .1 5.2 .2 1.5 .1-2.9 .2-.4 .1 2 .2-.2 .1-1.1 .2 5.6 .1-.6 .2 3.3 .2-2.2 .1 3.1 .2-1.6 .1 .4 .2 1 .1 .7 .2-3.3 .1 2.1 .2-1.1 .1 .2 .2 3.5 .1 .4 .2-2.8 .1 1.3 .2 .7 .2-1.9 .1-1 .2 8.7 .1-3.3 .2 1.5 .1-1 .2-1.1 .1 .8 .2-3.1 .1 1.8 .2-1.8 .1-2 .2 2.6 .1-2.9 .2-2.3 .2 2.3 .1 1 .2-.7 .1 2.1 .2-1.5 .1-2.1 .2 5.1 .1-1.6 .2-4.3 .1 3.9 .2 1.5 .1 2.8 .2-1.3 .1 .8 .2-5.8 .2 6.2 .1 1.3 .2 2.1 .1 1.3 .2-.5 .1 .1 .2-5.2 .1 2.9 .2-2.6 .1 1.9 .2-1.7 .1 5.9 .2-2.7 .2-.2 .1-.6 .2 3.3 .1-7 .2 2.8 .1-1.9 .2-1.5 .1 1.4 .2-2.6 .1 3.9 .2-4.1 .1-2.4 .2 1.1 .1 1.2 .2 .9 .2 1 .1-3.3 .2-2.2 .1 4.5 .2-6 .1 4 .2 1 .1-3.1 .2 3.9 .1 2.1 .2-1.9 .1-2.1 .2 .7 .1-2.6 .2-1.4 .2 5.3 .1-5.4 .2 3 .1-2.7 .2-.9 .1 1 .2-.1 .1 2.3 .2-.5 .1 .5 .2 .2 .1 1.7 .2-.4 .1 2.5 .2-2.1 .2 4.3 .1-5.5 .2 4 .1 .6 .2 .2 .1-2.6 .2 1.3 .1-1.8 .2 3.5 .1-1.2 .2 .7 .1 2.4 .2-3.3 .1 2.7 .2-2 .2 1.4 .1 .6 .2-.6 .1 2.8 .2-2.8 .1-.3 .2-.7 .1 7.4 .2-3 .1-.8 .2 4.9 .1-.3 .2 5.7 .1-7.2 .2 3.7 .2-2.6 .1 6.6 .2-3.6 .1-.1 .2 1.1 .1 4 .2-1.7 .1-4.3 .2 5.5 .1-1.8 .2 .2 .1 .7 .2-3.8 .1-2.4 .2 4.3 .2 1.4 .1-8.1 .2-.5 .1-.9 .2-1 .1 6 .2-2 .1 1.6 .2 1.8 .1-7.3 .2 3.2 .1-6.9 .2 5.6 .1 .9 .2-3.9 .2-2.2 .1 2.2 .2 5.7 .1-6.3 .2-1.3 .1 5.6 .2 .3 .1-4.4 .2-.5 .1 2.6 .2-3.2 .1 .9 .2-6.3 .1-.5 .2-5 .2 2.4 .1 3.7 .2-3 .1-2.2 .2-.2 .1 .6 .2 4 .1 1.4 .2-3.2 .1 4.9 .2 3.2 .1-5.2 .2 2.9 .2-1.6 .1 4.2 .2 .3 .1-.4 .2-1.3 .1-.5 .2 4.6 .1-7.1 .2 3.9 .1 1 .2-5.3 .1 .7 .2 5.2 .1-5.6 .2 5.3 .2 0 .1-.8 .2-3 .1 4.3 .2-3.7 .1 4.8 .2-4.5 .1 4.9 .2-5.6 .1-7.5 .2 1.5 .1 .7 .2-5.1 .1 3.1 .2 2.1 .2-3.4 .1 6.2 .2-5 .1 1.3 .2 5.5 .1 1.4 .2-3.1 .1-1.5 .2 3.6 .1-6.2 .2 3.6 .1-2.7 .2 .5 .1-.5 .2-2.9 .2 3.7 .1-2.7 .2 .7 .1 3 .2 .5 .1-2.5 .2-4 .1 1.5 .2-2.7 .1-2.9 .2 .1 .1-.1 .2 4 .1 1.3 .2-6.3 .2-.3 .1-1.7 .2 3.8 .1-1.1 .2 1.1 .1-1.3 .2 .5 .1 .8 .2 1.7 .1-.8 .2-1.5 .1 3.6 .2-4.5 .1 2 .2-1.3 .2 .9 .1-.1 .2-3.7 .1 4.8 .2 3.3 .1 .7 .2-.1 .1-3.8 .2 3.6 .1-1.4 .2 3.7 .1-3.4 .2 3.7 .1-3.2 .2 7.3 .2-3.6 .1 1.4 .2 2.2 .1-4 .2 3 .1 3.9 .2-6 .1 2.3 .2 .8 .1 1.7 .2-5.2 .1 3.3 .2-5.7 .1 .7 .2 6.7 .2-1.7 .1 2.4 .2-.2 .1-.1 .2 1 .1-3.4 .2 2.6 .1 2.4 .2 .7 .1-1.5 .2 1.1 .1-1.6 .2-.4 .1 1.1 .2-1.2 .2-1.3 .1-4 .2 1.2 .1 1.4 .2 2.9 .1-4.6 .2 4 .1 1.7 .2-1.4 .1-.9 .2-3 .1 4.1 .2-4 .1 4 .2-.8 .2 4 .1-6.4 .2 5.1 .1-.6 .2-1.5 .1-.8 .2 4.1 .1-.3 .2 2.7 .1-2.7 .2 1.4 .1 .8 .2 2.3 .2-1.8 .1-1.2 .2-4.2 .1-2.6 .2 9.6 .1-5.2 .2 2.5 .1-1.4 .2 .9 .1 .2 .2 1 .1-3.5 .2 1.8 .1 1.8 .2-2 .2 1.9 .1 1.1 .2-5.9 .1 2.8 .2 1.3 .1-2.2 .2 .4 .1 5.3 .2-1.9 .1-5.5 .2 1.4 .1 4 .2-.8 .1-.6 .2-.3 .2-.8 .1-5.6 .2 4.6 .1 .9 .2-5.9 .1 4.2 .2-1.8 .1-1.6 .2-2 .1 5.1 .2 .9 .1 1.8 .2-8.5 .1 1.5 .2 5 .2-4.2 .1-3.2 .2 .3 .1-2.6 .2 0 .1 2.3 .2-.8 .1 2.3 .2-2.8 .1 .9 .2-4.1 .1 5.1 .2 5 .1-2.5 .2-2.5 .2 2.9 .1-1.2 .2 1.8 .1-1.9 .2 2.2 .1 2.7 .2-2.3 .1 1.2 .2-.7 .1 3.5 .2 .6 .1-3 .2 5.4 .1-5.2 .2 .8 .2 4.7 .1-1.3 .2 2.7 .1-5.2 .2-.5 .1-.4 .2 5.6 .1-.3 .2-1.6 .1-2.2 .2 1.7 .1-1.4 .2 2.7 .1-.3 .2-1.8 .2-.3 .1 5.7 .2-4.7 .1 .6 .2 6.5 .1-1 .2-5.6 .1-.8 .2 3.9 .1-6.3 .2 2.6 .1-.6 .2-6.3 .1 4.6 .2 .5 .2-2.6 .1 4.7 .2-2.1 .1-3.1 .2 2.1 .1-.3 .2-7.6 .1-.5 .2-2.3 .1 2.4 .2 .7 .1-3.9 .2 4.3 .1-3.9 .2 7 .2-5.3 .1 .8 .2-2.5 .1-1.8 .2-1.4 .1 4.8 .2-2.2 .1 1.5 .2-1 .1 1.6 .2-1.5 .1 1.9 .2-3.6 .1-.5 .2 1.9 .2 3.3 .1-.8 .2-5.8 .1 4.5 .2-4.7 .1 3.4 .2 .4 .1 .2 .2-5.4 .1-.5 .2 3.4 .1 .1 .2-3.2 .2 2.7 .1-3.2 .2 4.3 .1-1.1 .2 3.4 .1-7.3 .2 8.8 .1 4.9 .2-4.1 .1 .9 .2-4.4 .1 7.7 .2-1.4 .1-1.7 .2-.9 .2 6 .1-2 .2 2.3 .1 1.6 .2 .1 .1-.9 .2 2.3 .1-6.4 .2 8.6 .1-4.8 .2-1 .1 3.6 .2-.5 .1 0 .2-2.4 .2 .5 .1 1.1 .2-2 .1 3 .2-1.3 .1 1.1 .2-4.4 .1 3.1 .2 .1 .1-3.8 .2 .1 .1 6 .2-3.5 .1 2.4 .2-6.4 .2-2.4 .1 6.3 .2 2.6 .1 .5 .2-4.3 .1 1.4 .2-1.5 .1 3.4 .2-6.7 .1 2.8 .2-.3 .1-2.6 .2-1.1 .1 4.7 .2-1.2 .2-3.7 .1-2.7 .2-3 .1 8.5 .2-4.3 .1-1.7 .2-.1 .1-.2 .2-6.5 .1 2.9 .2 .9 .1 .2 .2-2.4 .1 7.7 .2-7 .2 2 .1-.4 .2 2.8 .1 1.7 .2-4.2 .1 1 .2-4.2 .1 3.3 .2-4.6 .1 2 .2-1.4 .1-.3 .2 1 .1 .2 .2 .4 .2 1.3 .1 .1 .2 2.8 .1-2.6 .2 2 .1-1.9 .2-2.2 .1 2.4 .2 1.6 .1 3.5 .2-.9 .1 3.7 .2-3.8 .1 1.4 .2-3.3 .2 2.2 .1-.4 .2-.3 .1 4.4 .2-1.2 .1 3.5 .2-4.1 .1 3.7 .2 .5 .1 2.9 .2-.2 .1-1.4 .2-6.2 .1 8.1 .2-1.8 .2 .1 .1 2.3 .2 .3 .1-1.9 .2 3.8 .1-4.7 .2 7.6 .1-.4 .2-.5 .1 2.8 .2-.4 .1 .7 .2 1.6 .2 1.3 .1 .3 .2 6 .1-6.1 .2-4.4 .1 4.6 .2 .7 .1 5.1 .2-3 .1 .4 .2-1.6 .1-3.2 .2 3.8 .1-2 .2 2.4 .2-4.8 .1 .1 .2 3.9 .1-3.5 .2-6.8 .1 6.3 .2-.9 .1 .1 .2-3.3 .1-2.1 .2 3.3 .1 2.1 .2 .2 .1-3.8 .2 2.4 .2-5.2 .1-.8 .2 4.6 .1-2.4 .2-1.2 .1-1.2 .2 6.3 .1-6.9 .2 3.1 .1-1 .2-2.2 .1-1 .2 1.3 .1 2.5 .2-2.4 .2-5.6 .1-2.9 .2 2.8 .1-1.3 .2 1.8 .1-2.8 .2-1.7 .1 1.6 .2-.6 .1-3 .2 .1 .1 1.5 .2-2.3 .1 2 .2-4.8 .2 3.7 .1 2.1 .2 .4 .1 1.3 .2 1.3 .1 1.4 .2 .2 .1-.4 .2 .8 .1 5.8 .2-2.9 .1-1.2 .2-2.7 .1 2 .2 2 .2-.6 .1 2.6 .2 3 .1-2.4 .2 .4 .1 3.3 .2-3.6 .1 4.2 .2-3.7 .1 4 .2 1.9 .1 1.4 .2 .4 .1-4.1 .2 .4 .2 .4 .1 3 .2 4.8 .1-6.3 .2 3.5 .1-4.1 .2-.3 .1 .7 .2 2.1 .1-.2 .2-.3 .1 .5 .2 .2 .1-.5 .2-4.3 .2 1.8 .1-1.9 .2 3.7 .1-1.1 .2-.2 .1-2.6 .2-3.3 .1 2.7 .2 .7 .1 1.9 .2-5.4 .1 3.1 .2 1.1 .1-3.4 .2-1.6 .2-.6 .1 .7 .2-6.2 .1 .1 .2-.5 .1 2.2 .2 0 .1-1 .2-3.1 .1-1.5 .2 1.5 .1 1.3 .2 .5 .1-.7 .2 .8 .2-5.2 .1 .9 .2-2.9 .1 2.4 .2 3.5 .1 .2 .2 4.4 .1-6.2 .2 .9 .1-3.6 .2-.7 .1-1.1 .2-.7 .2 .3 .1-1.2 .2 4.9 .1 .9 .2 1.3 .1-6.8 .2 1.9 .1 .9 .2 5.3 .1 .3 .2 .7 .1 .3 .2 1.3 .1-.5 .2 1.3 .2-1.9 .1 3.4 .2 1.4 .1-.4 .2 2.4 .1-1.4 .2 3.2 .1-.1 .2 1.4 .1 1.8 .2-6.4 .1 4 .2-3.2 .1 .9 .2 4.5 .2 .9 .1-.2 .2 1.7 .1 2.1 .2-2.6 .1 3.5 .2-.6 .1 3.6 .2-2.2 .1 2.5 .2-1.5 .1-1.4 .2 .6 .1 2.4 .2 1.8 .2-.3 .1 1.9 .2 2.3 .1-2.4 .2-1.3 .1-5.9 .2 3.2 .1-1 .2-2.5 .1 4 .2-6.3 .1-.6 .2-4 .1 5.5 .2 .6 .2-.6 .1 .6 .2 2.2 .1-5 .2 3.1 .1-3 .2-1.8 .1-3.6 .2 2 .1 .5 .2-1.5 .1 .7 .2-2.1 .1-.2 .2-1.1 .2-2.3 .1-2 .2-.3 .1 .7 .2 4 .1 2.3 .2-.8 .1 2.2 .2-7.3 .1-.4 .2 2 .1-4.3 .2 1.3 .1 1.6 .2-3.6 .2-2.6 .1 3.7 .2-3.5 .1 1.9 .2 0 .1-.8 .2 4.5 .1-1.2 .2-.6 .1-1.2 .2-.7 .1 1.8 .2 0 .1-6.3 .2 1.3 .2-2.1 .1 3.8 .2-3 .1-.3 .2 1.3 .1-1 .2-2.7 .1 2.5 .2-1.6 .1 1.8 .2-.7 .1 3.2 .2-4.2 .1 1.6 .2 1.1 .2 1.5 .1-.7 .2-1.9 .1 3.8 .2 1.4 .1-.5 .2 1.9 .1 .1 .2 1.2 .1 5.2 .2-7.2 .1 3.1 .2 4.6 .1-2.3 .2 3.2 .2-6 .1 2.8 .2 3.6 .1-4.9 .2 1.9 .1-7.6 .2 6.3 .1 4.4 .2-4.3 .1 1.2 .2-.2 .1 3.9 .2-4.9 .2-5.4 .1 7.4 .2-5.9 .1 3.7 .2-6.2 .1 1.9 .2 .9 .1-4 .2 5.4 .1 1.1 .2-4.4 .1-.1 .2 3.1 .1-5.7 .2 3.8 .2 1.2 .1-.2 .2 3.9 .1-3 .2-3.7 .1-.8 .2 .3 .1-5.6 .2 5.2 .1-1.9 .2 1.4 .1 1.2 .2-3.4 .1 1.5 .2-4 .2 1.6 .1 .6 .2 5.4 .1-5 .2 .5 .1-2.4 .2 2.1 .1 1.2 .2-5.3 .1 .5 .2 3.4 .1-2.6 .2 5.1 .1 .6 .2-1.3 .2 1.9 .1-1 .2-1.7 .1-4.1 .2-.3 .1 2.8 .2-4.1 .1 3.5 .2-1.4 .1 1.2 .2-.8 .1-2.9 .2 3.1 .1 2.8 .2-6.8 .2 3.8 .1 .8 .2 3.8 .1-8.8 .2-.1 .1-.2 .2-2 .1-2.5 .2 3.5 .1 0 .2 3.5 .1-1.7 .2-5.7 .1 .9 .2 4 .2-4.6 .1 2 .2 2 .1-2.5 .2 3.9 .1 1.1 .2-1.3 .1-5.2 .2 8.5 .1-4.1 .2-2.1 .1 1.7 .2 5.8 .1-2.1 .2 1.4 .2 1.6 .1 3.1 .2 1.5 .1-4.6 .2 .2 .1 .6 .2 2 .1-1.8 .2 .9 .1-2.8 .2 3.1 .1-3.7 .2 .3 .1 6.8 .2-2.1 .2 .2 .1 .2 .2 0 .1 1.1 .2-3.6 .1-.5 .2-.3 .1-1.6 .2 5.1 .1-.7 .2-3.4 .1 .8 .2-3.6 .1 2.5 .2 3.8 .2-6.1 .1 5.2 .2-.4 .1-8.7 .2 7.4 .1-.1 .2-.3 .1-1.1 .2 5.9 .1-1.5 .2 3.2 .1 3.8 .2-6.3 .2 .3 .1 2.4 .2 1.3 .1 .8 .2 .5 .1-5.1 .2 3.7 .1-1.3 .2 2.4 .1-2 .2 1.2 .1-1.6 .2 4 .1-4.4 .2-2.7 .2 5 .1-.6 .2-4.1 .1 1.7 .2-.1 .1 5 .2-3.8 .1 4.9 .2-1 .1-.7 .2 3 .1-4.2 .2-3.5 .1 2.1 .2 0 .2 2.6 .1-1.1 .2-.1 .1-1 .2 1.1 .1-1.4 .2-2.6 .1 0 .2-.4 .1-.2 .2-3.3 .1 3 .2-3.3 .1-1.5 .2 3.3 .2-3 .1 3.6 .2-6.9 .1 1.8 .2 3.6 .1 5.1 .2-2.6 .1 5.4 .2-2.8 .1-1.9 .2 2.1 .1 2.6 .2-3.2 .1 4.2 .2-3.9 .2 1.1 .1 1.2 .2-2.3 .1 3.7 .2-5.6 .1 4 .2-1.3 .1 6.9 .2-3.8 .1 2.7 .2 2.3 .1-3.4 .2-1.9 .1 5.3 .2-2.5 .2 4.5 .1-.9 .2-1.7 .1 .5 .2 2.7 .1-7 .2 3.8 .1 3 .2 2.6 .1 .7 .2-2.5 .1-3.1 .2 1.3 .1 3.5 .2-1.1 .2-6.8 .1 6.8 .2-.5 .1-4.7 .2 5.3 .1 2.9 .2 1.9 .1 0 .2-.7 .1-1.6 .2-1.7 .1-1.6 .2-.7 .1 1.1 .2-1.8 .2 3.7 .1 .1 .2-2.5 .1 2.3 .2-1.1 .1-.7 .2 5.2 .1-.6 .2-.3 .1 .5 .2 .2 .1-1.1 .2 .9 .1 2.1 .2-5.3 .2-3.9 .1 6.5 .2-3.1 .1-.4 .2-1.5 .1 4 .2-8 .1 3.4 .2 .3 .1-.7 .2-1.9 .1 .3 .2-1.1 .1-4.4 .2 4.8 .2 2.4 .1-3.9 .2-1.3 .1 1.2 .2 3.5 .1-6.7 .2 .8 .1-2.8 .2 2.3 .1-5.9 .2 .5 .1 .3 .2-3.9 .2-2.8 .1-.8 .2 1.8 .1-3.6 .2 1.1 .1-.4 .2 5.1 .1-2.3 .2-4.1 .1 3.1 .2 .2 .1-5.3 .2-.4 .1 4.3 .2 3.6 .2-2.3 .1-.7 .2-1.6 .1-1.1 .2 2.8 .1 1.8 .2-2.3 .1 2.4 .2-.3 .1 1.8 .2-6.5 .1 3.5 .2 2.8 .1-.1 .2-.6 .2 2.1 .1-.4 .2 3 .1-4.8 .2 3.7 .1 .7 .2 1.4 .1-2.4 .2-1.6 .1-1 .2-2.9 .1 4.3 .2-3 .1-.2 .2-1 .2 2.5 .1-4.2 .2-4.3 .1-1.6 .2 2.9 .1-1.3 .2 2.8 .1 .7 .2-2.3 .1-.9 .2 .5 .1 .4 .2-.3 .1-.9 .2 .1 .2 2.5 .1-3.9 .2 3.2 .1 1.4 .2-2.4 .1 .3 .2 4.2 .1-1.6 .2 4.5 .1-1.1 .2 3.7 .1-7.9 .2 7.6 .1-5 .2 3.5 .2-.6 .1-3.3 .2-2.5 .1-.1 .2-2.7 .1 4.9 .2 1 .1 2.8 .2-3.2 .1 2 .2 2.5 .1-2.6 .2 .2 .1 .7 .2-4.4 .2 1.6 .1 .8 .2-4 .1 6.3 .2-4.3 .1-2.1 .2 10.6 .1-4.4 .2-2.2 .1 3.2 .2-6.7 .1 11.6 .2-9 .1-1 .2 .4 .2 2.4 .1-3.5 .2 4.4 .1-3 .2 3.9 .1-.6 .2-1.6 .1 5.6 .2-.3 .1 .5 .2 3.8 .1-3.4 .2 .7 .1 5.7 .2-6.1 .2-.3 .1-.7 .2-.3 .1 3.2 .2-4.8 .1 3.9 .2-3.8 .1 3.7 .2-3 .1 4.6 .2 .1 .1 3.7 .2-3.2 .2-1.9 .1-2.1 .2 2.1 .1 .9 .2 1.1 .1-2.4 .2 4.5 .1-4 .2 .6 .1 6 .2 1.3 .1-5.8 .2 3.6 .1 1.9 .2-4 .2 4 .1-.9 .2 1.7 .1 2.7 .2-7.4 .1 4.3 .2 1.9 .1-.8 .2-3.2 .1 3 .2-2.1 .1 6.1 .2-6 .1 4.2 .2-5.4 .2 .6 .1 2.5 .2-4.8 .1 2.4 .2-1.2 .1-.3 .2 1.8 .1-3.1 .2-1.4 .1 5.6 .2-3.9 .1 1.7 .2-2.5 .1-.3 .2 4.8 .2 1.7 .1-8.2 .2 5.5 .1 3.2 .2-2.9 .1 3.4 .2 2.2 .1 .9 .2-3.5 .1-6.5 .2 1.8 .1 0 .2-1.7 .1 1 .2 7.3 .2-5.6 .1 2.3 .2 1.4 .1-.6 .2-.3 .1 1.2 .2 1.6 .1-3.3 .2-4.3 .1 8.4 .2 1.3 .1-3.1 .2-1.1 .1-2.5 .2-.3 .2-5 .1 5.1 .2-.6 .1 1.3 .2-1.4 .1-4.7 .2-.7 .1 3.4 .2 .1 .1 .3 .2-1.9 .1 5.4 .2-.4 .1-4.5 .2 6.7 .2-3.8 .1 .1 .2 1.6 .1 .9 .2-5.2 .1 8.1 .2-9.2 .1-3.4 .2 2.6 .1 0 .2-1.2 .1-.7 .2 6.4 .1-5.1 .2-4.1 .2 .1 .1 1.7 .2-2.2 .1 1.1 .2-.6 .1 1.1 .2 2.4 .1-.6 .2-.9 .1 1 .2-4.6 .1 4.8 .2 2.9 .1-5.6 .2 4.4 .2-.5 .1 1.4 .2-.9 .1 2.3 .2 4.1 .1-1.6 .2-4.2 .1 8.5 .2-3.9 .1 1 .2 4 .1 1.1 .2-7.2 .1 4.6 .2-6 .2 .7 .1 1.6 .2-1.8 .1-.7 .2-4.2 .1 .6 .2 1.1 .1-1 .2-2.3 .1 2 .2 2.2 .1-1.2 .2-3.5 .2 1.6 .1-.2 .2 2.2 .1 .8 .2-1.9 .1-.8 .2 1.3 .1-4 .2 5.4 .1-5.8 .2 3.2 .1-.8 .2 2.5 .1 4.1 .2-7.3 .2 .7 .1-3.3 .2 8.1 .1-9 .2 3.9 .1-1.5 .2 8.7 .1-6.3 .2-1 .1-2 .2 1.2 .1 1.3 .2-3.2 .1-.1 .2-1.1 .2-.3 .1 .2 .2 1.3 .1 3 .2 .2 .1-6.1 .2 1.2 .1 2.4 .2 1.8 .1-1.7 .2-1.5 .1-.6 .2 2.6 .1-7.1 .2 3.8 .2 2.5 .1 1.2 .2-2.3 .1-5.2 .2 1.8 .1 1.4 .2-.3 .1 .8 .2 .1 .1-6 .2 3.3 .1-4.4 .2 6.1 .1 .2 .2-3.9 .2 2.5 .1 2.2 .2-1.3 .1-4.1 .2 .2 .1 1.8 .2-4.1 .1 1.4 .2 2.4 .1 2.6 .2-.9 .1-1.9 .2-1.1 .1 1.8 .2-.7 .2 2.5 .1 3 .2-2.1 .1-4.2 .2-1.8 .1-1.1 .2 3.7 .1-.7 .2-3.2 .1 2.1 .2 1.8 .1-2.9 .2-.5 .1 1.2 .2-.4 .2-1.6 .1 4.3 .2-6.7 .1 3.8 .2-.2 .1-2.1 .2-.2 .1-2.7 .2 .4 .1-3 .2 .8 .1-4 .2 1.8 .1 1.1 .2-3 .2-.4 .1-4 .2 3.1 .1-.8 .2 2.5 .1-1.6 .2 2.2 .1-.3 .2 .3 .1 2.1 .2 2.9 .1-3 .2-4.1 .1 5.5 .2-.6 .2 1.4 .1 .6 .2-5.5 .1 4.8 .2-1.5 .1-3.3 .2-1.4 .1 5.3 .2-4.5 .1-.7 .2-1.7 .1-.6 .2 2.6 .1-3.5 .2-.1 .2 .3 .1-1.6 .2 .1 .1-.6 .2-.5 .1-3.1 .2 4.4 .1 2.1 .2 2.3 .1-.5 .2 4.5 .1-2.3 .2 1.4 .2 2.9 .1-5.9 .2-2.7 .1 .9 .2 4.1 .1-5.1 .2 5.3 .1 .9 .2 1.6 .1-1.1 .2-2.4 .1-2 .2 3 .1 .9 .2-3.3 .2 4.2 .1 0 .2 5.7 .1-3.1 .2 .2 .1 2.4 .2-1.8 .1 2.6 .2 1.9 .1-.5 .2-2.9 .1 1.3 .2 3.6 .1-2.2 .2 3.8 .2-.9 .1 2.1 .2 1 .1-1.3 .2 6.6 .1-.7 .2 2 .1 .4 .2 .3 .1-1.1 .2 0 .1-5.3 .2 3.7 .1 1 .2-1.3 .2 .9 .1 1.6 .2 3.1 .1-1 .2-1.9 .1 .5 .2-.8 .1 8 .2-4.9 .1 1.5 .2-3.9 .1 5.4 .2-3.3 .1 4.5 .2-.1 .2-.8 .1-1.7 .2-.2 .1-3.9 .2-1.3 .1 1 .2 2.7 .1-2.9 .2 2.8 .1-5.1 .2 2.8 .1 1.5 .2 1.9 .1 3.9 .2-2.1 .2 .2 .1-4.7 .2 1.1 .1 1.5 .2 .9 .1-4.8 .2 3.4 .1-1.1 .2-1.9 .1 1.9 .2 .6 .1-2.3 .2-1.4 .1 8 .2-6 .2 .4 .1-2.7 .2 1.9 .1-.8 .2-1.9 .1 2.1 .2 0 .1-1.3 .2-.8 .1 .5 .2-3.9 .1-.1 .2 .2 .1-.9 .2 1.8 .2-.4 .1-2.5 .2 .5 .1 2.3 .2 2.3 .1-3.4 .2-1.3 .1-.9 .2-7.3 .1 1.5 .2-.7 .1-1 .2 1.7 .1-.3 .2-4.9 .2 7.7 .1-1.7 .2 1.1 .1 5.3 .2-1.9 .1-.9 .2-4.2 .1 7" class="r"/>
<path d="M558.9 800.7l.2-10.1 .1-38.9 .2 31 .1 22.2 .2 7.1 .1 .3 .2-5 .1-4.4 .2-2.9 .2 .2 .1-37.5 .2-18.1 .1 49.3 .2 26.3 .1-6.6 .2 1.1 .1-11.2 .2-18.6 .1-31.4 .2 31.3 .1 19.2 .2 1.5 .1-.9 .2-16 .2-17.2 .1 4.5 .2 33.8 .1 8.2 .2-4.3 .1-16.9 .2 12.5 .1-6.7 .2-33.4 .1-17 .2 42.5 .1 17.3 .2-5.8 .1 8.3 .2-20.5 .2 2.9 .1-4.2 .2-45.5 .1 32.2 .2 28 .1 19.2 .2-19.5 .1-.9 .2-15.6 .1-29.1 .2 9.6 .1 32.7 .2 9.8 .1-9.9 .2 0 .2 1.8 .1-5.4 .2-23.9 .1-6.2 .2 28.9 .1 9.6 .2-1.2 .1 6.3 .2-7.1 .1-24.4 .2-24.6 .1 32.5 .2 13.5 .1-1.5 .2-4.5 .2-1.7 .1-7.6 .2-17 .1 25.1 .2 4.1 .1 6.9 .2-11.5 .1-5.7 .2 8.1 .1 7.5 .2-19.2 .1-22.5 .2 11.4 .1 28.6 .2-7.9 .2-1.8 .1-5.5 .2 1 .1 1.1" class="rs"/>
<path d="M572.4 790.8l.2-2.3 .1-5.3 .2 5 .1-1.2 .2 2.1 .1-.9 .2-.9 .1 1.1 .2 0 .1 3 .2 2 .2-3.7 .1 1.8 .2-.1 .1 1.4 .2 1.2 .1-2.9 .2 1 .1 .2 .2 3 .1 .1 .2-1.6 .1 3 .2-1.4 .1-6.9 .2 5.3 .2 1.5 .1-.4 .2 .6 .1-1.6 .2 3.3 .1 1.7 .2-3.1 .1 2.5 .2-.5 .1-2.7 .2 6.3 .1-2.7 .2 1.9 .1-4.8 .2 .6 .2 5.3 .1-3.1 .2 5 .1-4.2 .2 2.4 .1 1.5 .2-2.3 .1-2 .2 3.3 .1-1.1 .2-2.2 .1 .6 .2-1.3 .1 1.1 .2 1.5 .2-.4 .1 2.8 .2-4.7 .1-1.6 .2 .3 .1 6.1 .2-3.3 .1-.7 .2 3 .1 3 .2-7.2 .1-1.5 .2 2.8 .2 1.4 .1-1.4 .2 2.8 .1-.8 .2-2.5 .1 1.1 .2-.3 .1-1.5 .2 5.6 .1 5.4 .2-7.9 .1 1.5 .2 0 .1-4 .2 2.9 .2 3.2 .1 .2 .2-4.1 .1-.6 .2 5.5 .1-5.8 .2 2.5 .1-1.5 .2 .2 .1-5 .2 3.7 .1-1 .2 5.6 .1-4.2 .2 .1 .2 1.1 .1 1.5 .2-2 .1 1.4 .2-1.2 .1 .5 .2-.5 .1 6.8 .2-.1 .1-2.3 .2-.3 .1-2.5 .2 1.4 .1-.8 .2-3 .2-.8 .1-1 .2 1.3 .1 1.2 .2 3.8 .1 .2 .2-6.5 .1-.3 .2-2.4 .1 4.8 .2 1.6 .1-1.6 .2 1.7 .1 1.1 .2-5.6 .2-2.9 .1 2.2 .2 3.4 .1-2 .2 2.2 .1 4.3 .2-4.8 .1 .1 .2-1.7 .1 2.7 .2-1.7 .1-.2 .2 3.9 .1-6.3 .2 6.7 .2-.9 .1-2.3 .2 2.2 .1-3 .2-.4 .1-1.1 .2 .5 .1 1.4 .2 1.4 .1 2.2 .2-2.4 .1-.3 .2 2.4 .1-.7 .2 .4 .2-2.4 .1 2.2 .2 .5 .1 .7 .2-6.1 .1 5.5 .2-6.4 .1 1.9 .2 2 .1 2.8 .2 .3 .1 1.1 .2-2.8 .1 .2 .2-.5 .2 4.8 .1-3.7 .2-.7 .1-1.5 .2 3.2 .1-2.1 .2-1.4 .1 2.2 .2 5.3 .1-6.7 .2 4.4 .1-9.4 .2 3.5 .1 3 .2-2 .2 .6 .1 .7 .2-.4 .1-1.2 .2 3.1 .1-3.9 .2 .2 .1 .7 .2-2.1 .1 .9 .2 1 .1-2 .2 3 .1-1.8 .2-1.1 .2-2.3 .1 6.9 .2 3.8 .1-7.9 .2-.4 .1-3.3 .2 3.7 .1 1.5 .2 2.6 .1 3.4 .2-6.5 .1 1 .2-.9 .2 2.8 .1-.2 .2 1.2 .1-.7 .2 4.4 .1-5.7 .2-6.7 .1 4.9 .2 .9 .1-.3 .2 1.2 .1-3 .2 3.4 .1 .3 .2-.3 .2 1.8 .1 0 .2 1.1 .1-3.1 .2 1.2 .1-4.2 .2 3.6 .1 1.4 .2-4.1 .1 4.6 .2-1.6 .1-4.3 .2-2.3 .1 2 .2 1.1 .2 2.2 .1-.9 .2-.7 .1 1.2 .2 .2 .1 2.8 .2 4.2 .1-3.7 .2 2.5 .1-2.8 .2-3.9 .1 3.1 .2-.5 .1 .8 .2-2.1 .2-2.3 .1-3.1 .2 3.7 .1-.9 .2 3.4 .1-.6 .2-2.6 .1 3.2 .2-4.9 .1 4.4 .2-1.1 .1 2.3 .2-2.2 .1-1 .2-.5 .2 4.1 .1-2.6 .2-4.3 .1 8.4 .2-8.7 .1 3.9 .2-2.9 .1 5.2 .2-4.6 .1 7.1 .2-2.9 .1-2.6 .2 4.6 .1 4.8 .2-4.5 .2 .9 .1 2.3 .2-.5 .1 2 .2-7.1 .1-.2 .2 3.5 .1-1.8 .2 2.2 .1-3.5 .2 3 .1-6 .2 2.7 .1-.2 .2-.8 .2 1.4 .1-4.8 .2 4.8 .1-.6 .2-1.6 .1 .7 .2 2.7 .1 4 .2-6.4 .1-.6 .2 1.8 .1-1.7 .2-3.5 .1 8 .2-6.3 .2 2.2 .1-.8 .2 4.3 .1-7.1 .2 6.3 .1-4.1 .2 7.4 .1-7.9 .2-1.5 .1 3.9 .2 1.2 .1-6.1 .2-.6 .1-1.3 .2 2.4 .2-.4 .1 3.1 .2-3.8 .1 4.7 .2-4.5 .1 4.7 .2 2.6 .1-4.8 .2 5.4 .1-5.1 .2 2.7 .1 0 .2-2.1 .2-4 .1 5.1 .2-.4 .1 2 .2-5.8 .1-1.7 .2 1.7 .1-.1 .2 8 .1-3.3 .2-3.2 .1-.2 .2-.8 .1-2.1 .2 2 .2 .1 .1 3 .2-3 .1 1.2 .2-2 .1-4.3 .2 2.3 .1-.5 .2 4.2 .1-2.4 .2-2.9 .1 2.4 .2 2.4 .1-1.5 .2-2.8 .2-2.5 .1 3.1 .2 2.6 .1-11.1 .2 3.5 .1 2.3 .2-5.3 .1 6.2 .2-6.4 .1 3.9 .2-.7 .1 1.8 .2 0 .1-.5 .2-.8 .2 2.9 .1-1.6 .2 2.8 .1-4 .2 4 .1 .8 .2 1.6 .1 .6 .2-.4 .1 .7 .2-2.2 .1 2.1 .2 .3 .1 2.3 .2-.2 .2-1.1 .1-3.1 .2 4.1 .1 .9 .2-6.7 .1 3.6 .2 5.5 .1-7.2 .2 .5 .1-.7 .2 8.1 .1-5.2 .2 3.6 .1 1 .2 .5 .2-6.7 .1 3.9 .2-1.7 .1 1.6 .2-.2 .1-.9 .2 .5 .1-2.6 .2 1.5 .1 5.6 .2-6.2 .1 5.6 .2-1.1 .1-.9 .2 2.2 .2 1.2 .1 .7 .2-3.6 .1-2.9 .2 3.6 .1 3.4 .2-4.8 .1 4.8 .2 3.6 .1 .4 .2-1.6 .1-6.3 .2 3.2 .1 .3 .2 .5 .2 .7 .1-.6 .2-1.8 .1 4 .2-4 .1 5.7 .2-4.1 .1 1 .2 1.3 .1-.8 .2-1.9 .1-6.3 .2 5.3 .1-3 .2-1.9 .2 4.7 .1-3.8 .2 8.2 .1-5.1 .2-2.1 .1-.3 .2-3 .1 3.3 .2-1.6 .1-2.1 .2 2.8 .1 1.6 .2-3.8 .1 .7 .2 1.8 .2-.1 .1 3 .2 3.6 .1-2.2 .2-.1 .1-2.5 .2 5.7 .1-9.9 .2 2.4 .1 2.9 .2-1.6 .1 4.7 .2-8.1 .2 1.3 .1-1.4 .2 3.6 .1-4.6 .2 4.5 .1-1 .2-5.3 .1 2.8 .2 4.5 .1-2.5 .2-2 .1 3.4 .2-2.6 .1 3.7 .2 .7 .2-1.5 .1-3.8 .2 .8 .1-.9 .2 .4 .1-.2 .2-.7 .1 .1 .2 1.1 .1 1.5 .2 2.5 .1-1.7 .2-2 .1-.6 .2 6.4 .2-6.1 .1 4.2 .2-2 .1-.3 .2 3.6 .1-1.3 .2 .9 .1-7.5 .2-.4 .1 4.5 .2-4.4 .1 2.1 .2 1.4 .1 3 .2-3.7 .2 1.1 .1-2.3 .2 5.7 .1-4.5 .2-1.4 .1-1.9 .2 9.3 .1-6.8 .2-1.9 .1 3.1 .2-4.6 .1-1.3 .2 3.5 .1-.1 .2-3.1 .2 3.2 .1-2.8 .2 1.5 .1 3.5 .2 1.4 .1-5.1 .2 1 .1 2.9 .2-1.7 .1-1.1 .2 7.7 .1-.3 .2-3.3 .1-.4 .2 4.3 .2-1.5 .1-1.3 .2-2.7 .1 1.4 .2 2.7 .1-6.7 .2 1 .1-.2 .2 3.8 .1-4.9 .2 3.8 .1 .1 .2-.6 .1 1.5 .2-1.8 .2-1.8 .1 6.1 .2-3 .1 1.8 .2-2.6 .1 3.3 .2 3.2 .1-3.7 .2 2.3 .1 .5 .2-.2 .1 2.5 .2 1.2 .1-8.3 .2 3.1 .2-3.2 .1-2.1 .2 .7 .1 5.3 .2-1.4 .1-.9 .2 2.1 .1-3.4 .2 3.1 .1-1.8 .2-.9 .1-2.8 .2-.2 .1 2.7 .2-.4 .2 5.4 .1-10.2 .2 5.5 .1-2.8 .2 .2 .1-2.5 .2 2.3 .1 4.5 .2 2.6 .1-4.2 .2-.5 .1 .7 .2-2.7 .1 .4 .2-1.7 .2 3.3 .1 .8 .2-5 .1-.9 .2 7.7 .1-5.1 .2 .3 .1-.6 .2 .1 .1 .5 .2 .5 .1-.6 .2 1 .2 .8 .1-7.3 .2 7.4 .1-.4 .2 .8 .1-1.1 .2 .3 .1 2.6 .2-7 .1 6.4 .2-7.9 .1 4.6 .2-2.7 .1 2.5 .2-2.8 .2 3.4 .1-1.7 .2 .8 .1-.3 .2 .4 .1 2 .2-.7 .1 3.5 .2-3.6 .1 1.7 .2-.1 .1 1.8 .2 1.2 .1-4.2 .2-2.1 .2 4.5 .1 1.4 .2-9.7 .1 3.9 .2 1.3 .1-5.2 .2 6.9 .1-2.3 .2 4.4 .1-5.9 .2 .3 .1 3.7 .2 .2 .1-1.9 .2-1.6 .2-1.9 .1 3.8 .2 .8 .1-.7 .2 3.6 .1 1.2 .2-.7 .1-2.8 .2 5.6 .1-1 .2-2.8 .1 5.5 .2-2.3 .1-6.5 .2 4.2 .2-4 .1 .3 .2 1.6 .1 1.2 .2-7.5 .1 3.6 .2-1.6 .1 1.2 .2-2.8 .1 4.6 .2-1.7 .1-2.1 .2 2.3 .1 3.3 .2-.2 .2-2.7 .1 .6 .2-3.8 .1 3.8 .2-3.9 .1-1.7 .2 .4 .1 7.7 .2-9.1 .1 8.7 .2-5.6 .1 4.2 .2-2.9 .1 2.1 .2-4.5 .2 1.6 .1 2.9 .2-1.2 .1-2.1 .2-1.6 .1 1.1 .2 2.9 .1-1 .2-2.6 .1-1.4 .2 .8 .1 .6 .2 3.8 .1-.5 .2 2.7 .2 .4 .1-4.2 .2 4.6 .1-1.9 .2 2 .1-4 .2 1.3 .1 1 .2 3.6 .1 .6 .2-4.7 .1 .8 .2 .6 .1 3.5 .2-1.3 .2-.2 .1-.7 .2-.5 .1 .6 .2-5.5 .1 3.1 .2-2.9 .1-2 .2 4.4 .1 2.3 .2-2.5 .1-1.9 .2 5.8 .2-3 .1-2.3 .2 3 .1-2.3 .2 3.7 .1-1.4 .2 3.1 .1-1.6 .2-2.6 .1 4.8 .2-1.4 .1-2.4 .2-7.2 .1 4.2 .2-1.6 .2 2.5 .1-3.8 .2 1.1 .1 .2 .2-4.8 .1 6.4 .2 1 .1-3.3 .2 2.6 .1-2.3 .2-.3 .1 1.4 .2-2 .1 1 .2-1.6 .2 4 .1 .2 .2-2.7 .1 2.7 .2 3.6 .1-2.7 .2-.6 .1-2.1 .2 2.5 .1-.3 .2-.8 .1 .6 .2 1.4 .1-6 .2 4.5 .2 .9 .1 1.6 .2-4.9 .1 0 .2 .7 .1-.8 .2-1.2 .1-7 .2 1 .1 .1 .2 6.2 .1-4.6 .2-4.3 .1 .4 .2-1.3 .2 1.9 .1-4 .2 3.3 .1 3.9 .2-4.7 .1 2.4 .2 2.8 .1 3.7 .2-.3 .1-.5 .2 .7 .1-3.1 .2 2.8 .1-3 .2-1.5 .2 1.9 .1-2 .2 5.5 .1 .1 .2-2.2 .1 2.1 .2-1.5 .1-6.2 .2 5 .1-3.2 .2 4.2 .1-2.3 .2 3.1 .1 .8 .2-2.3 .2 4 .1-.3 .2 3.9 .1-5.6 .2 3 .1 .2 .2-2.1 .1-1.1 .2-.3 .1-3.3 .2 5.7 .1-1.1 .2-.9 .1-.7 .2 3.9 .2-.2 .1 4.1 .2-3.5 .1 1.6 .2-3.3 .1 2.3 .2-3.7 .1 4.4 .2-2.2 .1-.1 .2 3.4 .1 .1 .2-1.4 .1-5.9 .2 4.2 .2-.9 .1 2.3 .2 .1 .1-2.6 .2 7.2 .1-4.6 .2-2 .1-1.7 .2-4 .1-2.8 .2 3.4 .1-.4 .2-.8 .1-1.7 .2 6.7 .2 1.2 .1-2.1 .2-2 .1 5.7 .2-3.3 .1 4.1 .2-6.2 .1-1.8 .2 6.8 .1-4.6 .2 0 .1 .4 .2-3.3 .2-3.8 .1 3.9 .2 2.2 .1-1.2 .2 1.5 .1 1 .2-5.6 .1-2.3 .2 1.1 .1-.9 .2 .8 .1 .9 .2 4.6 .1 .8 .2-3.6 .2 4.9 .1-4.2 .2 1.8 .1 1.1 .2-4.8 .1 6.1 .2-3.5 .1 2.2 .2-2.5 .1 5.1 .2-.7 .1-.6 .2 1.2 .1-2.5 .2 2.1 .2-4.2 .1 1.2 .2-3.2 .1 8.7 .2-5.1 .1 2.8 .2-.1 .1 1.3 .2-7.3 .1 4.8 .2-2.3 .1 .4 .2 3.5 .1 0 .2-1.1 .2 3.3 .1 .1 .2 .4 .1-4.8 .2 2.3 .1-.7 .2-.8 .1-.2 .2 .3 .1 3.7 .2-1.7 .1-.3 .2 3.4 .1-.9 .2 1.7 .2-1.1 .1 1.2 .2-1.1 .1-1.3 .2-5 .1-3.1 .2 4.8 .1-1.7 .2 .1 .1 1.2 .2 1.6 .1 .2 .2 1 .1-2.6 .2-.4 .2-1.9 .1-2.8 .2 3.4 .1-.2 .2-3.6 .1-.7 .2-.2 .1 2.7 .2 3.2 .1-1.5 .2 1.6 .1 .6 .2 2.1 .1-4.6 .2 5.3 .2-6.8 .1 2.9 .2-5.7 .1 5 .2-2.6 .1-4.7 .2 5.1 .1 3.9 .2-7.1 .1 5.1 .2 2.2 .1-4.5 .2 5.8 .1-.9 .2 .7 .2-.9 .1 3.5 .2-3.3 .1-1.5 .2 1.1 .1-1.1 .2 4.1 .1-1.9 .2 1.6 .1-1.1 .2-.9 .1 2.6 .2 4.1 .1-1.7 .2-5.6 .2 4.4 .1-5 .2 8 .1-2 .2 2.5 .1 4.1 .2-.7 .1-1.7 .2-.5 .1 2.1 .2 .8 .1-1.5 .2 5.8 .1-2 .2-.7 .2 4.5 .1-3.3" class="r"/>
<path d="M45.40 713.74V884.46H735.60V713.74Z" class="ax"/>
<path d="M45.40 884.48h6.8M735.60 884.48h-6.8M45.40 842.44h6.8M735.60 842.44h-6.8M45.40 800.40h6.8M735.60 800.40h-6.8M45.40 758.36h6.8M735.60 758.36h-6.8M45.40 716.32h6.8M735.60 716.32h-6.8M122.09 884.46v-6.8M122.09 713.74v6.8M198.78 884.46v-6.8M198.78 713.74v6.8M275.47 884.46v-6.8M275.47 713.74v6.8M352.16 884.46v-6.8M352.16 713.74v6.8M428.85 884.46v-6.8M428.85 713.74v6.8M505.54 884.46v-6.8M505.54 713.74v6.8M582.23 884.46v-6.8M582.23 713.74v6.8M658.92 884.46v-6.8M658.92 713.74v6.8M735.61 884.46v-6.8M735.61 713.74v6.8" class="tk"/>
<rect x="560.0" y="713.9" width="138.7" height="143.2" class="bx"/>
<rect x="558.4" y="712.2" width="3.3" height="3.3" rx="0.5" class="mk"/>
<rect x="558.4" y="783.9" width="3.3" height="3.3" rx="0.5" class="mk"/>
<rect x="558.4" y="855.5" width="3.3" height="3.3" rx="0.5" class="mk"/>
<rect x="627.7" y="712.2" width="3.3" height="3.3" rx="0.5" class="mk"/>
<rect x="627.7" y="855.5" width="3.3" height="3.3" rx="0.5" class="mk"/>
<rect x="697.1" y="712.2" width="3.3" height="3.3" rx="0.5" class="mk"/>
<rect x="697.1" y="783.9" width="3.3" height="3.3" rx="0.5" class="mk"/>
<rect x="697.1" y="855.5" width="3.3" height="3.3" rx="0.5" class="mk"/>
<text x="41.1" y="720.3" class="yl">20</text>
<text x="41.1" y="762.4" class="yl">10</text>
<text x="41.1" y="804.4" class="yl">0</text>
<text x="41.1" y="846.4" class="yl">10</text>
<rect x="22.80" y="842.76" width="6.4" height="1.55" fill="#333"/>
<text x="41.1" y="888.5" class="yl">20</text>
<rect x="22.80" y="884.80" width="6.4" height="1.55" fill="#333"/>
<text x="122.3" y="900.0" class="xl">0.5</text>
<text x="199.0" y="900.0" class="xl">1</text>
<text x="275.7" y="900.0" class="xl">1.5</text>
<text x="352.4" y="900.0" class="xl">2</text>
<text x="429.0" y="900.0" class="xl">2.5</text>
<text x="505.7" y="900.0" class="xl">3</text>
<text x="582.4" y="900.0" class="xl">3.5</text>
<text x="659.1" y="900.0" class="xl">4</text>
<text x="735.8" y="900.0" class="xl">4.5</text>
<text x="391.2" y="914.0" class="tl" textLength="50.5" lengthAdjust="spacingAndGlyphs">Time (sec)</text>
<text transform="translate(15.6 798.4) rotate(-90)" class="yt">Amplitude (μV)</text>
<path d="M754.2 833.1V853.8" stroke="#555" stroke-width="0.9"/>
<path d="M765.9 833.1V853.8" stroke="#f07070" stroke-width="0.9"/>
<text transform="translate(758.6 831.1) rotate(-90)" class="lg">Contaminated Signal</text>
<text transform="translate(769.9 831.1) rotate(-90)" class="lg">Artifact-Free Signal</text>
<rect x="116.7" y="716.8" width="364.0" height="54.5" fill="#fff"/>
<clipPath id="cE"><rect x="116.7" y="716.8" width="364.0" height="54.5"/></clipPath>
<g clip-path="url(#cE)">
<path d="M113.9 747.6l.5-7.5 .4-16.3 .4 13.5 .4 9.1 .4 .5 .4-.8 .4-.1 .4-.5 .4 2.2 .4-.8 .4-15.5 .4-6.2 .4 17.4 .4 4.2 .4 0 .4-1 .4 .1 .4-5.3 .4-11.9 .4 10.5 .4 4.5 .5 3.5 .4-1.5 .4-3.2 .4-16.3 .4 6.9 .4 12.9 .4-1.9 .4 2.7 .4-1.2 .4 .3 .4-.5 .4-11.9 .4-11.4 .4 15.2 .4 5.9 .4-.6 .4 .6 .4-1.5 .4-.1 .4-4.9 .5-10.3 .4 7.6 .4 6.6 .4-.5 .4 .2 .4-2 .4-.1 .4-13.3 .4 2.9 .4 10.7 .4 1.8 .4-2.9 .4 1 .4 .9 .4-1.3 .4-13.5 .4-1.9 .4 13.9 .4 .5 .4-1.5 .4 2.3 .5-1.9 .4-6.9 .4-11.2 .4 13 .4 2.6 .4 1.4 .4-.5 .4-2.1 .4-5.7 .4-3.2 .4 5.3 .4 2.6 .4 0 .4-1.1 .4-.5 .4 .2 .4 0 .4-2.9 .4-8 .4 6.5 .5 4.4 .4 .8 .4-.8 .4 0 .4 .8 .4-1.5 .4-.4 .4 .8 .4 3.3 .4-1.7 .4 1.4 .4 1.2 .4 .5 .4 .7 .4-1.1 .4 .2 .4 1.3 .4 .1 .4 .1 .4-.5 .4 .1 .5 2 .4-.5 .4 .3 .4 .7 .4-.9 .4 .3 .4 1.7 .4-.2 .4-1 .4 .9 .4 .4 .4 1.2 .4 .7 .4-.3 .4 .7 .4 1.1 .4-.5 .4-.2 .4 2.4 .4-1.2 .5 .2 .4 1.8 .4 .6 .4 .2 .4-.1 .4-.7 .4 1.7 .4 .3 .4-1.1 .4 .8 .4 .2 .4 .5 .4-.7 .4 2.3 .4-2 .4 2 .4-1 .4 0 .4 2.5 .4-1.9 .5 1.5 .4-.6 .4 .5 .4 .8 .4-.9 .4 .2 .4 .5 .4 .4 .4 1 .4-1.9 .4 1.2 .4 1.2 .4 1.2 .4-.5 .4 .1 .4 1.2 .4-1.7 .4 .8 .4 .8 .4 1.4 .4 .8 .5 .6 .4-.1 .4 .7 .4 .8 .4 .2 .4 .1 .4-1.2 .4 .5 .4 .9 .4-.6 .4-1.2 .4 1.2 .4-.2 .4 .5 .4-1.1 .4 .6 .4 1.2 .4 .5 .4-1 .4 .1 .5-.6 .4 .5 .4 .7 .4-.1 .4-1.2 .4 2.4 .4-1.2 .4 1.6 .4-.7 .4 .6 .4 .7 .4-1 .4 1.9 .4-.6 .4-.2 .4 .7 .4-1.5 .4 .3 .4-.4 .4 1.5 .4-1.1 .5 .5 .4 .3 .4 .6 .4-.4 .4-1.2 .4 1.1 .4 .5 .4 .3 .4-1.9 .4 .9 .4 .8 .4 .2 .4 1.3 .4-.5 .4 .2 .4-.2 .4 .7 .4 .4 .4-.7 .4 .3 .5 1.6 .4-1.5 .4-.7 .4 1.7 .4-1.2 .4 1 .4-1.3 .4 1.1 .4 .3 .4-.2 .4-1.6 .4 1.2 .4 .5 .4-1 .4 .8 .4-.8 .4 1.5 .4 .6 .4-.9 .4-.4 .5 .3 .4-.6 .4 2.2 .4-.3 .4 .2 .4-1.4 .4 .6 .4 1 .4 .2 .4-.7 .4 .3 .4-.7 .4 2 .4-1 .4 1.9 .4-.3 .4 .4 .4 0 .4 .3 .4 0 .4-.7 .5 .1 .4-.6 .4 1.2 .4-.3 .4-.4 .4 .6 .4 .1 .4 .3 .4 .3 .4-.2 .4 0 .4-1.1 .4-.1 .4 0 .4 1.1 .4 .5 .4 0 .4 .1 .4-1.9 .4 1 .5 .2 .4-1.3 .4 1.1 .4-.6 .4-.1 .4 1.4 .4-1.5 .4 .6 .4 .4 .4 .8 .4 .6 .4-2.2 .4 .8 .4-.6 .4-.1 .4-.5 .4-.4 .4 .9 .4-.3 .4-1.6 .4 .4 .5 .1 .4-.4 .4 0 .4-.9 .4 1.5 .4-.7 .4-1.6 .4 1 .4-1.8 .4 3.2 .4-2.9 .4 1.7 .4 1.3 .4-2 .4-.6 .4-.1 .4 0 .4 1 .4 .4 .4-.5 .5-.6 .4-.7 .4 .3 .4-.8 .4 .4 .4 .4 .4-1.4 .4 .2 .4 1.6 .4-.7 .4 .5 .4-.1 .4-1.7 .4 1.2 .4 .2 .4-.9 .4-.9 .4 .4 .4 0 .4-1 .5 .8 .4 .4 .4-.4 .4 2.3 .4-1.4 .4 0 .4-1.2 .4 .1 .4 .8 .4-1.6 .4 1.3 .4-2.3 .4 .6 .4 .6 .4 .3 .4-.4 .4-.1 .4 .6 .4-1.2 .4 2.2 .4-.9 .5-.4 .4 1.6 .4-1.6 .4 1.3 .4 .4 .4-1.7 .4-.9 .4-.8 .4 1.3 .4-1.4 .4-.3 .4-.3 .4 .9 .4 .3 .4 1.3 .4-1.4 .4-.5 .4 .2 .4-.1 .4 .8 .5-1.2 .4 0 .4 .6 .4-.8 .4-.4 .4 1 .4-1.2 .4 .2 .4 1.8 .4-.9 .4-.3 .4-.5 .4-1.1 .4 1.9 .4-1.8 .4-1 .4 .3 .4-.6 .4 1.2 .4-1.2 .4 1.3 .5-.6 .4 1.1 .4-1.7 .4 .4 .4-.2 .4 1.9 .4-.4 .4-1.4 .4 1 .4-1.5 .4-.6 .4-.9 .4 .4 .4 .2 .4 .9 .4-.6 .4-.6 .4-1.1 .4-.2 .4-.8 .5 2.5 .4-2.6 .4 .3 .4-.5 .4 1.1 .4-1 .4-1.1 .4 1.6 .4-.6 .4 0 .4-.2 .4 1.3 .4-1.6 .4-.3 .4 .2 .4 .2 .4-.5 .4-2 .4 .3 .4-1 .5 1.3 .4 .4 .4-1.5 .4 1 .4-2.1 .4 .8 .4-.4 .4-.7 .4-1.1 .4-.8 .4 .4 .4 1.3 .4-2.1 .4 1.1 .4-1.3 .4 .6 .4-.6 .4-1.3 .4 1 .4 .6 .4-.3 .5-.3 .4-1.4 .4 1.1 .4-.3 .4-1.6 .4 .9 .4 .1 .4-1.5 .4 .6 .4 .1 .4 .5 .4-.4 .4-.9 .4-1 .4-.4 .4 0 .4 1 .4-.4 .4-1 .4 2.1 .5-.6 .4 .2 .4 .7 .4 .4 .4-1.1 .4 1.8 .4 0 .4-.4 .4-.2 .4 1.1 .4-.9 .4 .4 .4-.1 .4 .2 .4 0 .4 .1 .4-1 .4-.1 .4 .6 .4-1 .4 .8 .5-.3 .4 .6 .4 1.2 .4-1.4 .4 1.9 .4-.9 .4 .5 .4-1 .4 0 .4 .1 .4 1 .4-1.3 .4 .1 .4 1.3 .4 .4 .4-.1 .4-.3 .4 1.7 .4-1.3 .4-.2 .5 1 .4 1.1 .4-2.1 .4 1.2 .4-1 .4-.4 .4 2.7 .4-1.5 .4 .7 .4-.4 .4 1 .4-.4 .4 1.8 .4-1.4 .4-.9 .4 1.8 .4-.6 .4-.5 .4 .2 .4 .6 .5-.5 .4-.2 .4 .8 .4 1.3 .4-1.9 .4-.8 .4 2.5 .4-.9 .4 .2 .4-.1 .4 .7 .4-1.1 .4 1.6 .4 0 .4-.5 .4 .5 .4-2 .4 0 .4-.1 .4 1.1 .4 .2 .5 1.9 .4-.8 .4 2.1 .4-.7 .4-1.2 .4 .7 .4-1.3 .4 .7 .4-2.3 .4 .5 .4 0 .4-.2 .4-.2 .4-.4 .4 .1 .4 .4 .4-1.1 .4-1.4 .4 .2 .4-.2 .5-.7 .4 .9 .4-.2 .4 1 .4-1 .4-1.4 .4 .3 .4-.4 .4-.5 .4 1.6 .4 .1 .4 .2 .4 .2 .4-.9 .4 .6 .4 .9 .4-3.1 .4 .3 .4-.5 .4 .2 .4-.5 .5-.4 .4-.6 .4 1.1 .4-2.1 .4 1.4 .4-.6 .4-1.7 .4 1.6 .4-1 .4 1.7 .4-.2 .4 .5 .4 0 .4 .7 .4-.1 .4-.8 .4 1.3 .4-.5 .4-1.6 .4 .6 .5 .7 .4 .1 .4-.5 .4 .5 .4-.2 .4 .5 .4-.8 .4 2.3 .4 .6 .4-2.1 .4 .4 .4-.4 .4 1.4 .4-2 .4 1.1 .4 0 .4 1 .4-.4 .4 .1 .4-1.1 .4 2.1 .5-.1 .4-1 .4 .5 .4-1.1 .4 1.2 .4-.2 .4 .1 .4 0 .4-.7 .4-.3 .4 0 .4 .7 .4-.6 .4 .1 .4 1.7 .4-1.1 .4-1.9 .4 .4 .4 .6 .4 .7 .5 .7 .4 .2 .4-1.9 .4-.1 .4 .8 .4-.3 .4-.4 .4 .2 .4-.2 .4-.1 .4-.3 .4 1.3 .4-.4 .4-.5 .4 0 .4 1.1 .4-1.4 .4 1.2 .4-3.5 .4 1.7 .5-.3 .4-.1 .4 .9 .4-.8 .4 .2 .4 .1 .4 0 .4-.2 .4-.4 .4 .5 .4 .2 .4-1.9 .4-.3 .4-1.1 .4-1.1 .4 .4 .4 .8 .4-2 .4-1 .4 1.1 .4-.1 .5-.5 .4 1.1 .4-.4 .4 .5 .4-.3 .4-.4 .4 .1 .4 .5 .4-.6 .4 .2 .4 1.3 .4-1.7 .4 .6 .4-1.1 .4 .4 .4 .5 .4-.7 .4 1 .4-1.3 .4 .2 .5-.3 .4-.4 .4 .9 .4-1.6 .4 1.2 .4-.4 .4-.2 .4 1 .4 .3 .4-2.3 .4 2.5 .4-.6 .4 .6 .4-2.4 .4 1.5 .4-1.7 .4 1 .4-.2 .4 1 .4-1.4 .4 1.1 .5 .5 .4-.6 .4 1.6 .4 0 .4-.8 .4 2.1 .4-2 .4-.2 .4-.4 .4-.6 .4-.2 .4 .6 .4-.7 .4-.6 .4 .4 .4 .8 .4 0 .4-.8 .4 .4 .4 .2 .5-.4 .4 .2 .4-.8 .4 .6 .4 .1 .4 .7 .4-.8 .4 2.3 .4-1.3 .4-.5 .4 .7 .4-1.5 .4 1.2 .4 .2 .4 1 .4-1.4 .4 0 .4 0 .4 .3 .4-.3 .5-.6 .4-.7 .4 .4 .4 .2 .4 1.4 .4-1.8 .4 .1 .4 1.6 .4 .7 .4-.6 .4 1 .4-.9 .4 1.2 .4 0 .4-.4 .4 1.7 .4-1.4 .4-.6 .4 1.7 .4-1.7 .4 .9 .5-.6 .4 1.1 .4 .8 .4 0 .4 0 .4-.2 .4 .1 .4-1.1 .4 .5 .4 1.3 .4-.7 .4 1.3 .4-.3 .4-.8 .4-.1 .4 .3 .4-.6 .4 .8 .4 .7 .4-1.3 .5 .5 .4 .6 .4-.2 .4-.5 .4 .2 .4 .7 .4 1.1 .4-1.4 .4 1.1 .4-.9 .4 .3 .4 1.2 .4 0 .4 .2 .4-.4 .4-2.3 .4 .3 .4 2.1 .4-1.2 .4 .7 .4-1 .5 1.1 .4-.1 .4 0 .4-.3 .4 .5 .4 .2 .4 .6 .4 0 .4 1.8 .4-.6 .4 .1 .4-.1 .4-.1 .4 0 .4-.1 .4 .1 .4-.9 .4 2.1 .4-.1 .4-.8 .5 2.6 .4-1.8 .4 1.3 .4-.2 .4-.2 .4 .2 .4-.3 .4-.5 .4 1.3 .4-.1 .4-1.3 .4-.5 .4-.4 .4 1.2 .4 1.1 .4-.5 .4-.4 .4 .4 .4 .4 .4 1.7 .5-2.1 .4 .1 .4 .5 .4 1.5 .4-1.2 .4 1.9 .4-2 .4 1.1 .4 .8 .4-.9 .4 1.3 .4-1.4 .4-.2 .4 1.1 .4-1 .4 1.5 .4-2.9 .4 .8 .4 .9 .4 .2 .4-2.9 .5 .1 .4 2.8 .4-1.7 .4 1.2 .4 .5 .4 .4 .4 .1 .4-.8 .4 .5 .4 1.2 .4-2.1 .4 1.2 .4 1.1 .4-1 .4 0 .4-.6 .4 1.1 .4-.1 .4 .5 .4 0 .5-.8 .4 .4 .4-1.4 .4 .6 .4-1.2 .4 .7 .4 .7 .4-1.2 .4 .8 .4 .9 .4-.4 .4-1.2 .4 1.3 .4-1.6 .4 .1 .4 .8 .4-.3 .4 .5 .4 .9 .4 .1 .4-1.3 .5-.1 .4 2 .4 0 .4-.2 .4-.3 .4 1.2 .4-1.5 .4 .2 .4 .2 .4-.5 .4 2.4 .4-.9 .4-.3 .4 .7 .4 .2 .4 .1 .4 .6 .4-.8 .4 .9 .4 .1 .5 .5 .4-.6 .4 .1 .4-.7 .4 .4 .4-.2 .4-.6 .4 1.2 .4 .6 .4 .8 .4 1.2 .4-.4 .4-.1 .4 .6 .4-.6 .4 1.3 .4-1.4 .4 1.8 .4-1.1 .4-.4 .5 1.3 .4-1.7 .4 .4 .4 .4 .4 .5 .4-.4 .4 1.8 .4-1.4 .4 1.8 .4 .2 .4-.1 .4-1.5 .4-1.2 .4 2.1 .4-.2 .4 .6 .4-2.1 .4 1 .4-1.5 .4 1.8 .4 .5 .5 0 .4-.5 .4 2.1 .4-1.9 .4 .4 .4 .7 .4 .3 .4-1.4 .4-.3 .4 1.2 .4-.6 .4-1.3 .4 1.4 .4-.2 .4 1.1 .4-.4 .4 .4 .4-.8 .4 .8 .4 .6 .5-.4 .4 .8 .4-.6 .4 1 .4 .6 .4-.6 .4 .1 .4 .2 .4-.4 .4-.7 .4 .3 .4 1.6 .4-1.1 .4 0 .4-.2 .4 1.2 .4-1 .4 .5 .4 1.3 .4-1.1 .4 .3 .5 1 .4-2.6 .4 1.7 .4-.2 .4-.4 .4-1.8 .4 .9 .4-.3 .4-1.2 .4 .6 .4-.5 .4-1 .4 2 .4 2.1 .4-1.8 .4 .7 .4-1.6 .4-.7 .4 2.1 .4 0 .5-1.3 .4-.6 .4 1.2 .4-2.8 .4 .1 .4-.3 .4-.9 .4 1 .4-.9 .4 .1 .4 0 .4 .8 .4-.3 .4-.7 .4-1.4 .4 1.3 .4 .6 .4 1.1 .4-1.1 .4 .2 .4-2.5 .5 2 .4-.2 .4-.1 .4-1.9 .4 .2 .4 1.8 .4-.3 .4 1.3 .4 .2 .4-1.7 .4-2 .4 .9 .4 1.5 .4-.2 .4 .1 .4-.9 .4 1.9 .4 .5 .4-2 .4 1.2 .5-.5 .4 1.4 .4-.7 .4 1.8 .4-.8 .4-.6 .4 .7 .4 1.2 .4-.7 .4 .5 .4 .9 .4-.8 .4-.3 .4 .3 .4 1.8 .4-1.2 .4 .5 .4 .9 .4 1.4 .4-2.3 .5 1 .4 .8 .4 2.6 .4-.7 .4-2.2 .4 .3 .4 .3 .4 .7 .4-.2" class="ki"/>
<path d="M113.9 750.2l.5-3.9 .4-15.2 .4 12.1 .4 8.7 .4 2.7 .4 .1 .4-1.9 .4-1.7 .4-1.2 .4 .1 .4-14.6 .4-7.1 .4 19.3 .4 10.2 .4-2.6 .4 .5 .4-4.4 .4-7.2 .4-12.3 .4 12.2 .4 7.5 .5 .6 .4-.3 .4-6.3 .4-6.7 .4 1.7 .4 13.2 .4 3.2 .4-1.6 .4-6.6 .4 4.8 .4-2.6 .4-13 .4-6.6 .4 16.5 .4 6.8 .4-2.3 .4 3.2 .4-8 .4 1.2 .4-1.6 .5-17.8 .4 12.6 .4 10.9 .4 7.5 .4-7.6 .4-.4 .4-6.1 .4-11.3 .4 3.7 .4 12.8 .4 3.8 .4-3.9 .4 0 .4 .7 .4-2.1 .4-9.3 .4-2.4 .4 11.3 .4 3.7 .4-.4 .4 2.4 .5-2.8 .4-9.5 .4-9.6 .4 12.7 .4 5.3 .4-.6 .4-1.8 .4-.6 .4-3 .4-6.6 .4 9.7 .4 1.7 .4 2.7 .4-4.5 .4-2.2 .4 3.1 .4 2.9 .4-7.4 .4-8.8 .4 4.4 .5 11.1 .4-3 .4-.7 .4-2.2 .4 .4 .4 .4 .4-.8 .4-2.1 .4 1.9 .4-.4 .4 .8 .4-.4 .4-.3 .4 .4 .4 0 .4 1.2 .4 .8 .4-1.5 .4 .7 .4 0 .4 .5 .5 .5 .4-1.1 .4 .4 .4 0 .4 1.2 .4 0 .4-.6 .4 1.2 .4-.6 .4-2.6 .4 2 .4 .6 .4-.1 .4 .2 .4-.6 .4 1.3 .4 .6 .4-1.2 .4 1 .4-.2 .5-1.1 .4 2.5 .4-1.1 .4 .8 .4-1.9 .4 .2 .4 2.1 .4-1.2 .4 1.9 .4-1.6 .4 .9 .4 .6 .4-.9 .4-.8 .4 1.3 .4-.4 .4-.8 .4 .2 .4-.5 .4 .4 .5 .6 .4-.2 .4 1.1 .4-1.8 .4-.6 .4 .1 .4 2.4 .4-1.3 .4-.3 .4 1.2 .4 1.2 .4-2.9 .4-.5 .4 1.1 .4 .5 .4-.5 .4 1.1 .4-.4 .4-1 .4 .5 .4-.1 .5-.6 .4 2.1 .4 2.2 .4-3.1 .4 .6 .4 0 .4-1.6 .4 1.2 .4 1.2 .4 .1 .4-1.6 .4-.3 .4 2.2 .4-2.3 .4 1 .4-.6 .4 .1 .4-2 .4 1.5 .4-.4 .5 2.2 .4-1.7 .4 .1 .4 .4 .4 .6 .4-.8 .4 .6 .4-.5 .4 .2 .4-.2 .4 2.6 .4 0 .4-.9 .4-.1 .4-1 .4 .6 .4-.3 .4-1.2 .4-.3 .4-.4 .4 .5 .5 .4 .4 1.5 .4 .1 .4-2.5 .4-.1 .4-1 .4 1.9 .4 .6 .4-.6 .4 .6 .4 .5 .4-2.2 .4-1.1 .4 .8 .4 1.4 .4-.8 .4 .8 .4 1.7 .4-1.9 .4 .1 .5-.7 .4 1.1 .4-.7 .4-.1 .4 1.6 .4-2.5 .4 2.6 .4-.3 .4-.9 .4 .8 .4-1.2 .4-.1 .4-.4 .4 .2 .4 .5 .4 .5 .4 .9 .4-.9 .4-.2 .4 1 .5-.3 .4 .2 .4-1 .4 .9 .4 .2 .4 .2 .4-2.3 .4 2.1 .4-2.5 .4 .8 .4 .7 .4 1.1 .4 .2 .4 .4 .4-1.1 .4 .1 .4-.2 .4 1.9 .4-1.5 .4-.3 .4-.6 .5 1.3 .4-.8 .4-.6 .4 .9 .4 2 .4-2.6 .4 1.8 .4-3.7 .4 1.4 .4 1.1 .4-.8 .4 .3 .4 .3 .4-.2 .4-.5 .4 1.2 .4-1.5 .4 .1 .4 .3 .4-.9 .5 .4 .4 .4 .4-.8 .4 1.2 .4-.7 .4-.5 .4-.8 .4 2.7 .4 1.4 .4-3.1 .4-.1 .4-1.3 .4 1.4 .4 .6 .4 1.1 .4 1.3 .4-2.6 .4 .4 .4-.3 .4 1.1 .4-.1 .5 .5 .4-.3 .4 1.7 .4-2.2 .4-2.6 .4 1.9 .4 .3 .4-.1 .4 .5 .4-1.2 .4 1.3 .4 .2 .4-.2 .4 .7 .4 0 .4 .5 .4-1.2 .4 .4 .4-1.6 .4 1.4 .5 .6 .4-1.7 .4 1.8 .4-.6 .4-1.7 .4-.9 .4 .8 .4 .4 .4 .9 .4-.3 .4-.3 .4 .4 .4 .1 .4 1.1 .4 1.6 .4-1.4 .4 1 .4-1.1 .4-1.5 .4 1.2 .5-.2 .4 .3 .4-.8 .4-.9 .4-1.2 .4 1.4 .4-.3 .4 1.3 .4-.2 .4-1 .4 1.2 .4-1.9 .4 1.7 .4-.4 .4 .9 .4-.9 .4-.4 .4-.2 .4 1.6 .4-1 .4-1.7 .5 3.3 .4-3.4 .4 1.5 .4-1.1 .4 2 .4-1.8 .4 2.8 .4-1.1 .4-1 .4 1.8 .4 1.8 .4-1.7 .4 .3 .4 .9 .4-.2 .4 .8 .4-2.8 .4 0 .4 1.3 .4-.7 .5 .9 .4-1.4 .4 1.2 .4-2.3 .4 1 .4-.1 .4-.3 .4 .5 .4-1.8 .4 1.8 .4-.2 .4-.6 .4 .3 .4 1 .4 1.6 .4-2.5 .4-.2 .4 .7 .4-.7 .4-1.4 .4 3.1 .5-2.4 .4 .8 .4-.3 .4 1.7 .4-2.8 .4 2.5 .4-1.6 .4 2.9 .4-3.1 .4-.6 .4 1.6 .4 .4 .4-2.4 .4-.2 .4-.5 .4 .9 .4-.1 .4 1.2 .4-1.5 .4 1.8 .5-1.7 .4 1.8 .4 1 .4-1.8 .4 2 .4-1.9 .4 1 .4 0 .4-.8 .4-1.6 .4 2 .4-.1 .4 .7 .4-2.2 .4-.7 .4 .7 .4-.1 .4 3.2 .4-1.3 .4-1.3 .5 0 .4-.4 .4-.8 .4 .8 .4 0 .4 1.2 .4-1.2 .4 .5 .4-.8 .4-1.7 .4 .9 .4-.1 .4 1.6 .4-1 .4-1.1 .4 1 .4 .9 .4-.6 .4-1.1 .4-.9 .4 1.2 .5 1 .4-4.3 .4 1.3 .4 .9 .4-2.1 .4 2.4 .4-2.4 .4 1.5 .4-.3 .4 .7 .4 0 .4-.2 .4-.3 .4 1.1 .4-.6 .4 1.1 .4-1.5 .4 1.5 .4 .3 .4 .6 .5 .3 .4-.2 .4 .3 .4-.9 .4 .9 .4 .1 .4 .9 .4-.1 .4-.4 .4-1.2 .4 1.6 .4 .3 .4-2.6 .4 1.4 .4 2.1 .4-2.8 .4 .2 .4-.3 .4 3.2 .4-2 .4 1.4 .5 .4 .4 .2 .4-2.6 .4 1.5 .4-.7 .4 .6 .4 0 .4-.4 .4 .2 .4-1 .4 .6 .4 2.2 .4-2.5 .4 2.2 .4-.4 .4-.4 .4 .9 .4 .5 .4 .3 .4-1.4 .5-1.2 .4 1.4 .4 1.4 .4-1.9 .4 1.8 .4 1.4 .4 .2 .4-.6 .4-2.5 .4 1.3 .4 .1 .4 .2 .4 .3 .4-.3 .4-.7 .4 1.6 .4-1.6 .4 2.2 .4-1.6 .4 .4 .5 .5 .4-.3 .4-.7 .4-2.5 .4 2.1 .4-1.2 .4-.7 .4 1.8 .4-1.5 .4 3.2 .4-2 .4-.8 .4-.1 .4-1.2 .4 1.3 .4-.6 .4-.8 .4 1.1 .4 .6 .4-1.5 .4 .3 .5 .7 .4 0 .4 1.1 .4 1.4 .4-.8 .4-.1 .4-1 .4 2.3 .4-3.9 .4 1 .4 1.1 .4-.7 .4 1.9 .4-3.2 .4 .5 .4-.5 .4 1.4 .4-1.8 .4 1.8 .4-.4 .5-2.1 .4 1.1 .4 1.8 .4-1 .4-.8 .4 1.3 .4-1 .4 1.4 .4 .3 .4-.6 .4-1.4 .4 .2 .4-.3 .4 .2 .4-.1 .4-.3 .4 .1 .4 .4 .4 .6 .4 .9 .4-.6 .5-.8 .4-.2 .4 2.5 .4-2.4 .4 1.6 .4-.8 .4-.1 .4 1.4 .4-.5 .4 .4 .4-2.9 .4-.2 .4 1.8 .4-1.8 .4 .9 .4 .5 .4 1.2 .4-1.5 .4 .5 .4-1 .5 2.3 .4-1.8 .4-.5 .4-.8 .4 3.6 .4-2.6 .4-.7 .4 1.2 .4-1.8 .4-.5 .4 1.3 .4 0 .4-1.2 .4 1.3 .4-1.1 .4 .6 .4 1.3 .4 .5 .4-2 .4 .5 .4 1.1 .5-.7 .4-.4 .4 3 .4-.1 .4-1.3 .4-.2 .4 1.7 .4-.6 .4-.5 .4-1 .4 .5 .4 1.1 .4-2.6 .4 .3 .4 0 .4 1.5 .4-2 .4 1.5 .4 0 .4-.2 .5 .6 .4-.7 .4-.7 .4 2.4 .4-1.2 .4 .7 .4-1 .4 1.3 .4 1.2 .4-1.4 .4 .9 .4 .2 .4-.1 .4 1 .4 .5 .4-3.3 .4 1.2 .4-1.2 .4-.8 .4 .2 .5 2.1 .4-.5 .4-.4 .4 .8 .4-1.3 .4 1.2 .4-.7 .4-.3 .4-1.2 .4 0 .4 1 .4-.1 .4 2.1 .4-4 .4 2.1 .4-1.1 .4 .1 .4-1 .4 1 .4 1.7 .4 1 .5-1.6 .4-.2 .4 .3 .4-1.1 .4 .2 .4-.7 .4 1.3 .4 .3 .4-1.9 .4-.4 .4 3 .4-2 .4 .1 .4-.2 .4 0 .4 .2 .4 .2 .4-.2 .4 .4 .4 .3 .5-2.9 .4 2.9 .4-.1 .4 .3 .4-.4 .4 .1 .4 1 .4-2.7 .4 2.4 .4-3 .4 1.8 .4-1.1 .4 1 .4-1.1 .4 1.3 .4-.6 .4 .3 .4-.2 .4 .2 .4 .8 .4-.3 .5 1.4 .4-1.4 .4 .6 .4 0 .4 .7 .4 .5 .4-1.7 .4-.8 .4 1.8 .4 .5 .4-3.8 .4 1.6 .4 .5 .4-2 .4 2.6 .4-.9 .4 1.7 .4-2.3 .4 .2 .4 1.4 .5 .1 .4-.7 .4-.7 .4-.7 .4 1.5 .4 .3 .4-.3 .4 1.4 .4 .5 .4-.3 .4-1.1 .4 2.2 .4-.4 .4-1.1 .4 2.1 .4-.8 .4-2.6 .4 1.7 .4-1.6 .4 .1 .5 .6 .4 .5 .4-2.9 .4 1.4 .4-.6 .4 .4 .4-1.1 .4 1.9 .4-.7 .4-.8 .4 .9 .4 1.2 .4-.1 .4-1 .4 .2 .4-1.4 .4 1.4 .4-1.5 .4-.6 .4 .1 .4 3 .5-3.5 .4 3.4 .4-2.2 .4 1.6 .4-1.1 .4 .8 .4-1.8 .4 .7 .4 1.1 .4-.5 .4-.8 .4-.6 .4 .4 .4 1.1 .4-.4 .4-1 .4-.5 .4 .3 .4 .2 .4 1.5 .5-.2 .4 1.1 .4 .1 .4-1.6 .4 1.8 .4-.8 .4 .8 .4-1.5 .4 .5 .4 .4 .4 1.4 .4 .2 .4-1.8 .4 .3 .4 .2 .4 1.4 .4-.5 .4-.1 .4-.3 .4-.1 .4 .2 .5-2.2 .4 1.2 .4-1.1 .4-.8 .4 1.7 .4 .9 .4-.9 .4-.8 .4 2.3 .4-1.2 .4-.9 .4 1.2 .4-.9 .4 1.4 .4-.5 .4 1.2 .4-.6 .4-1 .4 1.8 .4-.5 .5-1 .4-2.7 .4 1.6 .4-.7 .4 1 .4-1.4 .4 .4 .4 .1 .4-1.9 .4 2.5 .4 .4 .4-1.3 .4 1 .4-.9 .4-.1 .4 .5 .4-.8 .4 .4 .4-.6 .4 1.6 .5 0 .4-1 .4 1.1 .4 1.4 .4-1.1 .4-.2 .4-.9 .4 1 .4-.1 .4-.3 .4 .2 .4 .6 .4-2.4 .4 1.8 .4 .3 .4 .7 .4-1.9 .4-.1 .4 .3 .4-.3 .4-.4 .5-2.8 .4 .4 .4 0 .4 2.5 .4-1.8 .4-1.7 .4 .1 .4-.5 .4 .8 .4-1.6 .4 1.3 .4 1.5 .4-1.8 .4 .9 .4 1.1 .4 1.5 .4-.1 .4-.2 .4 .2 .4-1.2 .5 1.1 .4-1.1 .4-.7 .4 .8 .4-.8 .4 2.2 .4 0 .4-.8 .4 .8 .4-.6 .4-2.4 .4 1.9 .4-1.2 .4 1.6 .4-.9 .4 1.2 .4 .3 .4-.9 .4 1.6 .4-.1 .4 1.5 .5-2.2 .4 1.2 .4 .1 .4-.9 .4-.4 .4-.1 .4-1.3 .4 2.2 .4-.4 .4-.4 .4-.2 .4 1.5 .4-.1 .4 1.6 .4-1.3 .4 .6 .4-1.3 .4 .9 .4-1.4 .4 1.7 .5-.9 .4 0 .4 1.3 .4 0 .4-.5 .4-2.3 .4 1.6 .4-.3 .4 .9 .4 0 .4-1 .4 2.8 .4-1.8 .4-.8 .4-.7 .4-1.5 .4-1.1 .4 1.3 .4-.1 .4-.3 .5-.7 .4 2.6 .4 .5 .4-.8 .4-.8 .4 2.2 .4-1.3 .4 1.6 .4-2.4 .4-.7 .4 2.7 .4-1.8 .4 0 .4 .1 .4-1.3 .4-1.4 .4 1.5 .4 .8 .4-.4 .4 .5 .4 .4 .5-2.2 .4-.8 .4 .4 .4-.4 .4 .3 .4 .4 .4 1.8 .4 .3 .4-1.4 .4 1.9 .4-1.6 .4 .7 .4 .4 .4-1.9 .4 2.4 .4-1.4 .4 .9 .4-1 .4 2 .4-.3 .5-.2 .4 .5 .4-1 .4 .8 .4-1.6 .4 .4 .4-1.2 .4 3.4 .4-2 .4 1.1 .4-.1 .4 .5 .4-2.8 .4 1.9 .4-.9 .4 .2 .4 1.3 .4 0 .4-.4 .4 1.3 .4 0 .5 .2 .4-1.9 .4 .9 .4-.3 .4-.3 .4-.1 .4 .1 .4 1.5 .4-.7 .4-.1 .4 1.3 .4-.3 .4 .7 .4-.5 .4 .5 .4-.5 .4-.4 .4-2 .4-1.2 .4 1.9 .5-.7 .4 0 .4 .5 .4 .6 .4 .1 .4 .4 .4-1 .4-.2 .4-.7 .4-1.1 .4 1.3 .4-.1 .4-1.4 .4-.2 .4-.1 .4 1 .4 1.3 .4-.6 .4 .6 .4 .2 .4 .9 .5-1.8 .4 2 .4-2.6 .4 1.1 .4-2.2 .4 2 .4-1.1 .4-1.8 .4 2 .4 1.5 .4-2.7 .4 1.9 .4 .9 .4-1.8 .4 2.3 .4-.3 .4 .2 .4-.3 .4 1.3 .4-1.3 .5-.5 .4 .4 .4-.4 .4 1.6 .4-.8 .4 .7 .4-.5 .4-.3 .4 1 .4 1.6 .4-.7 .4-2.2 .4 1.8 .4-2 .4 3.1 .4-.8 .4 1 .4 1.6 .4-.3 .4-.6 .5-.2 .4 .8 .4 .3 .4-.6 .4 2.3 .4-.8 .4-.3 .4 1.8 .4-1.3" class="ri"/>
</g>
<rect x="116.7" y="716.8" width="364.0" height="54.5" class="iax"/>
<text x="116.3" y="719.4" class="il">20</text>
<text x="116.3" y="735.8" class="il">10</text>
<text x="116.3" y="752.2" class="il">0</text>
<text x="116.3" y="768.6" class="il">-10</text>
<text x="135.0" y="780.2" class="ixl">3.4</text>
<text x="175.5" y="780.2" class="ixl">3.5</text>
<text x="216.0" y="780.2" class="ixl">3.6</text>
<text x="256.5" y="780.2" class="ixl">3.7</text>
<text x="297.0" y="780.2" class="ixl">3.8</text>
<text x="337.5" y="780.2" class="ixl">3.9</text>
<text x="377.9" y="780.2" class="ixl">4</text>
<text x="418.4" y="780.2" class="ixl">4.1</text>
<text x="458.9" y="780.2" class="ixl">4.2</text>
<path d="M116.70 717.30h3.5M480.70 717.30h-3.5M116.70 733.70h3.5M480.70 733.70h-3.5M116.70 750.10h3.5M480.70 750.10h-3.5M116.70 766.50h3.5M480.70 766.50h-3.5M135.00 771.30v-3.5M135.00 716.80v3.5M175.49 771.30v-3.5M175.49 716.80v3.5M215.98 771.30v-3.5M215.98 716.80v3.5M256.47 771.30v-3.5M256.47 716.80v3.5M296.96 771.30v-3.5M296.96 716.80v3.5M337.45 771.30v-3.5M337.45 716.80v3.5M377.94 771.30v-3.5M377.94 716.80v3.5M418.43 771.30v-3.5M418.43 716.80v3.5M458.92 771.30v-3.5M458.92 716.80v3.5" class="itk"/>
<path d="M560.0 713.9L483.7 716.8M560.0 857.1L482.7 773.3" class="dt"/>
<path d="M481.3 716.4l4.6 -2.4v4.8z" fill="#000"/>
<path d="M0 0l4.6 -2.4v4.8z" fill="#000" transform="translate(481.2 771.8) rotate(47.3)"/>
</g></g><text x="317.4" y="232.9" class="cp" textLength="142.3" lengthAdjust="spacingAndGlyphs">(<tspan font-weight="bold">B</tspan>) Adaptive filtering</text>
<text x="309.7" y="468.0" class="cp" textLength="156.9" lengthAdjust="spacingAndGlyphs">(<tspan font-weight="bold">C</tspan>) FIR Wiener filtering</text>
<text x="287.1" y="700.1" class="cp" textLength="201.6" lengthAdjust="spacingAndGlyphs">(<tspan font-weight="bold">D</tspan>) Gaussian model matching</text>
<text x="322.4" y="936.6" class="cp" textLength="131.5" lengthAdjust="spacingAndGlyphs">(<tspan font-weight="bold">E</tspan>) Moving average</text></svg></body></html>
